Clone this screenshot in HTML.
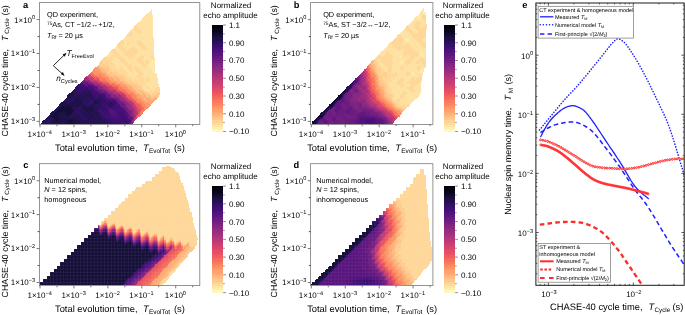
<!DOCTYPE html>
<html lang="en"><head><meta charset="utf-8"><title>Figure</title>
<style>html,body{margin:0;padding:0;background:#fff}svg{display:block;will-change:transform}svg,text,tspan{font-family:"Liberation Sans",Arial,Helvetica,sans-serif;text-rendering:geometricPrecision}</style></head>
<body>
<svg width="685" height="315" viewBox="0 0 685 315" >
<rect width="685" height="315" fill="#fff"/>
<g shape-rendering="crispEdges"><path fill="#fdebac" d="M146.31 54.66H147.50V55.84H146.31zM145.18 55.79H146.36V56.97H145.18zM151.97 60.32H154.28V61.50H151.97zM150.84 61.45H155.41V62.63H150.84zM115.78 62.58H116.96V63.76H115.78zM149.71 62.58H155.41V63.76H149.71zM116.91 63.71H118.09V64.89H116.91zM148.58 63.71H154.28V64.89H148.58zM147.44 64.84H153.15V66.02H147.44zM148.58 65.97H154.28V67.15H148.58zM149.71 67.10H155.41V68.28H149.71zM150.84 68.23H155.41V69.41H150.84zM151.97 69.36H155.41V70.55H151.97zM153.10 70.50H155.41V71.68H153.10zM154.23 71.63H155.41V72.81H154.23zM155.36 72.76H156.54V73.94H155.36z"/><path fill="#fde2a3" d="M150.84 9.42H152.02V10.60H150.84zM149.71 10.55H152.02V11.73H149.71zM148.58 11.68H152.02V12.86H148.58zM147.44 12.81H152.02V14.00H147.44zM146.31 13.95H152.02V15.13H146.31zM145.18 15.08H153.15V16.26H145.18zM144.05 16.21H153.15V17.39H144.05zM142.92 17.34H153.15V18.52H142.92zM141.79 18.47H153.15V19.65H141.79zM140.66 19.60H153.15V20.78H140.66zM139.53 20.73H153.15V21.91H139.53zM138.40 21.86H153.15V23.04H138.40zM137.27 22.99H153.15V24.17H137.27zM136.13 24.12H153.15V25.31H136.13zM136.13 25.26H153.15V26.44H136.13zM137.27 26.39H153.15V27.57H137.27zM138.40 27.52H153.15V28.70H138.40zM132.74 28.65H133.92V29.83H132.74zM139.53 28.65H153.15V29.83H139.53zM131.61 29.78H135.05V30.96H131.61zM140.66 29.78H153.15V30.96H140.66zM130.48 30.91H136.19V32.09H130.48zM141.79 30.91H153.15V32.09H141.79zM131.61 32.04H137.32V33.22H131.61zM140.66 32.04H153.15V33.22H140.66zM132.74 33.17H138.45V34.35H132.74zM139.53 33.17H153.15V34.35H139.53zM132.74 34.30H153.15V35.48H132.74zM127.09 35.43H129.40V36.61H127.09zM131.61 35.43H153.15V36.61H131.61zM125.96 36.56H153.15V37.75H125.96zM123.69 37.70H154.28V38.88H123.69zM122.56 38.83H154.28V40.01H122.56zM122.56 39.96H138.45V41.14H122.56zM139.53 39.96H154.28V41.14H139.53zM123.69 41.09H137.32V42.27H123.69zM140.66 41.09H154.28V42.27H140.66zM124.83 42.22H128.27V43.40H124.83zM130.48 42.22H136.19V43.40H130.48zM141.79 42.22H154.28V43.40H141.79zM123.69 43.35H127.14V44.53H123.69zM129.35 43.35H137.32V44.53H129.35zM142.92 43.35H154.28V44.53H142.92zM122.56 44.48H127.14V45.66H122.56zM128.22 44.48H138.45V45.66H128.22zM144.05 44.48H154.28V45.66H144.05zM115.78 45.61H116.96V46.79H115.78zM122.56 45.61H132.79V46.79H122.56zM133.87 45.61H139.58V46.79H133.87zM145.18 45.61H154.28V46.79H145.18zM114.65 46.74H118.09V47.92H114.65zM123.69 46.74H131.66V47.92H123.69zM135.00 46.74H140.71V47.92H135.00zM146.31 46.74H154.28V47.92H146.31zM113.52 47.88H119.22V49.06H113.52zM124.83 47.88H130.53V49.06H124.83zM136.13 47.88H141.84V49.06H136.13zM147.44 47.88H154.28V49.06H147.44zM114.65 49.01H120.35V50.19H114.65zM125.96 49.01H129.40V50.19H125.96zM137.27 49.01H142.97V50.19H137.27zM146.31 49.01H154.28V50.19H146.31zM115.78 50.14H121.48V51.32H115.78zM127.09 50.14H128.27V51.32H127.09zM138.40 50.14H144.10V51.32H138.40zM145.18 50.14H154.28V51.32H145.18zM110.12 51.27H111.30V52.45H110.12zM116.91 51.27H122.61V52.45H116.91zM138.40 51.27H154.28V52.45H138.40zM108.99 52.40H112.43V53.58H108.99zM118.04 52.40H123.74V53.58H118.04zM137.27 52.40H154.28V53.58H137.27zM107.86 53.53H113.56V54.71H107.86zM119.17 53.53H124.88V54.71H119.17zM136.13 53.53H154.28V54.71H136.13zM106.73 54.66H112.43V55.84H106.73zM120.30 54.66H126.01V55.84H120.30zM135.00 54.66H140.71V55.84H135.00zM142.92 54.66H146.36V55.84H142.92zM147.44 54.66H152.02V55.84H147.44zM106.73 55.79H111.30V56.97H106.73zM114.65 55.79H115.83V56.97H114.65zM121.43 55.79H127.14V56.97H121.43zM133.87 55.79H139.58V56.97H133.87zM144.05 55.79H145.23V56.97H144.05zM146.31 55.79H150.89V56.97H146.31zM107.86 56.92H110.17V58.10H107.86zM113.52 56.92H116.96V58.10H113.52zM122.56 56.92H128.27V58.10H122.56zM132.74 56.92H138.45V58.10H132.74zM144.05 56.92H150.89V58.10H144.05zM112.38 58.05H118.09V59.23H112.38zM123.69 58.05H129.40V59.23H123.69zM131.61 58.05H137.32V59.23H131.61zM142.92 58.05H152.02V59.23H142.92zM154.23 58.05H155.41V59.23H154.23zM113.52 59.19H119.22V60.37H113.52zM124.83 59.19H136.19V60.37H124.83zM141.79 59.19H155.41V60.37H141.79zM112.38 60.32H120.35V61.50H112.38zM125.96 60.32H137.32V61.50H125.96zM142.92 60.32H146.36V61.50H142.92zM148.58 60.32H152.02V61.50H148.58zM154.23 60.32H155.41V61.50H154.23zM112.38 61.45H121.48V62.63H112.38zM127.09 61.45H138.45V62.63H127.09zM144.05 61.45H145.23V62.63H144.05zM148.58 61.45H150.89V62.63H148.58zM113.52 62.58H115.83V63.76H113.52zM116.91 62.58H122.61V63.76H116.91zM128.22 62.58H131.66V63.76H128.22zM132.74 62.58H139.58V63.76H132.74zM147.44 62.58H149.76V63.76H147.44zM114.65 63.71H116.96V64.89H114.65zM118.04 63.71H123.74V64.89H118.04zM129.35 63.71H130.53V64.89H129.35zM131.61 63.71H140.71V64.89H131.61zM146.31 63.71H148.63V64.89H146.31zM154.23 63.71H155.41V64.89H154.23zM113.52 64.84H119.22V66.02H113.52zM120.30 64.84H124.88V66.02H120.30zM130.48 64.84H141.84V66.02H130.48zM153.10 64.84H155.41V66.02H153.10zM114.65 65.97H120.35V67.15H114.65zM121.43 65.97H126.01V67.15H121.43zM131.61 65.97H135.05V67.15H131.61zM137.27 65.97H142.97V67.15H137.27zM146.31 65.97H148.63V67.15H146.31zM154.23 65.97H155.41V67.15H154.23zM115.78 67.10H121.48V68.28H115.78zM122.56 67.10H127.14V68.28H122.56zM132.74 67.10H133.92V68.28H132.74zM138.40 67.10H144.10V68.28H138.40zM145.18 67.10H149.76V68.28H145.18zM116.91 68.23H121.48V69.41H116.91zM122.56 68.23H128.27V69.41H122.56zM132.74 68.23H133.92V69.41H132.74zM139.53 68.23H150.89V69.41H139.53zM118.04 69.36H119.22V70.55H118.04zM123.69 69.36H129.40V70.55H123.69zM132.74 69.36H135.05V70.55H132.74zM140.66 69.36H152.02V70.55H140.66zM125.96 70.50H130.53V71.68H125.96zM131.61 70.50H136.19V71.68H131.61zM141.79 70.50H153.15V71.68H141.79zM127.09 71.63H131.66V72.81H127.09zM132.74 71.63H137.32V72.81H132.74zM142.92 71.63H154.28V72.81H142.92zM128.22 72.76H132.79V73.94H128.22zM133.87 72.76H138.45V73.94H133.87zM144.05 72.76H155.41V73.94H144.05zM127.09 73.89H138.45V75.07H127.09zM144.05 73.89H156.54V75.07H144.05zM125.96 75.02H137.32V76.20H125.96zM142.92 75.02H156.54V76.20H142.92zM129.35 76.15H136.19V77.33H129.35zM141.79 76.15H156.54V77.33H141.79zM131.61 77.28H135.05V78.46H131.61zM136.13 77.28H137.32V78.46H136.13zM142.92 77.28H146.36V78.46H142.92zM148.58 77.28H156.54V78.46H148.58zM132.74 78.41H133.92V79.59H132.74zM137.27 78.41H138.45V79.59H137.27zM144.05 78.41H145.23V79.59H144.05zM149.71 78.41H157.67V79.59H149.71zM144.05 79.54H145.23V80.72H144.05zM149.71 79.54H157.67V80.72H149.71zM145.18 80.67H146.36V81.86H145.18zM148.58 80.67H157.67V81.86H148.58zM146.31 81.81H157.67V82.99H146.31zM141.79 82.94H142.97V84.12H141.79zM146.31 82.94H157.67V84.12H146.31zM142.92 84.07H144.10V85.25H142.92zM145.18 84.07H158.81V85.25H145.18zM144.05 85.20H145.23V86.38H144.05zM146.31 85.20H158.81V86.38H146.31zM142.92 86.33H146.36V87.51H142.92zM147.44 86.33H158.81V87.51H147.44zM142.92 87.46H147.50V88.64H142.92zM148.58 87.46H156.54V88.64H148.58zM157.62 87.46H158.81V88.64H157.62zM144.05 88.59H148.63V89.77H144.05zM149.71 88.59H152.02V89.77H149.71zM153.10 88.59H155.41V89.77H153.10zM145.18 89.72H149.76V90.90H145.18zM151.97 89.72H154.28V90.90H151.97zM148.58 90.85H149.76V92.03H148.58zM151.97 90.85H153.15V92.03H151.97z"/><path fill="#fed799" d="M135.00 25.26H136.19V26.44H135.00zM133.87 26.39H137.32V27.57H133.87zM132.74 27.52H138.45V28.70H132.74zM131.61 28.65H132.79V29.83H131.61zM133.87 28.65H139.58V29.83H133.87zM130.48 29.78H131.66V30.96H130.48zM135.00 29.78H140.71V30.96H135.00zM136.13 30.91H141.84V32.09H136.13zM129.35 32.04H131.66V33.22H129.35zM137.27 32.04H140.71V33.22H137.27zM128.22 33.17H132.79V34.35H128.22zM138.40 33.17H139.58V34.35H138.40zM127.09 34.30H132.79V35.48H127.09zM125.96 35.43H127.14V36.61H125.96zM129.35 35.43H131.66V36.61H129.35zM124.83 36.56H126.01V37.75H124.83zM121.43 39.96H122.61V41.14H121.43zM138.40 39.96H139.58V41.14H138.40zM120.30 41.09H123.74V42.27H120.30zM137.27 41.09H140.71V42.27H137.27zM119.17 42.22H124.88V43.40H119.17zM128.22 42.22H130.53V43.40H128.22zM136.13 42.22H141.84V43.40H136.13zM118.04 43.35H123.74V44.53H118.04zM127.09 43.35H129.40V44.53H127.09zM137.27 43.35H142.97V44.53H137.27zM116.91 44.48H122.61V45.66H116.91zM127.09 44.48H128.27V45.66H127.09zM138.40 44.48H144.10V45.66H138.40zM116.91 45.61H122.61V46.79H116.91zM132.74 45.61H133.92V46.79H132.74zM139.53 45.61H145.23V46.79H139.53zM118.04 46.74H123.74V47.92H118.04zM131.61 46.74H135.05V47.92H131.61zM140.66 46.74H146.36V47.92H140.66zM119.17 47.88H124.88V49.06H119.17zM130.48 47.88H136.19V49.06H130.48zM141.79 47.88H147.50V49.06H141.79zM112.38 49.01H114.70V50.19H112.38zM120.30 49.01H126.01V50.19H120.30zM129.35 49.01H137.32V50.19H129.35zM142.92 49.01H146.36V50.19H142.92zM111.25 50.14H115.83V51.32H111.25zM121.43 50.14H127.14V51.32H121.43zM128.22 50.14H138.45V51.32H128.22zM144.05 50.14H145.23V51.32H144.05zM111.25 51.27H116.96V52.45H111.25zM122.56 51.27H138.45V52.45H122.56zM112.38 52.40H118.09V53.58H112.38zM123.69 52.40H137.32V53.58H123.69zM113.52 53.53H119.22V54.71H113.52zM124.83 53.53H136.19V54.71H124.83zM112.38 54.66H120.35V55.84H112.38zM125.96 54.66H135.05V55.84H125.96zM140.66 54.66H142.97V55.84H140.66zM151.97 54.66H154.28V55.84H151.97zM105.60 55.79H106.78V56.97H105.60zM111.25 55.79H114.70V56.97H111.25zM115.78 55.79H121.48V56.97H115.78zM127.09 55.79H133.92V56.97H127.09zM139.53 55.79H144.10V56.97H139.53zM150.84 55.79H154.28V56.97H150.84zM104.47 56.92H107.91V58.10H104.47zM110.12 56.92H113.56V58.10H110.12zM116.91 56.92H122.61V58.10H116.91zM128.22 56.92H132.79V58.10H128.22zM138.40 56.92H144.10V58.10H138.40zM150.84 56.92H154.28V58.10H150.84zM103.34 58.05H112.43V59.23H103.34zM118.04 58.05H123.74V59.23H118.04zM129.35 58.05H131.66V59.23H129.35zM137.27 58.05H142.97V59.23H137.27zM151.97 58.05H154.28V59.23H151.97zM102.20 59.19H113.56V60.37H102.20zM119.17 59.19H124.88V60.37H119.17zM136.13 59.19H141.84V60.37H136.13zM101.07 60.32H112.43V61.50H101.07zM120.30 60.32H126.01V61.50H120.30zM137.27 60.32H142.97V61.50H137.27zM146.31 60.32H148.63V61.50H146.31zM102.20 61.45H105.65V62.63H102.20zM106.73 61.45H112.43V62.63H106.73zM121.43 61.45H127.14V62.63H121.43zM138.40 61.45H144.10V62.63H138.40zM145.18 61.45H148.63V62.63H145.18zM103.34 62.58H105.65V63.76H103.34zM107.86 62.58H113.56V63.76H107.86zM122.56 62.58H128.27V63.76H122.56zM131.61 62.58H132.79V63.76H131.61zM139.53 62.58H147.50V63.76H139.53zM99.94 63.71H101.12V64.89H99.94zM104.47 63.71H106.78V64.89H104.47zM108.99 63.71H114.70V64.89H108.99zM123.69 63.71H129.40V64.89H123.69zM130.48 63.71H131.66V64.89H130.48zM140.66 63.71H146.36V64.89H140.66zM101.07 64.84H102.25V66.02H101.07zM105.60 64.84H113.56V66.02H105.60zM119.17 64.84H120.35V66.02H119.17zM124.83 64.84H130.53V66.02H124.83zM141.79 64.84H147.50V66.02H141.79zM108.99 65.97H114.70V67.15H108.99zM120.30 65.97H121.48V67.15H120.30zM125.96 65.97H131.66V67.15H125.96zM135.00 65.97H137.32V67.15H135.00zM142.92 65.97H146.36V67.15H142.92zM110.12 67.10H115.83V68.28H110.12zM121.43 67.10H122.61V68.28H121.43zM127.09 67.10H132.79V68.28H127.09zM133.87 67.10H138.45V68.28H133.87zM144.05 67.10H145.23V68.28H144.05zM110.12 68.23H116.96V69.41H110.12zM121.43 68.23H122.61V69.41H121.43zM128.22 68.23H132.79V69.41H128.22zM133.87 68.23H139.58V69.41H133.87zM110.12 69.36H118.09V70.55H110.12zM119.17 69.36H123.74V70.55H119.17zM129.35 69.36H132.79V70.55H129.35zM135.00 69.36H140.71V70.55H135.00zM112.38 70.50H113.56V71.68H112.38zM115.78 70.50H126.01V71.68H115.78zM130.48 70.50H131.66V71.68H130.48zM136.13 70.50H141.84V71.68H136.13zM116.91 71.63H127.14V72.81H116.91zM131.61 71.63H132.79V72.81H131.61zM137.27 71.63H142.97V72.81H137.27zM118.04 72.76H128.27V73.94H118.04zM132.74 72.76H133.92V73.94H132.74zM138.40 72.76H144.10V73.94H138.40zM119.17 73.89H121.48V75.07H119.17zM122.56 73.89H127.14V75.07H122.56zM138.40 73.89H144.10V75.07H138.40zM123.69 75.02H126.01V76.20H123.69zM137.27 75.02H142.97V76.20H137.27zM124.83 76.15H129.40V77.33H124.83zM136.13 76.15H141.84V77.33H136.13zM125.96 77.28H131.66V78.46H125.96zM135.00 77.28H136.19V78.46H135.00zM137.27 77.28H142.97V78.46H137.27zM146.31 77.28H148.63V78.46H146.31zM127.09 78.41H132.79V79.59H127.09zM133.87 78.41H137.32V79.59H133.87zM138.40 78.41H144.10V79.59H138.40zM145.18 78.41H149.76V79.59H145.18zM128.22 79.54H129.40V80.72H128.22zM130.48 79.54H144.10V80.72H130.48zM145.18 79.54H149.76V80.72H145.18zM131.61 80.67H145.23V81.86H131.61zM146.31 80.67H148.63V81.86H146.31zM132.74 81.81H146.36V82.99H132.74zM133.87 82.94H135.05V84.12H133.87zM137.27 82.94H141.84V84.12H137.27zM142.92 82.94H146.36V84.12H142.92zM138.40 84.07H142.97V85.25H138.40zM144.05 84.07H145.23V85.25H144.05zM139.53 85.20H144.10V86.38H139.53zM145.18 85.20H146.36V86.38H145.18zM140.66 86.33H142.97V87.51H140.66zM146.31 86.33H147.50V87.51H146.31zM141.79 87.46H142.97V88.64H141.79zM147.44 87.46H148.63V88.64H147.44zM156.49 87.46H157.67V88.64H156.49zM158.75 87.46H159.94V88.64H158.75zM142.92 88.59H144.10V89.77H142.92zM148.58 88.59H149.76V89.77H148.58zM151.97 88.59H153.15V89.77H151.97zM155.36 88.59H159.94V89.77H155.36zM144.05 89.72H145.23V90.90H144.05zM149.71 89.72H152.02V90.90H149.71zM154.23 89.72H159.94V90.90H154.23zM145.18 90.85H148.63V92.03H145.18zM149.71 90.85H152.02V92.03H149.71zM153.10 90.85H159.94V92.03H153.10zM146.31 91.98H155.41V93.17H146.31zM157.62 91.98H159.94V93.17H157.62zM148.58 93.12H153.15V94.30H148.58zM149.71 94.25H152.02V95.43H149.71z"/><path fill="#fecd90" d="M99.94 61.45H102.25V62.63H99.94zM105.60 61.45H106.78V62.63H105.60zM98.81 62.58H103.39V63.76H98.81zM105.60 62.58H107.91V63.76H105.60zM98.81 63.71H99.99V64.89H98.81zM101.07 63.71H104.52V64.89H101.07zM106.73 63.71H109.04V64.89H106.73zM99.94 64.84H101.12V66.02H99.94zM102.20 64.84H105.65V66.02H102.20zM101.07 65.97H109.04V67.15H101.07zM102.20 67.10H105.65V68.28H102.20zM107.86 67.10H110.17V68.28H107.86zM103.34 68.23H105.65V69.41H103.34zM108.99 68.23H110.17V69.41H108.99zM108.99 69.36H110.17V70.55H108.99zM107.86 70.50H112.43V71.68H107.86zM113.52 70.50H115.83V71.68H113.52zM106.73 71.63H110.17V72.81H106.73zM112.38 71.63H116.96V72.81H112.38zM113.52 72.76H118.09V73.94H113.52zM114.65 73.89H119.22V75.07H114.65zM121.43 73.89H122.61V75.07H121.43zM115.78 75.02H123.74V76.20H115.78zM116.91 76.15H119.22V77.33H116.91zM121.43 76.15H124.88V77.33H121.43zM122.56 77.28H126.01V78.46H122.56zM123.69 78.41H127.14V79.59H123.69zM124.83 79.54H128.27V80.72H124.83zM129.35 79.54H130.53V80.72H129.35zM125.96 80.67H131.66V81.86H125.96zM128.22 81.81H132.79V82.99H128.22zM131.61 82.94H133.92V84.12H131.61zM135.00 82.94H137.32V84.12H135.00zM132.74 84.07H133.92V85.25H132.74zM135.00 84.07H138.45V85.25H135.00zM136.13 85.20H139.58V86.38H136.13zM137.27 86.33H140.71V87.51H137.27zM138.40 87.46H141.84V88.64H138.40zM139.53 88.59H142.97V89.77H139.53zM142.92 89.72H144.10V90.90H142.92zM144.05 90.85H145.23V92.03H144.05zM155.36 91.98H157.67V93.17H155.36zM147.44 93.12H148.63V94.30H147.44zM153.10 93.12H159.94V94.30H153.10zM148.58 94.25H149.76V95.43H148.58zM151.97 94.25H157.67V95.43H151.97zM150.84 95.38H154.28V96.56H150.84zM155.36 95.38H156.54V96.56H155.36zM151.97 96.51H153.15V97.69H151.97z"/><path fill="#fec488" d="M97.68 64.84H99.99V66.02H97.68zM97.68 65.97H101.12V67.15H97.68zM98.81 67.10H99.99V68.28H98.81zM105.60 67.10H107.91V68.28H105.60zM105.60 68.23H109.04V69.41H105.60zM104.47 69.36H109.04V70.55H104.47zM105.60 70.50H107.91V71.68H105.60zM110.12 71.63H112.43V72.81H110.12zM107.86 72.76H113.56V73.94H107.86zM108.99 73.89H114.70V75.07H108.99zM110.12 75.02H113.56V76.20H110.12zM114.65 75.02H115.83V76.20H114.65zM111.25 76.15H113.56V77.33H111.25zM119.17 76.15H121.48V77.33H119.17zM118.04 77.28H122.61V78.46H118.04zM119.17 78.41H123.74V79.59H119.17zM120.30 79.54H124.88V80.72H120.30zM123.69 80.67H126.01V81.86H123.69zM125.96 81.81H128.27V82.99H125.96zM128.22 82.94H131.66V84.12H128.22zM129.35 84.07H132.79V85.25H129.35zM133.87 84.07H135.05V85.25H133.87zM130.48 85.20H136.19V86.38H130.48zM131.61 86.33H137.32V87.51H131.61zM132.74 87.46H138.45V88.64H132.74zM133.87 88.59H139.58V89.77H133.87zM136.13 89.72H138.45V90.90H136.13zM139.53 89.72H142.97V90.90H139.53zM136.13 90.85H139.58V92.03H136.13zM141.79 90.85H144.10V92.03H141.79zM137.27 91.98H140.71V93.17H137.27zM142.92 91.98H146.36V93.17H142.92zM139.53 93.12H141.84V94.30H139.53zM144.05 93.12H147.50V94.30H144.05zM145.18 94.25H148.63V95.43H145.18zM157.62 94.25H159.94V95.43H157.62zM146.31 95.38H148.63V96.56H146.31zM149.71 95.38H150.89V96.56H149.71zM154.23 95.38H155.41V96.56H154.23zM156.49 95.38H158.81V96.56H156.49zM150.84 96.51H152.02V97.69H150.84zM153.10 96.51H155.41V97.69H153.10zM153.10 97.64H154.28V98.82H153.10z"/><path fill="#feb97f" d="M99.94 67.10H102.25V68.28H99.94zM99.94 68.23H103.39V69.41H99.94zM101.07 69.36H104.52V70.55H101.07zM103.34 70.50H105.65V71.68H103.34zM105.60 71.63H106.78V72.81H105.60zM105.60 72.76H107.91V73.94H105.60zM106.73 73.89H107.91V75.07H106.73zM113.52 75.02H114.70V76.20H113.52zM113.52 76.15H116.96V77.33H113.52zM112.38 77.28H118.09V78.46H112.38zM113.52 78.41H116.96V79.59H113.52zM114.65 79.54H115.83V80.72H114.65zM121.43 80.67H123.74V81.86H121.43zM122.56 81.81H126.01V82.99H122.56zM123.69 82.94H128.27V84.12H123.69zM125.96 84.07H129.40V85.25H125.96zM129.35 85.20H130.53V86.38H129.35zM135.00 89.72H136.19V90.90H135.00zM138.40 89.72H139.58V90.90H138.40zM139.53 90.85H141.84V92.03H139.53zM140.66 91.98H142.97V93.17H140.66zM138.40 93.12H139.58V94.30H138.40zM141.79 93.12H144.10V94.30H141.79zM139.53 94.25H142.97V95.43H139.53zM140.66 95.38H141.84V96.56H140.66zM142.92 95.38H144.10V96.56H142.92zM148.58 95.38H149.76V96.56H148.58zM144.05 96.51H145.23V97.69H144.05zM147.44 96.51H150.89V97.69H147.44zM156.49 96.51H157.67V97.69H156.49zM142.92 97.64H146.36V98.82H142.92zM149.71 97.64H153.15V98.82H149.71zM144.05 98.77H145.23V99.95H144.05zM151.97 98.77H153.15V99.95H151.97z"/><path fill="#feb078" d="M96.55 65.97H97.73V67.15H96.55zM97.68 67.10H98.86V68.28H97.68zM98.81 68.23H99.99V69.41H98.81zM99.94 69.36H101.12V70.55H99.94zM101.07 70.50H103.39V71.68H101.07zM102.20 71.63H105.65V72.81H102.20zM104.47 72.76H105.65V73.94H104.47zM104.47 73.89H106.78V75.07H104.47zM107.86 73.89H109.04V75.07H107.86zM105.60 75.02H110.17V76.20H105.60zM107.86 76.15H111.30V77.33H107.86zM108.99 77.28H111.30V78.46H108.99zM116.91 78.41H119.22V79.59H116.91zM115.78 79.54H120.35V80.72H115.78zM115.78 80.67H121.48V81.86H115.78zM116.91 81.81H120.35V82.99H116.91zM124.83 84.07H126.01V85.25H124.83zM125.96 85.20H129.40V86.38H125.96zM127.09 86.33H131.66V87.51H127.09zM128.22 87.46H129.40V88.64H128.22zM130.48 87.46H132.79V88.64H130.48zM130.48 88.59H133.92V89.77H130.48zM131.61 89.72H135.05V90.90H131.61zM135.00 90.85H136.19V92.03H135.00zM135.00 91.98H137.32V93.17H135.00zM136.13 93.12H137.32V94.30H136.13zM142.92 94.25H145.23V95.43H142.92zM141.79 95.38H142.97V96.56H141.79zM144.05 95.38H146.36V96.56H144.05zM141.79 96.51H144.10V97.69H141.79zM145.18 96.51H147.50V97.69H145.18zM155.36 96.51H156.54V97.69H155.36zM147.44 97.64H149.76V98.82H147.44zM154.23 97.64H156.54V98.82H154.23zM145.18 98.77H147.50V99.95H145.18zM149.71 98.77H152.02V99.95H149.71zM153.10 98.77H156.54V99.95H153.10zM145.18 99.90H148.63V101.08H145.18zM150.84 99.90H154.28V101.08H150.84zM146.31 101.03H149.76V102.21H146.31zM148.58 102.16H149.76V103.34H148.58z"/><path fill="#fea772" d="M96.55 67.10H97.73V68.28H96.55zM97.68 68.23H98.86V69.41H97.68zM103.34 72.76H104.52V73.94H103.34zM106.73 76.15H107.91V77.33H106.73zM107.86 77.28H109.04V78.46H107.86zM111.25 77.28H112.43V78.46H111.25zM108.99 78.41H113.56V79.59H108.99zM111.25 79.54H114.70V80.72H111.25zM113.52 80.67H114.70V81.86H113.52zM120.30 81.81H122.61V82.99H120.30zM118.04 82.94H119.22V84.12H118.04zM120.30 82.94H123.74V84.12H120.30zM122.56 84.07H124.88V85.25H122.56zM129.35 87.46H130.53V88.64H129.35zM129.35 88.59H130.53V89.77H129.35zM130.48 89.72H131.66V90.90H130.48zM131.61 90.85H135.05V92.03H131.61zM133.87 91.98H135.05V93.17H133.87zM137.27 93.12H138.45V94.30H137.27zM135.00 94.25H139.58V95.43H135.00zM138.40 95.38H140.71V96.56H138.40zM137.27 96.51H141.84V97.69H137.27zM141.79 97.64H142.97V98.82H141.79zM146.31 97.64H147.50V98.82H146.31zM141.79 98.77H144.10V99.95H141.79zM147.44 98.77H149.76V99.95H147.44zM142.92 99.90H145.23V101.08H142.92zM148.58 99.90H150.89V101.08H148.58zM154.23 99.90H155.41V101.08H154.23zM144.05 101.03H146.36V102.21H144.05zM149.71 101.03H154.28V102.21H149.71zM147.44 102.16H148.63V103.34H147.44zM149.71 102.16H150.89V103.34H149.71zM148.58 103.29H152.02V104.48H148.58zM149.71 104.43H150.89V105.61H149.71z"/><path fill="#fd9b6b" d="M95.42 67.10H96.60V68.28H95.42zM94.29 68.23H97.73V69.41H94.29zM95.42 69.36H99.99V70.55H95.42zM97.68 70.50H101.12V71.68H97.68zM98.81 71.63H102.25V72.81H98.81zM101.07 72.76H102.25V73.94H101.07zM103.34 75.02H105.65V76.20H103.34zM110.12 79.54H111.30V80.72H110.12zM111.25 80.67H113.56V81.86H111.25zM114.65 80.67H115.83V81.86H114.65zM112.38 81.81H113.56V82.99H112.38zM114.65 81.81H116.96V82.99H114.65zM116.91 82.94H118.09V84.12H116.91zM119.17 82.94H120.35V84.12H119.17zM119.17 84.07H122.61V85.25H119.17zM121.43 85.20H126.01V86.38H121.43zM121.43 86.33H122.61V87.51H121.43zM124.83 86.33H127.14V87.51H124.83zM127.09 87.46H128.27V88.64H127.09zM132.74 91.98H133.92V93.17H132.74zM133.87 93.12H136.19V94.30H133.87zM136.13 95.38H138.45V96.56H136.13zM138.40 97.64H141.84V98.82H138.40zM139.53 98.77H141.84V99.95H139.53zM140.66 99.90H142.97V101.08H140.66zM141.79 101.03H144.10V102.21H141.79zM144.05 102.16H147.50V103.34H144.05zM150.84 102.16H153.15V103.34H150.84zM144.05 103.29H148.63V104.48H144.05zM145.18 104.43H149.76V105.61H145.18zM146.31 105.56H149.76V106.74H146.31zM147.44 106.69H148.63V107.87H147.44z"/><path fill="#fd9266" d="M93.16 69.36H95.47V70.55H93.16zM92.03 70.50H97.73V71.68H92.03zM94.29 71.63H98.86V72.81H94.29zM94.29 72.76H101.12V73.94H94.29zM102.20 72.76H103.39V73.94H102.20zM96.55 73.89H98.86V75.07H96.55zM99.94 73.89H104.52V75.07H99.94zM101.07 75.02H103.39V76.20H101.07zM102.20 76.15H106.78V77.33H102.20zM103.34 77.28H107.91V78.46H103.34zM107.86 78.41H109.04V79.59H107.86zM113.52 81.81H114.70V82.99H113.52zM114.65 82.94H116.96V84.12H114.65zM115.78 84.07H118.09V85.25H115.78zM120.30 85.20H121.48V86.38H120.30zM122.56 86.33H124.88V87.51H122.56zM122.56 87.46H127.14V88.64H122.56zM125.96 88.59H129.40V89.77H125.96zM128.22 89.72H130.53V90.90H128.22zM128.22 90.85H131.66V92.03H128.22zM129.35 91.98H131.66V93.17H129.35zM136.13 97.64H137.32V98.82H136.13zM142.92 102.16H144.10V103.34H142.92zM145.18 106.69H147.50V107.87H145.18zM145.18 107.82H147.50V109.00H145.18z"/><path fill="#fc8961" d="M92.03 71.63H94.34V72.81H92.03zM93.16 72.76H94.34V73.94H93.16zM94.29 73.89H96.60V75.07H94.29zM98.81 73.89H99.99V75.07H98.81zM95.42 75.02H99.99V76.20H95.42zM104.47 78.41H107.91V79.59H104.47zM105.60 79.54H110.17V80.72H105.60zM106.73 80.67H107.91V81.86H106.73zM108.99 80.67H111.30V81.86H108.99zM108.99 81.81H112.43V82.99H108.99zM111.25 82.94H112.43V84.12H111.25zM113.52 82.94H114.70V84.12H113.52zM114.65 84.07H115.83V85.25H114.65zM120.30 86.33H121.48V87.51H120.30zM119.17 88.59H120.35V89.77H119.17zM123.69 88.59H126.01V89.77H123.69zM124.83 89.72H128.27V90.90H124.83zM127.09 90.85H128.27V92.03H127.09zM127.09 91.98H129.40V93.17H127.09zM131.61 91.98H132.79V93.17H131.61zM128.22 93.12H130.53V94.30H128.22zM131.61 93.12H133.92V94.30H131.61zM130.48 94.25H131.66V95.43H130.48zM132.74 94.25H135.05V95.43H132.74zM131.61 95.38H132.79V96.56H131.61zM133.87 95.38H136.19V96.56H133.87zM132.74 96.51H137.32V97.69H132.74zM135.00 97.64H136.19V98.82H135.00zM137.27 97.64H138.45V98.82H137.27zM136.13 98.77H139.58V99.95H136.13zM137.27 99.90H140.71V101.08H137.27zM138.40 101.03H141.84V102.21H138.40zM139.53 102.16H142.97V103.34H139.53zM140.66 103.29H144.10V104.48H140.66zM141.79 104.43H145.23V105.61H141.79zM142.92 105.56H146.36V106.74H142.92zM144.05 106.69H145.23V107.87H144.05zM144.05 107.82H145.23V109.00H144.05zM144.05 108.95H146.36V110.13H144.05zM141.79 111.21H142.97V112.39H141.79z"/><path fill="#fa7d5e" d="M99.94 75.02H101.12V76.20H99.94zM96.55 76.15H102.25V77.33H96.55zM97.68 77.28H103.39V78.46H97.68zM99.94 78.41H103.39V79.59H99.94zM107.86 80.67H109.04V81.86H107.86zM107.86 81.81H109.04V82.99H107.86zM108.99 82.94H111.30V84.12H108.99zM110.12 84.07H111.30V85.25H110.12zM118.04 84.07H119.22V85.25H118.04zM115.78 85.20H120.35V86.38H115.78zM118.04 86.33H120.35V87.51H118.04zM119.17 87.46H122.61V88.64H119.17zM122.56 88.59H123.74V89.77H122.56zM125.96 90.85H127.14V92.03H125.96zM130.48 93.12H131.66V94.30H130.48zM129.35 94.25H130.53V95.43H129.35zM131.61 94.25H132.79V95.43H131.61zM130.48 95.38H131.66V96.56H130.48zM132.74 95.38H133.92V96.56H132.74zM131.61 96.51H132.79V97.69H131.61zM132.74 97.64H135.05V98.82H132.74zM133.87 98.77H136.19V99.95H133.87zM135.00 99.90H137.32V101.08H135.00zM136.13 101.03H138.45V102.21H136.13zM137.27 102.16H139.58V103.34H137.27zM142.92 108.95H144.10V110.13H142.92zM141.79 110.08H145.23V111.26H141.79zM140.66 111.21H141.84V112.39H140.66zM142.92 111.21H144.10V112.39H142.92zM139.53 112.34H142.97V113.52H139.53zM139.53 113.47H141.84V114.65H139.53z"/><path fill="#f8745c" d="M90.90 71.63H92.08V72.81H90.90zM90.90 72.76H93.21V73.94H90.90zM92.03 73.89H94.34V75.07H92.03zM98.81 78.41H99.99V79.59H98.81zM103.34 78.41H104.52V79.59H103.34zM99.94 79.54H105.65V80.72H99.94zM105.60 80.67H106.78V81.86H105.60zM112.38 82.94H113.56V84.12H112.38zM113.52 84.07H114.70V85.25H113.52zM116.91 86.33H118.09V87.51H116.91zM118.04 87.46H119.22V88.64H118.04zM120.30 88.59H122.61V89.77H120.30zM120.30 89.72H124.88V90.90H120.30zM123.69 90.85H126.01V92.03H123.69zM138.40 103.29H140.71V104.48H138.40zM139.53 104.43H141.84V105.61H139.53zM140.66 105.56H142.97V106.74H140.66zM141.79 106.69H144.10V107.87H141.79zM142.92 107.82H144.10V109.00H142.92zM140.66 110.08H141.84V111.26H140.66z"/><path fill="#f56b5c" d="M89.76 72.76H90.95V73.94H89.76zM89.76 73.89H92.08V75.07H89.76zM90.90 75.02H95.47V76.20H90.90zM94.29 76.15H96.60V77.33H94.29zM102.20 80.67H105.65V81.86H102.20zM104.47 81.81H106.78V82.99H104.47zM111.25 84.07H113.56V85.25H111.25zM111.25 85.20H115.83V86.38H111.25zM113.52 86.33H115.83V87.51H113.52zM121.43 90.85H123.74V92.03H121.43zM122.56 91.98H127.14V93.17H122.56zM125.96 93.12H128.27V94.30H125.96zM127.09 94.25H129.40V95.43H127.09zM131.61 97.64H132.79V98.82H131.61zM139.53 114.60H140.71V115.79H139.53z"/><path fill="#f1605d" d="M92.03 76.15H94.34V77.33H92.03zM93.16 77.28H97.73V78.46H93.16zM101.07 80.67H102.25V81.86H101.07zM102.20 81.81H104.52V82.99H102.20zM104.47 82.94H105.65V84.12H104.47zM112.38 86.33H113.56V87.51H112.38zM113.52 87.46H114.70V88.64H113.52zM118.04 88.59H119.22V89.77H118.04zM124.83 93.12H126.01V94.30H124.83zM124.83 94.25H127.14V95.43H124.83zM125.96 95.38H130.53V96.56H125.96zM129.35 96.51H131.66V97.69H129.35zM130.48 97.64H131.66V98.82H130.48zM132.74 98.77H133.92V99.95H132.74zM133.87 99.90H135.05V101.08H133.87zM135.00 102.16H137.32V103.34H135.00zM136.13 103.29H138.45V104.48H136.13zM138.40 105.56H140.71V106.74H138.40zM139.53 106.69H141.84V107.87H139.53zM139.53 107.82H142.97V109.00H139.53zM139.53 108.95H142.97V110.13H139.53zM138.40 113.47H139.58V114.65H138.40zM138.40 114.60H139.58V115.79H138.40zM137.27 115.74H139.58V116.92H137.27zM137.27 116.87H138.45V118.05H137.27z"/><path fill="#ec5860" d="M95.42 78.41H96.60V79.59H95.42zM106.73 81.81H107.91V82.99H106.73zM103.34 82.94H104.52V84.12H103.34zM106.73 82.94H109.04V84.12H106.73zM108.99 84.07H110.17V85.25H108.99zM115.78 86.33H116.96V87.51H115.78zM115.78 87.46H118.09V88.64H115.78zM116.91 89.72H119.22V90.90H116.91zM123.69 93.12H124.88V94.30H123.69zM127.09 96.51H129.40V97.69H127.09zM128.22 97.64H130.53V98.82H128.22zM129.35 98.77H132.79V99.95H129.35zM131.61 99.90H133.92V101.08H131.61zM132.74 101.03H136.19V102.21H132.74zM135.00 103.29H136.19V104.48H135.00zM136.13 104.43H139.58V105.61H136.13zM137.27 106.69H139.58V107.87H137.27zM138.40 107.82H139.58V109.00H138.40zM139.53 110.08H140.71V111.26H139.53zM139.53 111.21H140.71V112.39H139.53zM137.27 114.60H138.45V115.79H137.27zM136.13 115.74H137.32V116.92H136.13z"/><path fill="#e75263" d="M94.29 78.41H95.47V79.59H94.29zM96.55 78.41H98.86V79.59H96.55zM98.81 79.54H99.99V80.72H98.81zM99.94 80.67H101.12V81.86H99.94zM105.60 82.94H106.78V84.12H105.60zM106.73 84.07H109.04V85.25H106.73zM108.99 85.20H110.17V86.38H108.99zM114.65 87.46H115.83V88.64H114.65zM115.78 88.59H118.09V89.77H115.78zM119.17 89.72H120.35V90.90H119.17zM116.91 90.85H118.09V92.03H116.91zM130.48 99.90H131.66V101.08H130.48zM131.61 101.03H132.79V102.21H131.61zM133.87 102.16H135.05V103.34H133.87zM133.87 103.29H135.05V104.48H133.87zM135.00 104.43H136.19V105.61H135.00zM136.13 105.56H138.45V106.74H136.13zM138.40 111.21H139.58V112.39H138.40zM138.40 112.34H139.58V113.52H138.40z"/><path fill="#df4a68" d="M88.63 73.89H89.81V75.07H88.63zM89.76 75.02H90.95V76.20H89.76zM96.55 79.54H98.86V80.72H96.55zM97.68 80.67H99.99V81.86H97.68zM104.47 84.07H106.78V85.25H104.47zM105.60 85.20H109.04V86.38H105.60zM107.86 86.33H109.04V87.51H107.86zM114.65 88.59H115.83V89.77H114.65zM115.78 89.72H116.96V90.90H115.78zM118.04 90.85H121.48V92.03H118.04zM132.74 102.16H133.92V103.34H132.74zM138.40 108.95H139.58V110.13H138.40z"/><path fill="#d8456c" d="M87.50 75.02H89.81V76.20H87.50zM88.63 76.15H92.08V77.33H88.63zM95.42 79.54H96.60V80.72H95.42zM96.55 80.67H97.73V81.86H96.55zM97.68 81.81H99.99V82.99H97.68zM110.12 85.20H111.30V86.38H110.12zM106.73 86.33H107.91V87.51H106.73zM110.12 86.33H112.43V87.51H110.12zM112.38 87.46H113.56V88.64H112.38zM118.04 91.98H120.35V93.17H118.04zM121.43 91.98H122.61V93.17H121.43zM122.56 93.12H123.74V94.30H122.56zM137.27 107.82H138.45V109.00H137.27zM137.27 108.95H138.45V110.13H137.27zM137.27 110.08H139.58V111.26H137.27zM136.13 116.87H137.32V118.05H136.13zM136.13 118.00H137.32V119.18H136.13zM135.00 119.13H136.19V120.31H135.00z"/><path fill="#d0416f" d="M86.37 76.15H88.68V77.33H86.37zM87.50 77.28H93.21V78.46H87.50zM92.03 78.41H94.34V79.59H92.03zM99.94 81.81H102.25V82.99H99.94zM108.99 86.33H110.17V87.51H108.99zM110.12 87.46H112.43V88.64H110.12zM112.38 88.59H113.56V89.77H112.38zM120.30 91.98H121.48V93.17H120.30zM121.43 93.12H122.61V94.30H121.43zM136.13 107.82H137.32V109.00H136.13zM135.00 108.95H137.32V110.13H135.00zM136.13 110.08H137.32V111.26H136.13zM137.27 111.21H138.45V112.39H137.27zM135.00 116.87H136.19V118.05H135.00zM135.00 118.00H136.19V119.18H135.00z"/><path fill="#c73d73" d="M88.63 78.41H92.08V79.59H88.63zM90.90 79.54H95.47V80.72H90.90zM99.94 82.94H103.39V84.12H99.94zM102.20 84.07H104.52V85.25H102.20zM107.86 87.46H110.17V88.64H107.86zM110.12 88.59H112.43V89.77H110.12zM119.17 93.12H121.48V94.30H119.17zM120.30 94.25H122.61V95.43H120.30zM123.69 94.25H124.88V95.43H123.69zM124.83 95.38H126.01V96.56H124.83zM125.96 96.51H127.14V97.69H125.96zM127.09 97.64H128.27V98.82H127.09zM128.22 98.77H129.40V99.95H128.22zM133.87 104.43H135.05V105.61H133.87zM135.00 105.56H136.19V106.74H135.00zM135.00 106.69H137.32V107.87H135.00zM133.87 118.00H135.05V119.18H133.87z"/><path fill="#bf3a77" d="M89.76 79.54H90.95V80.72H89.76zM90.90 80.67H92.08V81.86H90.90zM93.16 80.67H94.34V81.86H93.16zM98.81 82.94H99.99V84.12H98.81zM101.07 84.07H102.25V85.25H101.07zM101.07 85.20H103.39V86.38H101.07zM108.99 88.59H110.17V89.77H108.99zM113.52 88.59H114.70V89.77H113.52zM110.12 89.72H112.43V90.90H110.12zM115.78 90.85H116.96V92.03H115.78zM115.78 91.98H116.96V93.17H115.78zM122.56 94.25H123.74V95.43H122.56zM122.56 95.38H124.88V96.56H122.56zM124.83 96.51H126.01V97.69H124.83zM125.96 97.64H127.14V98.82H125.96zM127.09 98.77H128.27V99.95H127.09zM128.22 99.90H130.53V101.08H128.22zM130.48 101.03H131.66V102.21H130.48zM131.61 102.16H132.79V103.34H131.61zM132.74 103.29H133.92V104.48H132.74zM132.74 104.43H133.92V105.61H132.74zM132.74 105.56H135.05V106.74H132.74zM133.87 106.69H135.05V107.87H133.87zM133.87 107.82H136.19V109.00H133.87zM137.27 112.34H138.45V113.52H137.27zM137.27 113.47H138.45V114.65H137.27zM136.13 114.60H137.32V115.79H136.13z"/><path fill="#b73779" d="M92.03 80.67H93.21V81.86H92.03zM95.42 80.67H96.60V81.86H95.42zM99.94 84.07H101.12V85.25H99.94zM103.34 85.20H105.65V86.38H103.34zM105.60 86.33H106.78V87.51H105.60zM112.38 89.72H115.83V90.90H112.38zM114.65 90.85H115.83V92.03H114.65zM114.65 91.98H115.83V93.17H114.65zM114.65 93.12H115.83V94.30H114.65zM122.56 96.51H124.88V97.69H122.56zM123.69 97.64H126.01V98.82H123.69zM124.83 98.77H127.14V99.95H124.83zM125.96 99.90H128.27V101.08H125.96zM127.09 101.03H130.53V102.21H127.09zM129.35 102.16H131.66V103.34H129.35zM130.48 103.29H132.79V104.48H130.48zM131.61 104.43H132.79V105.61H131.61zM131.61 105.56H132.79V106.74H131.61zM132.74 106.69H133.92V107.87H132.74zM135.00 110.08H136.19V111.26H135.00zM136.13 111.21H137.32V112.39H136.13zM136.13 112.34H137.32V113.52H136.13zM136.13 113.47H137.32V114.65H136.13zM135.00 114.60H136.19V115.79H135.00zM133.87 119.13H135.05V120.31H133.87z"/><path fill="#ad347c" d="M86.37 77.28H87.55V78.46H86.37zM87.50 78.41H88.68V79.59H87.50zM94.29 80.67H95.47V81.86H94.29zM92.03 81.81H93.21V82.99H92.03zM95.42 81.81H97.73V82.99H95.42zM97.68 82.94H98.86V84.12H97.68zM102.20 86.33H105.65V87.51H102.20zM104.47 87.46H107.91V88.64H104.47zM111.25 90.85H114.70V92.03H111.25zM113.52 91.98H114.70V93.17H113.52zM116.91 91.98H118.09V93.17H116.91zM113.52 93.12H114.70V94.30H113.52zM118.04 93.12H119.22V94.30H118.04zM121.43 95.38H122.61V96.56H121.43zM128.22 102.16H129.40V103.34H128.22zM129.35 103.29H130.53V104.48H129.35zM130.48 104.43H131.66V105.61H130.48zM133.87 110.08H135.05V111.26H133.87zM133.87 111.21H136.19V112.39H133.87zM133.87 112.34H136.19V113.52H133.87zM133.87 113.47H136.19V114.65H133.87zM133.87 120.26H135.05V121.44H133.87z"/><path fill="#a5317e" d="M93.16 81.81H95.47V82.99H93.16zM94.29 82.94H95.47V84.12H94.29zM96.55 82.94H97.73V84.12H96.55zM103.34 87.46H104.52V88.64H103.34zM104.47 88.59H109.04V89.77H104.47zM107.86 89.72H110.17V90.90H107.86zM110.12 90.85H111.30V92.03H110.12zM112.38 91.98H113.56V93.17H112.38zM115.78 93.12H118.09V94.30H115.78zM116.91 94.25H118.09V95.43H116.91zM131.61 106.69H132.79V107.87H131.61zM131.61 107.82H132.79V109.00H131.61zM133.87 108.95H135.05V110.13H133.87zM132.74 111.21H133.92V112.39H132.74zM132.74 112.34H133.92V113.52H132.74zM132.74 120.26H133.92V121.44H132.74zM132.74 121.39H133.92V122.57H132.74z"/><path fill="#9c2e7f" d="M85.24 77.28H86.42V78.46H85.24zM86.37 78.41H87.55V79.59H86.37zM88.63 79.54H89.81V80.72H88.63zM93.16 82.94H94.34V84.12H93.16zM95.42 82.94H96.60V84.12H95.42zM95.42 84.07H97.73V85.25H95.42zM98.81 84.07H99.99V85.25H98.81zM105.60 89.72H107.91V90.90H105.60zM106.73 90.85H110.17V92.03H106.73zM108.99 91.98H110.17V93.17H108.99zM114.65 94.25H116.96V95.43H114.65zM118.04 94.25H120.35V95.43H118.04zM115.78 95.38H116.96V96.56H115.78zM120.30 95.38H121.48V96.56H120.30zM121.43 96.51H122.61V97.69H121.43zM121.43 97.64H123.74V98.82H121.43zM122.56 98.77H124.88V99.95H122.56zM129.35 104.43H130.53V105.61H129.35zM130.48 105.56H131.66V106.74H130.48zM130.48 106.69H131.66V107.87H130.48zM129.35 107.82H131.66V109.00H129.35zM132.74 107.82H133.92V109.00H132.74zM130.48 108.95H131.66V110.13H130.48zM132.74 108.95H133.92V110.13H132.74zM132.74 110.08H133.92V111.26H132.74zM135.00 115.74H136.19V116.92H135.00zM132.74 119.13H133.92V120.31H132.74z"/><path fill="#932b80" d="M84.11 78.41H86.42V79.59H84.11zM85.24 79.54H87.55V80.72H85.24zM89.76 80.67H90.95V81.86H89.76zM94.29 84.07H95.47V85.25H94.29zM97.68 84.07H98.86V85.25H97.68zM95.42 85.20H96.60V86.38H95.42zM98.81 85.20H101.12V86.38H98.81zM101.07 86.33H102.25V87.51H101.07zM107.86 91.98H109.04V93.17H107.86zM110.12 91.98H112.43V93.17H110.12zM112.38 93.12H113.56V94.30H112.38zM112.38 94.25H114.70V95.43H112.38zM116.91 95.38H120.35V96.56H116.91zM119.17 96.51H120.35V97.69H119.17zM120.30 97.64H121.48V98.82H120.30zM120.30 98.77H122.61V99.95H120.30zM121.43 99.90H126.01V101.08H121.43zM124.83 101.03H127.14V102.21H124.83zM125.96 102.16H128.27V103.34H125.96zM127.09 103.29H129.40V104.48H127.09zM127.09 104.43H129.40V105.61H127.09zM128.22 105.56H130.53V106.74H128.22zM128.22 106.69H130.53V107.87H128.22zM129.35 108.95H130.53V110.13H129.35zM131.61 108.95H132.79V110.13H131.61zM131.61 110.08H132.79V111.26H131.61zM131.61 111.21H132.79V112.39H131.61zM131.61 112.34H132.79V113.52H131.61zM131.61 113.47H132.79V114.65H131.61zM133.87 114.60H135.05V115.79H133.87zM133.87 115.74H135.05V116.92H133.87zM133.87 116.87H135.05V118.05H133.87zM131.61 120.26H132.79V121.44H131.61zM131.61 121.39H132.79V122.57H131.61z"/><path fill="#8b2981" d="M87.50 79.54H88.68V80.72H87.50zM88.63 80.67H89.81V81.86H88.63zM90.90 81.81H92.08V82.99H90.90zM96.55 85.20H98.86V86.38H96.55zM97.68 86.33H101.12V87.51H97.68zM99.94 87.46H101.12V88.64H99.94zM102.20 87.46H103.39V88.64H102.20zM108.99 93.12H112.43V94.30H108.99zM111.25 94.25H112.43V95.43H111.25zM111.25 95.38H113.56V96.56H111.25zM116.91 96.51H119.22V97.69H116.91zM120.30 96.51H121.48V97.69H120.30zM118.04 97.64H119.22V98.82H118.04zM119.17 98.77H120.35V99.95H119.17zM120.30 99.90H121.48V101.08H120.30zM121.43 101.03H124.88V102.21H121.43zM123.69 102.16H126.01V103.34H123.69zM124.83 103.29H127.14V104.48H124.83zM125.96 104.43H127.14V105.61H125.96zM125.96 105.56H128.27V106.74H125.96zM127.09 106.69H128.27V107.87H127.09zM128.22 107.82H129.40V109.00H128.22zM130.48 110.08H131.66V111.26H130.48zM130.48 113.47H131.66V114.65H130.48zM132.74 113.47H133.92V114.65H132.74zM130.48 114.60H133.92V115.79H130.48zM132.74 115.74H133.92V116.92H132.74zM132.74 116.87H133.92V118.05H132.74z"/><path fill="#832681" d="M86.37 80.67H88.68V81.86H86.37zM88.63 81.81H90.95V82.99H88.63zM96.55 86.33H97.73V87.51H96.55zM97.68 87.46H99.99V88.64H97.68zM101.07 87.46H102.25V88.64H101.07zM98.81 88.59H99.99V89.77H98.81zM103.34 88.59H104.52V89.77H103.34zM104.47 89.72H105.65V90.90H104.47zM110.12 94.25H111.30V95.43H110.12zM114.65 95.38H115.83V96.56H114.65zM119.17 97.64H120.35V98.82H119.17zM122.56 102.16H123.74V103.34H122.56zM123.69 103.29H124.88V104.48H123.69zM124.83 104.43H126.01V105.61H124.83zM131.61 115.74H132.79V116.92H131.61z"/><path fill="#792282" d="M87.50 81.81H88.68V82.99H87.50zM88.63 82.94H92.08V84.12H88.63zM99.94 88.59H103.39V89.77H99.94zM102.20 89.72H104.52V90.90H102.20zM105.60 90.85H106.78V92.03H105.60zM106.73 91.98H107.91V93.17H106.73zM107.86 93.12H109.04V94.30H107.86zM113.52 95.38H114.70V96.56H113.52zM112.38 96.51H115.83V97.69H112.38zM128.22 108.95H129.40V110.13H128.22zM127.09 110.08H130.53V111.26H127.09zM128.22 111.21H131.66V112.39H128.22zM129.35 112.34H131.66V113.52H129.35zM129.35 113.47H130.53V114.65H129.35z"/><path fill="#721f81" d="M82.98 79.54H85.29V80.72H82.98zM81.85 80.67H84.16V81.86H81.85zM85.24 80.67H86.42V81.86H85.24zM92.03 82.94H93.21V84.12H92.03zM89.76 84.07H90.95V85.25H89.76zM93.16 84.07H94.34V85.25H93.16zM99.94 89.72H102.25V90.90H99.94zM101.07 90.85H104.52V92.03H101.07zM115.78 96.51H116.96V97.69H115.78zM113.52 97.64H114.70V98.82H113.52zM116.91 97.64H118.09V98.82H116.91zM118.04 99.90H120.35V101.08H118.04zM119.17 101.03H121.48V102.21H119.17zM120.30 102.16H121.48V103.34H120.30zM124.83 105.56H126.01V106.74H124.83zM124.83 106.69H127.14V107.87H124.83zM125.96 107.82H128.27V109.00H125.96zM125.96 108.95H128.27V110.13H125.96zM125.96 110.08H127.14V111.26H125.96zM127.09 111.21H128.27V112.39H127.09zM128.22 112.34H129.40V113.52H128.22zM129.35 114.60H130.53V115.79H129.35zM132.74 118.00H133.92V119.18H132.74zM130.48 122.52H132.79V123.70H130.48zM130.48 123.65H131.66V124.25H130.48z"/><path fill="#6a1c81" d="M84.11 80.67H85.29V81.86H84.11zM81.85 81.81H85.29V82.99H81.85zM82.98 82.94H84.16V84.12H82.98zM92.03 84.07H93.21V85.25H92.03zM94.29 85.20H95.47V86.38H94.29zM104.47 90.85H105.65V92.03H104.47zM102.20 91.98H103.39V93.17H102.20zM105.60 91.98H106.78V93.17H105.60zM106.73 94.25H107.91V95.43H106.73zM108.99 94.25H110.17V95.43H108.99zM105.60 95.38H106.78V96.56H105.60zM110.12 95.38H111.30V96.56H110.12zM111.25 96.51H112.43V97.69H111.25zM114.65 97.64H116.96V98.82H114.65zM114.65 98.77H118.09V99.95H114.65zM115.78 99.90H116.96V101.08H115.78zM116.91 101.03H119.22V102.21H116.91zM118.04 102.16H120.35V103.34H118.04zM121.43 102.16H122.61V103.34H121.43zM119.17 103.29H123.74V104.48H119.17zM120.30 104.43H124.88V105.61H120.30zM121.43 105.56H124.88V106.74H121.43zM122.56 106.69H124.88V107.87H122.56zM123.69 107.82H126.01V109.00H123.69zM124.83 108.95H126.01V110.13H124.83zM130.48 115.74H131.66V116.92H130.48zM131.61 116.87H132.79V118.05H131.61zM131.61 119.13H132.79V120.31H131.61zM130.48 121.39H131.66V122.57H130.48zM129.35 122.52H130.53V123.70H129.35zM129.35 123.65H130.53V124.25H129.35z"/><path fill="#601880" d="M85.24 81.81H87.55V82.99H85.24zM84.11 82.94H86.42V84.12H84.11zM87.50 82.94H88.68V84.12H87.50zM86.37 84.07H87.55V85.25H86.37zM90.90 84.07H92.08V85.25H90.90zM90.90 85.20H94.34V86.38H90.90zM94.29 86.33H96.60V87.51H94.29zM96.55 87.46H97.73V88.64H96.55zM95.42 88.59H98.86V89.77H95.42zM96.55 89.72H98.86V90.90H96.55zM103.34 91.98H105.65V93.17H103.34zM103.34 93.12H107.91V94.30H103.34zM104.47 94.25H106.78V95.43H104.47zM107.86 94.25H109.04V95.43H107.86zM106.73 95.38H110.17V96.56H106.73zM107.86 96.51H111.30V97.69H107.86zM112.38 97.64H113.56V98.82H112.38zM118.04 98.77H119.22V99.95H118.04zM116.91 99.90H118.09V101.08H116.91zM125.96 111.21H127.14V112.39H125.96zM127.09 112.34H128.27V113.52H127.09zM128.22 113.47H129.40V114.65H128.22zM128.22 115.74H130.53V116.92H128.22zM129.35 116.87H131.66V118.05H129.35zM130.48 118.00H132.79V119.18H130.48zM130.48 119.13H131.66V120.31H130.48zM130.48 120.26H131.66V121.44H130.48z"/><path fill="#59157e" d="M86.37 82.94H87.55V84.12H86.37zM84.11 84.07H86.42V85.25H84.11zM87.50 84.07H89.81V85.25H87.50zM85.24 85.20H88.68V86.38H85.24zM92.03 86.33H94.34V87.51H92.03zM93.16 87.46H96.60V88.64H93.16zM95.42 89.72H96.60V90.90H95.42zM98.81 89.72H99.99V90.90H98.81zM96.55 90.85H101.12V92.03H96.55zM99.94 91.98H102.25V93.17H99.94zM106.73 96.51H107.91V97.69H106.73zM107.86 97.64H111.30V98.82H107.86zM116.91 102.16H118.09V103.34H116.91zM118.04 103.29H119.22V104.48H118.04zM120.30 105.56H121.48V106.74H120.30zM121.43 106.69H122.61V107.87H121.43zM122.56 107.82H123.74V109.00H122.56zM123.69 108.95H124.88V110.13H123.69zM124.83 110.08H126.01V111.26H124.83zM111.25 111.21H112.43V112.39H111.25zM110.12 112.34H111.30V113.52H110.12zM127.09 116.87H129.40V118.05H127.09zM128.22 118.00H130.53V119.18H128.22zM129.35 119.13H130.53V120.31H129.35z"/><path fill="#51127c" d="M80.72 81.81H81.90V82.99H80.72zM79.59 82.94H80.77V84.12H79.59zM81.85 82.94H83.03V84.12H81.85zM88.63 85.20H89.81V86.38H88.63zM86.37 86.33H88.68V87.51H86.37zM94.29 88.59H95.47V89.77H94.29zM97.68 91.98H99.99V93.17H97.68zM98.81 93.12H102.25V94.30H98.81zM99.94 94.25H101.12V95.43H99.94zM111.25 97.64H112.43V98.82H111.25zM108.99 98.77H110.17V99.95H108.99zM111.25 98.77H114.70V99.95H111.25zM114.65 99.90H115.83V101.08H114.65zM119.17 104.43H120.35V105.61H119.17zM110.12 107.82H111.30V109.00H110.12zM108.99 108.95H112.43V110.13H108.99zM107.86 110.08H113.56V111.26H107.86zM108.99 111.21H111.30V112.39H108.99zM112.38 111.21H114.70V112.39H112.38zM124.83 111.21H126.01V112.39H124.83zM111.25 112.34H115.83V113.52H111.25zM124.83 112.34H127.14V113.52H124.83zM111.25 113.47H116.96V114.65H111.25zM123.69 113.47H128.27V114.65H123.69zM112.38 114.60H118.09V115.79H112.38zM127.09 114.60H129.40V115.79H127.09z"/><path fill="#471078" d="M80.72 82.94H81.90V84.12H80.72zM79.59 84.07H84.16V85.25H79.59zM80.72 85.20H83.03V86.38H80.72zM89.76 85.20H90.95V86.38H89.76zM88.63 86.33H92.08V87.51H88.63zM88.63 87.46H90.95V88.64H88.63zM94.29 89.72H95.47V90.90H94.29zM93.16 90.85H94.34V92.03H93.16zM94.29 91.98H95.47V93.17H94.29zM102.20 93.12H103.39V94.30H102.20zM96.55 94.25H97.73V95.43H96.55zM103.34 94.25H104.52V95.43H103.34zM97.68 95.38H98.86V96.56H97.68zM104.47 95.38H105.65V96.56H104.47zM104.47 96.51H106.78V97.69H104.47zM103.34 97.64H104.52V98.82H103.34zM106.73 97.64H107.91V98.82H106.73zM110.12 98.77H111.30V99.95H110.12zM110.12 99.90H112.43V101.08H110.12zM115.78 101.03H116.96V102.21H115.78zM115.78 102.16H116.96V103.34H115.78zM115.78 103.29H118.09V104.48H115.78zM114.65 104.43H119.22V105.61H114.65zM115.78 105.56H118.09V106.74H115.78zM120.30 106.69H121.48V107.87H120.30zM113.52 107.82H115.83V109.00H113.52zM118.04 107.82H122.61V109.00H118.04zM112.38 108.95H118.09V110.13H112.38zM119.17 108.95H123.74V110.13H119.17zM113.52 110.08H119.22V111.26H113.52zM120.30 110.08H124.88V111.26H120.30zM114.65 111.21H118.09V112.39H114.65zM121.43 111.21H124.88V112.39H121.43zM115.78 112.34H116.96V113.52H115.78zM118.04 112.34H119.22V113.52H118.04zM122.56 112.34H124.88V113.52H122.56zM110.12 113.47H111.30V114.65H110.12zM108.99 114.60H112.43V115.79H108.99zM124.83 114.60H127.14V115.79H124.83zM111.25 115.74H119.22V116.92H111.25zM125.96 115.74H128.27V116.92H125.96zM112.38 116.87H120.35V118.05H112.38zM111.25 118.00H115.83V119.18H111.25zM116.91 118.00H121.48V119.18H116.91zM125.96 118.00H127.14V119.18H125.96zM115.78 119.13H116.96V120.31H115.78zM124.83 119.13H128.27V120.31H124.83zM128.22 120.26H130.53V121.44H128.22zM129.35 121.39H130.53V122.57H129.35z"/><path fill="#3f0f72" d="M82.98 85.20H85.29V86.38H82.98zM81.85 86.33H86.42V87.51H81.85zM82.98 87.46H85.29V88.64H82.98zM87.50 87.46H88.68V88.64H87.50zM90.90 87.46H93.21V88.64H90.90zM85.24 88.59H86.42V89.77H85.24zM88.63 88.59H93.21V89.77H88.63zM89.76 89.72H93.21V90.90H89.76zM94.29 90.85H96.60V92.03H94.29zM92.03 91.98H94.34V93.17H92.03zM95.42 91.98H97.73V93.17H95.42zM93.16 93.12H96.60V94.30H93.16zM94.29 94.25H96.60V95.43H94.29zM101.07 94.25H103.39V95.43H101.07zM95.42 95.38H97.73V96.56H95.42zM101.07 95.38H104.52V96.56H101.07zM96.55 96.51H98.86V97.69H96.55zM102.20 96.51H104.52V97.69H102.20zM104.47 97.64H106.78V98.82H104.47zM104.47 98.77H109.04V99.95H104.47zM105.60 99.90H109.04V101.08H105.60zM112.38 99.90H114.70V101.08H112.38zM106.73 101.03H107.91V102.21H106.73zM111.25 101.03H115.83V102.21H111.25zM112.38 102.16H114.70V103.34H112.38zM114.65 103.29H115.83V104.48H114.65zM105.60 104.43H107.91V105.61H105.60zM104.47 105.56H106.78V106.74H104.47zM107.86 105.56H109.04V106.74H107.86zM112.38 105.56H115.83V106.74H112.38zM118.04 105.56H120.35V106.74H118.04zM104.47 106.69H105.65V107.87H104.47zM106.73 106.69H110.17V107.87H106.73zM111.25 106.69H120.35V107.87H111.25zM105.60 107.82H110.17V109.00H105.60zM111.25 107.82H113.56V109.00H111.25zM115.78 107.82H118.09V109.00H115.78zM99.94 108.95H101.12V110.13H99.94zM106.73 108.95H109.04V110.13H106.73zM118.04 108.95H119.22V110.13H118.04zM99.94 110.08H102.25V111.26H99.94zM119.17 110.08H120.35V111.26H119.17zM98.81 111.21H101.12V112.39H98.81zM102.20 111.21H103.39V112.39H102.20zM106.73 111.21H109.04V112.39H106.73zM118.04 111.21H121.48V112.39H118.04zM98.81 112.34H99.99V113.52H98.81zM102.20 112.34H104.52V113.52H102.20zM106.73 112.34H110.17V113.52H106.73zM116.91 112.34H118.09V113.52H116.91zM119.17 112.34H122.61V113.52H119.17zM102.20 113.47H105.65V114.65H102.20zM106.73 113.47H110.17V114.65H106.73zM116.91 113.47H123.74V114.65H116.91zM102.20 114.60H109.04V115.79H102.20zM118.04 114.60H124.88V115.79H118.04zM103.34 115.74H111.30V116.92H103.34zM119.17 115.74H126.01V116.92H119.17zM105.60 116.87H112.43V118.05H105.60zM120.30 116.87H127.14V118.05H120.30zM105.60 118.00H107.91V119.18H105.60zM110.12 118.00H111.30V119.18H110.12zM115.78 118.00H116.96V119.18H115.78zM123.69 118.00H126.01V119.18H123.69zM127.09 118.00H128.27V119.18H127.09zM110.12 119.13H115.83V120.31H110.12zM116.91 119.13H122.61V120.31H116.91zM128.22 119.13H129.40V120.31H128.22zM112.38 120.26H123.74V121.44H112.38zM125.96 120.26H128.27V121.44H125.96zM113.52 121.39H120.35V122.57H113.52zM121.43 121.39H124.88V122.57H121.43zM127.09 121.39H129.40V122.57H127.09zM122.56 122.52H126.01V123.70H122.56zM128.22 122.52H129.40V123.70H128.22zM125.96 123.65H127.14V124.25H125.96zM128.22 123.65H129.40V124.25H128.22z"/><path fill="#36106b" d="M78.45 84.07H79.64V85.25H78.45zM77.32 85.20H80.77V86.38H77.32zM77.32 86.33H81.90V87.51H77.32zM78.45 87.46H83.03V88.64H78.45zM85.24 87.46H87.55V88.64H85.24zM78.45 88.59H85.29V89.77H78.45zM87.50 88.59H88.68V89.77H87.50zM93.16 88.59H94.34V89.77H93.16zM77.32 89.72H83.03V90.90H77.32zM85.24 89.72H87.55V90.90H85.24zM93.16 89.72H94.34V90.90H93.16zM77.32 90.85H81.90V92.03H77.32zM86.37 90.85H87.55V92.03H86.37zM90.90 90.85H93.21V92.03H90.90zM78.45 91.98H80.77V93.17H78.45zM90.90 93.12H93.21V94.30H90.90zM96.55 93.12H98.86V94.30H96.55zM92.03 94.25H94.34V95.43H92.03zM97.68 94.25H99.99V95.43H97.68zM93.16 95.38H95.47V96.56H93.16zM98.81 95.38H99.99V96.56H98.81zM94.29 96.51H96.60V97.69H94.29zM95.42 97.64H97.73V98.82H95.42zM102.20 98.77H103.39V99.95H102.20zM89.76 99.90H92.08V101.08H89.76zM101.07 99.90H103.39V101.08H101.07zM108.99 99.90H110.17V101.08H108.99zM88.63 101.03H93.21V102.21H88.63zM101.07 101.03H104.52V102.21H101.07zM105.60 101.03H106.78V102.21H105.60zM107.86 101.03H111.30V102.21H107.86zM88.63 102.16H93.21V103.34H88.63zM102.20 102.16H106.78V103.34H102.20zM107.86 102.16H110.17V103.34H107.86zM114.65 102.16H115.83V103.34H114.65zM89.76 103.29H92.08V104.48H89.76zM101.07 103.29H106.78V104.48H101.07zM113.52 103.29H114.70V104.48H113.52zM102.20 104.43H105.65V105.61H102.20zM113.52 104.43H114.70V105.61H113.52zM103.34 105.56H104.52V106.74H103.34zM106.73 105.56H107.91V106.74H106.73zM103.34 106.69H104.52V107.87H103.34zM105.60 106.69H106.78V107.87H105.60zM98.81 107.82H99.99V109.00H98.81zM102.20 107.82H104.52V109.00H102.20zM97.68 108.95H99.99V110.13H97.68zM101.07 108.95H103.39V110.13H101.07zM104.47 108.95H106.78V110.13H104.47zM96.55 110.08H99.99V111.26H96.55zM103.34 110.08H107.91V111.26H103.34zM97.68 111.21H98.86V112.39H97.68zM101.07 111.21H102.25V112.39H101.07zM103.34 111.21H106.78V112.39H103.34zM99.94 112.34H102.25V113.52H99.94zM104.47 112.34H106.78V113.52H104.47zM99.94 113.47H102.25V114.65H99.94zM105.60 113.47H106.78V114.65H105.60zM101.07 114.60H102.25V115.79H101.07zM102.20 115.74H103.39V116.92H102.20zM103.34 116.87H105.65V118.05H103.34zM104.47 118.00H105.65V119.18H104.47zM107.86 118.00H110.17V119.18H107.86zM121.43 118.00H123.74V119.18H121.43zM105.60 119.13H106.78V120.31H105.60zM122.56 119.13H124.88V120.31H122.56zM108.99 120.26H112.43V121.44H108.99zM123.69 120.26H126.01V121.44H123.69zM107.86 121.39H113.56V122.57H107.86zM120.30 121.39H121.48V122.57H120.30zM124.83 121.39H127.14V122.57H124.83zM112.38 122.52H122.61V123.70H112.38zM125.96 122.52H128.27V123.70H125.96zM113.52 123.65H116.96V124.25H113.52zM120.30 123.65H126.01V124.25H120.30zM127.09 123.65H128.27V124.25H127.09z"/><path fill="#2c115f" d="M76.19 86.33H77.37V87.51H76.19zM75.06 87.46H78.50V88.64H75.06zM75.06 88.59H78.50V89.77H75.06zM86.37 88.59H87.55V89.77H86.37zM76.19 89.72H77.37V90.90H76.19zM82.98 89.72H85.29V90.90H82.98zM87.50 89.72H89.81V90.90H87.50zM76.19 90.85H77.37V92.03H76.19zM81.85 90.85H86.42V92.03H81.85zM87.50 90.85H90.95V92.03H87.50zM75.06 91.98H78.50V93.17H75.06zM80.72 91.98H86.42V93.17H80.72zM90.90 91.98H92.08V93.17H90.90zM73.93 93.12H85.29V94.30H73.93zM75.06 94.25H78.50V95.43H75.06zM79.59 94.25H84.16V95.43H79.59zM89.76 94.25H92.08V95.43H89.76zM76.19 95.38H77.37V96.56H76.19zM81.85 95.38H83.03V96.56H81.85zM90.90 95.38H93.21V96.56H90.90zM99.94 95.38H101.12V96.56H99.94zM87.50 96.51H88.68V97.69H87.50zM92.03 96.51H94.34V97.69H92.03zM98.81 96.51H99.99V97.69H98.81zM101.07 96.51H102.25V97.69H101.07zM86.37 97.64H89.81V98.82H86.37zM92.03 97.64H95.47V98.82H92.03zM97.68 97.64H101.12V98.82H97.68zM102.20 97.64H103.39V98.82H102.20zM71.67 98.77H73.98V99.95H71.67zM85.24 98.77H96.60V99.95H85.24zM98.81 98.77H102.25V99.95H98.81zM103.34 98.77H104.52V99.95H103.34zM67.14 99.90H69.46V101.08H67.14zM70.54 99.90H72.85V101.08H70.54zM84.11 99.90H89.81V101.08H84.11zM92.03 99.90H95.47V101.08H92.03zM99.94 99.90H101.12V101.08H99.94zM103.34 99.90H105.65V101.08H103.34zM66.01 101.03H71.72V102.21H66.01zM82.98 101.03H88.68V102.21H82.98zM93.16 101.03H94.34V102.21H93.16zM99.94 101.03H101.12V102.21H99.94zM104.47 101.03H105.65V102.21H104.47zM66.01 102.16H70.59V103.34H66.01zM82.98 102.16H88.68V103.34H82.98zM98.81 102.16H102.25V103.34H98.81zM106.73 102.16H107.91V103.34H106.73zM110.12 102.16H112.43V103.34H110.12zM67.14 103.29H69.46V104.48H67.14zM84.11 103.29H89.81V104.48H84.11zM97.68 103.29H101.12V104.48H97.68zM106.73 103.29H113.56V104.48H106.73zM85.24 104.43H89.81V105.61H85.24zM95.42 104.43H102.25V105.61H95.42zM108.99 104.43H113.56V105.61H108.99zM78.45 105.56H80.77V106.74H78.45zM86.37 105.56H88.68V106.74H86.37zM95.42 105.56H103.39V106.74H95.42zM108.99 105.56H112.43V106.74H108.99zM77.32 106.69H81.90V107.87H77.32zM94.29 106.69H103.39V107.87H94.29zM110.12 106.69H111.30V107.87H110.12zM76.19 107.82H81.90V109.00H76.19zM94.29 107.82H98.86V109.00H94.29zM99.94 107.82H102.25V109.00H99.94zM104.47 107.82H105.65V109.00H104.47zM75.06 108.95H80.77V110.13H75.06zM95.42 108.95H97.73V110.13H95.42zM103.34 108.95H104.52V110.13H103.34zM73.93 110.08H79.64V111.26H73.93zM102.20 110.08H103.39V111.26H102.20zM75.06 111.21H80.77V112.39H75.06zM73.93 112.34H81.90V113.52H73.93zM72.80 113.47H76.24V114.65H72.80zM77.32 113.47H83.03V114.65H77.32zM98.81 113.47H99.99V114.65H98.81zM72.80 114.60H75.11V115.79H72.80zM78.45 114.60H84.16V115.79H78.45zM98.81 114.60H101.12V115.79H98.81zM79.59 115.74H85.29V116.92H79.59zM99.94 115.74H102.25V116.92H99.94zM80.72 116.87H86.42V118.05H80.72zM101.07 116.87H103.39V118.05H101.07zM45.66 118.00H47.97V119.18H45.66zM81.85 118.00H87.55V119.18H81.85zM101.07 118.00H104.52V119.18H101.07zM44.52 119.13H49.10V120.31H44.52zM82.98 119.13H87.55V120.31H82.98zM102.20 119.13H105.65V120.31H102.20zM106.73 119.13H110.17V120.31H106.73zM44.52 120.26H50.23V121.44H44.52zM84.11 120.26H86.42V121.44H84.11zM103.34 120.26H109.04V121.44H103.34zM45.66 121.39H51.36V122.57H45.66zM105.60 121.39H107.91V122.57H105.60zM46.79 122.52H52.49V123.70H46.79zM84.11 122.52H86.42V123.70H84.11zM106.73 122.52H112.43V123.70H106.73zM47.92 123.65H53.62V124.25H47.92zM82.98 123.65H87.55V124.25H82.98zM110.12 123.65H113.56V124.25H110.12zM116.91 123.65H120.35V124.25H116.91z"/><path fill="#241253" d="M73.93 88.59H75.11V89.77H73.93zM72.80 89.72H76.24V90.90H72.80zM71.67 90.85H76.24V92.03H71.67zM72.80 91.98H75.11V93.17H72.80zM86.37 91.98H90.95V93.17H86.37zM85.24 93.12H90.95V94.30H85.24zM72.80 94.25H75.11V95.43H72.80zM78.45 94.25H79.64V95.43H78.45zM84.11 94.25H89.81V95.43H84.11zM71.67 95.38H76.24V96.56H71.67zM77.32 95.38H81.90V96.56H77.32zM82.98 95.38H90.95V96.56H82.98zM70.54 96.51H87.55V97.69H70.54zM88.63 96.51H92.08V97.69H88.63zM99.94 96.51H101.12V97.69H99.94zM66.01 97.64H67.19V98.82H66.01zM69.41 97.64H75.11V98.82H69.41zM78.45 97.64H86.42V98.82H78.45zM89.76 97.64H92.08V98.82H89.76zM101.07 97.64H102.25V98.82H101.07zM64.88 98.77H71.72V99.95H64.88zM79.59 98.77H85.29V99.95H79.59zM96.55 98.77H98.86V99.95H96.55zM63.75 99.90H67.19V101.08H63.75zM69.41 99.90H70.59V101.08H69.41zM80.72 99.90H84.16V101.08H80.72zM95.42 99.90H99.99V101.08H95.42zM64.88 101.03H66.06V102.21H64.88zM81.85 101.03H83.03V102.21H81.85zM96.55 101.03H99.99V102.21H96.55zM81.85 102.16H83.03V103.34H81.85zM93.16 102.16H94.34V103.34H93.16zM97.68 102.16H98.86V103.34H97.68zM60.36 103.29H61.54V104.48H60.36zM80.72 103.29H84.16V104.48H80.72zM92.03 103.29H95.47V104.48H92.03zM59.23 104.43H62.67V105.61H59.23zM79.59 104.43H85.29V105.61H79.59zM89.76 104.43H95.47V105.61H89.76zM107.86 104.43H109.04V105.61H107.86zM58.10 105.56H61.54V106.74H58.10zM72.80 105.56H75.11V106.74H72.80zM80.72 105.56H84.16V106.74H80.72zM88.63 105.56H89.81V106.74H88.63zM92.03 105.56H95.47V106.74H92.03zM56.97 106.69H60.41V107.87H56.97zM71.67 106.69H76.24V107.87H71.67zM81.85 106.69H83.03V107.87H81.85zM87.50 106.69H88.68V107.87H87.50zM93.16 106.69H94.34V107.87H93.16zM55.83 107.82H59.28V109.00H55.83zM71.67 107.82H76.24V109.00H71.67zM81.85 107.82H83.03V109.00H81.85zM54.70 108.95H58.15V110.13H54.70zM72.80 108.95H75.11V110.13H72.80zM80.72 108.95H84.16V110.13H80.72zM94.29 108.95H95.47V110.13H94.29zM53.57 110.08H57.02V111.26H53.57zM79.59 110.08H85.29V111.26H79.59zM94.29 110.08H96.60V111.26H94.29zM52.44 111.21H55.88V112.39H52.44zM72.80 111.21H75.11V112.39H72.80zM80.72 111.21H86.42V112.39H80.72zM90.90 111.21H92.08V112.39H90.90zM93.16 111.21H97.73V112.39H93.16zM53.57 112.34H54.75V113.52H53.57zM71.67 112.34H73.98V113.52H71.67zM81.85 112.34H87.55V113.52H81.85zM89.76 112.34H98.86V113.52H89.76zM70.54 113.47H72.85V114.65H70.54zM76.19 113.47H77.37V114.65H76.19zM82.98 113.47H88.68V114.65H82.98zM89.76 113.47H98.86V114.65H89.76zM49.05 114.60H50.23V115.79H49.05zM69.41 114.60H72.85V115.79H69.41zM75.06 114.60H78.50V115.79H75.06zM84.11 114.60H89.81V115.79H84.11zM90.90 114.60H98.86V115.79H90.90zM47.92 115.74H51.36V116.92H47.92zM68.28 115.74H79.64V116.92H68.28zM85.24 115.74H90.95V116.92H85.24zM93.16 115.74H99.99V116.92H93.16zM46.79 116.87H52.49V118.05H46.79zM69.41 116.87H72.85V118.05H69.41zM75.06 116.87H80.77V118.05H75.06zM86.37 116.87H92.08V118.05H86.37zM93.16 116.87H101.12V118.05H93.16zM47.92 118.00H53.62V119.18H47.92zM70.54 118.00H71.72V119.18H70.54zM76.19 118.00H81.90V119.18H76.19zM87.50 118.00H88.68V119.18H87.50zM89.76 118.00H93.21V119.18H89.76zM94.29 118.00H101.12V119.18H94.29zM49.05 119.13H53.62V120.31H49.05zM77.32 119.13H83.03V120.31H77.32zM87.50 119.13H88.68V120.31H87.50zM89.76 119.13H102.25V120.31H89.76zM43.39 120.26H44.57V121.44H43.39zM50.18 120.26H52.49V121.44H50.18zM78.45 120.26H84.16V121.44H78.45zM86.37 120.26H103.39V121.44H86.37zM42.26 121.39H45.70V122.57H42.26zM79.59 121.39H105.65V122.57H79.59zM41.13 122.52H46.84V123.70H41.13zM61.49 122.52H63.80V123.70H61.49zM80.72 122.52H84.16V123.70H80.72zM86.37 122.52H106.78V123.70H86.37zM42.26 123.65H47.97V124.25H42.26zM60.36 123.65H64.93V124.25H60.36zM81.85 123.65H83.03V124.25H81.85zM87.50 123.65H110.17V124.25H87.50z"/><path fill="#1d1147" d="M70.54 91.98H72.85V93.17H70.54zM69.41 93.12H73.98V94.30H69.41zM68.28 94.25H72.85V95.43H68.28zM67.14 95.38H71.72V96.56H67.14zM67.14 96.51H70.59V97.69H67.14zM67.14 97.64H69.46V98.82H67.14zM75.06 97.64H78.50V98.82H75.06zM73.93 98.77H79.64V99.95H73.93zM72.80 99.90H80.77V101.08H72.80zM62.62 101.03H64.93V102.21H62.62zM71.67 101.03H81.90V102.21H71.67zM94.29 101.03H96.60V102.21H94.29zM61.49 102.16H66.06V103.34H61.49zM70.54 102.16H81.90V103.34H70.54zM94.29 102.16H97.73V103.34H94.29zM61.49 103.29H67.19V104.48H61.49zM69.41 103.29H80.77V104.48H69.41zM95.42 103.29H97.73V104.48H95.42zM62.62 104.43H79.64V105.61H62.62zM63.75 105.56H67.19V106.74H63.75zM69.41 105.56H72.85V106.74H69.41zM75.06 105.56H78.50V106.74H75.06zM84.11 105.56H86.42V106.74H84.11zM89.76 105.56H92.08V106.74H89.76zM64.88 106.69H66.06V107.87H64.88zM70.54 106.69H71.72V107.87H70.54zM76.19 106.69H77.37V107.87H76.19zM82.98 106.69H87.55V107.87H82.98zM88.63 106.69H93.21V107.87H88.63zM82.98 107.82H94.34V109.00H82.98zM84.11 108.95H94.34V110.13H84.11zM85.24 110.08H94.34V111.26H85.24zM61.49 111.21H63.80V112.39H61.49zM86.37 111.21H90.95V112.39H86.37zM92.03 111.21H93.21V112.39H92.03zM51.31 112.34H53.62V113.52H51.31zM60.36 112.34H64.93V113.52H60.36zM87.50 112.34H89.81V113.52H87.50zM50.18 113.47H53.62V114.65H50.18zM59.23 113.47H66.06V114.65H59.23zM88.63 113.47H89.81V114.65H88.63zM50.18 114.60H52.49V115.79H50.18zM58.10 114.60H67.19V115.79H58.10zM89.76 114.60H90.95V115.79H89.76zM56.97 115.74H68.33V116.92H56.97zM90.90 115.74H93.21V116.92H90.90zM58.10 116.87H69.46V118.05H58.10zM72.80 116.87H75.11V118.05H72.80zM92.03 116.87H93.21V118.05H92.03zM59.23 118.00H70.59V119.18H59.23zM71.67 118.00H76.24V119.18H71.67zM88.63 118.00H89.81V119.18H88.63zM93.16 118.00H94.34V119.18H93.16zM53.57 119.13H54.75V120.31H53.57zM59.23 119.13H70.59V120.31H59.23zM71.67 119.13H77.37V120.31H71.67zM88.63 119.13H89.81V120.31H88.63zM52.44 120.26H55.88V121.44H52.44zM58.10 120.26H69.46V121.44H58.10zM72.80 120.26H78.50V121.44H72.80zM51.31 121.39H68.33V122.57H51.31zM73.93 121.39H79.64V122.57H73.93zM52.44 122.52H61.54V123.70H52.44zM63.75 122.52H67.19V123.70H63.75zM72.80 122.52H80.77V123.70H72.80zM40.00 123.65H42.31V124.25H40.00zM53.57 123.65H60.41V124.25H53.57zM64.88 123.65H66.06V124.25H64.88zM71.67 123.65H81.90V124.25H71.67z"/><path fill="#150e38" d="M61.49 105.56H63.80V106.74H61.49zM67.14 105.56H69.46V106.74H67.14zM60.36 106.69H64.93V107.87H60.36zM66.01 106.69H70.59V107.87H66.01zM59.23 107.82H71.72V109.00H59.23zM58.10 108.95H72.85V110.13H58.10zM56.97 110.08H73.98V111.26H56.97zM55.83 111.21H61.54V112.39H55.83zM63.75 111.21H72.85V112.39H63.75zM54.70 112.34H60.41V113.52H54.70zM64.88 112.34H71.72V113.52H64.88zM53.57 113.47H59.28V114.65H53.57zM66.01 113.47H70.59V114.65H66.01zM52.44 114.60H58.15V115.79H52.44zM67.14 114.60H69.46V115.79H67.14zM51.31 115.74H57.02V116.92H51.31zM52.44 116.87H58.15V118.05H52.44zM53.57 118.00H59.28V119.18H53.57zM54.70 119.13H59.28V120.31H54.70zM70.54 119.13H71.72V120.31H70.54zM55.83 120.26H58.15V121.44H55.83zM69.41 120.26H72.85V121.44H69.41zM68.28 121.39H73.98V122.57H68.28zM67.14 122.52H72.85V123.70H67.14zM66.01 123.65H71.72V124.25H66.01z"/></g>
<g shape-rendering="crispEdges"><path fill="#fdebac" d="M423.27 9.42H424.45V10.60H423.27zM422.14 10.55H424.45V11.73H422.14zM422.14 11.68H425.58V12.86H422.14zM423.27 12.81H425.58V14.00H423.27zM424.40 13.95H425.58V15.13H424.40zM417.61 15.08H419.93V16.26H417.61zM416.48 16.21H421.06V17.39H416.48zM416.48 17.34H421.06V18.52H416.48zM417.61 18.47H419.93V19.65H417.61zM406.30 37.70H408.62V38.88H406.30zM405.17 38.83H409.75V40.01H405.17zM405.17 39.96H409.75V41.14H405.17zM406.30 41.09H408.62V42.27H406.30zM421.01 51.27H422.19V52.45H421.01zM419.88 52.40H423.32V53.58H419.88zM418.75 53.53H424.45V54.71H418.75zM400.65 54.66H402.96V55.84H400.65zM419.88 54.66H423.32V55.84H419.88zM399.52 55.79H401.83V56.97H399.52zM421.01 55.79H422.19V56.97H421.01zM399.52 56.92H400.70V58.10H399.52zM400.65 60.32H402.96V61.50H400.65zM399.52 61.45H404.09V62.63H399.52zM399.52 62.58H402.96V63.76H399.52zM400.65 63.71H401.83V64.89H400.65zM421.01 68.23H422.19V69.41H421.01zM419.88 69.36H423.32V70.55H419.88zM418.75 70.50H424.45V71.68H418.75zM411.96 71.63H414.27V72.81H411.96zM419.88 71.63H423.32V72.81H419.88zM410.83 72.76H415.40V73.94H410.83zM421.01 72.76H422.19V73.94H421.01zM410.83 73.89H415.40V75.07H410.83zM411.96 75.02H414.27V76.20H411.96z"/><path fill="#fde2a3" d="M423.27 8.29H424.45V9.47H423.27zM422.14 9.42H423.32V10.60H422.14zM421.01 10.55H422.19V11.73H421.01zM421.01 11.68H422.19V12.86H421.01zM419.88 12.81H423.32V14.00H419.88zM418.75 13.95H424.45V15.13H418.75zM419.88 15.08H423.32V16.26H419.88zM421.01 16.21H422.19V17.39H421.01zM415.35 17.34H416.53V18.52H415.35zM421.01 17.34H422.19V18.52H421.01zM414.22 18.47H417.66V19.65H414.22zM419.88 18.47H423.32V19.65H419.88zM413.09 19.60H424.45V20.78H413.09zM411.96 20.73H417.66V21.91H411.96zM419.88 20.73H425.58V21.91H419.88zM410.83 21.86H416.53V23.04H410.83zM421.01 21.86H425.58V23.04H421.01zM409.70 22.99H415.40V24.17H409.70zM421.01 22.99H425.58V24.17H421.01zM408.57 24.12H414.27V25.31H408.57zM419.88 24.12H426.71V25.31H419.88zM407.44 25.26H413.14V26.44H407.44zM418.75 25.26H426.71V26.44H418.75zM408.57 26.39H414.27V27.57H408.57zM419.88 26.39H423.32V27.57H419.88zM425.53 26.39H426.71V27.57H425.53zM409.70 27.52H415.40V28.70H409.70zM421.01 27.52H422.19V28.70H421.01zM404.04 28.65H405.22V29.83H404.04zM410.83 28.65H416.53V29.83H410.83zM402.91 29.78H406.35V30.96H402.91zM411.96 29.78H417.66V30.96H411.96zM401.78 30.91H407.49V32.09H401.78zM413.09 30.91H418.80V32.09H413.09zM400.65 32.04H408.62V33.22H400.65zM414.22 32.04H417.66V33.22H414.22zM399.52 33.17H409.75V34.35H399.52zM415.35 33.17H416.53V34.35H415.35zM398.39 34.30H410.88V35.48H398.39zM397.26 35.43H398.44V36.61H397.26zM400.65 35.43H412.01V36.61H400.65zM396.12 36.56H397.31V37.75H396.12zM401.78 36.56H413.14V37.75H401.78zM402.91 37.70H406.35V38.88H402.91zM408.57 37.70H414.27V38.88H408.57zM423.27 37.70H425.58V38.88H423.27zM404.04 38.83H405.22V40.01H404.04zM409.70 38.83H415.40V40.01H409.70zM422.14 38.83H425.58V40.01H422.14zM404.04 39.96H405.22V41.14H404.04zM409.70 39.96H416.53V41.14H409.70zM422.14 39.96H425.58V41.14H422.14zM402.91 41.09H406.35V42.27H402.91zM408.57 41.09H417.66V42.27H408.57zM423.27 41.09H425.58V42.27H423.27zM401.78 42.22H418.80V43.40H401.78zM389.34 43.35H391.65V44.53H389.34zM402.91 43.35H406.35V44.53H402.91zM408.57 43.35H419.93V44.53H408.57zM388.21 44.48H392.78V45.66H388.21zM404.04 44.48H405.22V45.66H404.04zM409.70 44.48H421.06V45.66H409.70zM387.08 45.61H393.91V46.79H387.08zM410.83 45.61H422.19V46.79H410.83zM385.95 46.74H395.04V47.92H385.95zM411.96 46.74H423.32V47.92H411.96zM384.81 47.88H396.18V49.06H384.81zM413.09 47.88H425.58V49.06H413.09zM383.68 49.01H397.31V50.19H383.68zM400.65 49.01H402.96V50.19H400.65zM414.22 49.01H425.58V50.19H414.22zM382.55 50.14H398.44V51.32H382.55zM399.52 50.14H404.09V51.32H399.52zM415.35 50.14H425.58V51.32H415.35zM381.42 51.27H387.13V52.45H381.42zM388.21 51.27H404.09V52.45H388.21zM416.48 51.27H421.06V52.45H416.48zM422.14 51.27H425.58V52.45H422.14zM380.29 52.40H386.00V53.58H380.29zM389.34 52.40H402.96V53.58H389.34zM417.61 52.40H419.93V53.58H417.61zM423.27 52.40H425.58V53.58H423.27zM379.16 53.53H384.87V54.71H379.16zM390.47 53.53H401.83V54.71H390.47zM424.40 53.53H425.58V54.71H424.40zM380.29 54.66H383.73V55.84H380.29zM391.60 54.66H400.70V55.84H391.60zM406.30 54.66H408.62V55.84H406.30zM417.61 54.66H419.93V55.84H417.61zM423.27 54.66H425.58V55.84H423.27zM381.42 55.79H382.60V56.97H381.42zM392.73 55.79H399.57V56.97H392.73zM401.78 55.79H404.09V56.97H401.78zM405.17 55.79H409.75V56.97H405.17zM416.48 55.79H421.06V56.97H416.48zM422.14 55.79H425.58V56.97H422.14zM392.73 56.92H399.57V58.10H392.73zM400.65 56.92H409.75V58.10H400.65zM415.35 56.92H421.06V58.10H415.35zM422.14 56.92H425.58V58.10H422.14zM376.90 58.05H378.08V59.23H376.90zM391.60 58.05H408.62V59.23H391.60zM414.22 58.05H419.93V59.23H414.22zM423.27 58.05H425.58V59.23H423.27zM378.03 59.19H379.21V60.37H378.03zM390.47 59.19H407.49V60.37H390.47zM413.09 59.19H418.80V60.37H413.09zM424.40 59.19H425.58V60.37H424.40zM378.03 60.32H380.34V61.50H378.03zM391.60 60.32H400.70V61.50H391.60zM402.91 60.32H406.35V61.50H402.91zM411.96 60.32H417.66V61.50H411.96zM378.03 61.45H381.47V62.63H378.03zM392.73 61.45H399.57V62.63H392.73zM404.04 61.45H405.22V62.63H404.04zM410.83 61.45H416.53V62.63H410.83zM419.88 61.45H421.06V62.63H419.88zM379.16 62.58H382.60V63.76H379.16zM392.73 62.58H399.57V63.76H392.73zM402.91 62.58H405.22V63.76H402.91zM409.70 62.58H416.53V63.76H409.70zM418.75 62.58H422.19V63.76H418.75zM379.16 63.71H383.73V64.89H379.16zM391.60 63.71H400.70V64.89H391.60zM401.78 63.71H406.35V64.89H401.78zM408.57 63.71H423.32V64.89H408.57zM381.42 64.84H384.87V66.02H381.42zM390.47 64.84H424.45V66.02H390.47zM381.42 65.97H386.00V67.15H381.42zM391.60 65.97H400.70V67.15H391.60zM402.91 65.97H417.66V67.15H402.91zM419.88 65.97H425.58V67.15H419.88zM381.42 67.10H387.13V68.28H381.42zM392.73 67.10H399.57V68.28H392.73zM404.04 67.10H416.53V68.28H404.04zM421.01 67.10H425.58V68.28H421.01zM382.55 68.23H388.26V69.41H382.55zM392.73 68.23H399.57V69.41H392.73zM404.04 68.23H416.53V69.41H404.04zM422.14 68.23H424.45V69.41H422.14zM383.68 69.36H388.26V70.55H383.68zM391.60 69.36H400.70V70.55H391.60zM402.91 69.36H417.66V70.55H402.91zM423.27 69.36H424.45V70.55H423.27zM384.81 70.50H387.13V71.68H384.81zM390.47 70.50H418.80V71.68H390.47zM391.60 71.63H395.04V72.81H391.60zM397.26 71.63H406.35V72.81H397.26zM408.57 71.63H412.01V72.81H408.57zM414.22 71.63H419.93V72.81H414.22zM392.73 72.76H393.91V73.94H392.73zM398.39 72.76H405.22V73.94H398.39zM409.70 72.76H410.88V73.94H409.70zM415.35 72.76H421.06V73.94H415.35zM422.14 72.76H423.32V73.94H422.14zM398.39 73.89H405.22V75.07H398.39zM409.70 73.89H410.88V75.07H409.70zM415.35 73.89H421.06V75.07H415.35zM422.14 73.89H423.32V75.07H422.14zM397.26 75.02H406.35V76.20H397.26zM408.57 75.02H412.01V76.20H408.57zM414.22 75.02H419.93V76.20H414.22zM396.12 76.15H418.80V77.33H396.12zM390.47 77.28H391.65V78.46H390.47zM394.99 77.28H400.70V78.46H394.99zM402.91 77.28H412.01V78.46H402.91zM414.22 77.28H417.66V78.46H414.22zM390.47 78.41H392.78V79.59H390.47zM393.86 78.41H399.57V79.59H393.86zM404.04 78.41H410.88V79.59H404.04zM415.35 78.41H416.53V79.59H415.35zM391.60 79.54H398.44V80.72H391.60zM404.04 79.54H409.75V80.72H404.04zM421.01 79.54H422.19V80.72H421.01zM388.21 80.67H389.39V81.86H388.21zM391.60 80.67H397.31V81.86H391.60zM402.91 80.67H408.62V81.86H402.91zM419.88 80.67H422.19V81.86H419.88zM389.34 81.81H396.18V82.99H389.34zM401.78 81.81H407.49V82.99H401.78zM418.75 81.81H421.06V82.99H418.75zM388.21 82.94H397.31V84.12H388.21zM402.91 82.94H408.62V84.12H402.91zM417.61 82.94H421.06V84.12H417.61zM388.21 84.07H398.44V85.25H388.21zM404.04 84.07H409.75V85.25H404.04zM416.48 84.07H421.06V85.25H416.48zM388.21 85.20H399.57V86.38H388.21zM404.04 85.20H409.75V86.38H404.04zM415.35 85.20H421.06V86.38H415.35zM389.34 86.33H400.70V87.51H389.34zM402.91 86.33H408.62V87.51H402.91zM414.22 86.33H421.06V87.51H414.22zM390.47 87.46H407.49V88.64H390.47zM413.09 87.46H421.06V88.64H413.09zM391.60 88.59H408.62V89.77H391.60zM414.22 88.59H421.06V89.77H414.22zM391.60 89.72H409.75V90.90H391.60zM415.35 89.72H421.06V90.90H415.35zM390.47 90.85H404.09V92.03H390.47zM405.17 90.85H410.88V92.03H405.17zM415.35 90.85H421.06V92.03H415.35zM390.47 91.98H402.96V93.17H390.47zM406.30 91.98H412.01V93.17H406.30zM414.22 91.98H421.06V93.17H414.22zM392.73 93.12H401.83V94.30H392.73zM407.44 93.12H419.93V94.30H407.44zM392.73 94.25H400.70V95.43H392.73zM406.30 94.25H419.93V95.43H406.30zM393.86 95.38H399.57V96.56H393.86zM405.17 95.38H418.80V96.56H405.17zM392.73 96.51H399.57V97.69H392.73zM404.04 96.51H417.66V97.69H404.04zM392.73 97.64H397.31V98.82H392.73zM398.39 97.64H400.70V98.82H398.39zM402.91 97.64H416.53V98.82H402.91zM392.73 98.77H396.18V99.95H392.73zM399.52 98.77H415.40V99.95H399.52zM393.86 99.90H395.04V101.08H393.86zM396.12 99.90H397.31V101.08H396.12zM400.65 99.90H414.27V101.08H400.65zM399.52 101.03H404.09V102.21H399.52zM405.17 101.03H413.14V102.21H405.17zM398.39 102.16H412.01V103.34H398.39zM399.52 103.29H402.96V104.48H399.52zM404.04 103.29H410.88V104.48H404.04zM400.65 104.43H401.83V105.61H400.65zM405.17 104.43H407.49V105.61H405.17zM408.57 104.43H409.75V105.61H408.57z"/><path fill="#fed799" d="M419.88 11.68H421.06V12.86H419.88zM423.27 15.08H425.58V16.26H423.27zM422.14 16.21H425.58V17.39H422.14zM422.14 17.34H425.58V18.52H422.14zM423.27 18.47H425.58V19.65H423.27zM424.40 19.60H425.58V20.78H424.40zM417.61 20.73H419.93V21.91H417.61zM416.48 21.86H421.06V23.04H416.48zM415.35 22.99H421.06V24.17H415.35zM414.22 24.12H419.93V25.31H414.22zM413.09 25.26H418.80V26.44H413.09zM406.30 26.39H408.62V27.57H406.30zM414.22 26.39H419.93V27.57H414.22zM423.27 26.39H425.58V27.57H423.27zM405.17 27.52H409.75V28.70H405.17zM415.35 27.52H421.06V28.70H415.35zM422.14 27.52H426.71V28.70H422.14zM405.17 28.65H410.88V29.83H405.17zM416.48 28.65H425.58V29.83H416.48zM406.30 29.78H412.01V30.96H406.30zM417.61 29.78H425.58V30.96H417.61zM407.44 30.91H413.14V32.09H407.44zM418.75 30.91H425.58V32.09H418.75zM408.57 32.04H414.27V33.22H408.57zM417.61 32.04H425.58V33.22H417.61zM409.70 33.17H415.40V34.35H409.70zM416.48 33.17H425.58V34.35H416.48zM410.83 34.30H425.58V35.48H410.83zM398.39 35.43H400.70V36.61H398.39zM411.96 35.43H425.58V36.61H411.96zM397.26 36.56H401.83V37.75H397.26zM413.09 36.56H425.58V37.75H413.09zM394.99 37.70H402.96V38.88H394.99zM414.22 37.70H423.32V38.88H414.22zM393.86 38.83H404.09V40.01H393.86zM415.35 38.83H422.19V40.01H415.35zM392.73 39.96H404.09V41.14H392.73zM416.48 39.96H422.19V41.14H416.48zM391.60 41.09H402.96V42.27H391.60zM417.61 41.09H423.32V42.27H417.61zM390.47 42.22H401.83V43.40H390.47zM418.75 42.22H425.58V43.40H418.75zM391.60 43.35H402.96V44.53H391.60zM406.30 43.35H408.62V44.53H406.30zM419.88 43.35H425.58V44.53H419.88zM392.73 44.48H404.09V45.66H392.73zM405.17 44.48H409.75V45.66H405.17zM421.01 44.48H425.58V45.66H421.01zM393.86 45.61H410.88V46.79H393.86zM422.14 45.61H425.58V46.79H422.14zM394.99 46.74H412.01V47.92H394.99zM423.27 46.74H425.58V47.92H423.27zM396.12 47.88H413.14V49.06H396.12zM397.26 49.01H400.70V50.19H397.26zM402.91 49.01H414.27V50.19H402.91zM398.39 50.14H399.57V51.32H398.39zM404.04 50.14H415.40V51.32H404.04zM387.08 51.27H388.26V52.45H387.08zM404.04 51.27H416.53V52.45H404.04zM385.95 52.40H389.39V53.58H385.95zM402.91 52.40H417.66V53.58H402.91zM384.81 53.53H390.52V54.71H384.81zM401.78 53.53H418.80V54.71H401.78zM378.03 54.66H380.34V55.84H378.03zM383.68 54.66H391.65V55.84H383.68zM402.91 54.66H406.35V55.84H402.91zM408.57 54.66H417.66V55.84H408.57zM376.90 55.79H381.47V56.97H376.90zM382.55 55.79H392.78V56.97H382.55zM404.04 55.79H405.22V56.97H404.04zM409.70 55.79H416.53V56.97H409.70zM375.77 56.92H392.78V58.10H375.77zM409.70 56.92H415.40V58.10H409.70zM421.01 56.92H422.19V58.10H421.01zM374.64 58.05H376.95V59.23H374.64zM378.03 58.05H391.65V59.23H378.03zM408.57 58.05H414.27V59.23H408.57zM419.88 58.05H423.32V59.23H419.88zM374.64 59.19H378.08V60.37H374.64zM379.16 59.19H390.52V60.37H379.16zM407.44 59.19H413.14V60.37H407.44zM418.75 59.19H424.45V60.37H418.75zM374.64 60.32H378.08V61.50H374.64zM380.29 60.32H391.65V61.50H380.29zM406.30 60.32H412.01V61.50H406.30zM417.61 60.32H425.58V61.50H417.61zM375.77 61.45H378.08V62.63H375.77zM381.42 61.45H392.78V62.63H381.42zM405.17 61.45H410.88V62.63H405.17zM416.48 61.45H419.93V62.63H416.48zM421.01 61.45H425.58V62.63H421.01zM376.90 62.58H379.21V63.76H376.90zM382.55 62.58H392.78V63.76H382.55zM405.17 62.58H409.75V63.76H405.17zM416.48 62.58H418.80V63.76H416.48zM422.14 62.58H425.58V63.76H422.14zM376.90 63.71H379.21V64.89H376.90zM383.68 63.71H391.65V64.89H383.68zM406.30 63.71H408.62V64.89H406.30zM423.27 63.71H425.58V64.89H423.27zM376.90 64.84H381.47V66.02H376.90zM384.81 64.84H390.52V66.02H384.81zM424.40 64.84H425.58V66.02H424.40zM378.03 65.97H381.47V67.15H378.03zM385.95 65.97H391.65V67.15H385.95zM400.65 65.97H402.96V67.15H400.65zM417.61 65.97H419.93V67.15H417.61zM379.16 67.10H381.47V68.28H379.16zM387.08 67.10H392.78V68.28H387.08zM399.52 67.10H404.09V68.28H399.52zM416.48 67.10H421.06V68.28H416.48zM380.29 68.23H382.60V69.41H380.29zM388.21 68.23H392.78V69.41H388.21zM399.52 68.23H404.09V69.41H399.52zM416.48 68.23H421.06V69.41H416.48zM381.42 69.36H383.73V70.55H381.42zM388.21 69.36H391.65V70.55H388.21zM400.65 69.36H402.96V70.55H400.65zM417.61 69.36H419.93V70.55H417.61zM381.42 70.50H384.87V71.68H381.42zM387.08 70.50H390.52V71.68H387.08zM381.42 71.63H383.73V72.81H381.42zM385.95 71.63H391.65V72.81H385.95zM394.99 71.63H397.31V72.81H394.99zM406.30 71.63H408.62V72.81H406.30zM380.29 72.76H381.47V73.94H380.29zM385.95 72.76H392.78V73.94H385.95zM393.86 72.76H398.44V73.94H393.86zM405.17 72.76H409.75V73.94H405.17zM380.29 73.89H382.60V75.07H380.29zM385.95 73.89H398.44V75.07H385.95zM405.17 73.89H409.75V75.07H405.17zM421.01 73.89H422.19V75.07H421.01zM382.55 75.02H383.73V76.20H382.55zM387.08 75.02H397.31V76.20H387.08zM406.30 75.02H408.62V76.20H406.30zM419.88 75.02H422.19V76.20H419.88zM382.55 76.15H384.87V77.33H382.55zM387.08 76.15H396.18V77.33H387.08zM418.75 76.15H422.19V77.33H418.75zM382.55 77.28H386.00V78.46H382.55zM387.08 77.28H390.52V78.46H387.08zM391.60 77.28H395.04V78.46H391.60zM400.65 77.28H402.96V78.46H400.65zM411.96 77.28H414.27V78.46H411.96zM417.61 77.28H422.19V78.46H417.61zM382.55 78.41H390.52V79.59H382.55zM392.73 78.41H393.91V79.59H392.73zM399.52 78.41H404.09V79.59H399.52zM410.83 78.41H415.40V79.59H410.83zM416.48 78.41H422.19V79.59H416.48zM383.68 79.54H391.65V80.72H383.68zM398.39 79.54H404.09V80.72H398.39zM409.70 79.54H421.06V80.72H409.70zM383.68 80.67H388.26V81.86H383.68zM389.34 80.67H391.65V81.86H389.34zM397.26 80.67H402.96V81.86H397.26zM408.57 80.67H419.93V81.86H408.57zM384.81 81.81H389.39V82.99H384.81zM396.12 81.81H401.83V82.99H396.12zM407.44 81.81H418.80V82.99H407.44zM385.95 82.94H388.26V84.12H385.95zM397.26 82.94H402.96V84.12H397.26zM408.57 82.94H417.66V84.12H408.57zM387.08 84.07H388.26V85.25H387.08zM398.39 84.07H404.09V85.25H398.39zM409.70 84.07H416.53V85.25H409.70zM387.08 85.20H388.26V86.38H387.08zM399.52 85.20H404.09V86.38H399.52zM409.70 85.20H415.40V86.38H409.70zM387.08 86.33H389.39V87.51H387.08zM400.65 86.33H402.96V87.51H400.65zM408.57 86.33H414.27V87.51H408.57zM387.08 87.46H390.52V88.64H387.08zM407.44 87.46H413.14V88.64H407.44zM387.08 88.59H391.65V89.77H387.08zM408.57 88.59H414.27V89.77H408.57zM387.08 89.72H391.65V90.90H387.08zM409.70 89.72H415.40V90.90H409.70zM388.21 90.85H390.52V92.03H388.21zM404.04 90.85H405.22V92.03H404.04zM410.83 90.85H415.40V92.03H410.83zM388.21 91.98H390.52V93.17H388.21zM402.91 91.98H406.35V93.17H402.91zM411.96 91.98H414.27V93.17H411.96zM389.34 93.12H392.78V94.30H389.34zM401.78 93.12H407.49V94.30H401.78zM391.60 94.25H392.78V95.43H391.60zM400.65 94.25H406.35V95.43H400.65zM392.73 95.38H393.91V96.56H392.73zM399.52 95.38H405.22V96.56H399.52zM399.52 96.51H404.09V97.69H399.52zM391.60 97.64H392.78V98.82H391.60zM397.26 97.64H398.44V98.82H397.26zM400.65 97.64H402.96V98.82H400.65zM391.60 98.77H392.78V99.95H391.60zM396.12 98.77H399.57V99.95H396.12zM391.60 99.90H393.91V101.08H391.60zM394.99 99.90H396.18V101.08H394.99zM397.26 99.90H400.70V101.08H397.26zM392.73 101.03H399.57V102.21H392.73zM404.04 101.03H405.22V102.21H404.04zM394.99 102.16H398.44V103.34H394.99zM396.12 103.29H399.57V104.48H396.12zM402.91 103.29H404.09V104.48H402.91zM397.26 104.43H400.70V105.61H397.26zM401.78 104.43H405.22V105.61H401.78zM407.44 104.43H408.62V105.61H407.44zM398.39 105.56H408.62V106.74H398.39zM401.78 106.69H407.49V107.87H401.78zM404.04 107.82H405.22V109.00H404.04z"/><path fill="#fecd90" d="M373.50 59.19H374.69V60.37H373.50zM373.50 60.32H374.69V61.50H373.50zM373.50 61.45H375.82V62.63H373.50zM374.64 62.58H376.95V63.76H374.64zM375.77 63.71H376.95V64.89H375.77zM375.77 64.84H376.95V66.02H375.77zM375.77 65.97H378.08V67.15H375.77zM375.77 67.10H379.21V68.28H375.77zM375.77 68.23H380.34V69.41H375.77zM376.90 69.36H381.47V70.55H376.90zM376.90 70.50H381.47V71.68H376.90zM376.90 71.63H381.47V72.81H376.90zM383.68 71.63H386.00V72.81H383.68zM378.03 72.76H380.34V73.94H378.03zM381.42 72.76H386.00V73.94H381.42zM378.03 73.89H380.34V75.07H378.03zM382.55 73.89H386.00V75.07H382.55zM379.16 75.02H382.60V76.20H379.16zM383.68 75.02H387.13V76.20H383.68zM380.29 76.15H382.60V77.33H380.29zM384.81 76.15H387.13V77.33H384.81zM379.16 77.28H382.60V78.46H379.16zM385.95 77.28H387.13V78.46H385.95zM379.16 78.41H382.60V79.59H379.16zM380.29 79.54H383.73V80.72H380.29zM381.42 80.67H383.73V81.86H381.42zM382.55 81.81H384.87V82.99H382.55zM382.55 82.94H386.00V84.12H382.55zM383.68 84.07H387.13V85.25H383.68zM383.68 85.20H387.13V86.38H383.68zM384.81 86.33H387.13V87.51H384.81zM384.81 87.46H387.13V88.64H384.81zM384.81 88.59H387.13V89.77H384.81zM385.95 89.72H387.13V90.90H385.95zM385.95 90.85H388.26V92.03H385.95zM385.95 91.98H388.26V93.17H385.95zM385.95 93.12H389.39V94.30H385.95zM387.08 94.25H391.65V95.43H387.08zM388.21 95.38H392.78V96.56H388.21zM389.34 96.51H392.78V97.69H389.34zM390.47 97.64H391.65V98.82H390.47zM390.47 98.77H391.65V99.95H390.47zM393.86 102.16H395.04V103.34H393.86zM394.99 103.29H396.18V104.48H394.99zM396.12 104.43H397.31V105.61H396.12zM397.26 105.56H398.44V106.74H397.26zM398.39 106.69H401.83V107.87H398.39zM400.65 107.82H404.09V109.00H400.65zM405.17 107.82H406.35V109.00H405.17zM401.78 108.95H402.96V110.13H401.78zM404.04 108.95H405.22V110.13H404.04z"/><path fill="#fec488" d="M372.37 60.32H373.56V61.50H372.37zM372.37 62.58H374.69V63.76H372.37zM373.50 63.71H375.82V64.89H373.50zM373.50 64.84H375.82V66.02H373.50zM374.64 65.97H375.82V67.15H374.64zM374.64 67.10H375.82V68.28H374.64zM374.64 68.23H375.82V69.41H374.64zM374.64 69.36H376.95V70.55H374.64zM374.64 70.50H376.95V71.68H374.64zM375.77 71.63H376.95V72.81H375.77zM376.90 72.76H378.08V73.94H376.90zM378.03 75.02H379.21V76.20H378.03zM379.16 76.15H380.34V77.33H379.16zM378.03 77.28H379.21V78.46H378.03zM379.16 80.67H381.47V81.86H379.16zM380.29 81.81H382.60V82.99H380.29zM379.16 82.94H382.60V84.12H379.16zM380.29 84.07H383.73V85.25H380.29zM381.42 85.20H383.73V86.38H381.42zM382.55 86.33H384.87V87.51H382.55zM383.68 87.46H384.87V88.64H383.68zM383.68 88.59H384.87V89.77H383.68zM382.55 89.72H386.00V90.90H382.55zM383.68 90.85H386.00V92.03H383.68zM384.81 91.98H386.00V93.17H384.81zM384.81 94.25H387.13V95.43H384.81zM384.81 95.38H388.26V96.56H384.81zM385.95 96.51H389.39V97.69H385.95zM388.21 97.64H390.52V98.82H388.21zM388.21 98.77H390.52V99.95H388.21zM390.47 99.90H391.65V101.08H390.47zM390.47 101.03H392.78V102.21H390.47zM391.60 102.16H393.91V103.34H391.60zM392.73 103.29H395.04V104.48H392.73zM393.86 104.43H396.18V105.61H393.86zM394.99 105.56H397.31V106.74H394.99zM396.12 106.69H398.44V107.87H396.12zM399.52 107.82H400.70V109.00H399.52zM402.91 108.95H404.09V110.13H402.91zM402.91 110.08H404.09V111.26H402.91z"/><path fill="#feb97f" d="M372.37 61.45H373.56V62.63H372.37zM372.37 63.71H373.56V64.89H372.37zM373.50 65.97H374.69V67.15H373.50zM372.37 67.10H374.69V68.28H372.37zM373.50 68.23H374.69V69.41H373.50zM373.50 69.36H374.69V70.55H373.50zM375.77 72.76H376.95V73.94H375.77zM376.90 73.89H378.08V75.07H376.90zM376.90 75.02H378.08V76.20H376.90zM376.90 76.15H379.21V77.33H376.90zM378.03 78.41H379.21V79.59H378.03zM378.03 79.54H380.34V80.72H378.03zM378.03 80.67H379.21V81.86H378.03zM378.03 81.81H380.34V82.99H378.03zM379.16 84.07H380.34V85.25H379.16zM379.16 85.20H381.47V86.38H379.16zM381.42 86.33H382.60V87.51H381.42zM381.42 87.46H383.73V88.64H381.42zM382.55 88.59H383.73V89.77H382.55zM383.68 91.98H384.87V93.17H383.68zM383.68 93.12H386.00V94.30H383.68zM383.68 94.25H384.87V95.43H383.68zM383.68 95.38H384.87V96.56H383.68zM384.81 96.51H386.00V97.69H384.81zM385.95 97.64H388.26V98.82H385.95zM387.08 98.77H388.26V99.95H387.08zM388.21 99.90H390.52V101.08H388.21zM389.34 101.03H390.52V102.21H389.34zM390.47 102.16H391.65V103.34H390.47zM391.60 103.29H392.78V104.48H391.60zM392.73 104.43H393.91V105.61H392.73zM393.86 105.56H395.04V106.74H393.86zM394.99 106.69H396.18V107.87H394.99zM396.12 107.82H399.57V109.00H396.12zM400.65 108.95H401.83V110.13H400.65z"/><path fill="#feb078" d="M371.24 61.45H372.42V62.63H371.24zM371.24 62.58H372.42V63.76H371.24zM371.24 63.71H372.42V64.89H371.24zM371.24 64.84H373.56V66.02H371.24zM372.37 65.97H373.56V67.15H372.37zM372.37 68.23H373.56V69.41H372.37zM373.50 70.50H374.69V71.68H373.50zM374.64 71.63H375.82V72.81H374.64zM374.64 72.76H375.82V73.94H374.64zM374.64 73.89H376.95V75.07H374.64zM375.77 75.02H376.95V76.20H375.77zM376.90 78.41H378.08V79.59H376.90zM375.77 79.54H378.08V80.72H375.77zM376.90 80.67H378.08V81.86H376.90zM378.03 82.94H379.21V84.12H378.03zM378.03 84.07H379.21V85.25H378.03zM378.03 85.20H379.21V86.38H378.03zM379.16 86.33H381.47V87.51H379.16zM380.29 87.46H381.47V88.64H380.29zM381.42 88.59H382.60V89.77H381.42zM381.42 90.85H383.73V92.03H381.42zM382.55 91.98H383.73V93.17H382.55zM382.55 93.12H383.73V94.30H382.55zM382.55 94.25H383.73V95.43H382.55zM397.26 108.95H400.70V110.13H397.26zM399.52 110.08H402.96V111.26H399.52zM401.78 111.21H402.96V112.39H401.78z"/><path fill="#fea772" d="M370.11 62.58H371.29V63.76H370.11zM370.11 64.84H371.29V66.02H370.11zM370.11 65.97H372.42V67.15H370.11zM371.24 67.10H372.42V68.28H371.24zM372.37 69.36H373.56V70.55H372.37zM373.50 71.63H374.69V72.81H373.50zM375.77 76.15H376.95V77.33H375.77zM375.77 77.28H378.08V78.46H375.77zM376.90 82.94H378.08V84.12H376.90zM376.90 84.07H378.08V85.25H376.90zM378.03 86.33H379.21V87.51H378.03zM378.03 87.46H379.21V88.64H378.03zM380.29 88.59H381.47V89.77H380.29zM381.42 89.72H382.60V90.90H381.42zM380.29 90.85H381.47V92.03H380.29zM380.29 91.98H382.60V93.17H380.29zM381.42 93.12H382.60V94.30H381.42zM382.55 95.38H383.73V96.56H382.55zM382.55 96.51H384.87V97.69H382.55zM382.55 97.64H386.00V98.82H382.55zM383.68 98.77H387.13V99.95H383.68zM384.81 99.90H388.26V101.08H384.81zM385.95 101.03H389.39V102.21H385.95zM387.08 102.16H390.52V103.34H387.08zM388.21 103.29H391.65V104.48H388.21zM391.60 104.43H392.78V105.61H391.60zM390.47 105.56H391.65V106.74H390.47zM392.73 105.56H393.91V106.74H392.73zM393.86 106.69H395.04V107.87H393.86zM394.99 107.82H396.18V109.00H394.99zM398.39 110.08H399.57V111.26H398.39zM399.52 111.21H401.83V112.39H399.52zM400.65 112.34H401.83V113.52H400.65z"/><path fill="#fd9b6b" d="M368.98 63.71H371.29V64.89H368.98zM368.98 64.84H370.16V66.02H368.98zM371.24 68.23H372.42V69.41H371.24zM371.24 69.36H372.42V70.55H371.24zM372.37 70.50H373.56V71.68H372.37zM372.37 71.63H373.56V72.81H372.37zM373.50 72.76H374.69V73.94H373.50zM373.50 73.89H374.69V75.07H373.50zM374.64 75.02H375.82V76.20H374.64zM374.64 77.28H375.82V78.46H374.64zM374.64 78.41H376.95V79.59H374.64zM375.77 80.67H376.95V81.86H375.77zM375.77 81.81H378.08V82.99H375.77zM375.77 82.94H376.95V84.12H375.77zM376.90 86.33H378.08V87.51H376.90zM375.77 87.46H378.08V88.64H375.77zM379.16 87.46H380.34V88.64H379.16zM376.90 88.59H378.08V89.77H376.90zM379.16 88.59H380.34V89.77H379.16zM379.16 89.72H381.47V90.90H379.16zM379.16 90.85H380.34V92.03H379.16zM381.42 94.25H382.60V95.43H381.42zM380.29 95.38H382.60V96.56H380.29zM381.42 96.51H382.60V97.69H381.42zM389.34 104.43H391.65V105.61H389.34zM391.60 105.56H392.78V106.74H391.60zM391.60 106.69H393.91V107.87H391.60zM392.73 107.82H395.04V109.00H392.73zM393.86 108.95H397.31V110.13H393.86zM394.99 110.08H396.18V111.26H394.99z"/><path fill="#fd9266" d="M368.98 65.97H370.16V67.15H368.98zM370.11 67.10H371.29V68.28H370.11zM370.11 69.36H371.29V70.55H370.11zM371.24 70.50H372.42V71.68H371.24zM372.37 75.02H374.69V76.20H372.37zM373.50 76.15H375.82V77.33H373.50zM373.50 77.28H374.69V78.46H373.50zM374.64 80.67H375.82V81.86H374.64zM374.64 81.81H375.82V82.99H374.64zM375.77 84.07H376.95V85.25H375.77zM375.77 85.20H378.08V86.38H375.77zM375.77 86.33H376.95V87.51H375.77zM378.03 88.59H379.21V89.77H378.03zM378.03 89.72H379.21V90.90H378.03zM379.16 91.98H380.34V93.17H379.16zM379.16 93.12H381.47V94.30H379.16zM379.16 94.25H381.47V95.43H379.16zM381.42 97.64H382.60V98.82H381.42zM382.55 98.77H383.73V99.95H382.55zM383.68 99.90H384.87V101.08H383.68zM384.81 101.03H386.00V102.21H384.81zM385.95 102.16H387.13V103.34H385.95zM396.12 110.08H398.44V111.26H396.12zM396.12 111.21H399.57V112.39H396.12zM397.26 112.34H400.70V113.52H397.26zM398.39 113.47H399.57V114.65H398.39z"/><path fill="#fc8961" d="M368.98 67.10H370.16V68.28H368.98zM370.11 68.23H371.29V69.41H370.11zM371.24 71.63H372.42V72.81H371.24zM371.24 72.76H373.56V73.94H371.24zM371.24 73.89H373.56V75.07H371.24zM372.37 76.15H373.56V77.33H372.37zM373.50 78.41H374.69V79.59H373.50zM373.50 79.54H375.82V80.72H373.50zM373.50 82.94H375.82V84.12H373.50zM374.64 84.07H375.82V85.25H374.64zM374.64 85.20H375.82V86.38H374.64zM374.64 86.33H375.82V87.51H374.64zM375.77 88.59H376.95V89.77H375.77zM375.77 89.72H376.95V90.90H375.77zM378.03 90.85H379.21V92.03H378.03zM376.90 91.98H379.21V93.17H376.90zM378.03 93.12H379.21V94.30H378.03zM379.16 95.38H380.34V96.56H379.16zM379.16 96.51H381.47V97.69H379.16zM380.29 97.64H381.47V98.82H380.29zM380.29 98.77H382.60V99.95H380.29zM381.42 99.90H383.73V101.08H381.42zM381.42 101.03H384.87V102.21H381.42zM383.68 102.16H386.00V103.34H383.68zM384.81 103.29H388.26V104.48H384.81zM387.08 104.43H389.39V105.61H387.08zM389.34 105.56H390.52V106.74H389.34zM390.47 106.69H391.65V107.87H390.47zM399.52 113.47H400.70V114.65H399.52z"/><path fill="#fa7d5e" d="M367.85 64.84H369.03V66.02H367.85zM367.85 67.10H369.03V68.28H367.85zM368.98 68.23H370.16V69.41H368.98zM368.98 70.50H371.29V71.68H368.98zM368.98 71.63H370.16V72.81H368.98zM370.11 72.76H371.29V73.94H370.11zM370.11 73.89H371.29V75.07H370.11zM371.24 75.02H372.42V76.20H371.24zM371.24 76.15H372.42V77.33H371.24zM372.37 77.28H373.56V78.46H372.37zM372.37 79.54H373.56V80.72H372.37zM373.50 80.67H374.69V81.86H373.50zM373.50 81.81H374.69V82.99H373.50zM372.37 82.94H373.56V84.12H372.37zM372.37 84.07H374.69V85.25H372.37zM373.50 85.20H374.69V86.38H373.50zM374.64 87.46H375.82V88.64H374.64zM374.64 88.59H375.82V89.77H374.64zM374.64 89.72H375.82V90.90H374.64zM376.90 89.72H378.08V90.90H376.90zM375.77 90.85H378.08V92.03H375.77zM378.03 94.25H379.21V95.43H378.03zM376.90 95.38H379.21V96.56H376.90zM376.90 96.51H379.21V97.69H376.90zM378.03 97.64H380.34V98.82H378.03zM379.16 98.77H380.34V99.95H379.16zM380.29 99.90H381.47V101.08H380.29zM382.55 102.16H383.73V103.34H382.55zM383.68 103.29H384.87V104.48H383.68zM384.81 104.43H387.13V105.61H384.81zM385.95 105.56H389.39V106.74H385.95zM388.21 106.69H390.52V107.87H388.21zM389.34 107.82H392.78V109.00H389.34zM391.60 108.95H393.91V110.13H391.60zM393.86 110.08H395.04V111.26H393.86zM393.86 111.21H396.18V112.39H393.86zM396.12 112.34H397.31V113.52H396.12zM397.26 113.47H398.44V114.65H397.26zM398.39 114.60H399.57V115.79H398.39z"/><path fill="#f8745c" d="M366.72 65.97H369.03V67.15H366.72zM368.98 69.36H370.16V70.55H368.98zM370.11 71.63H371.29V72.81H370.11zM370.11 77.28H372.42V78.46H370.11zM371.24 78.41H373.56V79.59H371.24zM372.37 80.67H373.56V81.86H372.37zM372.37 81.81H373.56V82.99H372.37zM373.50 86.33H374.69V87.51H373.50zM372.37 87.46H374.69V88.64H372.37zM373.50 88.59H374.69V89.77H373.50zM374.64 90.85H375.82V92.03H374.64zM375.77 91.98H376.95V93.17H375.77zM375.77 93.12H378.08V94.30H375.77zM376.90 94.25H378.08V95.43H376.90zM375.77 95.38H376.95V96.56H375.77zM387.08 106.69H388.26V107.87H387.08zM388.21 107.82H389.39V109.00H388.21zM389.34 108.95H391.65V110.13H389.34zM391.60 110.08H393.91V111.26H391.60zM392.73 111.21H393.91V112.39H392.73zM392.73 112.34H396.18V113.52H392.73zM394.99 113.47H397.31V114.65H394.99zM396.12 114.60H398.44V115.79H396.12zM397.26 115.74H399.57V116.92H397.26z"/><path fill="#f56b5c" d="M366.72 68.23H369.03V69.41H366.72zM367.85 69.36H369.03V70.55H367.85zM367.85 70.50H369.03V71.68H367.85zM367.85 71.63H369.03V72.81H367.85zM368.98 72.76H370.16V73.94H368.98zM368.98 75.02H371.29V76.20H368.98zM368.98 76.15H371.29V77.33H368.98zM371.24 80.67H372.42V81.86H371.24zM371.24 81.81H372.42V82.99H371.24zM371.24 82.94H372.42V84.12H371.24zM371.24 84.07H372.42V85.25H371.24zM371.24 85.20H373.56V86.38H371.24zM372.37 86.33H373.56V87.51H372.37zM373.50 89.72H374.69V90.90H373.50zM373.50 90.85H374.69V92.03H373.50zM373.50 91.98H375.82V93.17H373.50zM374.64 93.12H375.82V94.30H374.64zM374.64 94.25H376.95V95.43H374.64zM376.90 97.64H378.08V98.82H376.90zM378.03 98.77H379.21V99.95H378.03zM381.42 102.16H382.60V103.34H381.42zM382.55 103.29H383.73V104.48H382.55zM390.47 110.08H391.65V111.26H390.47zM391.60 111.21H392.78V112.39H391.60zM393.86 113.47H395.04V114.65H393.86zM394.99 114.60H396.18V115.79H394.99zM396.12 115.74H397.31V116.92H396.12zM397.26 116.87H398.44V118.05H397.26z"/><path fill="#f1605d" d="M366.72 67.10H367.90V68.28H366.72zM366.72 69.36H367.90V70.55H366.72zM368.98 73.89H370.16V75.07H368.98zM368.98 78.41H371.29V79.59H368.98zM368.98 79.54H372.42V80.72H368.98zM370.11 80.67H371.29V81.86H370.11zM370.11 81.81H371.29V82.99H370.11zM370.11 85.20H371.29V86.38H370.11zM371.24 86.33H372.42V87.51H371.24zM372.37 88.59H373.56V89.77H372.37zM372.37 89.72H373.56V90.90H372.37zM372.37 90.85H373.56V92.03H372.37zM372.37 91.98H373.56V93.17H372.37zM373.50 93.12H374.69V94.30H373.50zM375.77 96.51H376.95V97.69H375.77zM375.77 97.64H376.95V98.82H375.77zM375.77 98.77H378.08V99.95H375.77zM376.90 99.90H380.34V101.08H376.90zM379.16 101.03H381.47V102.21H379.16zM380.29 102.16H381.47V103.34H380.29zM381.42 103.29H382.60V104.48H381.42zM382.55 104.43H384.87V105.61H382.55zM383.68 105.56H386.00V106.74H383.68zM385.95 106.69H387.13V107.87H385.95z"/><path fill="#ec5860" d="M365.59 69.36H366.77V70.55H365.59zM366.72 70.50H367.90V71.68H366.72zM367.85 72.76H369.03V73.94H367.85zM367.85 73.89H369.03V75.07H367.85zM367.85 75.02H369.03V76.20H367.85zM367.85 79.54H369.03V80.72H367.85zM368.98 80.67H370.16V81.86H368.98zM370.11 82.94H371.29V84.12H370.11zM371.24 88.59H372.42V89.77H371.24zM371.24 89.72H372.42V90.90H371.24zM371.24 90.85H372.42V92.03H371.24zM374.64 96.51H375.82V97.69H374.64zM374.64 97.64H375.82V98.82H374.64zM378.03 101.03H379.21V102.21H378.03zM379.16 102.16H380.34V103.34H379.16zM380.29 103.29H381.47V104.48H380.29zM381.42 104.43H382.60V105.61H381.42zM382.55 105.56H383.73V106.74H382.55zM383.68 106.69H386.00V107.87H383.68zM385.95 107.82H388.26V109.00H385.95zM388.21 108.95H389.39V110.13H388.21z"/><path fill="#e75263" d="M365.59 68.23H366.77V69.41H365.59zM366.72 72.76H367.90V73.94H366.72zM366.72 73.89H367.90V75.07H366.72zM367.85 76.15H369.03V77.33H367.85zM366.72 77.28H370.16V78.46H366.72zM367.85 78.41H369.03V79.59H367.85zM368.98 82.94H370.16V84.12H368.98zM368.98 84.07H371.29V85.25H368.98zM370.11 86.33H371.29V87.51H370.11zM370.11 87.46H372.42V88.64H370.11zM370.11 89.72H371.29V90.90H370.11zM373.50 94.25H374.69V95.43H373.50zM373.50 95.38H375.82V96.56H373.50zM384.81 107.82H386.00V109.00H384.81zM385.95 108.95H388.26V110.13H385.95zM387.08 110.08H390.52V111.26H387.08zM390.47 111.21H391.65V112.39H390.47zM391.60 112.34H392.78V113.52H391.60zM392.73 113.47H393.91V114.65H392.73zM393.86 114.60H395.04V115.79H393.86zM394.99 115.74H396.18V116.92H394.99zM396.12 116.87H397.31V118.05H396.12zM396.12 118.00H397.31V119.18H396.12z"/><path fill="#df4a68" d="M366.72 71.63H367.90V72.81H366.72zM366.72 76.15H367.90V77.33H366.72zM366.72 78.41H367.90V79.59H366.72zM367.85 80.67H369.03V81.86H367.85zM368.98 81.81H370.16V82.99H368.98zM368.98 86.33H370.16V87.51H368.98zM368.98 87.46H370.16V88.64H368.98zM368.98 88.59H371.29V89.77H368.98zM371.24 91.98H372.42V93.17H371.24zM371.24 93.12H373.56V94.30H371.24zM372.37 94.25H373.56V95.43H372.37zM372.37 95.38H373.56V96.56H372.37zM373.50 96.51H374.69V97.69H373.50zM374.64 98.77H375.82V99.95H374.64zM373.50 99.90H374.69V101.08H373.50zM375.77 99.90H376.95V101.08H375.77zM373.50 101.03H376.95V102.21H373.50zM374.64 102.16H375.82V103.34H374.64zM378.03 102.16H379.21V103.34H378.03zM379.16 103.29H380.34V104.48H379.16zM380.29 104.43H381.47V105.61H380.29zM388.21 111.21H390.52V112.39H388.21zM389.34 112.34H391.65V113.52H389.34zM391.60 113.47H392.78V114.65H391.60zM392.73 114.60H393.91V115.79H392.73zM393.86 115.74H395.04V116.92H393.86zM394.99 116.87H396.18V118.05H394.99zM394.99 118.00H396.18V119.18H394.99z"/><path fill="#d8456c" d="M365.59 70.50H366.77V71.68H365.59zM365.59 71.63H366.77V72.81H365.59zM365.59 72.76H366.77V73.94H365.59zM366.72 75.02H367.90V76.20H366.72zM365.59 77.28H366.77V78.46H365.59zM366.72 79.54H367.90V80.72H366.72zM366.72 80.67H367.90V81.86H366.72zM366.72 81.81H369.03V82.99H366.72zM367.85 82.94H369.03V84.12H367.85zM368.98 85.20H370.16V86.38H368.98zM367.85 87.46H369.03V88.64H367.85zM370.11 93.12H371.29V94.30H370.11zM371.24 94.25H372.42V95.43H371.24zM371.24 97.64H372.42V98.82H371.24zM373.50 97.64H374.69V98.82H373.50zM372.37 98.77H374.69V99.95H372.37zM372.37 99.90H373.56V101.08H372.37zM374.64 99.90H375.82V101.08H374.64zM376.90 101.03H378.08V102.21H376.90zM375.77 102.16H378.08V103.34H375.77zM376.90 103.29H379.21V104.48H376.90zM378.03 104.43H380.34V105.61H378.03zM378.03 105.56H382.60V106.74H378.03zM379.16 106.69H383.73V107.87H379.16zM390.47 113.47H391.65V114.65H390.47zM391.60 114.60H392.78V115.79H391.60zM392.73 115.74H393.91V116.92H392.73zM393.86 116.87H395.04V118.05H393.86z"/><path fill="#d0416f" d="M364.46 70.50H365.64V71.68H364.46zM364.46 71.63H365.64V72.81H364.46zM365.59 73.89H366.77V75.07H365.59zM365.59 75.02H366.77V76.20H365.59zM365.59 76.15H366.77V77.33H365.59zM365.59 78.41H366.77V79.59H365.59zM365.59 79.54H366.77V80.72H365.59zM367.85 84.07H369.03V85.25H367.85zM367.85 85.20H369.03V86.38H367.85zM370.11 90.85H371.29V92.03H370.11zM370.11 91.98H371.29V93.17H370.11zM372.37 96.51H373.56V97.69H372.37zM370.11 97.64H371.29V98.82H370.11zM371.24 98.77H372.42V99.95H371.24zM375.77 103.29H376.95V104.48H375.77zM376.90 104.43H378.08V105.61H376.90zM380.29 107.82H384.87V109.00H380.29zM384.81 108.95H386.00V110.13H384.81zM385.95 110.08H387.13V111.26H385.95zM394.99 119.13H396.18V120.31H394.99z"/><path fill="#c73d73" d="M364.46 69.36H365.64V70.55H364.46zM364.46 75.02H365.64V76.20H364.46zM364.46 76.15H365.64V77.33H364.46zM364.46 79.54H365.64V80.72H364.46zM365.59 80.67H366.77V81.86H365.59zM366.72 85.20H367.90V86.38H366.72zM366.72 86.33H369.03V87.51H366.72zM368.98 90.85H370.16V92.03H368.98zM368.98 91.98H370.16V93.17H368.98zM370.11 94.25H371.29V95.43H370.11zM370.11 96.51H372.42V97.69H370.11zM372.37 97.64H373.56V98.82H372.37zM372.37 101.03H373.56V102.21H372.37zM373.50 102.16H374.69V103.34H373.50zM373.50 103.29H374.69V104.48H373.50zM381.42 108.95H384.87V110.13H381.42zM382.55 110.08H386.00V111.26H382.55zM384.81 111.21H388.26V112.39H384.81zM385.95 112.34H387.13V113.52H385.95zM388.21 112.34H389.39V113.52H388.21zM389.34 113.47H390.52V114.65H389.34zM393.86 118.00H395.04V119.18H393.86zM392.73 119.13H395.04V120.31H392.73zM392.73 120.26H395.04V121.44H392.73z"/><path fill="#bf3a77" d="M364.46 73.89H365.64V75.07H364.46zM364.46 78.41H365.64V79.59H364.46zM365.59 81.81H366.77V82.99H365.59zM365.59 82.94H367.90V84.12H365.59zM366.72 84.07H367.90V85.25H366.72zM367.85 88.59H369.03V89.77H367.85zM367.85 89.72H370.16V90.90H367.85zM368.98 94.25H370.16V95.43H368.98zM367.85 95.38H372.42V96.56H367.85zM368.98 96.51H370.16V97.69H368.98zM370.11 98.77H371.29V99.95H370.11zM371.24 99.90H372.42V101.08H371.24zM371.24 101.03H372.42V102.21H371.24zM371.24 102.16H373.56V103.34H371.24zM372.37 103.29H373.56V104.48H372.37zM374.64 103.29H375.82V104.48H374.64zM375.77 104.43H376.95V105.61H375.77zM376.90 105.56H378.08V106.74H376.90zM376.90 106.69H379.21V107.87H376.90zM383.68 111.21H384.87V112.39H383.68zM384.81 112.34H386.00V113.52H384.81zM387.08 112.34H388.26V113.52H387.08zM385.95 113.47H389.39V114.65H385.95zM388.21 114.60H391.65V115.79H388.21zM389.34 115.74H392.78V116.92H389.34zM392.73 116.87H393.91V118.05H392.73zM392.73 118.00H393.91V119.18H392.73z"/><path fill="#b73779" d="M363.33 70.50H364.51V71.68H363.33zM363.33 72.76H365.64V73.94H363.33zM363.33 73.89H364.51V75.07H363.33zM363.33 75.02H364.51V76.20H363.33zM364.46 77.28H365.64V78.46H364.46zM364.46 80.67H365.64V81.86H364.46zM364.46 81.81H365.64V82.99H364.46zM364.46 82.94H365.64V84.12H364.46zM364.46 84.07H366.77V85.25H364.46zM365.59 85.20H366.77V86.38H365.59zM366.72 87.46H367.90V88.64H366.72zM366.72 88.59H367.90V89.77H366.72zM366.72 89.72H367.90V90.90H366.72zM367.85 90.85H369.03V92.03H367.85zM366.72 93.12H370.16V94.30H366.72zM366.72 94.25H369.03V95.43H366.72zM368.98 97.64H370.16V98.82H368.98zM368.98 98.77H370.16V99.95H368.98zM368.98 99.90H371.29V101.08H368.98zM370.11 101.03H371.29V102.21H370.11zM371.24 103.29H372.42V104.48H371.24zM372.37 104.43H375.82V105.61H372.37zM374.64 105.56H376.95V106.74H374.64zM375.77 106.69H376.95V107.87H375.77zM376.90 107.82H380.34V109.00H376.90zM379.16 108.95H381.47V110.13H379.16zM387.08 114.60H388.26V115.79H387.08zM388.21 115.74H389.39V116.92H388.21zM389.34 116.87H392.78V118.05H389.34zM390.47 118.00H392.78V119.18H390.47zM391.60 119.13H392.78V120.31H391.60zM391.60 120.26H392.78V121.44H391.60zM391.60 121.39H393.91V122.57H391.60z"/><path fill="#ad347c" d="M362.19 71.63H364.51V72.81H362.19zM362.19 72.76H363.38V73.94H362.19zM362.19 73.89H363.38V75.07H362.19zM363.33 76.15H364.51V77.33H363.33zM363.33 77.28H364.51V78.46H363.33zM363.33 78.41H364.51V79.59H363.33zM363.33 80.67H364.51V81.86H363.33zM362.19 81.81H364.51V82.99H362.19zM363.33 82.94H364.51V84.12H363.33zM363.33 84.07H364.51V85.25H363.33zM363.33 85.20H364.51V86.38H363.33zM365.59 86.33H366.77V87.51H365.59zM364.46 87.46H366.77V88.64H364.46zM365.59 88.59H366.77V89.77H365.59zM363.33 89.72H364.51V90.90H363.33zM363.33 90.85H365.64V92.03H363.33zM364.46 91.98H366.77V93.17H364.46zM367.85 91.98H369.03V93.17H367.85zM365.59 93.12H366.77V94.30H365.59zM365.59 94.25H366.77V95.43H365.59zM366.72 96.51H369.03V97.69H366.72zM367.85 97.64H369.03V98.82H367.85zM367.85 98.77H369.03V99.95H367.85zM366.72 99.90H369.03V101.08H366.72zM366.72 101.03H370.16V102.21H366.72zM367.85 102.16H371.29V103.34H367.85zM368.98 103.29H371.29V104.48H368.98zM370.11 104.43H372.42V105.61H370.11zM371.24 105.56H372.42V106.74H371.24zM378.03 108.95H379.21V110.13H378.03zM379.16 110.08H382.60V111.26H379.16zM382.55 111.21H383.73V112.39H382.55zM383.68 112.34H384.87V113.52H383.68zM384.81 113.47H386.00V114.65H384.81zM390.47 121.39H391.65V122.57H390.47zM391.60 122.52H392.78V123.70H391.60z"/><path fill="#a5317e" d="M361.06 72.76H362.25V73.94H361.06zM362.19 76.15H363.38V77.33H362.19zM362.19 77.28H363.38V78.46H362.19zM363.33 79.54H364.51V80.72H363.33zM362.19 80.67H363.38V81.86H362.19zM362.19 82.94H363.38V84.12H362.19zM362.19 85.20H363.38V86.38H362.19zM364.46 85.20H365.64V86.38H364.46zM364.46 86.33H365.64V87.51H364.46zM359.93 87.46H362.25V88.64H359.93zM362.19 88.59H363.38V89.77H362.19zM362.19 89.72H363.38V90.90H362.19zM365.59 89.72H366.77V90.90H365.59zM365.59 90.85H367.90V92.03H365.59zM363.33 91.98H364.51V93.17H363.33zM366.72 91.98H367.90V93.17H366.72zM364.46 93.12H365.64V94.30H364.46zM364.46 94.25H365.64V95.43H364.46zM364.46 95.38H367.90V96.56H364.46zM365.59 96.51H366.77V97.69H365.59zM365.59 97.64H367.90V98.82H365.59zM365.59 98.77H367.90V99.95H365.59zM365.59 101.03H366.77V102.21H365.59zM366.72 102.16H367.90V103.34H366.72zM367.85 103.29H369.03V104.48H367.85zM368.98 104.43H370.16V105.61H368.98zM370.11 105.56H371.29V106.74H370.11zM373.50 105.56H374.69V106.74H373.50zM374.64 106.69H375.82V107.87H374.64zM375.77 107.82H376.95V109.00H375.77zM375.77 108.95H378.08V110.13H375.77zM380.29 111.21H382.60V112.39H380.29zM381.42 112.34H383.73V113.52H381.42zM382.55 113.47H384.87V114.65H382.55zM383.68 114.60H387.13V115.79H383.68zM385.95 115.74H388.26V116.92H385.95zM388.21 116.87H389.39V118.05H388.21zM389.34 118.00H390.52V119.18H389.34zM389.34 119.13H391.65V120.31H389.34zM389.34 120.26H391.65V121.44H389.34zM389.34 122.52H391.65V123.70H389.34zM389.34 123.65H391.65V124.25H389.34z"/><path fill="#9c2e7f" d="M361.06 73.89H362.25V75.07H361.06zM361.06 75.02H363.38V76.20H361.06zM361.06 78.41H363.38V79.59H361.06zM361.06 79.54H363.38V80.72H361.06zM361.06 80.67H362.25V81.86H361.06zM361.06 82.94H362.25V84.12H361.06zM361.06 84.07H363.38V85.25H361.06zM358.80 85.20H359.98V86.38H358.80zM358.80 86.33H361.11V87.51H358.80zM362.19 86.33H364.51V87.51H362.19zM359.93 88.59H362.25V89.77H359.93zM363.33 88.59H365.64V89.77H363.33zM358.80 89.72H359.98V90.90H358.80zM364.46 89.72H365.64V90.90H364.46zM361.06 90.85H363.38V92.03H361.06zM361.06 91.98H363.38V93.17H361.06zM362.19 93.12H364.51V94.30H362.19zM361.06 94.25H364.51V95.43H361.06zM359.93 95.38H364.51V96.56H359.93zM362.19 96.51H365.64V97.69H362.19zM362.19 97.64H365.64V98.82H362.19zM363.33 98.77H365.64V99.95H363.33zM364.46 99.90H366.77V101.08H364.46zM372.37 105.56H373.56V106.74H372.37zM370.11 106.69H374.69V107.87H370.11zM373.50 107.82H375.82V109.00H373.50zM374.64 108.95H375.82V110.13H374.64zM375.77 110.08H379.21V111.26H375.77zM384.81 115.74H386.00V116.92H384.81zM385.95 116.87H388.26V118.05H385.95zM387.08 118.00H389.39V119.18H387.08zM388.21 119.13H389.39V120.31H388.21zM388.21 123.65H389.39V124.25H388.21z"/><path fill="#932b80" d="M359.93 73.89H361.11V75.07H359.93zM359.93 75.02H361.11V76.20H359.93zM361.06 76.15H362.25V77.33H361.06zM361.06 77.28H362.25V78.46H361.06zM359.93 79.54H361.11V80.72H359.93zM361.06 81.81H362.25V82.99H361.06zM357.67 85.20H358.85V86.38H357.67zM361.06 85.20H362.25V86.38H361.06zM357.67 86.33H358.85V87.51H357.67zM361.06 86.33H362.25V87.51H361.06zM356.54 87.46H359.98V88.64H356.54zM362.19 87.46H364.51V88.64H362.19zM357.67 88.59H359.98V89.77H357.67zM359.93 89.72H362.25V90.90H359.93zM359.93 90.85H361.11V92.03H359.93zM358.80 96.51H362.25V97.69H358.80zM357.67 97.64H362.25V98.82H357.67zM356.54 98.77H362.25V99.95H356.54zM357.67 99.90H361.11V101.08H357.67zM358.80 101.03H359.98V102.21H358.80zM364.46 102.16H366.77V103.34H364.46zM363.33 103.29H367.90V104.48H363.33zM366.72 104.43H369.03V105.61H366.72zM368.98 105.56H370.16V106.74H368.98zM372.37 107.82H373.56V109.00H372.37zM373.50 108.95H374.69V110.13H373.50zM374.64 110.08H375.82V111.26H374.64zM375.77 111.21H378.08V112.39H375.77z"/><path fill="#8b2981" d="M359.93 78.41H361.11V79.59H359.93zM359.93 80.67H361.11V81.86H359.93zM359.93 81.81H361.11V82.99H359.93zM359.93 82.94H361.11V84.12H359.93zM357.67 84.07H358.85V85.25H357.67zM359.93 84.07H361.11V85.25H359.93zM356.54 85.20H357.72V86.38H356.54zM359.93 85.20H361.11V86.38H359.93zM355.41 86.33H357.72V87.51H355.41zM352.02 90.85H353.20V92.03H352.02zM358.80 90.85H359.98V92.03H358.80zM357.67 91.98H361.11V93.17H357.67zM356.54 93.12H362.25V94.30H356.54zM354.28 94.25H361.11V95.43H354.28zM354.28 95.38H359.98V96.56H354.28zM354.28 96.51H358.85V97.69H354.28zM354.28 97.64H357.72V98.82H354.28zM354.28 98.77H356.59V99.95H354.28zM362.19 98.77H363.38V99.95H362.19zM354.28 99.90H355.46V101.08H354.28zM361.06 99.90H364.51V101.08H361.06zM359.93 101.03H365.64V102.21H359.93zM359.93 102.16H361.11V103.34H359.93zM362.19 102.16H364.51V103.34H362.19zM362.19 104.43H366.77V105.61H362.19zM363.33 105.56H369.03V106.74H363.33zM364.46 106.69H365.64V107.87H364.46zM367.85 106.69H370.16V107.87H367.85zM368.98 107.82H370.16V109.00H368.98zM378.03 111.21H380.34V112.39H378.03zM380.29 112.34H381.47V113.52H380.29zM381.42 113.47H382.60V114.65H381.42zM382.55 114.60H383.73V115.79H382.55zM388.21 120.26H389.39V121.44H388.21zM388.21 121.39H390.52V122.57H388.21zM388.21 122.52H389.39V123.70H388.21z"/><path fill="#832681" d="M358.80 75.02H359.98V76.20H358.80zM358.80 76.15H361.11V77.33H358.80zM359.93 77.28H361.11V78.46H359.93zM358.80 80.67H359.98V81.86H358.80zM358.80 81.81H359.98V82.99H358.80zM356.54 84.07H357.72V85.25H356.54zM358.80 84.07H359.98V85.25H358.80zM350.88 88.59H352.07V89.77H350.88zM349.75 89.72H353.20V90.90H349.75zM349.75 90.85H352.07V92.03H349.75zM349.75 91.98H352.07V93.17H349.75zM353.15 91.98H355.46V93.17H353.15zM353.15 93.12H356.59V94.30H353.15zM352.02 94.25H354.33V95.43H352.02zM352.02 95.38H354.33V96.56H352.02zM352.02 96.51H354.33V97.69H352.02zM352.02 97.64H354.33V98.82H352.02zM350.88 98.77H354.33V99.95H350.88zM349.75 99.90H354.33V101.08H349.75zM355.41 99.90H357.72V101.08H355.41zM350.88 101.03H358.85V102.21H350.88zM350.88 102.16H357.72V103.34H350.88zM361.06 102.16H362.25V103.34H361.06zM353.15 103.29H355.46V104.48H353.15zM361.06 103.29H363.38V104.48H361.06zM355.41 104.43H356.59V105.61H355.41zM355.41 105.56H357.72V106.74H355.41zM362.19 105.56H363.38V106.74H362.19zM355.41 106.69H357.72V107.87H355.41zM365.59 106.69H367.90V107.87H365.59zM358.80 107.82H359.98V109.00H358.80zM365.59 107.82H369.03V109.00H365.59zM370.11 107.82H372.42V109.00H370.11zM367.85 108.95H369.03V110.13H367.85zM371.24 108.95H373.56V110.13H371.24zM373.50 110.08H374.69V111.26H373.50zM373.50 111.21H375.82V112.39H373.50zM375.77 112.34H380.34V113.52H375.77zM379.16 113.47H381.47V114.65H379.16zM380.29 114.60H382.60V115.79H380.29zM382.55 115.74H384.87V116.92H382.55zM387.08 119.13H388.26V120.31H387.08zM387.08 120.26H388.26V121.44H387.08zM387.08 121.39H388.26V122.57H387.08zM387.08 122.52H388.26V123.70H387.08z"/><path fill="#792282" d="M357.67 76.15H358.85V77.33H357.67zM358.80 77.28H359.98V78.46H358.80zM358.80 78.41H359.98V79.59H358.80zM358.80 79.54H359.98V80.72H358.80zM357.67 81.81H358.85V82.99H357.67zM356.54 82.94H359.98V84.12H356.54zM355.41 84.07H356.59V85.25H355.41zM354.28 85.20H356.59V86.38H354.28zM354.28 86.33H355.46V87.51H354.28zM353.15 87.46H356.59V88.64H353.15zM353.15 88.59H355.46V89.77H353.15zM353.15 89.72H354.33V90.90H353.15zM348.62 90.85H349.80V92.03H348.62zM353.15 90.85H354.33V92.03H353.15zM356.54 90.85H358.85V92.03H356.54zM352.02 91.98H353.20V93.17H352.02zM356.54 91.98H357.72V93.17H356.54zM348.62 93.12H353.20V94.30H348.62zM348.62 94.25H349.80V95.43H348.62zM350.88 94.25H352.07V95.43H350.88zM347.49 95.38H348.67V96.56H347.49zM350.88 95.38H352.07V96.56H350.88zM349.75 96.51H352.07V97.69H349.75zM348.62 97.64H352.07V98.82H348.62zM348.62 98.77H350.94V99.95H348.62zM348.62 99.90H349.80V101.08H348.62zM348.62 101.03H350.94V102.21H348.62zM348.62 102.16H350.94V103.34H348.62zM357.67 102.16H359.98V103.34H357.67zM349.75 103.29H353.20V104.48H349.75zM355.41 103.29H361.11V104.48H355.41zM350.88 104.43H355.46V105.61H350.88zM356.54 104.43H359.98V105.61H356.54zM352.02 105.56H355.46V106.74H352.02zM361.06 105.56H362.25V106.74H361.06zM346.36 106.69H347.54V107.87H346.36zM354.28 106.69H355.46V107.87H354.28zM357.67 106.69H358.85V107.87H357.67zM359.93 106.69H364.51V107.87H359.93zM354.28 107.82H358.85V109.00H354.28zM359.93 107.82H364.51V109.00H359.93zM355.41 108.95H363.38V110.13H355.41zM366.72 108.95H367.90V110.13H366.72zM368.98 108.95H371.29V110.13H368.98zM356.54 110.08H362.25V111.26H356.54zM370.11 110.08H373.56V111.26H370.11zM357.67 111.21H361.11V112.39H357.67zM371.24 111.21H373.56V112.39H371.24zM372.37 112.34H375.82V113.52H372.37zM374.64 113.47H375.82V114.65H374.64zM378.03 113.47H379.21V114.65H378.03zM379.16 114.60H380.34V115.79H379.16zM380.29 115.74H382.60V116.92H380.29zM381.42 116.87H386.00V118.05H381.42zM384.81 118.00H387.13V119.18H384.81zM385.95 119.13H387.13V120.31H385.95zM385.95 120.26H387.13V121.44H385.95zM385.95 121.39H387.13V122.57H385.95zM387.08 123.65H388.26V124.25H387.08z"/><path fill="#721f81" d="M357.67 77.28H358.85V78.46H357.67zM357.67 80.67H358.85V81.86H357.67zM355.41 82.94H356.59V84.12H355.41zM353.15 86.33H354.33V87.51H353.15zM352.02 87.46H353.20V88.64H352.02zM352.02 88.59H353.20V89.77H352.02zM355.41 88.59H357.72V89.77H355.41zM354.28 89.72H358.85V90.90H354.28zM354.28 90.85H356.59V92.03H354.28zM347.49 91.98H349.80V93.17H347.49zM355.41 91.98H356.59V93.17H355.41zM346.36 93.12H348.67V94.30H346.36zM346.36 94.25H348.67V95.43H346.36zM349.75 94.25H350.94V95.43H349.75zM346.36 95.38H347.54V96.56H346.36zM348.62 95.38H350.94V96.56H348.62zM345.23 96.51H349.80V97.69H345.23zM346.36 97.64H348.67V98.82H346.36zM345.23 98.77H348.67V99.95H345.23zM346.36 99.90H348.67V101.08H346.36zM347.49 101.03H348.67V102.21H347.49zM342.97 103.29H344.15V104.48H342.97zM348.62 103.29H349.80V104.48H348.62zM342.97 104.43H345.28V105.61H342.97zM348.62 104.43H350.94V105.61H348.62zM359.93 104.43H362.25V105.61H359.93zM342.97 105.56H346.41V106.74H342.97zM357.67 105.56H361.11V106.74H357.67zM342.97 106.69H346.41V107.87H342.97zM353.15 106.69H354.33V107.87H353.15zM358.80 106.69H359.98V107.87H358.80zM342.97 107.82H347.54V109.00H342.97zM353.15 107.82H354.33V109.00H353.15zM364.46 107.82H365.64V109.00H364.46zM330.53 108.95H332.84V110.13H330.53zM344.10 108.95H346.41V110.13H344.10zM354.28 108.95H355.46V110.13H354.28zM363.33 108.95H366.77V110.13H363.33zM329.40 110.08H333.97V111.26H329.40zM362.19 110.08H370.16V111.26H362.19zM328.26 111.21H335.10V112.39H328.26zM355.41 111.21H357.72V112.39H355.41zM361.06 111.21H362.25V112.39H361.06zM366.72 111.21H371.29V112.39H366.72zM327.13 112.34H329.45V113.52H327.13zM330.53 112.34H336.23V113.52H330.53zM345.23 112.34H347.54V113.52H345.23zM354.28 112.34H359.98V113.52H354.28zM368.98 112.34H372.42V113.52H368.98zM326.00 113.47H328.31V114.65H326.00zM331.66 113.47H336.23V114.65H331.66zM344.10 113.47H348.67V114.65H344.10zM353.15 113.47H354.33V114.65H353.15zM370.11 113.47H374.69V114.65H370.11zM375.77 113.47H378.08V114.65H375.77zM326.00 114.60H327.18V115.79H326.00zM332.79 114.60H335.10V115.79H332.79zM344.10 114.60H349.80V115.79H344.10zM352.02 114.60H355.46V115.79H352.02zM374.64 114.60H378.08V115.79H374.64zM324.87 115.74H328.31V116.92H324.87zM345.23 115.74H356.59V116.92H345.23zM378.03 115.74H380.34V116.92H378.03zM323.74 116.87H329.45V118.05H323.74zM338.44 116.87H340.76V118.05H338.44zM346.36 116.87H354.33V118.05H346.36zM379.16 116.87H381.47V118.05H379.16zM324.87 118.00H330.58V119.18H324.87zM337.31 118.00H341.89V119.18H337.31zM347.49 118.00H349.80V119.18H347.49zM382.55 118.00H384.87V119.18H382.55zM326.00 119.13H331.71V120.31H326.00zM337.31 119.13H343.02V120.31H337.31zM383.68 119.13H386.00V120.31H383.68zM327.13 120.26H332.84V121.44H327.13zM338.44 120.26H344.15V121.44H338.44zM384.81 120.26H386.00V121.44H384.81zM328.26 121.39H333.97V122.57H328.26zM339.57 121.39H345.28V122.57H339.57zM321.48 122.52H323.79V123.70H321.48zM329.40 122.52H332.84V123.70H329.40zM340.71 122.52H344.15V123.70H340.71zM385.95 122.52H387.13V123.70H385.95zM320.35 123.65H324.92V124.25H320.35zM330.53 123.65H331.71V124.25H330.53zM341.84 123.65H343.02V124.25H341.84zM385.95 123.65H387.13V124.25H385.95z"/><path fill="#6a1c81" d="M356.54 77.28H357.72V78.46H356.54zM357.67 78.41H358.85V79.59H357.67zM357.67 79.54H358.85V80.72H357.67zM356.54 81.81H357.72V82.99H356.54zM354.28 84.07H355.46V85.25H354.28zM353.15 85.20H354.33V86.38H353.15zM349.75 88.59H350.94V89.77H349.75zM348.62 89.72H349.80V90.90H348.62zM345.23 94.25H346.41V95.43H345.23zM344.10 95.38H346.41V96.56H344.10zM342.97 96.51H345.28V97.69H342.97zM344.10 97.64H346.41V98.82H344.10zM344.10 99.90H346.41V101.08H344.10zM342.97 101.03H347.54V102.21H342.97zM341.84 102.16H348.67V103.34H341.84zM340.71 103.29H343.02V104.48H340.71zM344.10 103.29H348.67V104.48H344.10zM339.57 104.43H343.02V105.61H339.57zM345.23 104.43H348.67V105.61H345.23zM333.92 105.56H335.10V106.74H333.92zM340.71 105.56H343.02V106.74H340.71zM346.36 105.56H352.07V106.74H346.36zM332.79 106.69H336.23V107.87H332.79zM341.84 106.69H343.02V107.87H341.84zM347.49 106.69H348.67V107.87H347.49zM350.88 106.69H353.20V107.87H350.88zM331.66 107.82H336.23V109.00H331.66zM341.84 107.82H343.02V109.00H341.84zM347.49 107.82H348.67V109.00H347.49zM352.02 107.82H353.20V109.00H352.02zM332.79 108.95H335.10V110.13H332.79zM340.71 108.95H344.15V110.13H340.71zM348.62 108.95H349.80V110.13H348.62zM352.02 108.95H354.33V110.13H352.02zM339.57 110.08H345.28V111.26H339.57zM349.75 110.08H356.59V111.26H349.75zM338.44 111.21H346.41V112.39H338.44zM349.75 111.21H355.46V112.39H349.75zM362.19 111.21H366.77V112.39H362.19zM329.40 112.34H330.58V113.52H329.40zM337.31 112.34H345.28V113.52H337.31zM348.62 112.34H354.33V113.52H348.62zM359.93 112.34H361.11V113.52H359.93zM364.46 112.34H369.03V113.52H364.46zM328.26 113.47H331.71V114.65H328.26zM336.18 113.47H344.15V114.65H336.18zM348.62 113.47H353.20V114.65H348.62zM354.28 113.47H358.85V114.65H354.28zM365.59 113.47H370.16V114.65H365.59zM324.87 114.60H326.05V115.79H324.87zM327.13 114.60H332.84V115.79H327.13zM335.05 114.60H344.15V115.79H335.05zM349.75 114.60H352.07V115.79H349.75zM355.41 114.60H357.72V115.79H355.41zM368.98 114.60H374.69V115.79H368.98zM378.03 114.60H379.21V115.79H378.03zM323.74 115.74H324.92V116.92H323.74zM328.26 115.74H345.28V116.92H328.26zM372.37 115.74H373.56V116.92H372.37zM374.64 115.74H378.08V116.92H374.64zM329.40 116.87H332.84V118.05H329.40zM335.05 116.87H338.49V118.05H335.05zM340.71 116.87H346.41V118.05H340.71zM354.28 116.87H357.72V118.05H354.28zM376.90 116.87H379.21V118.05H376.90zM330.53 118.00H331.71V119.18H330.53zM336.18 118.00H337.36V119.18H336.18zM341.84 118.00H347.54V119.18H341.84zM349.75 118.00H356.59V119.18H349.75zM378.03 118.00H379.21V119.18H378.03zM381.42 118.00H382.60V119.18H381.42zM336.18 119.13H337.36V120.31H336.18zM342.97 119.13H355.46V120.31H342.97zM382.55 119.13H383.73V120.31H382.55zM320.35 120.26H321.53V121.44H320.35zM335.05 120.26H338.49V121.44H335.05zM344.10 120.26H354.33V121.44H344.10zM383.68 120.26H384.87V121.44H383.68zM319.22 121.39H322.66V122.57H319.22zM333.92 121.39H339.62V122.57H333.92zM345.23 121.39H354.33V122.57H345.23zM383.68 121.39H386.00V122.57H383.68zM318.09 122.52H321.53V123.70H318.09zM332.79 122.52H340.76V123.70H332.79zM346.36 122.52H349.80V123.70H346.36zM352.02 122.52H354.33V123.70H352.02zM355.41 122.52H356.59V123.70H355.41zM379.16 122.52H380.34V123.70H379.16zM384.81 122.52H386.00V123.70H384.81zM316.95 123.65H320.40V124.25H316.95zM331.66 123.65H341.89V124.25H331.66zM347.49 123.65H348.67V124.25H347.49zM353.15 123.65H357.72V124.25H353.15zM379.16 123.65H381.47V124.25H379.16zM383.68 123.65H386.00V124.25H383.68z"/><path fill="#601880" d="M355.41 78.41H357.72V79.59H355.41zM352.02 86.33H353.20V87.51H352.02zM350.88 87.46H352.07V88.64H350.88zM347.49 90.85H348.67V92.03H347.49zM342.97 98.77H345.28V99.95H342.97zM339.57 99.90H340.76V101.08H339.57zM338.44 101.03H341.89V102.21H338.44zM337.31 102.16H341.89V103.34H337.31zM336.18 103.29H340.76V104.48H336.18zM335.05 104.43H339.62V105.61H335.05zM335.05 105.56H340.76V106.74H335.05zM336.18 106.69H341.89V107.87H336.18zM348.62 106.69H350.94V107.87H348.62zM336.18 107.82H341.89V109.00H336.18zM348.62 107.82H352.07V109.00H348.62zM335.05 108.95H340.76V110.13H335.05zM346.36 108.95H348.67V110.13H346.36zM349.75 108.95H352.07V110.13H349.75zM333.92 110.08H339.62V111.26H333.92zM345.23 110.08H349.80V111.26H345.23zM335.05 111.21H338.49V112.39H335.05zM346.36 111.21H349.80V112.39H346.36zM336.18 112.34H337.36V113.52H336.18zM347.49 112.34H348.67V113.52H347.49zM361.06 112.34H364.51V113.52H361.06zM358.80 113.47H365.64V114.65H358.80zM357.67 114.60H369.03V115.79H357.67zM356.54 115.74H361.11V116.92H356.54zM367.85 115.74H372.42V116.92H367.85zM373.50 115.74H374.69V116.92H373.50zM332.79 116.87H335.10V118.05H332.79zM374.64 116.87H376.95V118.05H374.64zM323.74 118.00H324.92V119.18H323.74zM331.66 118.00H336.23V119.18H331.66zM356.54 118.00H358.85V119.18H356.54zM376.90 118.00H378.08V119.18H376.90zM379.16 118.00H381.47V119.18H379.16zM322.61 119.13H326.05V120.31H322.61zM331.66 119.13H336.23V120.31H331.66zM355.41 119.13H358.85V120.31H355.41zM376.90 119.13H378.08V120.31H376.90zM380.29 119.13H382.60V120.31H380.29zM319.22 120.26H320.40V121.44H319.22zM321.48 120.26H327.18V121.44H321.48zM332.79 120.26H335.10V121.44H332.79zM354.28 120.26H357.72V121.44H354.28zM381.42 120.26H383.73V121.44H381.42zM318.09 121.39H319.27V122.57H318.09zM322.61 121.39H328.31V122.57H322.61zM354.28 121.39H356.59V122.57H354.28zM381.42 121.39H383.73V122.57H381.42zM316.95 122.52H318.14V123.70H316.95zM323.74 122.52H329.45V123.70H323.74zM344.10 122.52H346.41V123.70H344.10zM349.75 122.52H352.07V123.70H349.75zM354.28 122.52H355.46V123.70H354.28zM356.54 122.52H357.72V123.70H356.54zM378.03 122.52H379.21V123.70H378.03zM382.55 122.52H384.87V123.70H382.55zM315.82 123.65H317.00V124.25H315.82zM324.87 123.65H330.58V124.25H324.87zM342.97 123.65H347.54V124.25H342.97zM348.62 123.65H353.20V124.25H348.62zM357.67 123.65H358.85V124.25H357.67zM376.90 123.65H379.21V124.25H376.90zM381.42 123.65H383.73V124.25H381.42z"/><path fill="#59157e" d="M355.41 79.54H357.72V80.72H355.41zM356.54 80.67H357.72V81.86H356.54zM346.36 91.98H347.54V93.17H346.36zM345.23 93.12H346.41V94.30H345.23zM344.10 94.25H345.28V95.43H344.10zM341.84 97.64H344.15V98.82H341.84zM340.71 98.77H343.02V99.95H340.71zM340.71 99.90H344.15V101.08H340.71zM341.84 101.03H343.02V102.21H341.84zM361.06 115.74H367.90V116.92H361.06zM322.61 116.87H323.79V118.05H322.61zM357.67 116.87H361.11V118.05H357.67zM363.33 116.87H374.69V118.05H363.33zM321.48 118.00H323.79V119.18H321.48zM358.80 118.00H359.98V119.18H358.80zM370.11 118.00H371.29V119.18H370.11zM374.64 118.00H376.95V119.18H374.64zM320.35 119.13H322.66V120.31H320.35zM358.80 119.13H359.98V120.31H358.80zM375.77 119.13H376.95V120.31H375.77zM378.03 119.13H380.34V120.31H378.03zM357.67 120.26H359.98V121.44H357.67zM376.90 120.26H381.47V121.44H376.90zM356.54 121.39H359.98V122.57H356.54zM376.90 121.39H379.21V122.57H376.90zM380.29 121.39H381.47V122.57H380.29zM357.67 122.52H359.98V123.70H357.67zM376.90 122.52H378.08V123.70H376.90zM380.29 122.52H382.60V123.70H380.29zM358.80 123.65H362.25V124.25H358.80zM375.77 123.65H376.95V124.25H375.77z"/><path fill="#51127c" d="M354.28 79.54H355.46V80.72H354.28zM353.15 80.67H355.46V81.86H353.15zM355.41 81.81H356.59V82.99H355.41zM342.97 95.38H344.15V96.56H342.97zM332.79 105.56H333.97V106.74H332.79zM330.53 107.82H331.71V109.00H330.53zM329.40 108.95H330.58V110.13H329.40zM328.26 110.08H329.45V111.26H328.26zM327.13 111.21H328.31V112.39H327.13zM326.00 112.34H327.18V113.52H326.00zM324.87 113.47H326.05V114.65H324.87zM361.06 116.87H363.38V118.05H361.06zM359.93 118.00H370.16V119.18H359.93zM371.24 118.00H374.69V119.18H371.24zM359.93 119.13H361.11V120.31H359.93zM362.19 119.13H366.77V120.31H362.19zM373.50 119.13H375.82V120.31H373.50zM359.93 120.26H365.64V121.44H359.93zM374.64 120.26H376.95V121.44H374.64zM359.93 121.39H365.64V122.57H359.93zM373.50 121.39H376.95V122.57H373.50zM379.16 121.39H380.34V122.57H379.16zM359.93 122.52H369.03V123.70H359.93zM374.64 122.52H376.95V123.70H374.64zM362.19 123.65H370.16V124.25H362.19zM372.37 123.65H375.82V124.25H372.37z"/><path fill="#471078" d="M355.41 80.67H356.59V81.86H355.41zM354.28 81.81H355.46V82.99H354.28zM354.28 82.94H355.46V84.12H354.28zM341.84 96.51H343.02V97.69H341.84zM338.44 99.90H339.62V101.08H338.44zM337.31 101.03H338.49V102.21H337.31zM336.18 102.16H337.36V103.34H336.18zM335.05 103.29H336.23V104.48H335.05zM331.66 106.69H332.84V107.87H331.66zM323.74 114.60H324.92V115.79H323.74zM322.61 115.74H323.79V116.92H322.61zM361.06 119.13H362.25V120.31H361.06zM366.72 119.13H373.56V120.31H366.72zM365.59 120.26H374.69V121.44H365.59zM365.59 121.39H369.03V122.57H365.59zM370.11 121.39H373.56V122.57H370.11zM368.98 122.52H374.69V123.70H368.98zM370.11 123.65H372.42V124.25H370.11z"/><path fill="#3f0f72" d="M352.02 81.81H354.33V82.99H352.02zM353.15 84.07H354.33V85.25H353.15zM349.75 87.46H350.94V88.64H349.75zM348.62 88.59H349.80V89.77H348.62zM340.71 97.64H341.89V98.82H340.71zM339.57 98.77H340.76V99.95H339.57zM333.92 104.43H335.10V105.61H333.92zM319.22 119.13H320.40V120.31H319.22zM318.09 120.26H319.27V121.44H318.09zM316.95 121.39H318.14V122.57H316.95zM368.98 121.39H370.16V122.57H368.98z"/><path fill="#36106b" d="M350.88 82.94H354.33V84.12H350.88zM352.02 85.20H353.20V86.38H352.02zM350.88 86.33H352.07V87.51H350.88zM347.49 89.72H348.67V90.90H347.49zM321.48 116.87H322.66V118.05H321.48zM320.35 118.00H321.53V119.18H320.35zM315.82 122.52H317.00V123.70H315.82zM314.69 123.65H315.87V124.25H314.69z"/><path fill="#2c115f" d="M349.75 84.07H353.20V85.25H349.75zM347.49 86.33H349.80V87.51H347.49zM348.62 87.46H349.80V88.64H348.62zM346.36 90.85H347.54V92.03H346.36zM345.23 91.98H346.41V93.17H345.23zM344.10 93.12H345.28V94.30H344.10zM342.97 94.25H344.15V95.43H342.97zM341.84 95.38H343.02V96.56H341.84z"/><path fill="#241253" d="M348.62 85.20H352.07V86.38H348.62zM349.75 86.33H350.94V87.51H349.75zM346.36 87.46H348.67V88.64H346.36zM346.36 88.59H348.67V89.77H346.36zM338.44 98.77H339.62V99.95H338.44zM337.31 99.90H338.49V101.08H337.31zM336.18 101.03H337.36V102.21H336.18zM329.40 107.82H330.58V109.00H329.40zM328.26 108.95H329.45V110.13H328.26zM327.13 110.08H328.31V111.26H327.13zM326.00 111.21H327.18V112.39H326.00zM324.87 112.34H326.05V113.52H324.87zM323.74 113.47H324.92V114.65H323.74zM322.61 114.60H323.79V115.79H322.61z"/><path fill="#1d1147" d="M345.23 88.59H346.41V89.77H345.23zM344.10 89.72H347.54V90.90H344.10zM345.23 90.85H346.41V92.03H345.23zM341.84 91.98H345.28V93.17H341.84zM340.71 93.12H344.15V94.30H340.71zM340.71 94.25H343.02V95.43H340.71zM340.71 96.51H341.89V97.69H340.71zM339.57 97.64H340.76V98.82H339.57zM335.05 102.16H336.23V103.34H335.05zM333.92 103.29H335.10V104.48H333.92zM332.79 104.43H333.97V105.61H332.79zM328.26 105.56H329.45V106.74H328.26zM331.66 105.56H332.84V106.74H331.66zM327.13 106.69H331.71V107.87H327.13zM326.00 107.82H329.45V109.00H326.00zM324.87 108.95H328.31V110.13H324.87zM323.74 110.08H327.18V111.26H323.74zM322.61 111.21H326.05V112.39H322.61zM321.48 112.34H324.92V113.52H321.48zM320.35 113.47H323.79V114.65H320.35zM321.48 114.60H322.66V115.79H321.48zM316.95 116.87H318.14V118.05H316.95zM315.82 118.00H319.27V119.18H315.82zM314.69 119.13H319.27V120.31H314.69zM315.82 120.26H318.14V121.44H315.82zM315.82 121.39H317.00V122.57H315.82zM314.69 122.52H315.87V123.70H314.69zM313.56 123.65H314.74V124.25H313.56z"/><path fill="#150e38" d="M342.97 90.85H345.28V92.03H342.97zM336.18 97.64H338.49V98.82H336.18zM335.05 98.77H338.49V99.95H335.05zM333.92 99.90H337.36V101.08H333.92zM332.79 101.03H336.23V102.21H332.79zM331.66 102.16H335.10V103.34H331.66zM330.53 103.29H333.97V104.48H330.53zM329.40 104.43H332.84V105.61H329.40zM329.40 105.56H331.71V106.74H329.40zM321.48 115.74H322.66V116.92H321.48zM320.35 116.87H321.53V118.05H320.35zM319.22 118.00H320.40V119.18H319.22zM313.56 120.26H315.87V121.44H313.56zM312.43 121.39H315.87V122.57H312.43zM312.43 122.52H314.74V123.70H312.43z"/><path fill="#100b2d" d="M339.57 94.25H340.76V95.43H339.57zM338.44 95.38H341.89V96.56H338.44zM337.31 96.51H340.76V97.69H337.31zM338.44 97.64H339.62V98.82H338.44zM319.22 114.60H321.53V115.79H319.22zM318.09 115.74H321.53V116.92H318.09zM318.09 116.87H320.40V118.05H318.09z"/><path fill="#0a0822" d="M311.30 123.65H313.61V124.25H311.30z"/></g>
<g shape-rendering="crispEdges"><path fill="#fed799" d="M165.54 166.00H170.12V167.18H165.54zM162.15 167.13H172.38V168.31H162.15zM162.15 168.26H173.51V169.44H162.15zM162.15 169.39H174.64V170.57H162.15zM158.75 170.52H175.77V171.70H158.75zM158.75 171.65H178.03V172.83H158.75zM158.75 172.78H179.16V173.96H158.75zM155.36 173.91H179.16V175.09H155.36zM155.36 175.04H179.16V176.23H155.36zM155.36 176.18H180.29V177.36H155.36zM151.97 177.31H180.29V178.49H151.97zM151.97 178.44H180.29V179.62H151.97zM151.97 179.57H181.43V180.75H151.97zM146.31 180.70H181.43V181.88H146.31zM145.18 181.83H181.43V183.01H145.18zM145.18 182.96H182.56V184.14H145.18zM141.79 184.09H182.56V185.27H141.79zM141.79 185.22H182.56V186.41H141.79zM141.79 186.35H183.69V187.54H141.79zM136.13 187.49H183.69V188.67H136.13zM135.00 188.62H183.69V189.80H135.00zM135.00 189.75H184.82V190.93H135.00zM131.61 190.88H184.82V192.06H131.61zM131.61 192.01H184.82V193.19H131.61zM131.61 193.14H185.95V194.32H131.61zM128.22 194.27H185.95V195.45H128.22zM128.22 195.40H185.95V196.58H128.22zM128.22 196.53H187.08V197.72H128.22zM124.83 197.66H187.08V198.85H124.83zM124.83 198.80H187.08V199.98H124.83zM124.83 199.93H188.21V201.11H124.83zM122.56 201.06H188.21V202.24H122.56zM121.43 202.19H188.21V203.37H121.43zM121.43 203.32H189.34V204.50H121.43zM119.17 204.45H189.34V205.63H119.17zM118.04 205.58H189.34V206.76H118.04zM118.04 206.71H189.34V207.89H118.04zM114.65 207.84H190.47V209.03H114.65zM114.65 208.97H190.47V210.16H114.65zM114.65 210.11H190.47V211.29H114.65zM111.25 211.24H190.47V212.42H111.25zM111.25 212.37H191.60V213.55H111.25zM111.25 213.50H191.60V214.68H111.25zM107.86 214.63H191.60V215.81H107.86zM107.86 215.76H191.60V216.94H107.86zM107.86 216.89H192.74V218.07H107.86zM104.47 218.02H192.74V219.20H104.47zM104.47 219.15H192.74V220.34H104.47zM106.73 220.28H192.74V221.47H106.73zM101.07 221.42H103.39V222.60H101.07zM106.73 221.42H113.56V222.60H106.73zM114.65 221.42H192.74V222.60H114.65zM101.07 222.55H102.25V223.73H101.07zM106.73 222.55H112.43V223.73H106.73zM114.65 222.55H193.87V223.73H114.65zM107.86 223.68H111.30V224.86H107.86zM114.65 223.68H193.87V224.86H114.65zM107.86 224.81H110.17V225.99H107.86zM115.78 224.81H120.35V225.99H115.78zM122.56 224.81H193.87V225.99H122.56zM107.86 225.94H109.04V227.12H107.86zM115.78 225.94H119.22V227.12H115.78zM123.69 225.94H193.87V227.12H123.69zM115.78 227.07H118.09V228.25H115.78zM123.69 227.07H129.40V228.25H123.69zM131.61 227.07H195.00V228.25H131.61zM123.69 228.20H127.14V229.38H123.69zM131.61 228.20H138.45V229.38H131.61zM139.53 228.20H195.00V229.38H139.53zM124.83 229.33H126.01V230.51H124.83zM131.61 229.33H137.32V230.51H131.61zM139.53 229.33H195.00V230.51H139.53zM132.74 230.46H136.19V231.65H132.74zM139.53 230.46H146.36V231.65H139.53zM147.44 230.46H196.13V231.65H147.44zM132.74 231.59H133.92V232.78H132.74zM140.66 231.59H145.23V232.78H140.66zM147.44 231.59H196.13V232.78H147.44zM140.66 232.73H144.10V233.91H140.66zM148.58 232.73H154.28V233.91H148.58zM156.49 232.73H196.13V233.91H156.49zM140.66 233.86H142.97V235.04H140.66zM148.58 233.86H153.15V235.04H148.58zM156.49 233.86H196.13V235.04H156.49zM149.71 234.99H152.02V236.17H149.71zM156.49 234.99H162.20V236.17H156.49zM164.41 234.99H197.26V236.17H164.41zM149.71 236.12H150.89V237.30H149.71zM157.62 236.12H161.07V237.30H157.62zM164.41 236.12H197.26V237.30H164.41zM157.62 237.25H159.94V238.43H157.62zM165.54 237.25H171.25V238.43H165.54zM172.33 237.25H197.26V238.43H172.33zM157.62 238.38H158.81V239.56H157.62zM165.54 238.38H168.98V239.56H165.54zM173.46 238.38H198.39V239.56H173.46zM165.54 239.51H167.85V240.69H165.54zM173.46 239.51H179.16V240.69H173.46zM181.38 239.51H197.26V240.69H181.38zM173.46 240.64H178.03V241.82H173.46zM181.38 240.64H188.21V241.82H181.38zM189.29 240.64H197.26V241.82H189.29zM174.59 241.77H175.77V242.96H174.59zM181.38 241.77H187.08V242.96H181.38zM189.29 241.77H197.26V242.96H189.29zM182.51 242.90H185.95V244.09H182.51zM189.29 242.90H196.13V244.09H189.29zM182.51 244.04H184.82V245.22H182.51zM190.42 244.04H195.00V245.22H190.42zM190.42 245.17H193.87V246.35H190.42zM190.42 246.30H192.74V247.48H190.42zM187.03 255.35H188.21V256.53H187.03zM185.90 256.48H187.08V257.66H185.90zM184.77 257.61H185.95V258.79H184.77zM183.64 258.74H184.82V259.92H183.64zM182.51 259.87H183.69V261.05H182.51zM181.38 261.00H182.56V262.18H181.38zM180.24 262.13H182.56V263.31H180.24zM179.11 263.26H181.43V264.44H179.11zM177.98 264.39H180.29V265.57H177.98zM176.85 265.52H179.16V266.71H176.85zM175.72 266.66H178.03V267.84H175.72zM174.59 267.79H176.90V268.97H174.59zM173.46 268.92H175.77V270.10H173.46zM172.33 270.05H175.77V271.23H172.33zM171.20 271.18H174.64V272.36H171.20zM170.06 272.31H173.51V273.49H170.06zM168.93 273.44H172.38V274.62H168.93zM167.80 274.57H171.25V275.75H167.80zM166.67 275.70H170.12V276.88H166.67zM165.54 276.83H168.98V278.02H165.54zM164.41 277.97H168.98V279.15H164.41zM163.28 279.10H167.85V280.28H163.28zM162.15 280.23H166.72V281.41H162.15zM162.15 281.36H165.59V282.54H162.15zM161.02 282.49H164.46V283.67H161.02zM159.89 283.62H163.33V284.80H159.89z"/><path fill="#fecd90" d="M104.47 220.28H106.78V221.47H104.47zM113.52 221.42H114.70V222.60H113.52zM112.38 222.55H113.56V223.73H112.38zM106.73 223.68H107.91V224.86H106.73zM111.25 223.68H112.43V224.86H111.25zM114.65 224.81H115.83V225.99H114.65zM120.30 224.81H121.48V225.99H120.30zM119.17 225.94H120.35V227.12H119.17zM122.56 225.94H123.74V227.12H122.56zM118.04 227.07H119.22V228.25H118.04zM130.48 227.07H131.66V228.25H130.48zM115.78 228.20H118.09V229.38H115.78zM127.09 228.20H128.27V229.38H127.09zM138.40 228.20H139.58V229.38H138.40zM125.96 229.33H127.14V230.51H125.96zM124.83 230.46H126.01V231.65H124.83zM146.31 230.46H147.50V231.65H146.31zM133.87 231.59H135.05V232.78H133.87zM145.18 231.59H146.36V232.78H145.18zM132.74 232.73H133.92V233.91H132.74zM154.23 232.73H156.54V233.91H154.23zM153.10 233.86H154.28V235.04H153.10zM148.58 234.99H149.76V236.17H148.58zM151.97 234.99H153.15V236.17H151.97zM162.15 234.99H163.33V236.17H162.15zM150.84 236.12H152.02V237.30H150.84zM156.49 236.12H157.67V237.30H156.49zM161.02 236.12H162.20V237.30H161.02zM159.89 237.25H161.07V238.43H159.89zM164.41 237.25H165.59V238.43H164.41zM158.75 238.38H159.94V239.56H158.75zM168.93 238.38H170.12V239.56H168.93zM172.33 238.38H173.51V239.56H172.33zM157.62 239.51H158.81V240.69H157.62zM167.80 239.51H168.98V240.69H167.80zM179.11 239.51H181.43V240.69H179.11zM165.54 240.64H167.85V241.82H165.54zM188.16 240.64H189.34V241.82H188.16zM173.46 241.77H174.64V242.96H173.46zM175.72 241.77H176.90V242.96H175.72zM187.03 241.77H188.21V242.96H187.03zM174.59 242.90H175.77V244.09H174.59zM181.38 242.90H182.56V244.09H181.38zM185.90 242.90H187.08V244.09H185.90zM196.08 242.90H197.26V244.09H196.08zM189.29 244.04H190.47V245.22H189.29zM194.95 244.04H197.26V245.22H194.95zM182.51 245.17H183.69V246.35H182.51zM193.82 245.17H196.13V246.35H193.82zM192.69 246.30H195.00V247.48H192.69zM191.55 247.43H195.00V248.61H191.55zM192.69 248.56H193.87V249.74H192.69zM191.55 249.69H192.74V250.87H191.55zM190.42 250.82H191.60V252.00H190.42zM189.29 251.95H190.47V253.13H189.29zM188.16 253.08H189.34V254.27H188.16zM161.02 281.36H162.20V282.54H161.02zM159.89 282.49H161.07V283.67H159.89zM158.75 283.62H159.94V284.80H158.75z"/><path fill="#fec488" d="M103.34 221.42H104.52V222.60H103.34zM102.20 222.55H103.39V223.73H102.20zM101.07 223.68H102.25V224.86H101.07zM110.12 224.81H111.30V225.99H110.12zM121.43 224.81H122.61V225.99H121.43zM108.99 225.94H110.17V227.12H108.99zM107.86 227.07H109.04V228.25H107.86zM129.35 227.07H130.53V228.25H129.35zM128.22 228.20H129.40V229.38H128.22zM123.69 229.33H124.88V230.51H123.69zM127.09 229.33H128.27V230.51H127.09zM137.27 229.33H138.45V230.51H137.27zM131.61 230.46H132.79V231.65H131.61zM136.13 230.46H137.32V231.65H136.13zM135.00 231.59H136.19V232.78H135.00zM139.53 231.59H140.71V232.78H139.53zM133.87 232.73H135.05V233.91H133.87zM144.05 232.73H145.23V233.91H144.05zM147.44 232.73H148.63V233.91H147.44zM142.92 233.86H144.10V235.04H142.92zM154.23 233.86H156.54V235.04H154.23zM140.66 234.99H142.97V236.17H140.66zM163.28 234.99H164.46V236.17H163.28zM148.58 236.12H149.76V237.30H148.58zM162.15 236.12H163.33V237.30H162.15zM149.71 237.25H150.89V238.43H149.71zM156.49 237.25H157.67V238.43H156.49zM161.02 237.25H162.20V238.43H161.02zM171.20 237.25H172.38V238.43H171.20zM164.41 238.38H165.59V239.56H164.41zM170.06 238.38H171.25V239.56H170.06zM168.93 239.51H170.12V240.69H168.93zM172.33 239.51H173.51V240.69H172.33zM167.80 240.64H168.98V241.82H167.80zM177.98 240.64H179.16V241.82H177.98zM166.67 241.77H167.85V242.96H166.67zM176.85 241.77H178.03V242.96H176.85zM188.16 241.77H189.34V242.96H188.16zM175.72 242.90H176.90V244.09H175.72zM174.59 244.04H175.77V245.22H174.59zM184.77 244.04H185.95V245.22H184.77zM183.64 245.17H184.82V246.35H183.64zM182.51 246.30H183.69V247.48H182.51zM190.42 247.43H191.60V248.61H190.42zM189.29 248.56H192.74V249.74H189.29zM188.16 249.69H191.60V250.87H188.16zM187.03 250.82H190.47V252.00H187.03zM185.90 251.95H189.34V253.13H185.90zM184.77 253.08H188.21V254.27H184.77zM184.77 254.21H188.21V255.40H184.77zM183.64 255.35H187.08V256.53H183.64zM182.51 256.48H185.95V257.66H182.51zM181.38 257.61H184.82V258.79H181.38zM180.24 258.74H183.69V259.92H180.24zM180.24 259.87H182.56V261.05H180.24zM179.11 261.00H181.43V262.18H179.11zM177.98 262.13H180.29V263.31H177.98zM176.85 263.26H179.16V264.44H176.85zM175.72 264.39H178.03V265.57H175.72zM175.72 265.52H176.90V266.71H175.72zM174.59 266.66H175.77V267.84H174.59zM173.46 267.79H174.64V268.97H173.46zM172.33 268.92H173.51V270.10H172.33zM171.20 270.05H172.38V271.23H171.20z"/><path fill="#feb97f" d="M105.60 221.42H106.78V222.60H105.60zM113.52 222.55H114.70V223.73H113.52zM99.94 224.81H101.12V225.99H99.94zM120.30 225.94H121.48V227.12H120.30zM119.17 227.07H120.35V228.25H119.17zM125.96 230.46H127.14V231.65H125.96zM146.31 231.59H147.50V232.78H146.31zM132.74 233.86H133.92V235.04H132.74zM153.10 234.99H154.28V236.17H153.10zM151.97 236.12H153.15V237.30H151.97zM159.89 238.38H161.07V239.56H159.89zM158.75 239.51H159.94V240.69H158.75zM179.11 240.64H181.43V241.82H179.11zM165.54 241.77H166.72V242.96H165.54zM173.46 242.90H174.64V244.09H173.46zM187.03 242.90H188.21V244.09H187.03zM181.38 244.04H182.56V245.22H181.38zM185.90 244.04H187.08V245.22H185.90zM184.77 245.17H185.95V246.35H184.77zM189.29 245.17H190.47V246.35H189.29zM188.16 246.30H190.47V247.48H188.16zM187.03 247.43H190.47V248.61H187.03zM187.03 248.56H189.34V249.74H187.03zM185.90 249.69H188.21V250.87H185.90zM184.77 250.82H187.08V252.00H184.77zM183.64 251.95H185.95V253.13H183.64zM182.51 253.08H184.82V254.27H182.51zM181.38 254.21H184.82V255.40H181.38zM181.38 255.35H183.69V256.53H181.38zM180.24 256.48H182.56V257.66H180.24zM179.11 257.61H181.43V258.79H179.11zM177.98 258.74H180.29V259.92H177.98zM176.85 259.87H180.29V261.05H176.85zM175.72 261.00H179.16V262.18H175.72zM175.72 262.13H178.03V263.31H175.72zM174.59 263.26H176.90V264.44H174.59zM173.46 264.39H175.77V265.57H173.46zM172.33 265.52H175.77V266.71H172.33zM171.20 266.66H174.64V267.84H171.20zM170.06 267.79H173.51V268.97H170.06zM170.06 268.92H172.38V270.10H170.06zM168.93 270.05H171.25V271.23H168.93zM167.80 271.18H171.25V272.36H167.80zM166.67 272.31H170.12V273.49H166.67zM165.54 273.44H168.98V274.62H165.54zM165.54 274.57H167.85V275.75H165.54zM164.41 275.70H166.72V276.88H164.41zM163.28 276.83H165.59V278.02H163.28zM162.15 277.97H164.46V279.15H162.15zM161.02 279.10H163.33V280.28H161.02zM159.89 280.23H162.20V281.41H159.89zM159.89 281.36H161.07V282.54H159.89zM158.75 282.49H159.94V283.67H158.75zM157.62 283.62H158.81V284.80H157.62z"/><path fill="#feb078" d="M112.38 223.68H113.56V224.86H112.38zM106.73 224.81H107.91V225.99H106.73zM111.25 224.81H112.43V225.99H111.25zM114.65 225.94H115.83V227.12H114.65zM122.56 227.07H123.74V228.25H122.56zM118.04 228.20H119.22V229.38H118.04zM130.48 228.20H131.66V229.38H130.48zM115.78 229.33H116.96V230.51H115.78zM138.40 229.33H139.58V230.51H138.40zM137.27 230.46H138.45V231.65H137.27zM124.83 231.59H126.01V232.78H124.83zM145.18 232.73H146.36V233.91H145.18zM144.05 233.86H145.23V235.04H144.05zM150.84 237.25H152.02V238.43H150.84zM149.71 238.38H150.89V239.56H149.71zM171.20 238.38H172.38V239.56H171.20zM170.06 239.51H171.25V240.69H170.06zM157.62 240.64H158.81V241.82H157.62zM177.98 241.77H179.16V242.96H177.98zM176.85 242.90H178.03V244.09H176.85zM188.16 244.04H189.34V245.22H188.16zM187.03 245.17H189.34V246.35H187.03zM183.64 246.30H184.82V247.48H183.64zM185.90 246.30H188.21V247.48H185.90zM182.51 247.43H183.69V248.61H182.51zM184.77 247.43H187.08V248.61H184.77zM183.64 248.56H187.08V249.74H183.64zM183.64 249.69H185.95V250.87H183.64zM182.51 250.82H184.82V252.00H182.51zM181.38 251.95H183.69V253.13H181.38zM180.24 253.08H182.56V254.27H180.24zM179.11 254.21H181.43V255.40H179.11zM177.98 255.35H181.43V256.53H177.98zM176.85 256.48H180.29V257.66H176.85zM176.85 257.61H179.16V258.79H176.85zM175.72 258.74H178.03V259.92H175.72zM174.59 259.87H176.90V261.05H174.59zM173.46 261.00H175.77V262.18H173.46zM172.33 262.13H175.77V263.31H172.33zM171.20 263.26H174.64V264.44H171.20zM170.06 264.39H173.51V265.57H170.06zM170.06 265.52H172.38V266.71H170.06zM168.93 266.66H171.25V267.84H168.93zM167.80 267.79H170.12V268.97H167.80zM166.67 268.92H170.12V270.10H166.67zM165.54 270.05H168.98V271.23H165.54zM164.41 271.18H167.85V272.36H164.41zM164.41 272.31H166.72V273.49H164.41zM163.28 273.44H165.59V274.62H163.28zM162.15 274.57H165.59V275.75H162.15zM161.02 275.70H164.46V276.88H161.02zM159.89 276.83H163.33V278.02H159.89zM158.75 277.97H162.20V279.15H158.75zM158.75 279.10H161.07V280.28H158.75zM157.62 280.23H159.94V281.41H157.62zM156.49 281.36H159.94V282.54H156.49zM155.36 282.49H158.81V283.67H155.36zM154.23 283.62H157.67V284.80H154.23z"/><path fill="#fea772" d="M104.47 221.42H105.65V222.60H104.47zM103.34 222.55H104.52V223.73H103.34zM110.12 225.94H111.30V227.12H110.12zM129.35 228.20H130.53V229.38H129.35zM116.91 229.33H118.09V230.51H116.91zM123.69 230.46H124.88V231.65H123.69zM131.61 231.59H132.79V232.78H131.61zM136.13 231.59H137.32V232.78H136.13zM139.53 232.73H140.71V233.91H139.53zM147.44 233.86H148.63V235.04H147.44zM142.92 234.99H144.10V236.17H142.92zM155.36 234.99H156.54V236.17H155.36zM140.66 236.12H142.97V237.30H140.66zM163.28 236.12H164.46V237.30H163.28zM148.58 237.25H149.76V238.43H148.58zM162.15 237.25H163.33V238.43H162.15zM168.93 240.64H170.12V241.82H168.93zM167.80 241.77H168.98V242.96H167.80zM188.16 242.90H189.34V244.09H188.16zM175.72 244.04H176.90V245.22H175.72zM174.59 245.17H175.77V246.35H174.59zM182.51 249.69H183.69V250.87H182.51zM181.38 250.82H182.56V252.00H181.38zM180.24 251.95H181.43V253.13H180.24zM179.11 253.08H180.29V254.27H179.11zM177.98 254.21H179.16V255.40H177.98zM176.85 255.35H178.03V256.53H176.85zM175.72 256.48H176.90V257.66H175.72zM174.59 257.61H176.90V258.79H174.59zM173.46 258.74H175.77V259.92H173.46zM172.33 259.87H174.64V261.05H172.33zM171.20 261.00H173.51V262.18H171.20zM170.06 262.13H172.38V263.31H170.06zM168.93 263.26H171.25V264.44H168.93zM167.80 264.39H170.12V265.57H167.80zM166.67 265.52H170.12V266.71H166.67zM165.54 266.66H168.98V267.84H165.54zM164.41 267.79H167.85V268.97H164.41zM164.41 268.92H166.72V270.10H164.41zM163.28 270.05H165.59V271.23H163.28zM162.15 271.18H164.46V272.36H162.15zM161.02 272.31H164.46V273.49H161.02zM159.89 273.44H163.33V274.62H159.89zM158.75 274.57H162.20V275.75H158.75zM157.62 275.70H161.07V276.88H157.62zM157.62 276.83H159.94V278.02H157.62zM156.49 277.97H158.81V279.15H156.49zM155.36 279.10H158.81V280.28H155.36zM154.23 280.23H157.67V281.41H154.23zM153.10 281.36H156.54V282.54H153.10zM151.97 282.49H155.41V283.67H151.97zM150.84 283.62H154.28V284.80H150.84z"/><path fill="#fd9b6b" d="M102.20 223.68H103.39V224.86H102.20zM121.43 225.94H122.61V227.12H121.43zM108.99 227.07H110.17V228.25H108.99zM107.86 228.20H109.04V229.38H107.86zM128.22 229.33H129.40V230.51H128.22zM135.00 232.73H136.19V233.91H135.00zM133.87 233.86H135.05V235.04H133.87zM154.23 234.99H155.41V236.17H154.23zM153.10 236.12H154.28V237.30H153.10zM156.49 238.38H157.67V239.56H156.49zM161.02 238.38H162.20V239.56H161.02zM159.89 239.51H161.07V240.69H159.89zM164.41 239.51H165.59V240.69H164.41zM172.33 240.64H173.51V241.82H172.33zM179.11 241.77H181.43V242.96H179.11zM165.54 242.90H167.85V244.09H165.54zM173.46 244.04H174.64V245.22H173.46zM187.03 244.04H188.21V245.22H187.03zM181.38 245.17H182.56V246.35H181.38zM185.90 245.17H187.08V246.35H185.90zM163.28 268.92H164.46V270.10H163.28zM162.15 270.05H163.33V271.23H162.15zM156.49 276.83H157.67V278.02H156.49zM155.36 277.97H156.54V279.15H155.36zM154.23 279.10H155.41V280.28H154.23zM153.10 280.23H154.28V281.41H153.10zM151.97 281.36H153.15V282.54H151.97zM150.84 282.49H152.02V283.67H150.84zM149.71 283.62H150.89V284.80H149.71z"/><path fill="#fd9266" d="M113.52 223.68H114.70V224.86H113.52zM101.07 224.81H102.25V225.99H101.07zM99.94 225.94H101.12V227.12H99.94zM120.30 227.07H121.48V228.25H120.30zM127.09 230.46H128.27V231.65H127.09zM125.96 231.59H127.14V232.78H125.96zM146.31 232.73H147.50V233.91H146.31zM145.18 233.86H146.36V235.04H145.18zM132.74 234.99H133.92V236.17H132.74zM151.97 237.25H153.15V238.43H151.97zM171.20 239.51H172.38V240.69H171.20zM158.75 240.64H159.94V241.82H158.75zM157.62 241.77H158.81V242.96H157.62zM177.98 242.90H179.16V244.09H177.98zM176.85 244.04H178.03V245.22H176.85zM184.77 246.30H185.95V247.48H184.77zM183.64 247.43H184.82V248.61H183.64zM182.51 248.56H183.69V249.74H182.51z"/><path fill="#fc8961" d="M105.60 222.55H106.78V223.73H105.60zM98.81 224.81H99.99V225.99H98.81zM112.38 224.81H113.56V225.99H112.38zM106.73 225.94H107.91V227.12H106.73zM111.25 225.94H112.43V227.12H111.25zM114.65 227.07H115.83V228.25H114.65zM119.17 228.20H120.35V229.38H119.17zM122.56 228.20H123.74V229.38H122.56zM118.04 229.33H119.22V230.51H118.04zM130.48 229.33H131.66V230.51H130.48zM115.78 230.46H116.96V231.65H115.78zM138.40 230.46H139.58V231.65H138.40zM123.69 231.59H124.88V232.78H123.69zM137.27 231.59H138.45V232.78H137.27zM124.83 232.73H126.01V233.91H124.83zM131.61 232.73H132.79V233.91H131.61zM139.53 233.86H140.71V235.04H139.53zM144.05 234.99H145.23V236.17H144.05zM147.44 234.99H148.63V236.17H147.44zM142.92 236.12H144.10V237.30H142.92zM155.36 236.12H156.54V237.30H155.36zM163.28 237.25H164.46V238.43H163.28zM150.84 238.38H152.02V239.56H150.84zM162.15 238.38H163.33V239.56H162.15zM149.71 239.51H150.89V240.69H149.71zM170.06 240.64H171.25V241.82H170.06zM168.93 241.77H170.12V242.96H168.93zM167.80 242.90H168.98V244.09H167.80zM175.72 245.17H176.90V246.35H175.72zM174.59 246.30H175.77V247.48H174.59z"/><path fill="#fa7d5e" d="M104.47 222.55H105.65V223.73H104.47zM103.34 223.68H104.52V224.86H103.34zM110.12 227.07H111.30V228.25H110.12zM121.43 227.07H122.61V228.25H121.43zM108.99 228.20H110.17V229.38H108.99zM129.35 229.33H130.53V230.51H129.35zM116.91 230.46H118.09V231.65H116.91zM128.22 230.46H129.40V231.65H128.22zM127.09 231.59H128.27V232.78H127.09zM136.13 232.73H137.32V233.91H136.13zM135.00 233.86H136.19V235.04H135.00zM146.31 233.86H147.50V235.04H146.31zM133.87 234.99H135.05V236.17H133.87zM154.23 236.12H155.41V237.30H154.23zM140.66 237.25H142.97V238.43H140.66zM153.10 237.25H154.28V238.43H153.10zM148.58 238.38H149.76V239.56H148.58zM151.97 238.38H153.15V239.56H151.97zM156.49 239.51H157.67V240.69H156.49zM161.02 239.51H162.20V240.69H161.02zM159.89 240.64H161.07V241.82H159.89zM164.41 240.64H165.59V241.82H164.41zM171.20 240.64H172.38V241.82H171.20zM158.75 241.77H159.94V242.96H158.75zM172.33 241.77H173.51V242.96H172.33zM157.62 242.90H158.81V244.09H157.62zM179.11 242.90H181.43V244.09H179.11zM165.54 244.04H167.85V245.22H165.54zM177.98 244.04H179.16V245.22H177.98zM173.46 245.17H174.64V246.35H173.46zM176.85 245.17H178.03V246.35H176.85zM181.38 246.30H182.56V247.48H181.38z"/><path fill="#f8745c" d="M105.60 223.68H106.78V224.86H105.60zM102.20 224.81H103.39V225.99H102.20zM113.52 224.81H114.70V225.99H113.52zM101.07 225.94H102.25V227.12H101.07zM99.94 227.07H101.12V228.25H99.94zM120.30 228.20H121.48V229.38H120.30zM107.86 229.33H109.04V230.51H107.86zM119.17 229.33H120.35V230.51H119.17zM122.56 229.33H123.74V230.51H122.56zM130.48 230.46H131.66V231.65H130.48zM138.40 231.59H139.58V232.78H138.40zM125.96 232.73H127.14V233.91H125.96zM137.27 232.73H138.45V233.91H137.27zM124.83 233.86H126.01V235.04H124.83zM139.53 234.99H140.71V236.17H139.53zM145.18 234.99H146.36V236.17H145.18zM132.74 236.12H133.92V237.30H132.74zM144.05 236.12H145.23V237.30H144.05zM147.44 236.12H148.63V237.30H147.44zM142.92 237.25H144.10V238.43H142.92zM155.36 237.25H156.54V238.43H155.36zM163.28 238.38H164.46V239.56H163.28zM150.84 239.51H152.02V240.69H150.84zM162.15 239.51H163.33V240.69H162.15zM149.71 240.64H150.89V241.82H149.71zM156.49 240.64H157.67V241.82H156.49zM161.02 240.64H162.20V241.82H161.02zM164.41 241.77H165.59V242.96H164.41zM170.06 241.77H171.25V242.96H170.06zM168.93 242.90H170.12V244.09H168.93zM172.33 242.90H173.51V244.09H172.33zM167.80 244.04H168.98V245.22H167.80zM180.24 244.04H181.43V245.22H180.24zM166.67 245.17H167.85V246.35H166.67zM175.72 246.30H176.90V247.48H175.72zM174.59 247.43H175.77V248.61H174.59zM181.38 247.43H182.56V248.61H181.38zM181.38 248.56H182.56V249.74H181.38zM180.24 249.69H182.56V250.87H180.24zM179.11 250.82H181.43V252.00H179.11zM177.98 251.95H180.29V253.13H177.98zM176.85 253.08H179.16V254.27H176.85zM175.72 254.21H178.03V255.40H175.72zM174.59 255.35H176.90V256.53H174.59zM173.46 256.48H175.77V257.66H173.46zM172.33 257.61H174.64V258.79H172.33zM171.20 258.74H173.51V259.92H171.20zM171.20 259.87H172.38V261.05H171.20zM170.06 261.00H171.25V262.18H170.06zM168.93 262.13H170.12V263.31H168.93zM167.80 263.26H168.98V264.44H167.80zM166.67 264.39H167.85V265.57H166.67zM165.54 265.52H166.72V266.71H165.54zM164.41 266.66H165.59V267.84H164.41zM163.28 267.79H164.46V268.97H163.28zM162.15 268.92H163.33V270.10H162.15zM161.02 270.05H162.20V271.23H161.02zM159.89 271.18H162.20V272.36H159.89zM158.75 272.31H161.07V273.49H158.75zM157.62 273.44H159.94V274.62H157.62zM156.49 274.57H158.81V275.75H156.49zM155.36 275.70H157.67V276.88H155.36zM154.23 276.83H156.54V278.02H154.23zM153.10 277.97H155.41V279.15H153.10zM151.97 279.10H154.28V280.28H151.97zM150.84 280.23H153.15V281.41H150.84zM149.71 281.36H152.02V282.54H149.71zM148.58 282.49H150.89V283.67H148.58zM147.44 283.62H149.76V284.80H147.44z"/><path fill="#f56b5c" d="M104.47 223.68H105.65V224.86H104.47zM98.81 225.94H99.99V227.12H98.81zM112.38 225.94H113.56V227.12H112.38zM106.73 227.07H107.91V228.25H106.73zM111.25 227.07H112.43V228.25H111.25zM110.12 228.20H111.30V229.38H110.12zM114.65 228.20H115.83V229.38H114.65zM118.04 230.46H119.22V231.65H118.04zM129.35 230.46H130.53V231.65H129.35zM115.78 231.59H118.09V232.78H115.78zM128.22 231.59H129.40V232.78H128.22zM123.69 232.73H124.88V233.91H123.69zM131.61 233.86H132.79V235.04H131.61zM136.13 233.86H137.32V235.04H136.13zM135.00 234.99H136.19V236.17H135.00zM146.31 234.99H147.50V236.17H146.31zM133.87 236.12H135.05V237.30H133.87zM154.23 237.25H155.41V238.43H154.23zM140.66 238.38H142.97V239.56H140.66zM153.10 238.38H154.28V239.56H153.10zM148.58 239.51H149.76V240.69H148.58zM151.97 239.51H153.15V240.69H151.97zM159.89 241.77H161.07V242.96H159.89zM171.20 241.77H172.38V242.96H171.20zM158.75 242.90H159.94V244.09H158.75zM170.06 242.90H171.25V244.09H170.06zM157.62 244.04H158.81V245.22H157.62zM179.11 244.04H180.29V245.22H179.11zM165.54 245.17H166.72V246.35H165.54zM177.98 245.17H179.16V246.35H177.98zM173.46 246.30H174.64V247.48H173.46zM176.85 246.30H178.03V247.48H176.85zM175.72 247.43H176.90V248.61H175.72zM180.24 247.43H181.43V248.61H180.24zM179.11 248.56H181.43V249.74H179.11zM177.98 249.69H180.29V250.87H177.98zM176.85 250.82H179.16V252.00H176.85zM175.72 251.95H178.03V253.13H175.72zM174.59 253.08H176.90V254.27H174.59zM173.46 254.21H175.77V255.40H173.46zM172.33 255.35H174.64V256.53H172.33zM171.20 256.48H173.51V257.66H171.20zM170.06 257.61H172.38V258.79H170.06zM168.93 258.74H171.25V259.92H168.93zM167.80 259.87H171.25V261.05H167.80zM166.67 261.00H170.12V262.18H166.67zM165.54 262.13H168.98V263.31H165.54zM164.41 263.26H167.85V264.44H164.41zM163.28 264.39H166.72V265.57H163.28zM162.15 265.52H165.59V266.71H162.15zM161.02 266.66H164.46V267.84H161.02zM159.89 267.79H163.33V268.97H159.89zM158.75 268.92H162.20V270.10H158.75zM157.62 270.05H161.07V271.23H157.62zM156.49 271.18H159.94V272.36H156.49zM155.36 272.31H158.81V273.49H155.36zM154.23 273.44H157.67V274.62H154.23zM153.10 274.57H156.54V275.75H153.10zM151.97 275.70H155.41V276.88H151.97zM151.97 276.83H154.28V278.02H151.97zM150.84 277.97H153.15V279.15H150.84zM149.71 279.10H152.02V280.28H149.71zM148.58 280.23H150.89V281.41H148.58zM147.44 281.36H149.76V282.54H147.44zM146.31 282.49H148.63V283.67H146.31zM145.18 283.62H147.50V284.80H145.18z"/><path fill="#f1605d" d="M103.34 224.81H104.52V225.99H103.34zM102.20 225.94H103.39V227.12H102.20zM121.43 228.20H122.61V229.38H121.43zM108.99 229.33H110.17V230.51H108.99zM120.30 229.33H121.48V230.51H120.30zM107.86 230.46H109.04V231.65H107.86zM127.09 232.73H128.27V233.91H127.09zM138.40 232.73H139.58V233.91H138.40zM125.96 233.86H127.14V235.04H125.96zM145.18 236.12H146.36V237.30H145.18zM132.74 237.25H133.92V238.43H132.74zM144.05 237.25H145.23V238.43H144.05zM155.36 238.38H156.54V239.56H155.36zM163.28 239.51H164.46V240.69H163.28zM150.84 240.64H152.02V241.82H150.84zM162.15 240.64H163.33V241.82H162.15zM149.71 241.77H150.89V242.96H149.71zM161.02 241.77H162.20V242.96H161.02zM164.41 242.90H165.59V244.09H164.41zM168.93 244.04H170.12V245.22H168.93zM172.33 244.04H173.51V245.22H172.33zM167.80 245.17H168.98V246.35H167.80zM179.11 245.17H181.43V246.35H179.11zM166.67 246.30H167.85V247.48H166.67zM180.24 246.30H181.43V247.48H180.24zM173.46 247.43H174.64V248.61H173.46zM179.11 247.43H180.29V248.61H179.11zM174.59 248.56H175.77V249.74H174.59zM176.85 248.56H179.16V249.74H176.85zM175.72 249.69H178.03V250.87H175.72zM174.59 250.82H176.90V252.00H174.59zM173.46 251.95H175.77V253.13H173.46zM172.33 253.08H174.64V254.27H172.33zM171.20 254.21H173.51V255.40H171.20zM170.06 255.35H172.38V256.53H170.06zM168.93 256.48H171.25V257.66H168.93zM167.80 257.61H170.12V258.79H167.80zM166.67 258.74H168.98V259.92H166.67zM165.54 259.87H167.85V261.05H165.54zM164.41 261.00H166.72V262.18H164.41zM163.28 262.13H165.59V263.31H163.28zM162.15 263.26H164.46V264.44H162.15zM161.02 264.39H163.33V265.57H161.02zM159.89 265.52H162.20V266.71H159.89zM158.75 266.66H161.07V267.84H158.75zM157.62 267.79H159.94V268.97H157.62zM156.49 268.92H158.81V270.10H156.49zM155.36 270.05H157.67V271.23H155.36zM154.23 271.18H156.54V272.36H154.23zM153.10 272.31H155.41V273.49H153.10zM151.97 273.44H154.28V274.62H151.97zM150.84 274.57H153.15V275.75H150.84zM149.71 275.70H152.02V276.88H149.71zM148.58 276.83H152.02V278.02H148.58zM147.44 277.97H150.89V279.15H147.44zM146.31 279.10H149.76V280.28H146.31zM145.18 280.23H148.63V281.41H145.18zM144.05 281.36H147.50V282.54H144.05zM142.92 282.49H146.36V283.67H142.92zM141.79 283.62H145.23V284.80H141.79z"/><path fill="#ec5860" d="M113.52 225.94H114.70V227.12H113.52zM101.07 227.07H102.25V228.25H101.07zM119.17 230.46H120.35V231.65H119.17zM122.56 230.46H123.74V231.65H122.56zM118.04 231.59H119.22V232.78H118.04zM130.48 231.59H131.66V232.78H130.48zM137.27 233.86H138.45V235.04H137.27zM124.83 234.99H126.01V236.17H124.83zM131.61 234.99H132.79V236.17H131.61zM136.13 234.99H137.32V236.17H136.13zM139.53 236.12H140.71V237.30H139.53zM147.44 237.25H148.63V238.43H147.44zM142.92 238.38H144.10V239.56H142.92zM154.23 238.38H155.41V239.56H154.23zM140.66 239.51H142.97V240.69H140.66zM148.58 240.64H149.76V241.82H148.58zM156.49 241.77H157.67V242.96H156.49zM159.89 242.90H161.07V244.09H159.89zM171.20 242.90H172.38V244.09H171.20zM158.75 244.04H159.94V245.22H158.75zM165.54 246.30H166.72V247.48H165.54zM177.98 246.30H180.29V247.48H177.98zM176.85 247.43H179.16V248.61H176.85zM175.72 248.56H176.90V249.74H175.72zM174.59 249.69H175.77V250.87H174.59zM173.46 250.82H174.64V252.00H173.46zM172.33 251.95H173.51V253.13H172.33zM171.20 253.08H172.38V254.27H171.20zM168.93 254.21H171.25V255.40H168.93zM167.80 255.35H170.12V256.53H167.80zM166.67 256.48H168.98V257.66H166.67zM165.54 257.61H167.85V258.79H165.54zM164.41 258.74H166.72V259.92H164.41zM163.28 259.87H165.59V261.05H163.28zM162.15 261.00H164.46V262.18H162.15zM161.02 262.13H163.33V263.31H161.02zM159.89 263.26H162.20V264.44H159.89zM158.75 264.39H161.07V265.57H158.75zM157.62 265.52H159.94V266.71H157.62zM156.49 266.66H158.81V267.84H156.49zM155.36 267.79H157.67V268.97H155.36zM154.23 268.92H156.54V270.10H154.23zM153.10 270.05H155.41V271.23H153.10zM151.97 271.18H154.28V272.36H151.97zM150.84 272.31H153.15V273.49H150.84zM149.71 273.44H152.02V274.62H149.71zM148.58 274.57H150.89V275.75H148.58zM147.44 275.70H149.76V276.88H147.44zM146.31 276.83H148.63V278.02H146.31zM145.18 277.97H147.50V279.15H145.18zM144.05 279.10H146.36V280.28H144.05zM142.92 280.23H145.23V281.41H142.92zM141.79 281.36H144.10V282.54H141.79zM140.66 282.49H142.97V283.67H140.66zM139.53 283.62H141.84V284.80H139.53z"/><path fill="#e75263" d="M105.60 224.81H106.78V225.99H105.60zM98.81 227.07H99.99V228.25H98.81zM112.38 227.07H113.56V228.25H112.38zM99.94 228.20H101.12V229.38H99.94zM106.73 228.20H107.91V229.38H106.73zM111.25 228.20H112.43V229.38H111.25zM114.65 229.33H115.83V230.51H114.65zM129.35 231.59H130.53V232.78H129.35zM115.78 232.73H118.09V233.91H115.78zM128.22 232.73H129.40V233.91H128.22zM123.69 233.86H124.88V235.04H123.69zM135.00 236.12H136.19V237.30H135.00zM146.31 236.12H147.50V237.30H146.31zM133.87 237.25H135.05V238.43H133.87zM153.10 239.51H154.28V240.69H153.10zM151.97 240.64H153.15V241.82H151.97zM163.28 240.64H164.46V241.82H163.28zM170.06 244.04H171.25V245.22H170.06zM157.62 245.17H158.81V246.35H157.62zM168.93 245.17H170.12V246.35H168.93zM172.33 249.69H174.64V250.87H172.33zM171.20 250.82H173.51V252.00H171.20zM170.06 251.95H172.38V253.13H170.06zM168.93 253.08H171.25V254.27H168.93zM167.80 254.21H168.98V255.40H167.80zM166.67 255.35H167.85V256.53H166.67zM165.54 256.48H166.72V257.66H165.54zM164.41 257.61H165.59V258.79H164.41zM163.28 258.74H164.46V259.92H163.28zM162.15 259.87H163.33V261.05H162.15zM161.02 261.00H162.20V262.18H161.02zM159.89 262.13H161.07V263.31H159.89zM158.75 263.26H159.94V264.44H158.75zM157.62 264.39H158.81V265.57H157.62zM156.49 265.52H157.67V266.71H156.49zM155.36 266.66H156.54V267.84H155.36zM154.23 267.79H155.41V268.97H154.23zM153.10 268.92H154.28V270.10H153.10zM151.97 270.05H153.15V271.23H151.97zM150.84 271.18H152.02V272.36H150.84zM148.58 272.31H150.89V273.49H148.58zM147.44 273.44H149.76V274.62H147.44zM146.31 274.57H148.63V275.75H146.31zM145.18 275.70H147.50V276.88H145.18zM144.05 276.83H146.36V278.02H144.05zM142.92 277.97H145.23V279.15H142.92zM141.79 279.10H144.10V280.28H141.79zM140.66 280.23H142.97V281.41H140.66zM139.53 281.36H141.84V282.54H139.53zM138.40 282.49H140.71V283.67H138.40zM137.27 283.62H139.58V284.80H137.27z"/><path fill="#df4a68" d="M104.47 224.81H105.65V225.99H104.47zM110.12 229.33H111.30V230.51H110.12zM121.43 229.33H122.61V230.51H121.43zM127.09 233.86H128.27V235.04H127.09zM138.40 233.86H139.58V235.04H138.40zM145.18 237.25H146.36V238.43H145.18zM132.74 238.38H133.92V239.56H132.74zM144.05 238.38H145.23V239.56H144.05zM155.36 239.51H156.54V240.69H155.36zM150.84 241.77H152.02V242.96H150.84zM162.15 241.77H163.33V242.96H162.15zM149.71 242.90H150.89V244.09H149.71zM161.02 242.90H162.20V244.09H161.02zM164.41 244.04H165.59V245.22H164.41zM172.33 245.17H173.51V246.35H172.33zM167.80 246.30H168.98V247.48H167.80zM166.67 247.43H167.85V248.61H166.67zM172.33 248.56H174.64V249.74H172.33zM171.20 249.69H172.38V250.87H171.20zM170.06 250.82H171.25V252.00H170.06zM168.93 251.95H170.12V253.13H168.93zM167.80 253.08H168.98V254.27H167.80zM166.67 254.21H167.85V255.40H166.67zM165.54 255.35H166.72V256.53H165.54zM164.41 256.48H165.59V257.66H164.41zM163.28 257.61H164.46V258.79H163.28zM162.15 258.74H163.33V259.92H162.15zM161.02 259.87H162.20V261.05H161.02zM159.89 261.00H161.07V262.18H159.89zM157.62 262.13H159.94V263.31H157.62zM156.49 263.26H158.81V264.44H156.49zM155.36 264.39H157.67V265.57H155.36zM154.23 265.52H156.54V266.71H154.23zM153.10 266.66H155.41V267.84H153.10zM151.97 267.79H154.28V268.97H151.97zM150.84 268.92H153.15V270.10H150.84zM149.71 270.05H152.02V271.23H149.71zM148.58 271.18H150.89V272.36H148.58zM147.44 272.31H148.63V273.49H147.44zM146.31 273.44H147.50V274.62H146.31zM145.18 274.57H146.36V275.75H145.18zM144.05 275.70H145.23V276.88H144.05zM142.92 276.83H144.10V278.02H142.92zM141.79 277.97H142.97V279.15H141.79zM140.66 279.10H141.84V280.28H140.66zM139.53 280.23H140.71V281.41H139.53zM138.40 281.36H139.58V282.54H138.40zM137.27 282.49H138.45V283.67H137.27zM136.13 283.62H137.32V284.80H136.13z"/><path fill="#d8456c" d="M103.34 225.94H104.52V227.12H103.34zM102.20 227.07H103.39V228.25H102.20zM108.99 230.46H110.17V231.65H108.99zM120.30 230.46H121.48V231.65H120.30zM107.86 231.59H109.04V232.78H107.86zM130.48 232.73H131.66V233.91H130.48zM125.96 234.99H127.14V236.17H125.96zM137.27 234.99H138.45V236.17H137.27zM124.83 236.12H126.01V237.30H124.83zM139.53 237.25H140.71V238.43H139.53zM147.44 238.38H148.63V239.56H147.44zM142.92 239.51H144.10V240.69H142.92zM154.23 239.51H155.41V240.69H154.23zM141.79 240.64H142.97V241.82H141.79zM148.58 241.77H149.76V242.96H148.58zM156.49 242.90H157.67V244.09H156.49zM159.89 244.04H161.07V245.22H159.89zM171.20 244.04H172.38V245.22H171.20zM158.75 245.17H159.94V246.35H158.75zM165.54 247.43H166.72V248.61H165.54zM172.33 247.43H173.51V248.61H172.33zM171.20 248.56H172.38V249.74H171.20zM170.06 249.69H171.25V250.87H170.06zM168.93 250.82H170.12V252.00H168.93zM167.80 251.95H168.98V253.13H167.80zM166.67 253.08H167.85V254.27H166.67zM165.54 254.21H166.72V255.40H165.54zM164.41 255.35H165.59V256.53H164.41zM163.28 256.48H164.46V257.66H163.28zM162.15 257.61H163.33V258.79H162.15zM161.02 258.74H162.20V259.92H161.02zM159.89 259.87H161.07V261.05H159.89zM158.75 261.00H159.94V262.18H158.75z"/><path fill="#d0416f" d="M113.52 227.07H114.70V228.25H113.52zM101.07 228.20H102.25V229.38H101.07zM119.17 231.59H120.35V232.78H119.17zM122.56 231.59H123.74V232.78H122.56zM118.04 232.73H119.22V233.91H118.04zM123.69 234.99H124.88V236.17H123.69zM131.61 236.12H132.79V237.30H131.61zM136.13 236.12H137.32V237.30H136.13zM135.00 237.25H136.19V238.43H135.00zM140.66 240.64H141.84V241.82H140.66zM153.10 240.64H154.28V241.82H153.10zM151.97 241.77H153.15V242.96H151.97zM170.06 245.17H171.25V246.35H170.06zM157.62 246.30H158.81V247.48H157.62zM168.93 246.30H170.12V247.48H168.93z"/><path fill="#c73d73" d="M105.60 225.94H106.78V227.12H105.60zM112.38 228.20H113.56V229.38H112.38zM99.94 229.33H101.12V230.51H99.94zM106.73 229.33H107.91V230.51H106.73zM114.65 230.46H115.83V231.65H114.65zM129.35 232.73H130.53V233.91H129.35zM115.78 233.86H118.09V235.04H115.78zM128.22 233.86H129.40V235.04H128.22zM146.31 237.25H147.50V238.43H146.31zM133.87 238.38H135.05V239.56H133.87zM145.18 238.38H146.36V239.56H145.18zM163.28 241.77H164.46V242.96H163.28zM150.84 242.90H152.02V244.09H150.84zM162.15 242.90H163.33V244.09H162.15zM172.33 246.30H173.51V247.48H172.33zM167.80 247.43H168.98V248.61H167.80z"/><path fill="#bf3a77" d="M97.68 224.81H98.86V225.99H97.68zM98.81 228.20H99.99V229.38H98.81zM111.25 229.33H112.43V230.51H111.25zM110.12 230.46H111.30V231.65H110.12zM127.09 234.99H128.27V236.17H127.09zM138.40 234.99H139.58V236.17H138.40zM132.74 239.51H133.92V240.69H132.74zM144.05 239.51H145.23V240.69H144.05zM155.36 240.64H156.54V241.82H155.36zM149.71 244.04H150.89V245.22H149.71zM156.49 244.04H157.67V245.22H156.49zM161.02 244.04H162.20V245.22H161.02zM164.41 245.17H165.59V246.35H164.41zM165.54 248.56H167.85V249.74H165.54z"/><path fill="#b73779" d="M104.47 225.94H105.65V227.12H104.47zM121.43 230.46H122.61V231.65H121.43zM108.99 231.59H110.17V232.78H108.99zM125.96 236.12H127.14V237.30H125.96zM137.27 236.12H138.45V237.30H137.27zM139.53 238.38H140.71V239.56H139.53zM147.44 239.51H148.63V240.69H147.44zM142.92 240.64H144.10V241.82H142.92zM154.23 240.64H155.41V241.82H154.23zM148.58 242.90H149.76V244.09H148.58zM159.89 245.17H161.07V246.35H159.89zM171.20 245.17H172.38V246.35H171.20zM158.75 246.30H159.94V247.48H158.75zM170.06 246.30H171.25V247.48H170.06z"/><path fill="#ad347c" d="M103.34 227.07H104.52V228.25H103.34zM120.30 231.59H121.48V232.78H120.30zM107.86 232.73H109.04V233.91H107.86zM119.17 232.73H120.35V233.91H119.17zM130.48 233.86H131.66V235.04H130.48zM124.83 237.25H126.01V238.43H124.83zM131.61 237.25H132.79V238.43H131.61zM136.13 237.25H137.32V238.43H136.13zM140.66 241.77H142.97V242.96H140.66zM153.10 241.77H154.28V242.96H153.10zM151.97 242.90H153.15V244.09H151.97zM163.28 242.90H164.46V244.09H163.28zM157.62 247.43H158.81V248.61H157.62zM168.93 247.43H170.12V248.61H168.93z"/><path fill="#a5317e" d="M102.20 228.20H103.39V229.38H102.20zM113.52 228.20H114.70V229.38H113.52zM122.56 232.73H123.74V233.91H122.56zM118.04 233.86H119.22V235.04H118.04zM129.35 233.86H130.53V235.04H129.35zM123.69 236.12H124.88V237.30H123.69zM135.00 238.38H136.19V239.56H135.00zM146.31 238.38H147.50V239.56H146.31zM150.84 244.04H152.02V245.22H150.84zM162.15 244.04H163.33V245.22H162.15zM167.80 248.56H168.98V249.74H167.80zM166.67 249.69H167.85V250.87H166.67z"/><path fill="#9c2e7f" d="M105.60 227.07H106.78V228.25H105.60zM101.07 229.33H102.25V230.51H101.07zM112.38 229.33H113.56V230.51H112.38zM114.65 231.59H115.83V232.78H114.65zM115.78 234.99H118.09V236.17H115.78zM128.22 234.99H129.40V236.17H128.22zM133.87 239.51H135.05V240.69H133.87zM145.18 239.51H146.36V240.69H145.18zM132.74 240.64H133.92V241.82H132.74zM144.05 240.64H145.23V241.82H144.05zM155.36 241.77H156.54V242.96H155.36zM149.71 245.17H150.89V246.35H149.71zM156.49 245.17H157.67V246.35H156.49zM161.02 245.17H162.20V246.35H161.02zM159.89 246.30H161.07V247.48H159.89zM164.41 246.30H165.59V247.48H164.41zM171.20 246.30H172.38V247.48H171.20zM165.54 249.69H166.72V250.87H165.54z"/><path fill="#932b80" d="M97.68 225.94H98.86V227.12H97.68zM98.81 229.33H99.99V230.51H98.81zM99.94 230.46H101.12V231.65H99.94zM106.73 230.46H107.91V231.65H106.73zM111.25 230.46H112.43V231.65H111.25zM110.12 231.59H111.30V232.78H110.12zM121.43 231.59H122.61V232.78H121.43zM127.09 236.12H128.27V237.30H127.09zM138.40 236.12H139.58V237.30H138.40zM125.96 237.25H127.14V238.43H125.96zM137.27 237.25H138.45V238.43H137.27zM139.53 239.51H140.71V240.69H139.53zM147.44 240.64H148.63V241.82H147.44zM142.92 241.77H144.10V242.96H142.92zM154.23 241.77H155.41V242.96H154.23zM141.79 242.90H142.97V244.09H141.79zM153.10 242.90H154.28V244.09H153.10zM148.58 244.04H149.76V245.22H148.58zM158.75 247.43H159.94V248.61H158.75zM170.06 247.43H171.25V248.61H170.06zM157.62 248.56H158.81V249.74H157.62zM168.93 248.56H170.12V249.74H168.93zM140.66 277.97H141.84V279.15H140.66zM139.53 279.10H140.71V280.28H139.53zM138.40 280.23H139.58V281.41H138.40zM137.27 281.36H138.45V282.54H137.27zM136.13 282.49H137.32V283.67H136.13zM135.00 283.62H136.19V284.80H135.00z"/><path fill="#8b2981" d="M104.47 227.07H105.65V228.25H104.47zM103.34 228.20H104.52V229.38H103.34zM108.99 232.73H110.17V233.91H108.99zM120.30 232.73H121.48V233.91H120.30zM107.86 233.86H109.04V235.04H107.86zM119.17 233.86H120.35V235.04H119.17zM122.56 233.86H123.74V235.04H122.56zM130.48 234.99H131.66V236.17H130.48zM124.83 238.38H126.01V239.56H124.83zM131.61 238.38H132.79V239.56H131.61zM136.13 238.38H137.32V239.56H136.13zM135.00 239.51H136.19V240.69H135.00zM146.31 239.51H147.50V240.69H146.31zM140.66 242.90H141.84V244.09H140.66zM151.97 244.04H153.15V245.22H151.97zM163.28 244.04H164.46V245.22H163.28zM150.84 245.17H152.02V246.35H150.84zM162.15 245.17H163.33V246.35H162.15zM164.41 247.43H165.59V248.61H164.41zM167.80 249.69H168.98V250.87H167.80zM166.67 250.82H167.85V252.00H166.67zM146.31 272.31H147.50V273.49H146.31zM145.18 273.44H146.36V274.62H145.18zM144.05 274.57H145.23V275.75H144.05zM142.92 275.70H144.10V276.88H142.92zM141.79 276.83H142.97V278.02H141.79zM138.40 279.10H139.58V280.28H138.40zM137.27 280.23H138.45V281.41H137.27zM136.13 281.36H137.32V282.54H136.13zM135.00 282.49H136.19V283.67H135.00zM133.87 283.62H135.05V284.80H133.87z"/><path fill="#832681" d="M102.20 229.33H103.39V230.51H102.20zM113.52 229.33H114.70V230.51H113.52zM112.38 230.46H113.56V231.65H112.38zM114.65 232.73H115.83V233.91H114.65zM118.04 234.99H119.22V236.17H118.04zM129.35 234.99H130.53V236.17H129.35zM128.22 236.12H129.40V237.30H128.22zM123.69 237.25H124.88V238.43H123.69zM133.87 240.64H135.05V241.82H133.87zM145.18 240.64H146.36V241.82H145.18zM132.74 241.77H133.92V242.96H132.74zM144.05 241.77H145.23V242.96H144.05zM147.44 241.77H148.63V242.96H147.44zM154.23 242.90H156.54V244.09H154.23zM149.71 246.30H150.89V247.48H149.71zM156.49 246.30H157.67V247.48H156.49zM161.02 246.30H162.20V247.48H161.02zM159.89 247.43H161.07V248.61H159.89zM171.20 247.43H172.38V248.61H171.20zM170.06 248.56H171.25V249.74H170.06zM165.54 250.82H166.72V252.00H165.54zM153.10 265.52H154.28V266.71H153.10zM151.97 266.66H153.15V267.84H151.97zM150.84 267.79H152.02V268.97H150.84zM149.71 268.92H150.89V270.10H149.71zM148.58 270.05H149.76V271.23H148.58zM147.44 271.18H148.63V272.36H147.44zM145.18 272.31H146.36V273.49H145.18zM144.05 273.44H145.23V274.62H144.05zM142.92 274.57H144.10V275.75H142.92zM141.79 275.70H142.97V276.88H141.79zM140.66 276.83H141.84V278.02H140.66zM139.53 277.97H140.71V279.15H139.53zM137.27 279.10H138.45V280.28H137.27zM136.13 280.23H137.32V281.41H136.13zM135.00 281.36H136.19V282.54H135.00zM133.87 282.49H135.05V283.67H133.87zM132.74 283.62H133.92V284.80H132.74z"/><path fill="#792282" d="M105.60 228.20H106.78V229.38H105.60zM101.07 230.46H102.25V231.65H101.07zM99.94 231.59H101.12V232.78H99.94zM106.73 231.59H107.91V232.78H106.73zM111.25 231.59H112.43V232.78H111.25zM121.43 232.73H122.61V233.91H121.43zM115.78 236.12H118.09V237.30H115.78zM127.09 237.25H128.27V238.43H127.09zM138.40 237.25H139.58V238.43H138.40zM125.96 238.38H127.14V239.56H125.96zM137.27 238.38H138.45V239.56H137.27zM139.53 240.64H140.71V241.82H139.53zM142.92 242.90H144.10V244.09H142.92zM140.66 244.04H142.97V245.22H140.66zM153.10 244.04H154.28V245.22H153.10zM148.58 245.17H149.76V246.35H148.58zM151.97 245.17H153.15V246.35H151.97zM163.28 245.17H164.46V246.35H163.28zM158.75 248.56H159.94V249.74H158.75zM157.62 249.69H158.81V250.87H157.62zM168.93 249.69H170.12V250.87H168.93zM167.80 250.82H168.98V252.00H167.80zM158.75 259.87H159.94V261.05H158.75zM157.62 261.00H158.81V262.18H157.62zM156.49 262.13H157.67V263.31H156.49zM155.36 263.26H156.54V264.44H155.36zM154.23 264.39H155.41V265.57H154.23zM150.84 266.66H152.02V267.84H150.84zM149.71 267.79H150.89V268.97H149.71zM148.58 268.92H149.76V270.10H148.58zM147.44 270.05H148.63V271.23H147.44zM146.31 271.18H147.50V272.36H146.31zM142.92 273.44H144.10V274.62H142.92zM141.79 274.57H142.97V275.75H141.79zM140.66 275.70H141.84V276.88H140.66zM139.53 276.83H140.71V278.02H139.53zM138.40 277.97H139.58V279.15H138.40zM136.13 279.10H137.32V280.28H136.13zM135.00 280.23H136.19V281.41H135.00zM133.87 281.36H135.05V282.54H133.87zM132.74 282.49H133.92V283.67H132.74zM131.61 283.62H132.79V284.80H131.61z"/><path fill="#721f81" d="M97.68 227.07H98.86V228.25H97.68zM104.47 228.20H105.65V229.38H104.47zM98.81 230.46H99.99V231.65H98.81zM110.12 232.73H111.30V233.91H110.12zM108.99 233.86H110.17V235.04H108.99zM120.30 233.86H121.48V235.04H120.30zM130.48 236.12H131.66V237.30H130.48zM124.83 239.51H126.01V240.69H124.83zM131.61 239.51H132.79V240.69H131.61zM136.13 239.51H137.32V240.69H136.13zM135.00 240.64H136.19V241.82H135.00zM146.31 240.64H147.50V241.82H146.31zM145.18 241.77H146.36V242.96H145.18zM155.36 244.04H156.54V245.22H155.36zM150.84 246.30H152.02V247.48H150.84zM162.15 246.30H163.33V247.48H162.15zM161.02 247.43H162.20V248.61H161.02zM164.41 248.56H165.59V249.74H164.41zM165.54 251.95H167.85V253.13H165.54zM163.28 255.35H164.46V256.53H163.28zM162.15 256.48H163.33V257.66H162.15zM161.02 257.61H162.20V258.79H161.02zM159.89 258.74H161.07V259.92H159.89zM156.49 261.00H157.67V262.18H156.49zM155.36 262.13H156.54V263.31H155.36zM154.23 263.26H155.41V264.44H154.23zM153.10 264.39H154.28V265.57H153.10zM151.97 265.52H153.15V266.71H151.97zM148.58 267.79H149.76V268.97H148.58zM147.44 268.92H148.63V270.10H147.44zM146.31 270.05H147.50V271.23H146.31zM145.18 271.18H146.36V272.36H145.18zM144.05 272.31H145.23V273.49H144.05zM141.79 273.44H142.97V274.62H141.79zM140.66 274.57H141.84V275.75H140.66zM139.53 275.70H140.71V276.88H139.53zM138.40 276.83H139.58V278.02H138.40zM137.27 277.97H138.45V279.15H137.27zM135.00 279.10H136.19V280.28H135.00zM133.87 280.23H135.05V281.41H133.87zM132.74 281.36H133.92V282.54H132.74zM131.61 282.49H132.79V283.67H131.61zM130.48 283.62H131.66V284.80H130.48z"/><path fill="#6a1c81" d="M103.34 229.33H104.52V230.51H103.34zM102.20 230.46H103.39V231.65H102.20zM113.52 230.46H114.70V231.65H113.52zM114.65 233.86H115.83V235.04H114.65zM107.86 234.99H109.04V236.17H107.86zM119.17 234.99H120.35V236.17H119.17zM122.56 234.99H123.74V236.17H122.56zM118.04 236.12H119.22V237.30H118.04zM129.35 236.12H130.53V237.30H129.35zM128.22 237.25H129.40V238.43H128.22zM123.69 238.38H124.88V239.56H123.69zM138.40 238.38H139.58V239.56H138.40zM133.87 241.77H135.05V242.96H133.87zM132.74 242.90H133.92V244.09H132.74zM144.05 242.90H145.23V244.09H144.05zM147.44 242.90H148.63V244.09H147.44zM142.92 244.04H144.10V245.22H142.92zM154.23 244.04H155.41V245.22H154.23zM153.10 245.17H154.28V246.35H153.10zM148.58 246.30H149.76V247.48H148.58zM149.71 247.43H150.89V248.61H149.71zM156.49 247.43H157.67V248.61H156.49zM159.89 248.56H161.07V249.74H159.89zM158.75 249.69H159.94V250.87H158.75zM165.54 253.08H166.72V254.27H165.54zM164.41 254.21H165.59V255.40H164.41zM161.02 256.48H162.20V257.66H161.02zM159.89 257.61H161.07V258.79H159.89zM158.75 258.74H159.94V259.92H158.75zM157.62 259.87H158.81V261.05H157.62zM154.23 262.13H155.41V263.31H154.23zM153.10 263.26H154.28V264.44H153.10zM151.97 264.39H153.15V265.57H151.97zM150.84 265.52H152.02V266.71H150.84zM149.71 266.66H150.89V267.84H149.71zM147.44 267.79H148.63V268.97H147.44zM146.31 268.92H147.50V270.10H146.31zM145.18 270.05H146.36V271.23H145.18zM144.05 271.18H145.23V272.36H144.05zM142.92 272.31H144.10V273.49H142.92zM140.66 273.44H141.84V274.62H140.66zM139.53 274.57H140.71V275.75H139.53zM138.40 275.70H139.58V276.88H138.40zM137.27 276.83H138.45V278.02H137.27zM136.13 277.97H137.32V279.15H136.13zM133.87 279.10H135.05V280.28H133.87zM132.74 280.23H133.92V281.41H132.74zM131.61 281.36H132.79V282.54H131.61zM130.48 282.49H131.66V283.67H130.48zM129.35 283.62H130.53V284.80H129.35z"/><path fill="#601880" d="M94.29 228.20H95.47V229.38H94.29zM105.60 229.33H106.78V230.51H105.60zM101.07 231.59H102.25V232.78H101.07zM112.38 231.59H113.56V232.78H112.38zM106.73 232.73H107.91V233.91H106.73zM111.25 232.73H112.43V233.91H111.25zM121.43 233.86H122.61V235.04H121.43zM115.78 237.25H118.09V238.43H115.78zM130.48 237.25H131.66V238.43H130.48zM127.09 238.38H128.27V239.56H127.09zM125.96 239.51H127.14V240.69H125.96zM137.27 239.51H138.45V240.69H137.27zM136.13 240.64H137.32V241.82H136.13zM139.53 241.77H140.71V242.96H139.53zM146.31 241.77H147.50V242.96H146.31zM140.66 245.17H142.97V246.35H140.66zM151.97 246.30H153.15V247.48H151.97zM163.28 246.30H164.46V247.48H163.28zM150.84 247.43H152.02V248.61H150.84zM162.15 247.43H163.33V248.61H162.15zM161.02 248.56H162.20V249.74H161.02zM164.41 249.69H165.59V250.87H164.41zM157.62 250.82H158.81V252.00H157.62zM164.41 253.08H165.59V254.27H164.41zM163.28 254.21H164.46V255.40H163.28zM162.15 255.35H163.33V256.53H162.15zM159.89 256.48H161.07V257.66H159.89zM158.75 257.61H159.94V258.79H158.75zM157.62 258.74H158.81V259.92H157.62zM156.49 259.87H157.67V261.05H156.49zM155.36 261.00H156.54V262.18H155.36zM153.10 262.13H154.28V263.31H153.10zM151.97 263.26H153.15V264.44H151.97zM150.84 264.39H152.02V265.57H150.84zM149.71 265.52H150.89V266.71H149.71zM148.58 266.66H149.76V267.84H148.58zM146.31 267.79H147.50V268.97H146.31zM145.18 268.92H146.36V270.10H145.18zM144.05 270.05H145.23V271.23H144.05zM142.92 271.18H144.10V272.36H142.92zM140.66 272.31H142.97V273.49H140.66zM139.53 273.44H140.71V274.62H139.53zM138.40 274.57H139.58V275.75H138.40zM137.27 275.70H138.45V276.88H137.27zM136.13 276.83H137.32V278.02H136.13zM133.87 277.97H136.19V279.15H133.87zM132.74 279.10H133.92V280.28H132.74zM131.61 280.23H132.79V281.41H131.61zM130.48 281.36H131.66V282.54H130.48zM129.35 282.49H130.53V283.67H129.35zM127.09 283.62H129.40V284.80H127.09z"/><path fill="#59157e" d="M97.68 228.20H98.86V229.38H97.68zM104.47 229.33H105.65V230.51H104.47zM98.81 231.59H99.99V232.78H98.81zM99.94 232.73H101.12V233.91H99.94zM110.12 233.86H111.30V235.04H110.12zM108.99 234.99H110.17V236.17H108.99zM120.30 234.99H121.48V236.17H120.30zM119.17 236.12H120.35V237.30H119.17zM122.56 236.12H123.74V237.30H122.56zM129.35 237.25H130.53V238.43H129.35zM123.69 239.51H124.88V240.69H123.69zM124.83 240.64H126.01V241.82H124.83zM131.61 240.64H132.79V241.82H131.61zM135.00 241.77H136.19V242.96H135.00zM133.87 242.90H135.05V244.09H133.87zM145.18 242.90H146.36V244.09H145.18zM144.05 244.04H145.23V245.22H144.05zM147.44 244.04H148.63V245.22H147.44zM154.23 245.17H156.54V246.35H154.23zM149.71 248.56H150.89V249.74H149.71zM156.49 248.56H157.67V249.74H156.49zM159.89 249.69H161.07V250.87H159.89zM158.75 250.82H159.94V252.00H158.75zM164.41 251.95H165.59V253.13H164.41zM163.28 253.08H164.46V254.27H163.28zM162.15 254.21H163.33V255.40H162.15zM161.02 255.35H162.20V256.53H161.02zM158.75 256.48H159.94V257.66H158.75zM157.62 257.61H158.81V258.79H157.62zM156.49 258.74H157.67V259.92H156.49zM155.36 259.87H156.54V261.05H155.36zM153.10 261.00H155.41V262.18H153.10zM151.97 262.13H153.15V263.31H151.97zM150.84 263.26H152.02V264.44H150.84zM149.71 264.39H150.89V265.57H149.71zM148.58 265.52H149.76V266.71H148.58zM146.31 266.66H148.63V267.84H146.31zM145.18 267.79H146.36V268.97H145.18zM144.05 268.92H145.23V270.10H144.05zM142.92 270.05H144.10V271.23H142.92zM140.66 271.18H142.97V272.36H140.66zM139.53 272.31H140.71V273.49H139.53zM138.40 273.44H139.58V274.62H138.40zM137.27 274.57H138.45V275.75H137.27zM136.13 275.70H137.32V276.88H136.13zM133.87 276.83H136.19V278.02H133.87zM132.74 277.97H133.92V279.15H132.74zM131.61 279.10H132.79V280.28H131.61zM130.48 280.23H131.66V281.41H130.48zM129.35 281.36H130.53V282.54H129.35zM127.09 282.49H129.40V283.67H127.09zM125.96 283.62H127.14V284.80H125.96z"/><path fill="#51127c" d="M103.34 230.46H104.52V231.65H103.34zM102.20 231.59H103.39V232.78H102.20zM113.52 231.59H114.70V232.78H113.52zM112.38 232.73H113.56V233.91H112.38zM114.65 234.99H115.83V236.17H114.65zM107.86 236.12H109.04V237.30H107.86zM118.04 237.25H119.22V238.43H118.04zM115.78 238.38H118.09V239.56H115.78zM128.22 238.38H129.40V239.56H128.22zM127.09 239.51H128.27V240.69H127.09zM138.40 239.51H139.58V240.69H138.40zM137.27 240.64H138.45V241.82H137.27zM139.53 242.90H140.71V244.09H139.53zM132.74 244.04H133.92V245.22H132.74zM142.92 245.17H144.10V246.35H142.92zM140.66 246.30H142.97V247.48H140.66zM153.10 246.30H154.28V247.48H153.10zM148.58 247.43H149.76V248.61H148.58zM151.97 247.43H153.15V248.61H151.97zM163.28 247.43H164.46V248.61H163.28zM162.15 248.56H163.33V249.74H162.15zM161.02 249.69H162.20V250.87H161.02zM164.41 250.82H165.59V252.00H164.41zM157.62 251.95H158.81V253.13H157.62zM163.28 251.95H164.46V253.13H163.28zM162.15 253.08H163.33V254.27H162.15zM161.02 254.21H162.20V255.40H161.02zM158.75 255.35H161.07V256.53H158.75zM157.62 256.48H158.81V257.66H157.62zM156.49 257.61H157.67V258.79H156.49zM155.36 258.74H156.54V259.92H155.36zM154.23 259.87H155.41V261.05H154.23zM151.97 261.00H153.15V262.18H151.97zM150.84 262.13H152.02V263.31H150.84zM149.71 263.26H150.89V264.44H149.71zM148.58 264.39H149.76V265.57H148.58zM146.31 265.52H148.63V266.71H146.31zM145.18 266.66H146.36V267.84H145.18zM144.05 267.79H145.23V268.97H144.05zM142.92 268.92H144.10V270.10H142.92zM140.66 270.05H142.97V271.23H140.66zM139.53 271.18H140.71V272.36H139.53zM138.40 272.31H139.58V273.49H138.40zM137.27 273.44H138.45V274.62H137.27zM136.13 274.57H137.32V275.75H136.13zM133.87 275.70H136.19V276.88H133.87zM132.74 276.83H133.92V278.02H132.74zM131.61 277.97H132.79V279.15H131.61zM130.48 279.10H131.66V280.28H130.48zM128.22 280.23H130.53V281.41H128.22zM127.09 281.36H129.40V282.54H127.09zM125.96 282.49H127.14V283.67H125.96zM124.83 283.62H126.01V284.80H124.83z"/><path fill="#471078" d="M95.42 228.20H96.60V229.38H95.42zM94.29 229.33H95.47V230.51H94.29zM105.60 230.46H106.78V231.65H105.60zM101.07 232.73H102.25V233.91H101.07zM106.73 233.86H107.91V235.04H106.73zM111.25 233.86H112.43V235.04H111.25zM110.12 234.99H111.30V236.17H110.12zM121.43 234.99H122.61V236.17H121.43zM120.30 236.12H121.48V237.30H120.30zM130.48 238.38H131.66V239.56H130.48zM125.96 240.64H127.14V241.82H125.96zM124.83 241.77H126.01V242.96H124.83zM131.61 241.77H132.79V242.96H131.61zM136.13 241.77H137.32V242.96H136.13zM135.00 242.90H136.19V244.09H135.00zM146.31 242.90H147.50V244.09H146.31zM145.18 244.04H146.36V245.22H145.18zM144.05 245.17H145.23V246.35H144.05zM154.23 246.30H156.54V247.48H154.23zM150.84 248.56H152.02V249.74H150.84zM149.71 249.69H150.89V250.87H149.71zM156.49 249.69H157.67V250.87H156.49zM159.89 250.82H161.07V252.00H159.89zM163.28 250.82H164.46V252.00H163.28zM158.75 251.95H159.94V253.13H158.75zM162.15 251.95H163.33V253.13H162.15zM161.02 253.08H162.20V254.27H161.02zM159.89 254.21H161.07V255.40H159.89zM157.62 255.35H158.81V256.53H157.62zM156.49 256.48H157.67V257.66H156.49zM155.36 257.61H156.54V258.79H155.36zM154.23 258.74H155.41V259.92H154.23zM151.97 259.87H154.28V261.05H151.97zM150.84 261.00H152.02V262.18H150.84zM149.71 262.13H150.89V263.31H149.71zM148.58 263.26H149.76V264.44H148.58zM146.31 264.39H148.63V265.57H146.31zM145.18 265.52H146.36V266.71H145.18zM144.05 266.66H145.23V267.84H144.05zM142.92 267.79H144.10V268.97H142.92zM141.79 268.92H142.97V270.10H141.79zM139.53 270.05H140.71V271.23H139.53zM138.40 271.18H139.58V272.36H138.40zM137.27 272.31H138.45V273.49H137.27zM136.13 273.44H137.32V274.62H136.13zM133.87 274.57H136.19V275.75H133.87zM132.74 275.70H133.92V276.88H132.74zM131.61 276.83H132.79V278.02H131.61zM130.48 277.97H131.66V279.15H130.48zM128.22 279.10H130.53V280.28H128.22zM127.09 280.23H128.27V281.41H127.09zM125.96 281.36H127.14V282.54H125.96zM124.83 282.49H126.01V283.67H124.83zM122.56 283.62H124.88V284.80H122.56z"/><path fill="#3f0f72" d="M97.68 229.33H98.86V230.51H97.68zM104.47 230.46H105.65V231.65H104.47zM90.90 231.59H93.21V232.78H90.90zM98.81 232.73H99.99V233.91H98.81zM113.52 232.73H114.70V233.91H113.52zM99.94 233.86H101.12V235.04H99.94zM108.99 236.12H110.17V237.30H108.99zM119.17 237.25H120.35V238.43H119.17zM122.56 237.25H123.74V238.43H122.56zM118.04 238.38H119.22V239.56H118.04zM129.35 238.38H130.53V239.56H129.35zM128.22 239.51H129.40V240.69H128.22zM123.69 240.64H124.88V241.82H123.69zM138.40 240.64H139.58V241.82H138.40zM137.27 241.77H138.45V242.96H137.27zM133.87 244.04H135.05V245.22H133.87zM139.53 244.04H140.71V245.22H139.53zM132.74 245.17H133.92V246.35H132.74zM147.44 245.17H148.63V246.35H147.44zM142.92 246.30H144.10V247.48H142.92zM141.79 247.43H142.97V248.61H141.79zM153.10 247.43H154.28V248.61H153.10zM148.58 248.56H149.76V249.74H148.58zM151.97 248.56H153.15V249.74H151.97zM163.28 248.56H164.46V249.74H163.28zM162.15 249.69H163.33V250.87H162.15zM162.15 250.82H163.33V252.00H162.15zM161.02 251.95H162.20V253.13H161.02zM157.62 253.08H158.81V254.27H157.62zM159.89 253.08H161.07V254.27H159.89zM158.75 254.21H159.94V255.40H158.75zM156.49 255.35H157.67V256.53H156.49zM155.36 256.48H156.54V257.66H155.36zM154.23 257.61H155.41V258.79H154.23zM153.10 258.74H154.28V259.92H153.10zM150.84 259.87H152.02V261.05H150.84zM149.71 261.00H150.89V262.18H149.71zM148.58 262.13H149.76V263.31H148.58zM147.44 263.26H148.63V264.44H147.44zM145.18 264.39H146.36V265.57H145.18zM144.05 265.52H145.23V266.71H144.05zM142.92 266.66H144.10V267.84H142.92zM141.79 267.79H142.97V268.97H141.79zM139.53 268.92H141.84V270.10H139.53zM138.40 270.05H139.58V271.23H138.40zM137.27 271.18H138.45V272.36H137.27zM136.13 272.31H137.32V273.49H136.13zM133.87 273.44H136.19V274.62H133.87zM132.74 274.57H133.92V275.75H132.74zM131.61 275.70H132.79V276.88H131.61zM130.48 276.83H131.66V278.02H130.48zM128.22 277.97H130.53V279.15H128.22zM127.09 279.10H128.27V280.28H127.09zM125.96 280.23H127.14V281.41H125.96zM124.83 281.36H126.01V282.54H124.83zM123.69 282.49H124.88V283.67H123.69z"/><path fill="#36106b" d="M96.55 228.20H97.73V229.38H96.55zM103.34 231.59H104.52V232.78H103.34zM102.20 232.73H103.39V233.91H102.20zM112.38 233.86H113.56V235.04H112.38zM111.25 234.99H112.43V236.17H111.25zM114.65 236.12H115.83V237.30H114.65zM121.43 236.12H122.61V237.30H121.43zM107.86 237.25H109.04V238.43H107.86zM115.78 239.51H118.09V240.69H115.78zM130.48 239.51H131.66V240.69H130.48zM127.09 240.64H128.27V241.82H127.09zM125.96 241.77H127.14V242.96H125.96zM131.61 242.90H132.79V244.09H131.61zM136.13 242.90H137.32V244.09H136.13zM135.00 244.04H136.19V245.22H135.00zM146.31 244.04H147.50V245.22H146.31zM145.18 245.17H146.36V246.35H145.18zM140.66 247.43H141.84V248.61H140.66zM154.23 247.43H156.54V248.61H154.23zM150.84 249.69H152.02V250.87H150.84zM163.28 249.69H164.46V250.87H163.28zM149.71 250.82H150.89V252.00H149.71zM156.49 250.82H157.67V252.00H156.49zM161.02 250.82H162.20V252.00H161.02zM159.89 251.95H161.07V253.13H159.89zM158.75 253.08H159.94V254.27H158.75zM157.62 254.21H158.81V255.40H157.62zM155.36 255.35H156.54V256.53H155.36zM154.23 256.48H155.41V257.66H154.23zM153.10 257.61H154.28V258.79H153.10zM150.84 258.74H153.15V259.92H150.84zM149.71 259.87H150.89V261.05H149.71zM148.58 261.00H149.76V262.18H148.58zM147.44 262.13H148.63V263.31H147.44zM145.18 263.26H147.50V264.44H145.18zM144.05 264.39H145.23V265.57H144.05zM142.92 265.52H144.10V266.71H142.92zM141.79 266.66H142.97V267.84H141.79zM139.53 267.79H141.84V268.97H139.53zM138.40 268.92H139.58V270.10H138.40zM137.27 270.05H138.45V271.23H137.27zM136.13 271.18H137.32V272.36H136.13zM133.87 272.31H136.19V273.49H133.87zM132.74 273.44H133.92V274.62H132.74zM131.61 274.57H132.79V275.75H131.61zM130.48 275.70H131.66V276.88H130.48zM129.35 276.83H130.53V278.02H129.35z"/><path fill="#2c115f" d="M95.42 229.33H96.60V230.51H95.42zM94.29 230.46H95.47V231.65H94.29zM97.68 230.46H98.86V231.65H97.68zM93.16 231.59H94.34V232.78H93.16zM105.60 231.59H106.78V232.78H105.60zM90.90 232.73H92.08V233.91H90.90zM101.07 233.86H102.25V235.04H101.07zM99.94 234.99H101.12V236.17H99.94zM106.73 234.99H107.91V236.17H106.73zM110.12 236.12H111.30V237.30H110.12zM108.99 237.25H110.17V238.43H108.99zM120.30 237.25H121.48V238.43H120.30zM119.17 238.38H120.35V239.56H119.17zM122.56 238.38H123.74V239.56H122.56zM129.35 239.51H130.53V240.69H129.35zM128.22 240.64H129.40V241.82H128.22zM123.69 241.77H124.88V242.96H123.69zM138.40 241.77H139.58V242.96H138.40zM124.83 242.90H126.01V244.09H124.83zM137.27 242.90H138.45V244.09H137.27zM133.87 245.17H135.05V246.35H133.87zM139.53 245.17H140.71V246.35H139.53zM132.74 246.30H133.92V247.48H132.74zM144.05 246.30H145.23V247.48H144.05zM147.44 246.30H148.63V247.48H147.44zM142.92 247.43H144.10V248.61H142.92zM140.66 248.56H142.97V249.74H140.66zM153.10 248.56H154.28V249.74H153.10zM148.58 249.69H149.76V250.87H148.58zM151.97 249.69H153.15V250.87H151.97zM150.84 250.82H152.02V252.00H150.84zM156.49 254.21H157.67V255.40H156.49zM154.23 255.35H155.41V256.53H154.23zM153.10 256.48H154.28V257.66H153.10zM151.97 257.61H153.15V258.79H151.97zM149.71 258.74H150.89V259.92H149.71zM148.58 259.87H149.76V261.05H148.58zM147.44 261.00H148.63V262.18H147.44zM146.31 262.13H147.50V263.31H146.31zM144.05 263.26H145.23V264.44H144.05zM142.92 264.39H144.10V265.57H142.92zM141.79 265.52H142.97V266.71H141.79zM140.66 266.66H141.84V267.84H140.66zM138.40 267.79H139.58V268.97H138.40zM137.27 268.92H138.45V270.10H137.27zM136.13 270.05H137.32V271.23H136.13zM135.00 271.18H136.19V272.36H135.00z"/><path fill="#241253" d="M104.47 231.59H105.65V232.78H104.47zM92.03 232.73H93.21V233.91H92.03zM103.34 232.73H104.52V233.91H103.34zM98.81 233.86H99.99V235.04H98.81zM113.52 233.86H114.70V235.04H113.52zM112.38 234.99H113.56V236.17H112.38zM114.65 237.25H115.83V238.43H114.65zM121.43 237.25H122.61V238.43H121.43zM107.86 238.38H109.04V239.56H107.86zM118.04 239.51H119.22V240.69H118.04zM115.78 240.64H118.09V241.82H115.78zM130.48 240.64H131.66V241.82H130.48zM127.09 241.77H128.27V242.96H127.09zM125.96 242.90H127.14V244.09H125.96zM131.61 244.04H132.79V245.22H131.61zM136.13 244.04H137.32V245.22H136.13zM135.00 245.17H136.19V246.35H135.00zM146.31 245.17H147.50V246.35H146.31zM145.18 246.30H146.36V247.48H145.18zM144.05 247.43H145.23V248.61H144.05zM147.44 247.43H148.63V248.61H147.44zM154.23 248.56H156.54V249.74H154.23zM153.10 249.69H154.28V250.87H153.10zM148.58 250.82H149.76V252.00H148.58zM149.71 251.95H150.89V253.13H149.71zM156.49 251.95H157.67V253.13H156.49zM156.49 253.08H157.67V254.27H156.49zM154.23 254.21H156.54V255.40H154.23zM153.10 255.35H154.28V256.53H153.10zM151.97 256.48H153.15V257.66H151.97zM150.84 257.61H152.02V258.79H150.84zM148.58 258.74H149.76V259.92H148.58zM147.44 259.87H148.63V261.05H147.44zM146.31 261.00H147.50V262.18H146.31zM144.05 262.13H146.36V263.31H144.05zM142.92 263.26H144.10V264.44H142.92zM141.79 264.39H142.97V265.57H141.79zM140.66 265.52H141.84V266.71H140.66zM139.53 266.66H140.71V267.84H139.53z"/><path fill="#1d1147" d="M96.55 229.33H97.73V230.51H96.55zM95.42 230.46H96.60V231.65H95.42zM105.60 232.73H106.78V233.91H105.60zM102.20 233.86H103.39V235.04H102.20zM101.07 234.99H102.25V236.17H101.07zM106.73 236.12H107.91V237.30H106.73zM111.25 236.12H112.43V237.30H111.25zM110.12 237.25H111.30V238.43H110.12zM120.30 238.38H121.48V239.56H120.30zM119.17 239.51H120.35V240.69H119.17zM122.56 239.51H123.74V240.69H122.56zM129.35 240.64H130.53V241.82H129.35zM128.22 241.77H129.40V242.96H128.22zM123.69 242.90H124.88V244.09H123.69zM138.40 242.90H139.58V244.09H138.40zM124.83 244.04H126.01V245.22H124.83zM137.27 244.04H138.45V245.22H137.27zM133.87 246.30H135.05V247.48H133.87zM139.53 246.30H140.71V247.48H139.53zM146.31 246.30H147.50V247.48H146.31zM132.74 247.43H133.92V248.61H132.74zM142.92 248.56H144.10V249.74H142.92zM140.66 249.69H142.97V250.87H140.66zM155.36 249.69H156.54V250.87H155.36zM151.97 250.82H153.15V252.00H151.97zM150.84 251.95H152.02V253.13H150.84zM155.36 253.08H156.54V254.27H155.36zM153.10 254.21H154.28V255.40H153.10zM151.97 255.35H153.15V256.53H151.97zM150.84 256.48H152.02V257.66H150.84zM149.71 257.61H150.89V258.79H149.71zM147.44 258.74H148.63V259.92H147.44zM146.31 259.87H147.50V261.05H146.31zM145.18 261.00H146.36V262.18H145.18z"/><path fill="#150e38" d="M96.55 230.46H97.73V231.65H96.55zM94.29 231.59H98.86V232.78H94.29zM93.16 232.73H98.86V233.91H93.16zM104.47 232.73H105.65V233.91H104.47zM90.90 233.86H98.86V235.04H90.90zM103.34 233.86H106.78V235.04H103.34zM87.50 234.99H99.99V236.17H87.50zM102.20 234.99H106.78V236.17H102.20zM113.52 234.99H114.70V236.17H113.52zM87.50 236.12H106.78V237.30H87.50zM112.38 236.12H114.70V237.30H112.38zM87.50 237.25H107.91V238.43H87.50zM111.25 237.25H114.70V238.43H111.25zM84.11 238.38H107.91V239.56H84.11zM108.99 238.38H115.83V239.56H108.99zM121.43 238.38H122.61V239.56H121.43zM84.11 239.51H115.83V240.69H84.11zM120.30 239.51H122.61V240.69H120.30zM84.11 240.64H115.83V241.82H84.11zM118.04 240.64H123.74V241.82H118.04zM80.72 241.77H123.74V242.96H80.72zM129.35 241.77H131.66V242.96H129.35zM80.72 242.90H123.74V244.09H80.72zM127.09 242.90H131.66V244.09H127.09zM80.72 244.04H124.88V245.22H80.72zM125.96 244.04H131.66V245.22H125.96zM138.40 244.04H139.58V245.22H138.40zM77.32 245.17H132.79V246.35H77.32zM136.13 245.17H139.58V246.35H136.13zM77.32 246.30H132.79V247.48H77.32zM135.00 246.30H139.58V247.48H135.00zM77.32 247.43H132.79V248.61H77.32zM133.87 247.43H140.71V248.61H133.87zM145.18 247.43H147.50V248.61H145.18zM73.93 248.56H140.71V249.74H73.93zM144.05 248.56H148.63V249.74H144.05zM73.93 249.69H140.71V250.87H73.93zM142.92 249.69H148.63V250.87H142.92zM154.23 249.69H155.41V250.87H154.23zM73.93 250.82H148.63V252.00H73.93zM153.10 250.82H156.54V252.00H153.10zM70.54 251.95H149.76V253.13H70.54zM151.97 251.95H156.54V253.13H151.97zM70.54 253.08H155.41V254.27H70.54zM70.54 254.21H153.15V255.40H70.54zM67.14 255.35H152.02V256.53H67.14zM67.14 256.48H150.89V257.66H67.14zM67.14 257.61H149.76V258.79H67.14zM63.75 258.74H147.50V259.92H63.75zM63.75 259.87H146.36V261.05H63.75zM63.75 261.00H145.23V262.18H63.75zM60.36 262.13H144.10V263.31H60.36zM60.36 263.26H142.97V264.44H60.36zM60.36 264.39H141.84V265.57H60.36zM56.97 265.52H140.71V266.71H56.97zM56.97 266.66H139.58V267.84H56.97zM56.97 267.79H138.45V268.97H56.97zM53.57 268.92H137.32V270.10H53.57zM53.57 270.05H136.19V271.23H53.57zM53.57 271.18H135.05V272.36H53.57zM50.18 272.31H133.92V273.49H50.18zM50.18 273.44H132.79V274.62H50.18zM50.18 274.57H131.66V275.75H50.18zM46.79 275.70H130.53V276.88H46.79zM46.79 276.83H129.40V278.02H46.79zM46.79 277.97H128.27V279.15H46.79zM43.39 279.10H127.14V280.28H43.39zM43.39 280.23H126.01V281.41H43.39zM43.39 281.36H124.88V282.54H43.39zM40.00 282.49H123.74V283.67H40.00zM40.00 283.62H122.61V284.80H40.00z"/></g>
<g shape-rendering="crispEdges"><path fill="#fed799" d="M419.88 169.39H424.45V170.57H419.88zM419.88 170.52H424.45V171.70H419.88zM419.88 171.65H424.45V172.83H419.88zM419.88 172.78H424.45V173.96H419.88zM416.48 173.91H424.45V175.09H416.48zM416.48 175.04H425.58V176.23H416.48zM416.48 176.18H425.58V177.36H416.48zM414.22 177.31H425.58V178.49H414.22zM413.09 178.44H425.58V179.62H413.09zM413.09 179.57H425.58V180.75H413.09zM413.09 180.70H425.58V181.88H413.09zM413.09 181.83H425.58V183.01H413.09zM413.09 182.96H425.58V184.14H413.09zM409.70 184.09H425.58V185.27H409.70zM409.70 185.22H425.58V186.41H409.70zM409.70 186.35H425.58V187.54H409.70zM406.30 187.49H425.58V188.67H406.30zM406.30 188.62H426.71V189.80H406.30zM406.30 189.75H426.71V190.93H406.30zM402.91 190.88H426.71V192.06H402.91zM402.91 192.01H426.71V193.19H402.91zM402.91 193.14H426.71V194.32H402.91zM399.52 194.27H426.71V195.45H399.52zM399.52 195.40H426.71V196.58H399.52zM399.52 196.53H426.71V197.72H399.52zM396.12 197.66H426.71V198.85H396.12zM397.26 198.80H426.71V199.98H397.26zM400.65 199.93H426.71V201.11H400.65zM399.52 201.06H426.71V202.24H399.52zM399.52 202.19H426.71V203.37H399.52zM400.65 203.32H426.71V204.50H400.65zM402.91 204.45H427.84V205.63H402.91zM401.78 205.58H427.84V206.76H401.78zM401.78 206.71H427.84V207.89H401.78zM404.04 207.84H427.84V209.03H404.04zM405.17 208.97H427.84V210.16H405.17zM404.04 210.11H427.84V211.29H404.04zM404.04 211.24H427.84V212.42H404.04zM405.17 212.37H427.84V213.55H405.17zM406.30 213.50H427.84V214.68H406.30zM406.30 214.63H427.84V215.81H406.30zM405.17 215.76H427.84V216.94H405.17zM405.17 216.89H427.84V218.07H405.17zM405.17 218.02H428.97V219.20H405.17zM406.30 219.15H428.97V220.34H406.30zM407.44 220.28H428.97V221.47H407.44zM406.30 221.42H428.97V222.60H406.30zM405.17 222.55H428.97V223.73H405.17zM405.17 223.68H428.97V224.86H405.17zM406.30 224.81H428.97V225.99H406.30zM406.30 225.94H428.97V227.12H406.30zM407.44 227.07H428.97V228.25H407.44zM406.30 228.20H428.97V229.38H406.30zM405.17 229.33H428.97V230.51H405.17zM404.04 230.46H428.97V231.65H404.04zM404.04 231.59H430.11V232.78H404.04zM404.04 232.73H430.11V233.91H404.04zM404.04 233.86H430.11V235.04H404.04zM404.04 234.99H430.11V236.17H404.04zM405.17 236.12H430.11V237.30H405.17zM404.04 237.25H430.11V238.43H404.04zM402.91 238.38H430.11V239.56H402.91zM401.78 239.51H430.11V240.69H401.78zM401.78 240.64H431.24V241.82H401.78zM401.78 241.77H431.24V242.96H401.78zM400.65 242.90H431.24V244.09H400.65zM400.65 244.04H431.24V245.22H400.65zM400.65 245.17H431.24V246.35H400.65zM400.65 246.30H431.24V247.48H400.65zM400.65 247.43H432.37V248.61H400.65zM400.65 248.56H432.37V249.74H400.65zM399.52 249.69H432.37V250.87H399.52zM398.39 250.82H432.37V252.00H398.39zM398.39 251.95H432.37V253.13H398.39zM398.39 253.08H432.37V254.27H398.39zM399.52 254.21H432.37V255.40H399.52zM400.65 255.35H432.37V256.53H400.65zM399.52 256.48H432.37V257.66H399.52zM400.65 257.61H432.37V258.79H400.65zM402.91 258.74H432.37V259.92H402.91zM402.91 259.87H432.37V261.05H402.91zM401.78 261.00H431.24V262.18H401.78zM404.04 262.13H430.11V263.31H404.04zM406.30 263.26H430.11V264.44H406.30zM405.17 264.39H428.97V265.57H405.17zM405.17 265.52H427.84V266.71H405.17zM407.44 266.66H426.71V267.84H407.44zM408.57 267.79H425.58V268.97H408.57zM407.44 268.92H424.45V270.10H407.44zM409.70 270.05H423.32V271.23H409.70zM411.96 271.18H423.32V272.36H411.96zM410.83 272.31H422.19V273.49H410.83zM410.83 273.44H421.06V274.62H410.83zM413.09 274.57H419.93V275.75H413.09zM414.22 275.70H418.80V276.88H414.22zM413.09 276.83H417.66V278.02H413.09zM414.22 277.97H416.53V279.15H414.22z"/><path fill="#fecd90" d="M396.12 198.80H397.31V199.98H396.12zM396.12 199.93H400.70V201.11H396.12zM394.99 201.06H399.57V202.24H394.99zM397.26 202.19H399.57V203.37H397.26zM397.26 203.32H400.70V204.50H397.26zM396.12 204.45H402.96V205.63H396.12zM398.39 205.58H401.83V206.76H398.39zM400.65 206.71H401.83V207.89H400.65zM399.52 207.84H404.09V209.03H399.52zM399.52 208.97H405.22V210.16H399.52zM400.65 210.11H404.09V211.29H400.65zM402.91 211.24H404.09V212.42H402.91zM401.78 212.37H405.22V213.55H401.78zM400.65 213.50H406.35V214.68H400.65zM401.78 214.63H406.35V215.81H401.78zM402.91 215.76H405.22V216.94H402.91zM404.04 216.89H405.22V218.07H404.04zM402.91 218.02H405.22V219.20H402.91zM401.78 219.15H406.35V220.34H401.78zM401.78 220.28H407.49V221.47H401.78zM402.91 221.42H406.35V222.60H402.91zM404.04 222.55H405.22V223.73H404.04zM404.04 223.68H405.22V224.86H404.04zM402.91 224.81H406.35V225.99H402.91zM401.78 225.94H406.35V227.12H401.78zM401.78 227.07H407.49V228.25H401.78zM401.78 228.20H406.35V229.38H401.78zM401.78 229.33H405.22V230.51H401.78zM401.78 230.46H404.09V231.65H401.78zM402.91 231.59H404.09V232.78H402.91zM401.78 232.73H404.09V233.91H401.78zM400.65 233.86H404.09V235.04H400.65zM399.52 234.99H404.09V236.17H399.52zM399.52 236.12H405.22V237.30H399.52zM399.52 237.25H404.09V238.43H399.52zM399.52 238.38H402.96V239.56H399.52zM400.65 239.51H401.83V240.69H400.65zM400.65 240.64H401.83V241.82H400.65zM399.52 241.77H401.83V242.96H399.52zM398.39 242.90H400.70V244.09H398.39zM397.26 244.04H400.70V245.22H397.26zM396.12 245.17H400.70V246.35H396.12zM396.12 246.30H400.70V247.48H396.12zM394.99 247.43H400.70V248.61H394.99zM394.99 248.56H400.70V249.74H394.99zM394.99 249.69H399.57V250.87H394.99zM396.12 250.82H398.44V252.00H396.12zM397.26 251.95H398.44V253.13H397.26zM396.12 253.08H398.44V254.27H396.12zM394.99 254.21H399.57V255.40H394.99zM394.99 255.35H400.70V256.53H394.99zM397.26 256.48H399.57V257.66H397.26zM398.39 257.61H400.70V258.79H398.39zM397.26 258.74H402.96V259.92H397.26zM398.39 259.87H402.96V261.05H398.39zM400.65 261.00H401.83V262.18H400.65zM400.65 262.13H404.09V263.31H400.65zM399.52 263.26H406.35V264.44H399.52zM400.65 264.39H405.22V265.57H400.65zM404.04 265.52H405.22V266.71H404.04zM402.91 266.66H407.49V267.84H402.91zM402.91 267.79H408.62V268.97H402.91zM405.17 268.92H407.49V270.10H405.17zM406.30 270.05H409.75V271.23H406.30zM405.17 271.18H412.01V272.36H405.17zM406.30 272.31H410.88V273.49H406.30zM409.70 273.44H410.88V274.62H409.70zM408.57 274.57H413.14V275.75H408.57zM408.57 275.70H414.27V276.88H408.57zM410.83 276.83H413.14V278.02H410.83zM411.96 277.97H414.27V279.15H411.96zM410.83 279.10H416.53V280.28H410.83zM411.96 280.23H415.40V281.41H411.96z"/><path fill="#fec488" d="M392.73 201.06H395.04V202.24H392.73zM393.86 202.19H397.31V203.37H393.86zM396.12 203.32H397.31V204.50H396.12zM394.99 205.58H398.44V206.76H394.99zM397.26 206.71H400.70V207.89H397.26zM398.39 208.97H399.57V210.16H398.39zM398.39 210.11H400.70V211.29H398.39zM399.52 211.24H402.96V212.42H399.52zM399.52 214.63H401.83V215.81H399.52zM399.52 215.76H402.96V216.94H399.52zM400.65 216.89H404.09V218.07H400.65zM401.78 218.02H402.96V219.20H401.78zM400.65 220.28H401.83V221.47H400.65zM400.65 221.42H402.96V222.60H400.65zM400.65 222.55H404.09V223.73H400.65zM401.78 223.68H404.09V224.86H401.78zM400.65 227.07H401.83V228.25H400.65zM399.52 228.20H401.83V229.38H399.52zM399.52 229.33H401.83V230.51H399.52zM399.52 230.46H401.83V231.65H399.52zM399.52 231.59H402.96V232.78H399.52zM400.65 232.73H401.83V233.91H400.65zM398.39 236.12H399.57V237.30H398.39zM397.26 237.25H399.57V238.43H397.26zM397.26 238.38H399.57V239.56H397.26zM397.26 239.51H400.70V240.69H397.26zM397.26 240.64H400.70V241.82H397.26zM397.26 241.77H399.57V242.96H397.26zM396.12 242.90H398.44V244.09H396.12zM396.12 244.04H397.31V245.22H396.12zM393.86 248.56H395.04V249.74H393.86zM392.73 249.69H395.04V250.87H392.73zM392.73 250.82H396.18V252.00H392.73zM393.86 251.95H397.31V253.13H393.86zM394.99 253.08H396.18V254.27H394.99zM393.86 255.35H395.04V256.53H393.86zM392.73 256.48H397.31V257.66H392.73zM394.99 257.61H398.44V258.79H394.99zM396.12 259.87H398.44V261.05H396.12zM396.12 261.00H400.70V262.18H396.12zM398.39 262.13H400.70V263.31H398.39zM398.39 264.39H400.70V265.57H398.39zM399.52 265.52H404.09V266.71H399.52zM401.78 266.66H402.96V267.84H401.78zM401.78 267.79H402.96V268.97H401.78zM400.65 268.92H405.22V270.10H400.65zM404.04 270.05H406.35V271.23H404.04zM404.04 272.31H406.35V273.49H404.04zM405.17 273.44H409.75V274.62H405.17zM407.44 274.57H408.62V275.75H407.44zM407.44 275.70H408.62V276.88H407.44zM406.30 276.83H410.88V278.02H406.30zM408.57 277.97H412.01V279.15H408.57zM409.70 280.23H412.01V281.41H409.70zM409.70 281.36H414.27V282.54H409.70zM411.96 282.49H413.14V283.67H411.96z"/><path fill="#feb97f" d="M392.73 202.19H393.91V203.37H392.73zM393.86 203.32H396.18V204.50H393.86zM394.99 206.71H397.31V207.89H394.99zM396.12 207.84H399.57V209.03H396.12zM397.26 210.11H398.44V211.29H397.26zM397.26 211.24H399.57V212.42H397.26zM399.52 212.37H401.83V213.55H399.52zM398.39 215.76H399.57V216.94H398.39zM398.39 216.89H400.70V218.07H398.39zM399.52 218.02H401.83V219.20H399.52zM400.65 219.15H401.83V220.34H400.65zM399.52 221.42H400.70V222.60H399.52zM399.52 222.55H400.70V223.73H399.52zM399.52 223.68H401.83V224.86H399.52zM400.65 224.81H402.96V225.99H400.65zM398.39 229.33H399.57V230.51H398.39zM398.39 230.46H399.57V231.65H398.39zM398.39 231.59H399.57V232.78H398.39zM398.39 232.73H400.70V233.91H398.39zM399.52 233.86H400.70V235.04H399.52zM396.12 238.38H397.31V239.56H396.12zM394.99 239.51H397.31V240.69H394.99zM394.99 240.64H397.31V241.82H394.99zM393.86 241.77H397.31V242.96H393.86zM393.86 242.90H396.18V244.09H393.86zM393.86 244.04H396.18V245.22H393.86zM393.86 245.17H396.18V246.35H393.86zM393.86 246.30H396.18V247.48H393.86zM393.86 247.43H395.04V248.61H393.86zM391.60 250.82H392.78V252.00H391.60zM390.47 251.95H393.91V253.13H390.47zM391.60 253.08H395.04V254.27H391.60zM392.73 254.21H395.04V255.40H392.73zM391.60 257.61H395.04V258.79H391.60zM393.86 258.74H397.31V259.92H393.86zM394.99 261.00H396.18V262.18H394.99zM394.99 262.13H398.44V263.31H394.99zM397.26 263.26H399.57V264.44H397.26zM397.26 265.52H399.57V266.71H397.26zM398.39 266.66H401.83V267.84H398.39zM400.65 267.79H401.83V268.97H400.65zM400.65 270.05H404.09V271.23H400.65zM402.91 271.18H405.22V272.36H402.91zM402.91 273.44H405.22V274.62H402.91zM404.04 274.57H407.49V275.75H404.04zM406.30 275.70H407.49V276.88H406.30zM405.17 277.97H408.62V279.15H405.17zM407.44 279.10H410.88V280.28H407.44zM408.57 281.36H409.75V282.54H408.57zM407.44 282.49H412.01V283.67H407.44zM409.70 283.62H412.01V284.80H409.70z"/><path fill="#feb078" d="M392.73 203.32H393.91V204.50H392.73zM393.86 204.45H396.18V205.63H393.86zM393.86 206.71H395.04V207.89H393.86zM393.86 207.84H396.18V209.03H393.86zM396.12 208.97H398.44V210.16H396.12zM396.12 211.24H397.31V212.42H396.12zM396.12 212.37H399.57V213.55H396.12zM398.39 213.50H400.70V214.68H398.39zM397.26 216.89H398.44V218.07H397.26zM397.26 218.02H399.57V219.20H397.26zM398.39 219.15H400.70V220.34H398.39zM399.52 220.28H400.70V221.47H399.52zM398.39 222.55H399.57V223.73H398.39zM398.39 223.68H399.57V224.86H398.39zM398.39 224.81H400.70V225.99H398.39zM399.52 225.94H401.83V227.12H399.52zM397.26 230.46H398.44V231.65H397.26zM397.26 231.59H398.44V232.78H397.26zM397.26 232.73H398.44V233.91H397.26zM397.26 233.86H399.57V235.04H397.26zM398.39 234.99H399.57V236.17H398.39zM393.86 240.64H395.04V241.82H393.86zM392.73 241.77H393.91V242.96H392.73zM391.60 242.90H393.91V244.09H391.60zM391.60 244.04H393.91V245.22H391.60zM390.47 245.17H393.91V246.35H390.47zM390.47 246.30H393.91V247.48H390.47zM390.47 247.43H393.91V248.61H390.47zM391.60 248.56H393.91V249.74H391.60zM391.60 249.69H392.78V250.87H391.60zM389.34 253.08H391.65V254.27H389.34zM389.34 254.21H392.78V255.40H389.34zM390.47 255.35H393.91V256.53H390.47zM391.60 256.48H392.78V257.66H391.60zM390.47 258.74H393.91V259.92H390.47zM392.73 259.87H396.18V261.05H392.73zM393.86 262.13H395.04V263.31H393.86zM393.86 263.26H397.31V264.44H393.86zM396.12 264.39H398.44V265.57H396.12zM396.12 266.66H398.44V267.84H396.12zM397.26 267.79H400.70V268.97H397.26zM399.52 268.92H400.70V270.10H399.52zM399.52 270.05H400.70V271.23H399.52zM399.52 271.18H402.96V272.36H399.52zM401.78 272.31H404.09V273.49H401.78zM401.78 274.57H404.09V275.75H401.78zM402.91 275.70H406.35V276.88H402.91zM405.17 276.83H406.35V278.02H405.17zM404.04 279.10H407.49V280.28H404.04zM405.17 280.23H409.75V281.41H405.17zM407.44 281.36H408.62V282.54H407.44zM406.30 283.62H409.75V284.80H406.30z"/><path fill="#fea772" d="M391.60 204.45H393.91V205.63H391.60zM392.73 205.58H395.04V206.76H392.73zM392.73 207.84H393.91V209.03H392.73zM393.86 208.97H396.18V210.16H393.86zM394.99 210.11H397.31V211.29H394.99zM394.99 212.37H396.18V213.55H394.99zM396.12 213.50H398.44V214.68H396.12zM397.26 214.63H399.57V215.81H397.26zM396.12 218.02H397.31V219.20H396.12zM396.12 219.15H398.44V220.34H396.12zM398.39 220.28H399.57V221.47H398.39zM397.26 223.68H398.44V224.86H397.26zM397.26 224.81H398.44V225.99H397.26zM398.39 225.94H399.57V227.12H398.39zM398.39 227.07H400.70V228.25H398.39zM396.12 231.59H397.31V232.78H396.12zM394.99 232.73H397.31V233.91H394.99zM396.12 233.86H397.31V235.04H396.12zM396.12 234.99H398.44V236.17H396.12zM396.12 236.12H398.44V237.30H396.12zM396.12 237.25H397.31V238.43H396.12zM390.47 244.04H391.65V245.22H390.47zM389.34 245.17H390.52V246.35H389.34zM388.21 246.30H390.52V247.48H388.21zM388.21 247.43H390.52V248.61H388.21zM388.21 248.56H391.65V249.74H388.21zM389.34 249.69H391.65V250.87H389.34zM389.34 250.82H391.65V252.00H389.34zM389.34 251.95H390.52V253.13H389.34zM388.21 254.21H389.39V255.40H388.21zM387.08 255.35H390.52V256.53H387.08zM388.21 256.48H391.65V257.66H388.21zM390.47 257.61H391.65V258.79H390.47zM389.34 259.87H392.78V261.05H389.34zM391.60 261.00H395.04V262.18H391.60zM392.73 263.26H393.91V264.44H392.73zM392.73 264.39H396.18V265.57H392.73zM394.99 265.52H397.31V266.71H394.99zM394.99 267.79H397.31V268.97H394.99zM396.12 268.92H399.57V270.10H396.12zM398.39 270.05H399.57V271.23H398.39zM398.39 271.18H399.57V272.36H398.39zM398.39 272.31H401.83V273.49H398.39zM400.65 273.44H402.96V274.62H400.65zM400.65 275.70H402.96V276.88H400.65zM401.78 276.83H405.22V278.02H401.78zM404.04 277.97H405.22V279.15H404.04zM402.91 280.23H405.22V281.41H402.91zM404.04 281.36H407.49V282.54H404.04zM405.17 282.49H407.49V283.67H405.17z"/><path fill="#fd9b6b" d="M389.34 204.45H391.65V205.63H389.34zM390.47 205.58H392.78V206.76H390.47zM392.73 206.71H393.91V207.89H392.73zM391.60 208.97H393.91V210.16H391.60zM392.73 210.11H395.04V211.29H392.73zM394.99 211.24H396.18V212.42H394.99zM393.86 213.50H396.18V214.68H393.86zM394.99 214.63H397.31V215.81H394.99zM396.12 215.76H398.44V216.94H396.12zM394.99 219.15H396.18V220.34H394.99zM396.12 220.28H398.44V221.47H396.12zM397.26 221.42H399.57V222.60H397.26zM396.12 224.81H397.31V225.99H396.12zM396.12 225.94H398.44V227.12H396.12zM397.26 227.07H398.44V228.25H397.26zM398.39 228.20H399.57V229.38H398.39zM393.86 233.86H396.18V235.04H393.86zM393.86 234.99H396.18V236.17H393.86zM393.86 236.12H396.18V237.30H393.86zM393.86 237.25H396.18V238.43H393.86zM393.86 238.38H396.18V239.56H393.86zM392.73 239.51H395.04V240.69H392.73zM392.73 240.64H393.91V241.82H392.73zM391.60 241.77H392.78V242.96H391.60zM387.08 247.43H388.26V248.61H387.08zM387.08 248.56H388.26V249.74H387.08zM385.95 249.69H389.39V250.87H385.95zM385.95 250.82H389.39V252.00H385.95zM385.95 251.95H389.39V253.13H385.95zM387.08 253.08H389.39V254.27H387.08zM385.95 256.48H388.26V257.66H385.95zM387.08 257.61H390.52V258.79H387.08zM389.34 258.74H390.52V259.92H389.34zM388.21 261.00H391.65V262.18H388.21zM390.47 262.13H393.91V263.31H390.47zM391.60 264.39H392.78V265.57H391.60zM391.60 265.52H395.04V266.71H391.60zM393.86 266.66H396.18V267.84H393.86zM393.86 268.92H396.18V270.10H393.86zM394.99 270.05H398.44V271.23H394.99zM397.26 271.18H398.44V272.36H397.26zM397.26 272.31H398.44V273.49H397.26zM397.26 273.44H400.70V274.62H397.26zM399.52 274.57H401.83V275.75H399.52zM399.52 276.83H401.83V278.02H399.52zM400.65 277.97H404.09V279.15H400.65zM401.78 279.10H404.09V280.28H401.78zM401.78 281.36H404.09V282.54H401.78zM401.78 282.49H405.22V283.67H401.78zM404.04 283.62H406.35V284.80H404.04z"/><path fill="#fd9266" d="M389.34 205.58H390.52V206.76H389.34zM390.47 206.71H392.78V207.89H390.47zM390.47 210.11H392.78V211.29H390.47zM392.73 211.24H395.04V212.42H392.73zM393.86 212.37H395.04V213.55H393.86zM392.73 214.63H395.04V215.81H392.73zM393.86 215.76H396.18V216.94H393.86zM394.99 216.89H397.31V218.07H394.99zM393.86 220.28H396.18V221.47H393.86zM394.99 221.42H397.31V222.60H394.99zM396.12 222.55H398.44V223.73H396.12zM394.99 225.94H396.18V227.12H394.99zM396.12 227.07H397.31V228.25H396.12zM396.12 228.20H398.44V229.38H396.12zM397.26 229.33H398.44V230.51H397.26zM392.73 234.99H393.91V236.17H392.73zM391.60 236.12H393.91V237.30H391.60zM391.60 237.25H393.91V238.43H391.60zM390.47 238.38H393.91V239.56H390.47zM390.47 239.51H392.78V240.69H390.47zM389.34 240.64H392.78V241.82H389.34zM389.34 241.77H391.65V242.96H389.34zM388.21 242.90H391.65V244.09H388.21zM388.21 244.04H390.52V245.22H388.21zM387.08 245.17H389.39V246.35H387.08zM387.08 246.30H388.26V247.48H387.08zM384.81 250.82H386.00V252.00H384.81zM383.68 251.95H386.00V253.13H383.68zM383.68 253.08H387.13V254.27H383.68zM384.81 254.21H388.26V255.40H384.81zM385.95 255.35H387.13V256.53H385.95zM384.81 257.61H387.13V258.79H384.81zM384.81 258.74H389.39V259.92H384.81zM387.08 259.87H389.39V261.05H387.08zM387.08 262.13H390.52V263.31H387.08zM388.21 263.26H392.78V264.44H388.21zM390.47 264.39H391.65V265.57H390.47zM390.47 265.52H391.65V266.71H390.47zM390.47 266.66H393.91V267.84H390.47zM392.73 267.79H395.04V268.97H392.73zM392.73 270.05H395.04V271.23H392.73zM393.86 271.18H397.31V272.36H393.86zM396.12 273.44H397.31V274.62H396.12zM396.12 274.57H399.57V275.75H396.12zM398.39 275.70H400.70V276.88H398.39zM398.39 277.97H400.70V279.15H398.39zM398.39 279.10H401.83V280.28H398.39zM400.65 280.23H402.96V281.41H400.65zM400.65 282.49H401.83V283.67H400.65zM399.52 283.62H404.09V284.80H399.52z"/><path fill="#fc8961" d="M389.34 206.71H390.52V207.89H389.34zM389.34 207.84H392.78V209.03H389.34zM390.47 211.24H392.78V212.42H390.47zM391.60 212.37H393.91V213.55H391.60zM391.60 215.76H393.91V216.94H391.60zM392.73 216.89H395.04V218.07H392.73zM393.86 218.02H396.18V219.20H393.86zM392.73 221.42H395.04V222.60H392.73zM393.86 222.55H396.18V223.73H393.86zM394.99 223.68H397.31V224.86H394.99zM393.86 227.07H396.18V228.25H393.86zM394.99 228.20H396.18V229.38H394.99zM394.99 229.33H397.31V230.51H394.99zM394.99 230.46H397.31V231.65H394.99zM390.47 237.25H391.65V238.43H390.47zM389.34 238.38H390.52V239.56H389.34zM388.21 239.51H390.52V240.69H388.21zM387.08 240.64H389.39V241.82H387.08zM387.08 241.77H389.39V242.96H387.08zM385.95 242.90H388.26V244.09H385.95zM384.81 244.04H388.26V245.22H384.81zM384.81 245.17H387.13V246.35H384.81zM384.81 246.30H387.13V247.48H384.81zM384.81 247.43H387.13V248.61H384.81zM384.81 248.56H387.13V249.74H384.81zM382.55 253.08H383.73V254.27H382.55zM381.42 254.21H384.87V255.40H381.42zM382.55 255.35H386.00V256.53H382.55zM383.68 256.48H386.00V257.66H383.68zM383.68 258.74H384.87V259.92H383.68zM383.68 259.87H387.13V261.05H383.68zM385.95 261.00H388.26V262.18H385.95zM385.95 263.26H388.26V264.44H385.95zM387.08 264.39H390.52V265.57H387.08zM389.34 266.66H390.52V267.84H389.34zM389.34 267.79H392.78V268.97H389.34zM391.60 268.92H393.91V270.10H391.60zM391.60 271.18H393.91V272.36H391.60zM393.86 272.31H397.31V273.49H393.86zM394.99 274.57H396.18V275.75H394.99zM394.99 275.70H398.44V276.88H394.99zM397.26 276.83H399.57V278.02H397.26zM397.26 279.10H398.44V280.28H397.26zM397.26 280.23H400.70V281.41H397.26zM398.39 281.36H401.83V282.54H398.39z"/><path fill="#fa7d5e" d="M388.21 207.84H389.39V209.03H388.21zM390.47 208.97H391.65V210.16H390.47zM389.34 211.24H390.52V212.42H389.34zM390.47 212.37H391.65V213.55H390.47zM391.60 213.50H393.91V214.68H391.60zM390.47 216.89H392.78V218.07H390.47zM391.60 218.02H393.91V219.20H391.60zM393.86 219.15H395.04V220.34H393.86zM392.73 222.55H393.91V223.73H392.73zM393.86 223.68H395.04V224.86H393.86zM394.99 224.81H396.18V225.99H394.99zM392.73 228.20H395.04V229.38H392.73zM393.86 229.33H395.04V230.51H393.86zM393.86 230.46H395.04V231.65H393.86zM393.86 231.59H396.18V232.78H393.86zM393.86 232.73H395.04V233.91H393.86zM385.95 241.77H387.13V242.96H385.95zM384.81 242.90H386.00V244.09H384.81zM383.68 244.04H384.87V245.22H383.68zM383.68 245.17H384.87V246.35H383.68zM383.68 246.30H384.87V247.48H383.68zM382.55 247.43H384.87V248.61H382.55zM382.55 248.56H384.87V249.74H382.55zM382.55 249.69H386.00V250.87H382.55zM382.55 250.82H384.87V252.00H382.55zM381.42 255.35H382.60V256.53H381.42zM381.42 256.48H383.73V257.66H381.42zM383.68 257.61H384.87V258.79H383.68zM382.55 259.87H383.73V261.05H382.55zM383.68 261.00H386.00V262.18H383.68zM384.81 264.39H387.13V265.57H384.81zM387.08 265.52H390.52V266.71H387.08zM388.21 267.79H389.39V268.97H388.21zM389.34 268.92H391.65V270.10H389.34zM391.60 272.31H393.91V273.49H391.60zM393.86 273.44H396.18V274.62H393.86zM393.86 275.70H395.04V276.88H393.86zM394.99 276.83H397.31V278.02H394.99zM397.26 277.97H398.44V279.15H397.26zM396.12 280.23H397.31V281.41H396.12zM397.26 281.36H398.44V282.54H397.26zM398.39 282.49H400.70V283.67H398.39z"/><path fill="#f8745c" d="M387.08 207.84H388.26V209.03H387.08zM388.21 208.97H390.52V210.16H388.21zM388.21 212.37H390.52V213.55H388.21zM390.47 213.50H391.65V214.68H390.47zM391.60 214.63H392.78V215.81H391.60zM390.47 218.02H391.65V219.20H390.47zM391.60 219.15H393.91V220.34H391.60zM391.60 222.55H392.78V223.73H391.60zM391.60 223.68H393.91V224.86H391.60zM393.86 224.81H395.04V225.99H393.86zM391.60 229.33H393.91V230.51H391.60zM391.60 230.46H393.91V231.65H391.60zM392.73 231.59H393.91V232.78H392.73zM392.73 232.73H393.91V233.91H392.73zM392.73 233.86H393.91V235.04H392.73zM391.60 234.99H392.78V236.17H391.60zM382.55 245.17H383.73V246.35H382.55zM381.42 246.30H383.73V247.48H381.42zM381.42 247.43H382.60V248.61H381.42zM381.42 248.56H382.60V249.74H381.42zM381.42 249.69H382.60V250.87H381.42zM381.42 250.82H382.60V252.00H381.42zM381.42 251.95H383.73V253.13H381.42zM380.29 255.35H381.47V256.53H380.29zM380.29 256.48H381.47V257.66H380.29zM381.42 257.61H383.73V258.79H381.42zM382.55 261.00H383.73V262.18H382.55zM384.81 262.13H387.13V263.31H384.81zM385.95 265.52H387.13V266.71H385.95zM388.21 266.66H389.39V267.84H388.21zM387.08 268.92H389.39V270.10H387.08zM390.47 270.05H392.78V271.23H390.47zM390.47 272.31H391.65V273.49H390.47zM391.60 273.44H393.91V274.62H391.60zM393.86 274.57H395.04V275.75H393.86zM392.73 276.83H395.04V278.02H392.73zM394.99 277.97H397.31V279.15H394.99zM394.99 281.36H397.31V282.54H394.99zM397.26 282.49H398.44V283.67H397.26zM398.39 283.62H399.57V284.80H398.39z"/><path fill="#f56b5c" d="M385.95 207.84H387.13V209.03H385.95zM387.08 208.97H388.26V210.16H387.08zM389.34 210.11H390.52V211.29H389.34zM388.21 213.50H390.52V214.68H388.21zM390.47 214.63H391.65V215.81H390.47zM389.34 218.02H390.52V219.20H389.34zM390.47 219.15H391.65V220.34H390.47zM391.60 220.28H393.91V221.47H391.60zM390.47 223.68H391.65V224.86H390.47zM391.60 224.81H393.91V225.99H391.60zM392.73 225.94H395.04V227.12H392.73zM390.47 230.46H391.65V231.65H390.47zM390.47 231.59H392.78V232.78H390.47zM390.47 232.73H392.78V233.91H390.47zM390.47 233.86H392.78V235.04H390.47zM389.34 234.99H391.65V236.17H389.34zM389.34 236.12H391.65V237.30H389.34zM388.21 237.25H390.52V238.43H388.21zM388.21 238.38H389.39V239.56H388.21zM387.08 239.51H388.26V240.69H387.08zM380.29 247.43H381.47V248.61H380.29zM380.29 248.56H381.47V249.74H380.29zM380.29 249.69H381.47V250.87H380.29zM380.29 250.82H381.47V252.00H380.29zM380.29 251.95H381.47V253.13H380.29zM380.29 253.08H382.60V254.27H380.29zM379.16 256.48H380.34V257.66H379.16zM380.29 257.61H381.47V258.79H380.29zM382.55 258.74H383.73V259.92H382.55zM381.42 261.00H382.60V262.18H381.42zM382.55 262.13H384.87V263.31H382.55zM384.81 263.26H386.00V264.44H384.81zM383.68 265.52H386.00V266.71H383.68zM385.95 266.66H388.26V267.84H385.95zM388.21 270.05H390.52V271.23H388.21zM390.47 271.18H391.65V272.36H390.47zM390.47 273.44H391.65V274.62H390.47zM392.73 274.57H393.91V275.75H392.73zM393.86 277.97H395.04V279.15H393.86zM396.12 279.10H397.31V280.28H396.12zM394.99 282.49H397.31V283.67H394.99zM397.26 283.62H398.44V284.80H397.26z"/><path fill="#f1605d" d="M385.95 208.97H387.13V210.16H385.95zM387.08 210.11H389.39V211.29H387.08zM387.08 213.50H388.26V214.68H387.08zM388.21 214.63H390.52V215.81H388.21zM390.47 215.76H391.65V216.94H390.47zM388.21 219.15H390.52V220.34H388.21zM390.47 220.28H391.65V221.47H390.47zM391.60 221.42H392.78V222.60H391.60zM390.47 224.81H391.65V225.99H390.47zM391.60 225.94H392.78V227.12H391.60zM392.73 227.07H393.91V228.25H392.73zM389.34 231.59H390.52V232.78H389.34zM388.21 232.73H390.52V233.91H388.21zM388.21 233.86H390.52V235.04H388.21zM388.21 234.99H389.39V236.17H388.21zM387.08 236.12H389.39V237.30H387.08zM387.08 237.25H388.26V238.43H387.08zM385.95 238.38H388.26V239.56H385.95zM385.95 239.51H387.13V240.69H385.95zM384.81 240.64H387.13V241.82H384.81zM384.81 241.77H386.00V242.96H384.81zM379.16 248.56H380.34V249.74H379.16zM379.16 249.69H380.34V250.87H379.16zM378.03 250.82H380.34V252.00H378.03zM379.16 251.95H380.34V253.13H379.16zM379.16 253.08H380.34V254.27H379.16zM379.16 257.61H380.34V258.79H379.16zM380.29 258.74H382.60V259.92H380.29zM381.42 262.13H382.60V263.31H381.42zM383.68 263.26H384.87V264.44H383.68zM384.81 266.66H386.00V267.84H384.81zM387.08 267.79H388.26V268.97H387.08zM387.08 270.05H388.26V271.23H387.08zM389.34 271.18H390.52V272.36H389.34zM389.34 273.44H390.52V274.62H389.34zM390.47 274.57H392.78V275.75H390.47zM392.73 275.70H393.91V276.88H392.73zM391.60 277.97H393.91V279.15H391.60zM393.86 279.10H396.18V280.28H393.86zM393.86 282.49H395.04V283.67H393.86zM396.12 283.62H397.31V284.80H396.12z"/><path fill="#ec5860" d="M385.95 210.11H387.13V211.29H385.95zM387.08 211.24H389.39V212.42H387.08zM387.08 214.63H388.26V215.81H387.08zM388.21 215.76H390.52V216.94H388.21zM388.21 220.28H390.52V221.47H388.21zM389.34 221.42H391.65V222.60H389.34zM389.34 224.81H390.52V225.99H389.34zM389.34 225.94H391.65V227.12H389.34zM390.47 227.07H392.78V228.25H390.47zM391.60 228.20H392.78V229.38H391.60zM387.08 233.86H388.26V235.04H387.08zM385.95 234.99H388.26V236.17H385.95zM385.95 236.12H387.13V237.30H385.95zM384.81 237.25H387.13V238.43H384.81zM384.81 238.38H386.00V239.56H384.81zM384.81 239.51H386.00V240.69H384.81zM383.68 240.64H384.87V241.82H383.68zM383.68 241.77H384.87V242.96H383.68zM383.68 242.90H384.87V244.09H383.68zM382.55 244.04H383.73V245.22H382.55zM378.03 251.95H379.21V253.13H378.03zM378.03 253.08H379.21V254.27H378.03zM379.16 254.21H381.47V255.40H379.16zM378.03 257.61H379.21V258.79H378.03zM379.16 258.74H380.34V259.92H379.16zM381.42 259.87H382.60V261.05H381.42zM380.29 262.13H381.47V263.31H380.29zM381.42 263.26H383.73V264.44H381.42zM383.68 264.39H384.87V265.57H383.68zM382.55 266.66H384.87V267.84H382.55zM385.95 267.79H387.13V268.97H385.95zM385.95 270.05H387.13V271.23H385.95zM387.08 271.18H389.39V272.36H387.08zM389.34 274.57H390.52V275.75H389.34zM391.60 275.70H392.78V276.88H391.60zM392.73 279.10H393.91V280.28H392.73zM394.99 280.23H396.18V281.41H394.99zM393.86 283.62H396.18V284.80H393.86z"/><path fill="#e75263" d="M385.95 211.24H387.13V212.42H385.95zM385.95 214.63H387.13V215.81H385.95zM387.08 215.76H388.26V216.94H387.08zM388.21 216.89H390.52V218.07H388.21zM387.08 220.28H388.26V221.47H387.08zM388.21 221.42H389.39V222.60H388.21zM389.34 222.55H391.65V223.73H389.34zM388.21 225.94H389.39V227.12H388.21zM389.34 227.07H390.52V228.25H389.34zM390.47 228.20H391.65V229.38H390.47zM390.47 229.33H391.65V230.51H390.47zM384.81 236.12H386.00V237.30H384.81zM383.68 237.25H384.87V238.43H383.68zM383.68 238.38H384.87V239.56H383.68zM382.55 239.51H384.87V240.69H382.55zM382.55 240.64H383.73V241.82H382.55zM381.42 241.77H383.73V242.96H381.42zM381.42 242.90H383.73V244.09H381.42zM381.42 244.04H382.60V245.22H381.42zM381.42 245.17H382.60V246.35H381.42zM376.90 251.95H378.08V253.13H376.90zM376.90 253.08H378.08V254.27H376.90zM378.03 254.21H379.21V255.40H378.03zM379.16 255.35H380.34V256.53H379.16zM378.03 258.74H379.21V259.92H378.03zM379.16 259.87H381.47V261.05H379.16zM380.29 263.26H381.47V264.44H380.29zM382.55 264.39H383.73V265.57H382.55zM383.68 267.79H386.00V268.97H383.68zM385.95 268.92H387.13V270.10H385.95zM385.95 271.18H387.13V272.36H385.95zM388.21 272.31H390.52V273.49H388.21zM388.21 274.57H389.39V275.75H388.21zM390.47 275.70H391.65V276.88H390.47zM390.47 279.10H392.78V280.28H390.47zM392.73 280.23H395.04V281.41H392.73zM392.73 283.62H393.91V284.80H392.73z"/><path fill="#df4a68" d="M384.81 211.24H386.00V212.42H384.81zM385.95 212.37H388.26V213.55H385.95zM385.95 215.76H387.13V216.94H385.95zM387.08 216.89H388.26V218.07H387.08zM388.21 218.02H389.39V219.20H388.21zM387.08 221.42H388.26V222.60H387.08zM388.21 222.55H389.39V223.73H388.21zM389.34 223.68H390.52V224.86H389.34zM387.08 227.07H389.39V228.25H387.08zM388.21 228.20H390.52V229.38H388.21zM388.21 229.33H390.52V230.51H388.21zM388.21 230.46H390.52V231.65H388.21zM388.21 231.59H389.39V232.78H388.21zM382.55 238.38H383.73V239.56H382.55zM381.42 239.51H382.60V240.69H381.42zM381.42 240.64H382.60V241.82H381.42zM380.29 241.77H381.47V242.96H380.29zM380.29 242.90H381.47V244.09H380.29zM380.29 244.04H381.47V245.22H380.29zM380.29 245.17H381.47V246.35H380.29zM380.29 246.30H381.47V247.48H380.29zM375.77 253.08H376.95V254.27H375.77zM376.90 254.21H378.08V255.40H376.90zM378.03 255.35H379.21V256.53H378.03zM376.90 258.74H378.08V259.92H376.90zM378.03 259.87H379.21V261.05H378.03zM380.29 261.00H381.47V262.18H380.29zM379.16 263.26H380.34V264.44H379.16zM380.29 264.39H382.60V265.57H380.29zM382.55 265.52H383.73V266.71H382.55zM381.42 267.79H383.73V268.97H381.42zM384.81 268.92H386.00V270.10H384.81zM384.81 271.18H386.00V272.36H384.81zM387.08 272.31H388.26V273.49H387.08zM388.21 275.70H390.52V276.88H388.21zM390.47 276.83H392.78V278.02H390.47zM391.60 280.23H392.78V281.41H391.60zM392.73 281.36H395.04V282.54H392.73z"/><path fill="#d8456c" d="M383.68 211.24H384.87V212.42H383.68zM384.81 212.37H386.00V213.55H384.81zM385.95 213.50H387.13V214.68H385.95zM384.81 215.76H386.00V216.94H384.81zM384.81 216.89H387.13V218.07H384.81zM387.08 218.02H388.26V219.20H387.08zM385.95 221.42H387.13V222.60H385.95zM385.95 222.55H388.26V223.73H385.95zM387.08 223.68H389.39V224.86H387.08zM387.08 228.20H388.26V229.38H387.08zM387.08 229.33H388.26V230.51H387.08zM387.08 230.46H388.26V231.65H387.08zM387.08 231.59H388.26V232.78H387.08zM387.08 232.73H388.26V233.91H387.08zM385.95 233.86H387.13V235.04H385.95zM380.29 240.64H381.47V241.82H380.29zM379.16 241.77H380.34V242.96H379.16zM379.16 242.90H380.34V244.09H379.16zM379.16 244.04H380.34V245.22H379.16zM379.16 245.17H380.34V246.35H379.16zM379.16 246.30H380.34V247.48H379.16zM379.16 247.43H380.34V248.61H379.16zM375.77 254.21H376.95V255.40H375.77zM376.90 255.35H378.08V256.53H376.90zM378.03 256.48H379.21V257.66H378.03zM376.90 259.87H378.08V261.05H376.90zM378.03 261.00H380.34V262.18H378.03zM379.16 264.39H380.34V265.57H379.16zM381.42 265.52H382.60V266.71H381.42zM382.55 268.92H384.87V270.10H382.55zM384.81 270.05H386.00V271.23H384.81zM384.81 272.31H387.13V273.49H384.81zM387.08 273.44H389.39V274.62H387.08zM387.08 275.70H388.26V276.88H387.08zM389.34 276.83H390.52V278.02H389.34zM389.34 280.23H391.65V281.41H389.34zM391.60 281.36H392.78V282.54H391.60z"/><path fill="#d0416f" d="M382.55 211.24H383.73V212.42H382.55zM383.68 212.37H384.87V213.55H383.68zM384.81 213.50H386.00V214.68H384.81zM383.68 216.89H384.87V218.07H383.68zM384.81 218.02H387.13V219.20H384.81zM385.95 219.15H388.26V220.34H385.95zM384.81 222.55H386.00V223.73H384.81zM385.95 223.68H387.13V224.86H385.95zM387.08 224.81H389.39V225.99H387.08zM385.95 228.20H387.13V229.38H385.95zM384.81 229.33H387.13V230.51H384.81zM384.81 230.46H387.13V231.65H384.81zM384.81 231.59H387.13V232.78H384.81zM384.81 232.73H387.13V233.91H384.81zM384.81 233.86H386.00V235.04H384.81zM384.81 234.99H386.00V236.17H384.81zM378.03 242.90H379.21V244.09H378.03zM378.03 244.04H379.21V245.22H378.03zM378.03 245.17H379.21V246.35H378.03zM378.03 246.30H379.21V247.48H378.03zM378.03 247.43H379.21V248.61H378.03zM378.03 248.56H379.21V249.74H378.03zM378.03 249.69H379.21V250.87H378.03zM374.64 254.21H375.82V255.40H374.64zM375.77 255.35H376.95V256.53H375.77zM376.90 256.48H378.08V257.66H376.90zM375.77 259.87H376.95V261.05H375.77zM376.90 261.00H378.08V262.18H376.90zM379.16 262.13H380.34V263.31H379.16zM378.03 264.39H379.21V265.57H378.03zM379.16 265.52H381.47V266.71H379.16zM381.42 268.92H382.60V270.10H381.42zM383.68 270.05H384.87V271.23H383.68zM383.68 272.31H384.87V273.49H383.68zM385.95 273.44H387.13V274.62H385.95zM387.08 276.83H389.39V278.02H387.08zM389.34 277.97H391.65V279.15H389.34zM390.47 281.36H391.65V282.54H390.47zM391.60 282.49H393.91V283.67H391.60z"/><path fill="#c73d73" d="M382.55 212.37H383.73V213.55H382.55zM383.68 213.50H384.87V214.68H383.68zM384.81 219.15H386.00V220.34H384.81zM384.81 223.68H386.00V224.86H384.81zM385.95 224.81H387.13V225.99H385.95zM387.08 225.94H388.26V227.12H387.08zM383.68 230.46H384.87V231.65H383.68zM383.68 231.59H384.87V232.78H383.68zM383.68 232.73H384.87V233.91H383.68zM382.55 233.86H384.87V235.04H382.55zM382.55 234.99H384.87V236.17H382.55zM382.55 236.12H384.87V237.30H382.55zM376.90 244.04H378.08V245.22H376.90zM376.90 245.17H378.08V246.35H376.90zM376.90 246.30H378.08V247.48H376.90zM376.90 247.43H378.08V248.61H376.90zM376.90 248.56H378.08V249.74H376.90zM376.90 249.69H378.08V250.87H376.90zM376.90 250.82H378.08V252.00H376.90zM374.64 255.35H375.82V256.53H374.64zM375.77 256.48H376.95V257.66H375.77zM375.77 261.00H376.95V262.18H375.77zM376.90 262.13H379.21V263.31H376.90zM378.03 265.52H379.21V266.71H378.03zM380.29 266.66H382.60V267.84H380.29zM380.29 268.92H381.47V270.10H380.29zM381.42 270.05H383.73V271.23H381.42zM383.68 273.44H386.00V274.62H383.68zM387.08 274.57H388.26V275.75H387.08zM385.95 276.83H387.13V278.02H385.95zM388.21 277.97H389.39V279.15H388.21zM389.34 281.36H390.52V282.54H389.34zM390.47 282.49H391.65V283.67H390.47z"/><path fill="#bf3a77" d="M383.68 219.15H384.87V220.34H383.68zM384.81 220.28H387.13V221.47H384.81zM383.68 223.68H384.87V224.86H383.68zM384.81 224.81H386.00V225.99H384.81zM384.81 225.94H387.13V227.12H384.81zM382.55 231.59H383.73V232.78H382.55zM382.55 232.73H383.73V233.91H382.55zM381.42 234.99H382.60V236.17H381.42zM381.42 236.12H382.60V237.30H381.42zM381.42 237.25H383.73V238.43H381.42zM381.42 238.38H382.60V239.56H381.42zM375.77 245.17H376.95V246.35H375.77zM375.77 246.30H376.95V247.48H375.77zM375.77 247.43H376.95V248.61H375.77zM375.77 248.56H376.95V249.74H375.77zM375.77 249.69H376.95V250.87H375.77zM375.77 250.82H376.95V252.00H375.77zM374.64 256.48H375.82V257.66H374.64zM376.90 257.61H378.08V258.79H376.90zM374.64 261.00H375.82V262.18H374.64zM375.77 262.13H376.95V263.31H375.77zM376.90 265.52H378.08V266.71H376.90zM379.16 266.66H380.34V267.84H379.16zM380.29 270.05H381.47V271.23H380.29zM383.68 271.18H384.87V272.36H383.68zM385.95 274.57H387.13V275.75H385.95zM387.08 277.97H388.26V279.15H387.08zM389.34 279.10H390.52V280.28H389.34zM388.21 281.36H389.39V282.54H388.21zM389.34 282.49H390.52V283.67H389.34zM391.60 283.62H392.78V284.80H391.60z"/><path fill="#b73779" d="M382.55 213.50H383.73V214.68H382.55zM383.68 218.02H384.87V219.20H383.68zM383.68 220.28H384.87V221.47H383.68zM383.68 224.81H384.87V225.99H383.68zM385.95 227.07H387.13V228.25H385.95zM381.42 232.73H382.60V233.91H381.42zM381.42 233.86H382.60V235.04H381.42zM380.29 236.12H381.47V237.30H380.29zM380.29 237.25H381.47V238.43H380.29zM380.29 238.38H381.47V239.56H380.29zM380.29 239.51H381.47V240.69H380.29zM374.64 246.30H375.82V247.48H374.64zM374.64 247.43H375.82V248.61H374.64zM374.64 248.56H375.82V249.74H374.64zM374.64 249.69H375.82V250.87H374.64zM374.64 250.82H375.82V252.00H374.64zM374.64 251.95H376.95V253.13H374.64zM373.50 255.35H374.69V256.53H373.50zM375.77 257.61H376.95V258.79H375.77zM378.03 263.26H379.21V264.44H378.03zM378.03 266.66H379.21V267.84H378.03zM380.29 267.79H381.47V268.97H380.29zM382.55 271.18H383.73V272.36H382.55zM382.55 273.44H383.73V274.62H382.55zM384.81 274.57H386.00V275.75H384.81zM385.95 277.97H387.13V279.15H385.95zM388.21 279.10H389.39V280.28H388.21zM388.21 282.49H389.39V283.67H388.21zM390.47 283.62H391.65V284.80H390.47z"/><path fill="#ad347c" d="M384.81 214.63H386.00V215.81H384.81zM384.81 221.42H386.00V222.60H384.81zM382.55 224.81H383.73V225.99H382.55zM383.68 225.94H384.87V227.12H383.68zM384.81 227.07H386.00V228.25H384.81zM380.29 233.86H381.47V235.04H380.29zM380.29 234.99H381.47V236.17H380.29zM379.16 238.38H380.34V239.56H379.16zM379.16 239.51H380.34V240.69H379.16zM379.16 240.64H380.34V241.82H379.16zM373.50 247.43H374.69V248.61H373.50zM373.50 248.56H374.69V249.74H373.50zM373.50 249.69H374.69V250.87H373.50zM373.50 250.82H374.69V252.00H373.50zM373.50 256.48H374.69V257.66H373.50zM374.64 257.61H375.82V258.79H374.64zM375.77 258.74H376.95V259.92H375.77zM374.64 262.13H375.82V263.31H374.64zM376.90 263.26H378.08V264.44H376.90zM376.90 266.66H378.08V267.84H376.90zM379.16 267.79H380.34V268.97H379.16zM379.16 270.05H380.34V271.23H379.16zM381.42 271.18H382.60V272.36H381.42zM383.68 274.57H384.87V275.75H383.68zM387.08 279.10H388.26V280.28H387.08zM389.34 283.62H390.52V284.80H389.34z"/><path fill="#a5317e" d="M382.55 214.63H384.87V215.81H382.55zM382.55 220.28H383.73V221.47H382.55zM383.68 221.42H384.87V222.60H383.68zM382.55 225.94H383.73V227.12H382.55zM383.68 227.07H384.87V228.25H383.68zM384.81 228.20H386.00V229.38H384.81zM379.16 234.99H380.34V236.17H379.16zM379.16 236.12H380.34V237.30H379.16zM379.16 237.25H380.34V238.43H379.16zM378.03 240.64H379.21V241.82H378.03zM378.03 241.77H379.21V242.96H378.03zM373.50 251.95H374.69V253.13H373.50zM374.64 253.08H375.82V254.27H374.64zM372.37 256.48H373.56V257.66H372.37zM373.50 257.61H374.69V258.79H373.50zM374.64 258.74H375.82V259.92H374.64zM373.50 262.13H374.69V263.31H373.50zM375.77 263.26H376.95V264.44H375.77zM380.29 271.18H381.47V272.36H380.29zM382.55 274.57H383.73V275.75H382.55zM385.95 275.70H387.13V276.88H385.95zM384.81 277.97H386.00V279.15H384.81zM385.95 279.10H387.13V280.28H385.95zM388.21 280.23H389.39V281.41H388.21zM387.08 282.49H388.26V283.67H387.08zM388.21 283.62H389.39V284.80H388.21z"/><path fill="#9c2e7f" d="M382.55 219.15H383.73V220.34H382.55zM382.55 221.42H383.73V222.60H382.55zM383.68 222.55H384.87V223.73H383.68zM383.68 228.20H384.87V229.38H383.68zM383.68 229.33H384.87V230.51H383.68zM378.03 236.12H379.21V237.30H378.03zM378.03 237.25H379.21V238.43H378.03zM378.03 238.38H379.21V239.56H378.03zM378.03 239.51H379.21V240.69H378.03zM376.90 242.90H378.08V244.09H376.90zM372.37 248.56H373.56V249.74H372.37zM372.37 249.69H373.56V250.87H372.37zM372.37 250.82H373.56V252.00H372.37zM372.37 251.95H373.56V253.13H372.37zM373.50 253.08H374.69V254.27H373.50zM374.64 263.26H375.82V264.44H374.64zM376.90 264.39H378.08V265.57H376.90zM375.77 266.66H376.95V267.84H375.77zM378.03 267.79H379.21V268.97H378.03zM379.16 271.18H380.34V272.36H379.16zM382.55 272.31H383.73V273.49H382.55zM384.81 275.70H386.00V276.88H384.81zM387.08 280.23H388.26V281.41H387.08z"/><path fill="#932b80" d="M381.42 214.63H382.60V215.81H381.42zM383.68 215.76H384.87V216.94H383.68zM381.42 225.94H382.60V227.12H381.42zM382.55 227.07H383.73V228.25H382.55zM382.55 230.46H383.73V231.65H382.55zM376.90 237.25H378.08V238.43H376.90zM376.90 238.38H378.08V239.56H376.90zM376.90 239.51H378.08V240.69H376.90zM376.90 240.64H378.08V241.82H376.90zM376.90 241.77H378.08V242.96H376.90zM371.24 249.69H372.42V250.87H371.24zM371.24 250.82H372.42V252.00H371.24zM371.24 251.95H372.42V253.13H371.24zM372.37 253.08H373.56V254.27H372.37zM373.50 254.21H374.69V255.40H373.50zM372.37 257.61H373.56V258.79H372.37zM373.50 258.74H374.69V259.92H373.50zM374.64 259.87H375.82V261.05H374.64zM375.77 264.39H376.95V265.57H375.77zM376.90 267.79H378.08V268.97H376.90zM379.16 268.92H380.34V270.10H379.16zM381.42 272.31H382.60V273.49H381.42zM381.42 274.57H382.60V275.75H381.42zM383.68 275.70H384.87V276.88H383.68zM384.81 279.10H386.00V280.28H384.81zM387.08 283.62H388.26V284.80H387.08z"/><path fill="#8b2981" d="M380.29 214.63H381.47V215.81H380.29zM382.55 215.76H383.73V216.94H382.55zM382.55 218.02H383.73V219.20H382.55zM381.42 221.42H382.60V222.60H381.42zM382.55 222.55H383.73V223.73H382.55zM381.42 227.07H382.60V228.25H381.42zM382.55 228.20H383.73V229.38H382.55zM382.55 229.33H383.73V230.51H382.55zM381.42 231.59H382.60V232.78H381.42zM375.77 238.38H376.95V239.56H375.77zM375.77 239.51H376.95V240.69H375.77zM375.77 240.64H376.95V241.82H375.77zM375.77 241.77H376.95V242.96H375.77zM375.77 242.90H376.95V244.09H375.77zM375.77 244.04H376.95V245.22H375.77zM370.11 250.82H371.29V252.00H370.11zM370.11 251.95H371.29V253.13H370.11zM372.37 254.21H373.56V255.40H372.37zM371.24 257.61H372.42V258.79H371.24zM372.37 258.74H373.56V259.92H372.37zM373.50 259.87H374.69V261.05H373.50zM373.50 263.26H374.69V264.44H373.50zM375.77 267.79H376.95V268.97H375.77zM378.03 268.92H379.21V270.10H378.03zM378.03 271.18H379.21V272.36H378.03zM380.29 272.31H381.47V273.49H380.29zM384.81 276.83H386.00V278.02H384.81zM383.68 279.10H384.87V280.28H383.68zM385.95 280.23H387.13V281.41H385.95zM387.08 281.36H388.26V282.54H387.08zM385.95 283.62H387.13V284.80H385.95z"/><path fill="#832681" d="M379.16 214.63H380.34V215.81H379.16zM381.42 215.76H382.60V216.94H381.42zM381.42 220.28H382.60V221.47H381.42zM381.42 222.55H382.60V223.73H381.42zM382.55 223.68H383.73V224.86H382.55zM380.29 227.07H381.47V228.25H380.29zM380.29 228.20H382.60V229.38H380.29zM381.42 229.33H382.60V230.51H381.42zM381.42 230.46H382.60V231.65H381.42zM380.29 232.73H381.47V233.91H380.29zM374.64 239.51H375.82V240.69H374.64zM373.50 240.64H375.82V241.82H373.50zM374.64 241.77H375.82V242.96H374.64zM374.64 242.90H375.82V244.09H374.64zM374.64 244.04H375.82V245.22H374.64zM374.64 245.17H375.82V246.35H374.64zM371.24 253.08H372.42V254.27H371.24zM372.37 255.35H373.56V256.53H372.37zM371.24 258.74H372.42V259.92H371.24zM373.50 261.00H374.69V262.18H373.50zM372.37 263.26H373.56V264.44H372.37zM374.64 264.39H375.82V265.57H374.64zM375.77 265.52H376.95V266.71H375.77zM374.64 267.79H375.82V268.97H374.64zM376.90 268.92H378.08V270.10H376.90zM381.42 273.44H382.60V274.62H381.42zM382.55 275.70H383.73V276.88H382.55zM383.68 276.83H384.87V278.02H383.68zM384.81 280.23H386.00V281.41H384.81z"/><path fill="#792282" d="M380.29 215.76H381.47V216.94H380.29zM380.29 222.55H381.47V223.73H380.29zM381.42 223.68H382.60V224.86H381.42zM381.42 224.81H382.60V225.99H381.42zM379.16 228.20H380.34V229.38H379.16zM379.16 229.33H381.47V230.51H379.16zM380.29 230.46H381.47V231.65H380.29zM380.29 231.59H381.47V232.78H380.29zM379.16 233.86H380.34V235.04H379.16zM372.37 241.77H374.69V242.96H372.37zM372.37 242.90H374.69V244.09H372.37zM373.50 244.04H374.69V245.22H373.50zM373.50 245.17H374.69V246.35H373.50zM373.50 246.30H374.69V247.48H373.50zM368.98 253.08H371.29V254.27H368.98zM371.24 254.21H372.42V255.40H371.24zM371.24 255.35H372.42V256.53H371.24zM370.11 258.74H371.29V259.92H370.11zM372.37 259.87H373.56V261.05H372.37zM372.37 261.00H373.56V262.18H372.37zM373.50 264.39H374.69V265.57H373.50zM374.64 265.52H375.82V266.71H374.64zM375.77 268.92H376.95V270.10H375.77zM378.03 270.05H379.21V271.23H378.03zM376.90 272.31H380.34V273.49H376.90zM380.29 273.44H381.47V274.62H380.29zM380.29 275.70H382.60V276.88H380.29zM383.68 280.23H384.87V281.41H383.68zM385.95 281.36H387.13V282.54H385.95z"/><path fill="#721f81" d="M379.16 215.76H380.34V216.94H379.16zM382.55 216.89H383.73V218.07H382.55zM380.29 221.42H381.47V222.60H380.29zM379.16 223.68H381.47V224.86H379.16zM379.16 224.81H381.47V225.99H379.16zM380.29 225.94H381.47V227.12H380.29zM378.03 229.33H379.21V230.51H378.03zM376.90 230.46H380.34V231.65H376.90zM375.77 231.59H380.34V232.78H375.77zM376.90 232.73H380.34V233.91H376.90zM376.90 233.86H379.21V235.04H376.90zM376.90 234.99H379.21V236.17H376.90zM376.90 236.12H378.08V237.30H376.90zM375.77 237.25H376.95V238.43H375.77zM371.24 242.90H372.42V244.09H371.24zM370.11 244.04H373.56V245.22H370.11zM370.11 245.17H373.56V246.35H370.11zM370.11 246.30H373.56V247.48H370.11zM370.11 247.43H373.56V248.61H370.11zM370.11 248.56H372.42V249.74H370.11zM370.11 249.69H371.29V250.87H370.11zM367.85 254.21H371.29V255.40H367.85zM368.98 255.35H371.29V256.53H368.98zM370.11 256.48H372.42V257.66H370.11zM368.98 259.87H372.42V261.05H368.98zM370.11 261.00H372.42V262.18H370.11zM371.24 262.13H373.56V263.31H371.24zM371.24 264.39H373.56V265.57H371.24zM371.24 265.52H374.69V266.71H371.24zM373.50 266.66H375.82V267.84H373.50zM373.50 268.92H375.82V270.10H373.50zM374.64 270.05H378.08V271.23H374.64zM376.90 271.18H378.08V272.36H376.90zM376.90 273.44H380.34V274.62H376.90zM380.29 274.57H381.47V275.75H380.29zM381.42 276.83H383.73V278.02H381.42zM382.55 277.97H384.87V279.15H382.55zM382.55 280.23H383.73V281.41H382.55zM383.68 281.36H386.00V282.54H383.68zM385.95 282.49H387.13V283.67H385.95z"/><path fill="#6a1c81" d="M381.42 216.89H382.60V218.07H381.42zM381.42 219.15H382.60V220.34H381.42zM378.03 224.81H379.21V225.99H378.03zM376.90 225.94H380.34V227.12H376.90zM376.90 227.07H380.34V228.25H376.90zM376.90 228.20H379.21V229.38H376.90zM376.90 229.33H378.08V230.51H376.90zM375.77 230.46H376.95V231.65H375.77zM374.64 232.73H376.95V233.91H374.64zM373.50 233.86H376.95V235.04H373.50zM372.37 234.99H376.95V236.17H372.37zM371.24 236.12H376.95V237.30H371.24zM370.11 237.25H375.82V238.43H370.11zM370.11 238.38H375.82V239.56H370.11zM370.11 239.51H374.69V240.69H370.11zM370.11 240.64H373.56V241.82H370.11zM370.11 241.77H372.42V242.96H370.11zM370.11 242.90H371.29V244.09H370.11zM368.98 245.17H370.16V246.35H368.98zM367.85 246.30H370.16V247.48H367.85zM366.72 247.43H370.16V248.61H366.72zM365.59 248.56H370.16V249.74H365.59zM364.46 249.69H370.16V250.87H364.46zM364.46 250.82H370.16V252.00H364.46zM365.59 251.95H370.16V253.13H365.59zM366.72 253.08H369.03V254.27H366.72zM366.72 255.35H369.03V256.53H366.72zM365.59 256.48H370.16V257.66H365.59zM366.72 257.61H371.29V258.79H366.72zM367.85 258.74H370.16V259.92H367.85zM367.85 259.87H369.03V261.05H367.85zM367.85 261.00H370.16V262.18H367.85zM366.72 262.13H371.29V263.31H366.72zM366.72 263.26H372.42V264.44H366.72zM368.98 264.39H371.29V265.57H368.98zM370.11 265.52H371.29V266.71H370.11zM368.98 266.66H373.56V267.84H368.98zM370.11 267.79H374.69V268.97H370.11zM371.24 268.92H373.56V270.10H371.24zM372.37 270.05H374.69V271.23H372.37zM371.24 271.18H376.95V272.36H371.24zM373.50 272.31H376.95V273.49H373.50zM375.77 273.44H376.95V274.62H375.77zM374.64 274.57H380.34V275.75H374.64zM378.03 275.70H380.34V276.88H378.03zM379.16 276.83H381.47V278.02H379.16zM380.29 277.97H382.60V279.15H380.29zM381.42 279.10H383.73V280.28H381.42zM381.42 281.36H383.73V282.54H381.42zM382.55 282.49H386.00V283.67H382.55zM383.68 283.62H386.00V284.80H383.68z"/><path fill="#601880" d="M379.16 216.89H381.47V218.07H379.16zM379.16 222.55H380.34V223.73H379.16zM375.77 227.07H376.95V228.25H375.77zM374.64 228.20H376.95V229.38H374.64zM373.50 229.33H376.95V230.51H373.50zM372.37 230.46H375.82V231.65H372.37zM371.24 231.59H375.82V232.78H371.24zM370.11 232.73H374.69V233.91H370.11zM368.98 233.86H373.56V235.04H368.98zM367.85 234.99H372.42V236.17H367.85zM366.72 236.12H371.29V237.30H366.72zM366.72 237.25H370.16V238.43H366.72zM365.59 238.38H370.16V239.56H365.59zM364.46 239.51H370.16V240.69H364.46zM363.33 240.64H370.16V241.82H363.33zM362.19 241.77H370.16V242.96H362.19zM362.19 242.90H370.16V244.09H362.19zM361.06 244.04H370.16V245.22H361.06zM361.06 245.17H369.03V246.35H361.06zM361.06 246.30H367.90V247.48H361.06zM359.93 247.43H366.77V248.61H359.93zM358.80 248.56H365.64V249.74H358.80zM357.67 249.69H364.51V250.87H357.67zM356.54 250.82H364.51V252.00H356.54zM357.67 251.95H365.64V253.13H357.67zM358.80 253.08H366.77V254.27H358.80zM359.93 254.21H367.90V255.40H359.93zM359.93 255.35H366.77V256.53H359.93zM358.80 256.48H365.64V257.66H358.80zM357.67 257.61H366.77V258.79H357.67zM359.93 258.74H367.90V259.92H359.93zM361.06 259.87H367.90V261.05H361.06zM361.06 261.00H367.90V262.18H361.06zM359.93 262.13H366.77V263.31H359.93zM358.80 263.26H366.77V264.44H358.80zM359.93 264.39H369.03V265.57H359.93zM362.19 265.52H370.16V266.71H362.19zM362.19 266.66H369.03V267.84H362.19zM361.06 267.79H370.16V268.97H361.06zM362.19 268.92H371.29V270.10H362.19zM364.46 270.05H372.42V271.23H364.46zM364.46 271.18H371.29V272.36H364.46zM364.46 272.31H373.56V273.49H364.46zM368.98 273.44H375.82V274.62H368.98zM370.11 274.57H374.69V275.75H370.11zM373.50 275.70H378.08V276.88H373.50zM375.77 276.83H379.21V278.02H375.77zM378.03 277.97H380.34V279.15H378.03zM379.16 279.10H381.47V280.28H379.16zM380.29 280.23H382.60V281.41H380.29zM380.29 282.49H382.60V283.67H380.29zM380.29 283.62H383.73V284.80H380.29z"/><path fill="#59157e" d="M380.29 218.02H382.60V219.20H380.29zM378.03 223.68H379.21V224.86H378.03zM376.90 224.81H378.08V225.99H376.90zM365.59 237.25H366.77V238.43H365.59zM364.46 238.38H365.64V239.56H364.46zM363.33 239.51H364.51V240.69H363.33zM362.19 240.64H363.38V241.82H362.19zM361.06 241.77H362.25V242.96H361.06zM359.93 242.90H362.25V244.09H359.93zM358.80 244.04H361.11V245.22H358.80zM357.67 245.17H361.11V246.35H357.67zM356.54 246.30H361.11V247.48H356.54zM355.41 247.43H359.98V248.61H355.41zM354.28 248.56H358.85V249.74H354.28zM353.15 249.69H357.72V250.87H353.15zM352.02 250.82H356.59V252.00H352.02zM350.88 251.95H357.72V253.13H350.88zM349.75 253.08H358.85V254.27H349.75zM348.62 254.21H359.98V255.40H348.62zM347.49 255.35H359.98V256.53H347.49zM346.36 256.48H358.85V257.66H346.36zM345.23 257.61H357.72V258.79H345.23zM344.10 258.74H359.98V259.92H344.10zM342.97 259.87H361.11V261.05H342.97zM341.84 261.00H361.11V262.18H341.84zM340.71 262.13H359.98V263.31H340.71zM339.57 263.26H358.85V264.44H339.57zM338.44 264.39H359.98V265.57H338.44zM337.31 265.52H362.25V266.71H337.31zM336.18 266.66H362.25V267.84H336.18zM335.05 267.79H361.11V268.97H335.05zM333.92 268.92H362.25V270.10H333.92zM332.79 270.05H364.51V271.23H332.79zM331.66 271.18H364.51V272.36H331.66zM330.53 272.31H364.51V273.49H330.53zM329.40 273.44H369.03V274.62H329.40zM328.26 274.57H370.16V275.75H328.26zM327.13 275.70H373.56V276.88H327.13zM326.00 276.83H353.20V278.02H326.00zM371.24 276.83H375.82V278.02H371.24zM324.87 277.97H349.80V279.15H324.87zM373.50 277.97H378.08V279.15H373.50zM323.74 279.10H348.67V280.28H323.74zM376.90 279.10H379.21V280.28H376.90zM322.61 280.23H347.54V281.41H322.61zM376.90 280.23H380.34V281.41H376.90zM321.48 281.36H346.41V282.54H321.48zM378.03 281.36H381.47V282.54H378.03zM320.35 282.49H346.41V283.67H320.35zM378.03 282.49H380.34V283.67H378.03zM319.22 283.62H347.54V284.80H319.22zM378.03 283.62H380.34V284.80H378.03z"/><path fill="#51127c" d="M375.77 218.02H380.34V219.20H375.77zM380.29 220.28H381.47V221.47H380.29zM375.77 225.94H376.95V227.12H375.77zM374.64 227.07H375.82V228.25H374.64zM373.50 228.20H374.69V229.38H373.50zM353.15 276.83H371.29V278.02H353.15zM349.75 277.97H358.85V279.15H349.75zM368.98 277.97H373.56V279.15H368.98zM348.62 279.10H354.33V280.28H348.62zM372.37 279.10H376.95V280.28H372.37zM347.49 280.23H353.20V281.41H347.49zM374.64 280.23H376.95V281.41H374.64zM346.36 281.36H352.07V282.54H346.36zM374.64 281.36H378.08V282.54H374.64zM346.36 282.49H352.07V283.67H346.36zM374.64 282.49H378.08V283.67H374.64zM347.49 283.62H354.33V284.80H347.49zM373.50 283.62H378.08V284.80H373.50z"/><path fill="#471078" d="M378.03 219.15H381.47V220.34H378.03zM372.37 229.33H373.56V230.51H372.37zM371.24 230.46H372.42V231.65H371.24zM370.11 231.59H371.29V232.78H370.11zM368.98 232.73H370.16V233.91H368.98zM367.85 233.86H369.03V235.04H367.85zM366.72 234.99H367.90V236.17H366.72zM365.59 236.12H366.77V237.30H365.59zM364.46 237.25H365.64V238.43H364.46zM363.33 238.38H364.51V239.56H363.33zM362.19 239.51H363.38V240.69H362.19zM361.06 240.64H362.25V241.82H361.06zM359.93 241.77H361.11V242.96H359.93zM358.80 242.90H359.98V244.09H358.80zM358.80 277.97H369.03V279.15H358.80zM354.28 279.10H361.11V280.28H354.28zM367.85 279.10H372.42V280.28H367.85zM353.15 280.23H357.72V281.41H353.15zM371.24 280.23H374.69V281.41H371.24zM352.02 281.36H356.59V282.54H352.02zM372.37 281.36H374.69V282.54H372.37zM352.02 282.49H356.59V283.67H352.02zM372.37 282.49H374.69V283.67H372.37zM354.28 283.62H359.98V284.80H354.28zM368.98 283.62H373.56V284.80H368.98z"/><path fill="#3f0f72" d="M375.77 219.15H378.08V220.34H375.77zM379.16 220.28H380.34V221.47H379.16zM379.16 221.42H380.34V222.60H379.16zM357.67 244.04H358.85V245.22H357.67zM356.54 245.17H357.72V246.35H356.54zM355.41 246.30H356.59V247.48H355.41zM354.28 247.43H355.46V248.61H354.28zM353.15 248.56H354.33V249.74H353.15zM352.02 249.69H353.20V250.87H352.02zM350.88 250.82H352.07V252.00H350.88zM349.75 251.95H350.94V253.13H349.75zM348.62 253.08H349.80V254.27H348.62zM347.49 254.21H348.67V255.40H347.49zM346.36 255.35H347.54V256.53H346.36zM345.23 256.48H346.41V257.66H345.23zM344.10 257.61H345.28V258.79H344.10zM342.97 258.74H344.15V259.92H342.97zM341.84 259.87H343.02V261.05H341.84zM340.71 261.00H341.89V262.18H340.71zM339.57 262.13H340.76V263.31H339.57zM338.44 263.26H339.62V264.44H338.44zM337.31 264.39H338.49V265.57H337.31zM336.18 265.52H337.36V266.71H336.18zM335.05 266.66H336.23V267.84H335.05zM361.06 279.10H367.90V280.28H361.06zM357.67 280.23H371.29V281.41H357.67zM356.54 281.36H362.25V282.54H356.54zM367.85 281.36H372.42V282.54H367.85zM356.54 282.49H372.42V283.67H356.54zM359.93 283.62H369.03V284.80H359.93z"/><path fill="#36106b" d="M375.77 220.28H379.21V221.47H375.77zM378.03 222.55H379.21V223.73H378.03zM333.92 267.79H335.10V268.97H333.92zM332.79 268.92H333.97V270.10H332.79zM331.66 270.05H332.84V271.23H331.66zM330.53 271.18H331.71V272.36H330.53zM329.40 272.31H330.58V273.49H329.40zM328.26 273.44H329.45V274.62H328.26zM327.13 274.57H328.31V275.75H327.13zM326.00 275.70H327.18V276.88H326.00zM324.87 276.83H326.05V278.02H324.87zM323.74 277.97H324.92V279.15H323.74zM322.61 279.10H323.79V280.28H322.61zM321.48 280.23H322.66V281.41H321.48zM320.35 281.36H321.53V282.54H320.35zM362.19 281.36H367.90V282.54H362.19zM319.22 282.49H320.40V283.67H319.22zM318.09 283.62H319.27V284.80H318.09z"/><path fill="#2c115f" d="M372.37 221.42H379.21V222.60H372.37zM376.90 223.68H378.08V224.86H376.90z"/><path fill="#241253" d="M372.37 222.55H378.08V223.73H372.37zM372.37 223.68H376.95V224.86H372.37zM375.77 224.81H376.95V225.99H375.77zM374.64 225.94H375.82V227.12H374.64zM373.50 227.07H374.69V228.25H373.50zM372.37 228.20H373.56V229.38H372.37z"/><path fill="#1d1147" d="M368.98 224.81H375.82V225.99H368.98zM368.98 225.94H374.69V227.12H368.98zM368.98 227.07H373.56V228.25H368.98zM371.24 228.20H372.42V229.38H371.24zM371.24 229.33H372.42V230.51H371.24zM370.11 230.46H371.29V231.65H370.11zM368.98 231.59H370.16V232.78H368.98zM367.85 232.73H369.03V233.91H367.85zM366.72 233.86H367.90V235.04H366.72zM365.59 234.99H366.77V236.17H365.59zM364.46 236.12H365.64V237.30H364.46zM363.33 237.25H364.51V238.43H363.33zM362.19 238.38H363.38V239.56H362.19zM361.06 239.51H362.25V240.69H361.06zM359.93 240.64H361.11V241.82H359.93zM358.80 241.77H359.98V242.96H358.80zM357.67 242.90H358.85V244.09H357.67zM356.54 244.04H357.72V245.22H356.54zM355.41 245.17H356.59V246.35H355.41zM354.28 246.30H355.46V247.48H354.28zM353.15 247.43H354.33V248.61H353.15zM352.02 248.56H353.20V249.74H352.02zM350.88 249.69H352.07V250.87H350.88zM349.75 250.82H350.94V252.00H349.75zM348.62 251.95H349.80V253.13H348.62zM347.49 253.08H348.67V254.27H347.49zM346.36 254.21H347.54V255.40H346.36zM345.23 255.35H346.41V256.53H345.23zM344.10 256.48H345.28V257.66H344.10zM342.97 257.61H344.15V258.79H342.97zM341.84 258.74H343.02V259.92H341.84zM340.71 259.87H341.89V261.05H340.71zM339.57 261.00H340.76V262.18H339.57zM338.44 262.13H339.62V263.31H338.44zM337.31 263.26H338.49V264.44H337.31zM336.18 264.39H337.36V265.57H336.18zM335.05 265.52H336.23V266.71H335.05zM333.92 266.66H335.10V267.84H333.92zM332.79 267.79H333.97V268.97H332.79zM331.66 268.92H332.84V270.10H331.66zM330.53 270.05H331.71V271.23H330.53zM329.40 271.18H330.58V272.36H329.40zM328.26 272.31H329.45V273.49H328.26zM327.13 273.44H328.31V274.62H327.13zM326.00 274.57H327.18V275.75H326.00zM324.87 275.70H326.05V276.88H324.87zM323.74 276.83H324.92V278.02H323.74zM322.61 277.97H323.79V279.15H322.61zM321.48 279.10H322.66V280.28H321.48zM320.35 280.23H321.53V281.41H320.35zM319.22 281.36H320.40V282.54H319.22zM318.09 282.49H319.27V283.67H318.09zM316.95 283.62H318.14V284.80H316.95z"/><path fill="#150e38" d="M365.59 228.20H371.29V229.38H365.59zM365.59 229.33H371.29V230.51H365.59zM365.59 230.46H370.16V231.65H365.59zM362.19 231.59H369.03V232.78H362.19zM362.19 232.73H367.90V233.91H362.19zM362.19 233.86H366.77V235.04H362.19zM358.80 234.99H365.64V236.17H358.80zM358.80 236.12H364.51V237.30H358.80zM358.80 237.25H363.38V238.43H358.80zM355.41 238.38H362.25V239.56H355.41zM355.41 239.51H361.11V240.69H355.41zM355.41 240.64H359.98V241.82H355.41zM352.02 241.77H358.85V242.96H352.02zM352.02 242.90H357.72V244.09H352.02zM352.02 244.04H356.59V245.22H352.02zM348.62 245.17H355.46V246.35H348.62zM348.62 246.30H354.33V247.48H348.62zM348.62 247.43H353.20V248.61H348.62zM345.23 248.56H352.07V249.74H345.23zM345.23 249.69H350.94V250.87H345.23zM345.23 250.82H349.80V252.00H345.23zM341.84 251.95H348.67V253.13H341.84zM341.84 253.08H347.54V254.27H341.84zM341.84 254.21H346.41V255.40H341.84zM338.44 255.35H345.28V256.53H338.44zM338.44 256.48H344.15V257.66H338.44zM338.44 257.61H343.02V258.79H338.44zM335.05 258.74H341.89V259.92H335.05zM335.05 259.87H340.76V261.05H335.05zM335.05 261.00H339.62V262.18H335.05zM332.79 262.13H338.49V263.31H332.79zM331.66 263.26H337.36V264.44H331.66zM331.66 264.39H336.23V265.57H331.66zM329.40 265.52H335.10V266.71H329.40zM328.26 266.66H333.97V267.84H328.26zM328.26 267.79H332.84V268.97H328.26zM326.00 268.92H331.71V270.10H326.00zM324.87 270.05H330.58V271.23H324.87zM324.87 271.18H329.45V272.36H324.87zM322.61 272.31H328.31V273.49H322.61zM321.48 273.44H327.18V274.62H321.48zM321.48 274.57H326.05V275.75H321.48zM319.22 275.70H324.92V276.88H319.22zM318.09 276.83H323.79V278.02H318.09zM318.09 277.97H322.66V279.15H318.09zM315.82 279.10H321.53V280.28H315.82zM314.69 280.23H320.40V281.41H314.69zM314.69 281.36H319.27V282.54H314.69zM312.43 282.49H318.14V283.67H312.43zM311.30 283.62H317.00V284.80H311.30z"/></g>
<clipPath id="clipc"><path d="M39.4 283.2L64.7 257.3L83.8 238.2L103.8 219.1L120.0 203.8L133.3 190.0L153.3 176.7L163.3 166.2L170.0 166.2L178.9 173.3L183.3 186.7L188.9 204.4L194.4 226.7L197.8 238.8L197.2 244.8L163.0 285.0L39.4 285.0z"/></clipPath>
<path clip-path="url(#clipc)" d="M40.00 163.7V285.6M43.39 163.7V285.6M46.79 163.7V285.6M50.18 163.7V285.6M53.57 163.7V285.6M56.97 163.7V285.6M60.36 163.7V285.6M63.75 163.7V285.6M67.14 163.7V285.6M70.54 163.7V285.6M73.93 163.7V285.6M77.32 163.7V285.6M80.72 163.7V285.6M84.11 163.7V285.6M87.50 163.7V285.6M90.90 163.7V285.6M94.29 163.7V285.6M97.68 163.7V285.6M101.07 163.7V285.6M104.47 163.7V285.6M107.86 163.7V285.6M111.25 163.7V285.6M114.65 163.7V285.6M118.04 163.7V285.6M121.43 163.7V285.6M124.83 163.7V285.6M128.22 163.7V285.6M131.61 163.7V285.6M135.00 163.7V285.6M138.40 163.7V285.6M141.79 163.7V285.6M145.18 163.7V285.6M148.58 163.7V285.6M151.97 163.7V285.6M155.36 163.7V285.6M158.76 163.7V285.6M162.15 163.7V285.6M165.54 163.7V285.6M168.93 163.7V285.6M172.33 163.7V285.6M175.72 163.7V285.6M179.11 163.7V285.6M182.51 163.7V285.6M185.90 163.7V285.6M189.29 163.7V285.6M192.69 163.7V285.6M196.08 163.7V285.6M199.47 163.7V285.6M39.4 163.73H199.8M39.4 167.13H199.8M39.4 170.52H199.8M39.4 173.91H199.8M39.4 177.31H199.8M39.4 180.70H199.8M39.4 184.09H199.8M39.4 187.49H199.8M39.4 190.88H199.8M39.4 194.27H199.8M39.4 197.66H199.8M39.4 201.06H199.8M39.4 204.45H199.8M39.4 207.84H199.8M39.4 211.24H199.8M39.4 214.63H199.8M39.4 218.02H199.8M39.4 221.42H199.8M39.4 224.81H199.8M39.4 228.20H199.8M39.4 231.59H199.8M39.4 234.99H199.8M39.4 238.38H199.8M39.4 241.77H199.8M39.4 245.17H199.8M39.4 248.56H199.8M39.4 251.95H199.8M39.4 255.35H199.8M39.4 258.74H199.8M39.4 262.13H199.8M39.4 265.52H199.8M39.4 268.92H199.8M39.4 272.31H199.8M39.4 275.70H199.8M39.4 279.10H199.8M39.4 282.49H199.8" stroke="#fff" stroke-opacity="0.085" stroke-width="0.7" fill="none"/>
<clipPath id="clipd"><path d="M310.6 284.5L406.8 187.6L413.0 179.5L419.3 169.1L424.3 169.1L425.5 180.7L427.6 209.6L429.7 234.4L431.9 248.8L431.9 261.2L413.1 283.1L411.5 285.0L310.6 285.0z"/></clipPath>
<path clip-path="url(#clipd)" d="M311.30 163.7V285.6M314.69 163.7V285.6M318.09 163.7V285.6M321.48 163.7V285.6M324.87 163.7V285.6M328.26 163.7V285.6M331.66 163.7V285.6M335.05 163.7V285.6M338.44 163.7V285.6M341.84 163.7V285.6M345.23 163.7V285.6M348.62 163.7V285.6M352.02 163.7V285.6M355.41 163.7V285.6M358.80 163.7V285.6M362.19 163.7V285.6M365.59 163.7V285.6M368.98 163.7V285.6M372.37 163.7V285.6M375.77 163.7V285.6M379.16 163.7V285.6M382.55 163.7V285.6M385.95 163.7V285.6M389.34 163.7V285.6M392.73 163.7V285.6M396.12 163.7V285.6M399.52 163.7V285.6M402.91 163.7V285.6M406.30 163.7V285.6M409.70 163.7V285.6M413.09 163.7V285.6M416.48 163.7V285.6M419.88 163.7V285.6M423.27 163.7V285.6M426.66 163.7V285.6M430.05 163.7V285.6M310.6 163.73H432.9M310.6 167.13H432.9M310.6 170.52H432.9M310.6 173.91H432.9M310.6 177.31H432.9M310.6 180.70H432.9M310.6 184.09H432.9M310.6 187.49H432.9M310.6 190.88H432.9M310.6 194.27H432.9M310.6 197.66H432.9M310.6 201.06H432.9M310.6 204.45H432.9M310.6 207.84H432.9M310.6 211.24H432.9M310.6 214.63H432.9M310.6 218.02H432.9M310.6 221.42H432.9M310.6 224.81H432.9M310.6 228.20H432.9M310.6 231.59H432.9M310.6 234.99H432.9M310.6 238.38H432.9M310.6 241.77H432.9M310.6 245.17H432.9M310.6 248.56H432.9M310.6 251.95H432.9M310.6 255.35H432.9M310.6 258.74H432.9M310.6 262.13H432.9M310.6 265.52H432.9M310.6 268.92H432.9M310.6 272.31H432.9M310.6 275.70H432.9M310.6 279.10H432.9M310.6 282.49H432.9" stroke="#fff" stroke-opacity="0.07" stroke-width="0.7" fill="none"/>
<rect x="39.40" y="2.60" width="160.40" height="121.90" fill="none" stroke="#7a7a7a" stroke-width="0.8"/>
<text x="35.20" y="22.50" font-size="8" text-anchor="end" fill="#000">1×10<tspan font-size="5.6" dy="-3.2">0</tspan></text>
<text x="35.20" y="56.43" font-size="8" text-anchor="end" fill="#000">1×10<tspan font-size="5.6" dy="-3.2">−1</tspan></text>
<text x="35.20" y="90.36" font-size="8" text-anchor="end" fill="#000">1×10<tspan font-size="5.6" dy="-3.2">−2</tspan></text>
<text x="35.20" y="124.29" font-size="8" text-anchor="end" fill="#000">1×10<tspan font-size="5.6" dy="-3.2">−3</tspan></text>
<text x="39.70" y="137.10" font-size="8" text-anchor="middle" fill="#000">1×10<tspan font-size="5.6" dy="-3.2">−4</tspan></text>
<text x="73.63" y="137.10" font-size="8" text-anchor="middle" fill="#000">1×10<tspan font-size="5.6" dy="-3.2">−3</tspan></text>
<text x="107.56" y="137.10" font-size="8" text-anchor="middle" fill="#000">1×10<tspan font-size="5.6" dy="-3.2">−2</tspan></text>
<text x="141.49" y="137.10" font-size="8" text-anchor="middle" fill="#000">1×10<tspan font-size="5.6" dy="-3.2">−1</tspan></text>
<text x="175.42" y="137.10" font-size="8" text-anchor="middle" fill="#000">1×10<tspan font-size="5.6" dy="-3.2">0</tspan></text>
<path d="M39.40 19.60h-2.8M39.40 53.53h-2.8M39.40 36.56h-1.7M39.40 87.46h-2.8M39.40 70.50h-1.7M39.40 121.39h-2.8M39.40 104.42h-1.7M39.40 36.56h-1.7M39.40 70.50h-1.7M39.40 104.43h-1.7M40.00 124.50v2.8M56.97 124.50v1.7M73.93 124.50v2.8M90.90 124.50v1.7M107.86 124.50v2.8M124.83 124.50v1.7M141.79 124.50v2.8M158.75 124.50v1.7M175.72 124.50v2.8M192.69 124.50v1.7" stroke="#555" stroke-width="0.8" fill="none"/>
<text x="23.10" y="7.70" font-size="9.3" font-weight="bold" fill="#000">a</text>
<text transform="translate(7.50 136.40) rotate(-90)" font-size="8.85" fill="#000">CHASE-40 cycle time,<tspan font-style="italic" x="95.5">T</tspan><tspan font-size="6.2" x="102.7" dy="1.9">Cycle</tspan><tspan x="120.9" dy="-1.9">(s)</tspan></text>
<text x="55.00" y="150.70" font-size="9.35" fill="#000">Total evolution time,<tspan font-style="italic" x="143.00">T</tspan><tspan font-size="6.45" x="149.00" dy="1.9">EvolTot</tspan><tspan x="174.00" dy="-1.9">(s)</tspan></text>
<g shape-rendering="crispEdges"><rect x="212.30" y="25.00" width="10.9" height="2.52" fill="#010106"/><rect x="212.30" y="27.22" width="10.9" height="2.52" fill="#030312"/><rect x="212.30" y="29.44" width="10.9" height="2.52" fill="#07061c"/><rect x="212.30" y="31.66" width="10.9" height="2.52" fill="#0c0926"/><rect x="212.30" y="33.88" width="10.9" height="2.52" fill="#130d34"/><rect x="212.30" y="36.09" width="10.9" height="2.52" fill="#19103f"/><rect x="212.30" y="38.31" width="10.9" height="2.52" fill="#20114b"/><rect x="212.30" y="40.53" width="10.9" height="2.52" fill="#29115a"/><rect x="212.30" y="42.75" width="10.9" height="2.52" fill="#311165"/><rect x="212.30" y="44.97" width="10.9" height="2.52" fill="#390f6e"/><rect x="212.30" y="47.19" width="10.9" height="2.52" fill="#420f75"/><rect x="212.30" y="49.41" width="10.9" height="2.52" fill="#4c117a"/><rect x="212.30" y="51.62" width="10.9" height="2.52" fill="#54137d"/><rect x="212.30" y="53.84" width="10.9" height="2.52" fill="#5c167f"/><rect x="212.30" y="56.06" width="10.9" height="2.52" fill="#651a80"/><rect x="212.30" y="58.28" width="10.9" height="2.52" fill="#6d1d81"/><rect x="212.30" y="60.50" width="10.9" height="2.52" fill="#762181"/><rect x="212.30" y="62.72" width="10.9" height="2.52" fill="#7e2482"/><rect x="212.30" y="64.94" width="10.9" height="2.52" fill="#862781"/><rect x="212.30" y="67.16" width="10.9" height="2.52" fill="#902a81"/><rect x="212.30" y="69.38" width="10.9" height="2.52" fill="#982d80"/><rect x="212.30" y="71.59" width="10.9" height="2.52" fill="#a02f7f"/><rect x="212.30" y="73.81" width="10.9" height="2.52" fill="#aa337d"/><rect x="212.30" y="76.03" width="10.9" height="2.52" fill="#b2357b"/><rect x="212.30" y="78.25" width="10.9" height="2.52" fill="#ba3878"/><rect x="212.30" y="80.47" width="10.9" height="2.52" fill="#c43c75"/><rect x="212.30" y="82.69" width="10.9" height="2.52" fill="#cc3f71"/><rect x="212.30" y="84.91" width="10.9" height="2.52" fill="#d3436e"/><rect x="212.30" y="87.12" width="10.9" height="2.52" fill="#dc4869"/><rect x="212.30" y="89.34" width="10.9" height="2.52" fill="#e34e65"/><rect x="212.30" y="91.56" width="10.9" height="2.52" fill="#e95462"/><rect x="212.30" y="93.78" width="10.9" height="2.52" fill="#ef5d5e"/><rect x="212.30" y="96.00" width="10.9" height="2.52" fill="#f3655c"/><rect x="212.30" y="98.22" width="10.9" height="2.52" fill="#f66e5c"/><rect x="212.30" y="100.44" width="10.9" height="2.52" fill="#f9795d"/><rect x="212.30" y="102.66" width="10.9" height="2.52" fill="#fb835f"/><rect x="212.30" y="104.88" width="10.9" height="2.52" fill="#fc8c63"/><rect x="212.30" y="107.09" width="10.9" height="2.52" fill="#fd9869"/><rect x="212.30" y="109.31" width="10.9" height="2.52" fill="#fea16e"/><rect x="212.30" y="111.53" width="10.9" height="2.52" fill="#feaa74"/><rect x="212.30" y="113.75" width="10.9" height="2.52" fill="#feb67c"/><rect x="212.30" y="115.97" width="10.9" height="2.52" fill="#febf84"/><rect x="212.30" y="118.19" width="10.9" height="2.52" fill="#fec88c"/><rect x="212.30" y="120.41" width="10.9" height="2.52" fill="#fed395"/><rect x="212.30" y="122.62" width="10.9" height="2.52" fill="#fddc9e"/><rect x="212.30" y="124.84" width="10.9" height="2.52" fill="#fde5a7"/><rect x="212.30" y="127.06" width="10.9" height="2.52" fill="#fceeb0"/><rect x="212.30" y="129.28" width="10.9" height="2.52" fill="#fcf9bb"/></g>
<text x="228.90" y="27.90" font-size="8" fill="#000">1.1</text>
<text x="228.90" y="45.65" font-size="8" fill="#000">0.90</text>
<text x="228.90" y="63.40" font-size="8" fill="#000">0.70</text>
<text x="228.90" y="81.15" font-size="8" fill="#000">0.50</text>
<text x="228.90" y="98.90" font-size="8" fill="#000">0.30</text>
<text x="228.90" y="116.65" font-size="8" fill="#000">0.10</text>
<text x="228.90" y="134.40" font-size="8" fill="#000">−0.10</text>
<path d="M223.20 25.00h2.6M223.20 33.88h1.5M223.20 42.75h2.6M223.20 51.62h1.5M223.20 60.50h2.6M223.20 69.38h1.5M223.20 78.25h2.6M223.20 87.12h1.5M223.20 96.00h2.6M223.20 104.88h1.5M223.20 113.75h2.6M223.20 122.62h1.5M223.20 131.50h2.6" stroke="#555" stroke-width="0.7" fill="none"/>
<text x="231.10" y="7.90" font-size="8" text-anchor="middle" fill="#000">Normalized</text>
<text x="230.50" y="17.90" font-size="8" text-anchor="middle" fill="#000">echo amplitude</text>
<text x="47.00" y="17.00" font-size="7.3" fill="#000">QD experiment,</text>
<text x="47.00" y="27.10" font-size="7.3" fill="#000"><tspan font-size="4.8" dy="-2.6">75</tspan><tspan dy="2.6">As</tspan>, CT −1/2↔+1/2,</text>
<text x="47.00" y="37.50" font-size="7.3" fill="#000"><tspan font-style="italic">T</tspan><tspan font-size="5" dy="1.4">Rf</tspan><tspan dy="-1.4"> = 20 µs</tspan></text>
<rect x="310.60" y="2.60" width="122.30" height="121.90" fill="none" stroke="#7a7a7a" stroke-width="0.8"/>
<text x="306.40" y="22.50" font-size="8" text-anchor="end" fill="#000">1×10<tspan font-size="5.6" dy="-3.2">0</tspan></text>
<text x="306.40" y="56.43" font-size="8" text-anchor="end" fill="#000">1×10<tspan font-size="5.6" dy="-3.2">−1</tspan></text>
<text x="306.40" y="90.36" font-size="8" text-anchor="end" fill="#000">1×10<tspan font-size="5.6" dy="-3.2">−2</tspan></text>
<text x="306.40" y="124.29" font-size="8" text-anchor="end" fill="#000">1×10<tspan font-size="5.6" dy="-3.2">−3</tspan></text>
<text x="311.00" y="137.10" font-size="8" text-anchor="middle" fill="#000">1×10<tspan font-size="5.6" dy="-3.2">−4</tspan></text>
<text x="344.93" y="137.10" font-size="8" text-anchor="middle" fill="#000">1×10<tspan font-size="5.6" dy="-3.2">−3</tspan></text>
<text x="378.86" y="137.10" font-size="8" text-anchor="middle" fill="#000">1×10<tspan font-size="5.6" dy="-3.2">−2</tspan></text>
<text x="412.79" y="137.10" font-size="8" text-anchor="middle" fill="#000">1×10<tspan font-size="5.6" dy="-3.2">−1</tspan></text>
<path d="M310.60 19.60h-2.8M310.60 53.53h-2.8M310.60 36.56h-1.7M310.60 87.46h-2.8M310.60 70.50h-1.7M310.60 121.39h-2.8M310.60 104.42h-1.7M310.60 36.56h-1.7M310.60 70.50h-1.7M310.60 104.43h-1.7M311.30 124.50v2.8M328.26 124.50v1.7M345.23 124.50v2.8M362.19 124.50v1.7M379.16 124.50v2.8M396.12 124.50v1.7M413.09 124.50v2.8M430.06 124.50v1.7" stroke="#555" stroke-width="0.8" fill="none"/>
<text x="293.80" y="8.00" font-size="9.3" font-weight="bold" fill="#000">b</text>
<text transform="translate(277.40 136.40) rotate(-90)" font-size="8.85" fill="#000">CHASE-40 cycle time,<tspan font-style="italic" x="95.5">T</tspan><tspan font-size="6.2" x="102.7" dy="1.9">Cycle</tspan><tspan x="120.9" dy="-1.9">(s)</tspan></text>
<text x="307.15" y="150.70" font-size="9.35" fill="#000">Total evolution time,<tspan font-style="italic" x="395.15">T</tspan><tspan font-size="6.45" x="401.15" dy="1.9">EvolTot</tspan><tspan x="426.15" dy="-1.9">(s)</tspan></text>
<g shape-rendering="crispEdges"><rect x="444.30" y="25.00" width="10.9" height="2.52" fill="#010106"/><rect x="444.30" y="27.22" width="10.9" height="2.52" fill="#030312"/><rect x="444.30" y="29.44" width="10.9" height="2.52" fill="#07061c"/><rect x="444.30" y="31.66" width="10.9" height="2.52" fill="#0c0926"/><rect x="444.30" y="33.88" width="10.9" height="2.52" fill="#130d34"/><rect x="444.30" y="36.09" width="10.9" height="2.52" fill="#19103f"/><rect x="444.30" y="38.31" width="10.9" height="2.52" fill="#20114b"/><rect x="444.30" y="40.53" width="10.9" height="2.52" fill="#29115a"/><rect x="444.30" y="42.75" width="10.9" height="2.52" fill="#311165"/><rect x="444.30" y="44.97" width="10.9" height="2.52" fill="#390f6e"/><rect x="444.30" y="47.19" width="10.9" height="2.52" fill="#420f75"/><rect x="444.30" y="49.41" width="10.9" height="2.52" fill="#4c117a"/><rect x="444.30" y="51.62" width="10.9" height="2.52" fill="#54137d"/><rect x="444.30" y="53.84" width="10.9" height="2.52" fill="#5c167f"/><rect x="444.30" y="56.06" width="10.9" height="2.52" fill="#651a80"/><rect x="444.30" y="58.28" width="10.9" height="2.52" fill="#6d1d81"/><rect x="444.30" y="60.50" width="10.9" height="2.52" fill="#762181"/><rect x="444.30" y="62.72" width="10.9" height="2.52" fill="#7e2482"/><rect x="444.30" y="64.94" width="10.9" height="2.52" fill="#862781"/><rect x="444.30" y="67.16" width="10.9" height="2.52" fill="#902a81"/><rect x="444.30" y="69.38" width="10.9" height="2.52" fill="#982d80"/><rect x="444.30" y="71.59" width="10.9" height="2.52" fill="#a02f7f"/><rect x="444.30" y="73.81" width="10.9" height="2.52" fill="#aa337d"/><rect x="444.30" y="76.03" width="10.9" height="2.52" fill="#b2357b"/><rect x="444.30" y="78.25" width="10.9" height="2.52" fill="#ba3878"/><rect x="444.30" y="80.47" width="10.9" height="2.52" fill="#c43c75"/><rect x="444.30" y="82.69" width="10.9" height="2.52" fill="#cc3f71"/><rect x="444.30" y="84.91" width="10.9" height="2.52" fill="#d3436e"/><rect x="444.30" y="87.12" width="10.9" height="2.52" fill="#dc4869"/><rect x="444.30" y="89.34" width="10.9" height="2.52" fill="#e34e65"/><rect x="444.30" y="91.56" width="10.9" height="2.52" fill="#e95462"/><rect x="444.30" y="93.78" width="10.9" height="2.52" fill="#ef5d5e"/><rect x="444.30" y="96.00" width="10.9" height="2.52" fill="#f3655c"/><rect x="444.30" y="98.22" width="10.9" height="2.52" fill="#f66e5c"/><rect x="444.30" y="100.44" width="10.9" height="2.52" fill="#f9795d"/><rect x="444.30" y="102.66" width="10.9" height="2.52" fill="#fb835f"/><rect x="444.30" y="104.88" width="10.9" height="2.52" fill="#fc8c63"/><rect x="444.30" y="107.09" width="10.9" height="2.52" fill="#fd9869"/><rect x="444.30" y="109.31" width="10.9" height="2.52" fill="#fea16e"/><rect x="444.30" y="111.53" width="10.9" height="2.52" fill="#feaa74"/><rect x="444.30" y="113.75" width="10.9" height="2.52" fill="#feb67c"/><rect x="444.30" y="115.97" width="10.9" height="2.52" fill="#febf84"/><rect x="444.30" y="118.19" width="10.9" height="2.52" fill="#fec88c"/><rect x="444.30" y="120.41" width="10.9" height="2.52" fill="#fed395"/><rect x="444.30" y="122.62" width="10.9" height="2.52" fill="#fddc9e"/><rect x="444.30" y="124.84" width="10.9" height="2.52" fill="#fde5a7"/><rect x="444.30" y="127.06" width="10.9" height="2.52" fill="#fceeb0"/><rect x="444.30" y="129.28" width="10.9" height="2.52" fill="#fcf9bb"/></g>
<text x="460.90" y="27.90" font-size="8" fill="#000">1.1</text>
<text x="460.90" y="45.65" font-size="8" fill="#000">0.90</text>
<text x="460.90" y="63.40" font-size="8" fill="#000">0.70</text>
<text x="460.90" y="81.15" font-size="8" fill="#000">0.50</text>
<text x="460.90" y="98.90" font-size="8" fill="#000">0.30</text>
<text x="460.90" y="116.65" font-size="8" fill="#000">0.10</text>
<text x="460.90" y="134.40" font-size="8" fill="#000">−0.10</text>
<path d="M455.20 25.00h2.6M455.20 33.88h1.5M455.20 42.75h2.6M455.20 51.62h1.5M455.20 60.50h2.6M455.20 69.38h1.5M455.20 78.25h2.6M455.20 87.12h1.5M455.20 96.00h2.6M455.20 104.88h1.5M455.20 113.75h2.6M455.20 122.62h1.5M455.20 131.50h2.6" stroke="#555" stroke-width="0.7" fill="none"/>
<text x="463.10" y="7.90" font-size="8" text-anchor="middle" fill="#000">Normalized</text>
<text x="462.50" y="17.90" font-size="8" text-anchor="middle" fill="#000">echo amplitude</text>
<text x="323.20" y="17.00" font-size="7.3" fill="#000">QD experiment,</text>
<text x="323.20" y="27.10" font-size="7.3" fill="#000"><tspan font-size="4.8" dy="-2.6">75</tspan><tspan dy="2.6">As</tspan>, ST −3/2↔−1/2,</text>
<text x="323.20" y="37.50" font-size="7.3" fill="#000"><tspan font-style="italic">T</tspan><tspan font-size="5" dy="1.4">Rf</tspan><tspan dy="-1.4"> = 20 µs</tspan></text>
<rect x="39.40" y="163.70" width="160.40" height="121.90" fill="none" stroke="#7a7a7a" stroke-width="0.8"/>
<text x="35.20" y="183.60" font-size="8" text-anchor="end" fill="#000">1×10<tspan font-size="5.6" dy="-3.2">0</tspan></text>
<text x="35.20" y="217.53" font-size="8" text-anchor="end" fill="#000">1×10<tspan font-size="5.6" dy="-3.2">−1</tspan></text>
<text x="35.20" y="251.46" font-size="8" text-anchor="end" fill="#000">1×10<tspan font-size="5.6" dy="-3.2">−2</tspan></text>
<text x="35.20" y="285.39" font-size="8" text-anchor="end" fill="#000">1×10<tspan font-size="5.6" dy="-3.2">−3</tspan></text>
<text x="39.70" y="298.20" font-size="8" text-anchor="middle" fill="#000">1×10<tspan font-size="5.6" dy="-3.2">−4</tspan></text>
<text x="73.63" y="298.20" font-size="8" text-anchor="middle" fill="#000">1×10<tspan font-size="5.6" dy="-3.2">−3</tspan></text>
<text x="107.56" y="298.20" font-size="8" text-anchor="middle" fill="#000">1×10<tspan font-size="5.6" dy="-3.2">−2</tspan></text>
<text x="141.49" y="298.20" font-size="8" text-anchor="middle" fill="#000">1×10<tspan font-size="5.6" dy="-3.2">−1</tspan></text>
<text x="175.42" y="298.20" font-size="8" text-anchor="middle" fill="#000">1×10<tspan font-size="5.6" dy="-3.2">0</tspan></text>
<path d="M39.40 180.70h-2.8M39.40 214.63h-2.8M39.40 197.66h-1.7M39.40 248.56h-2.8M39.40 231.59h-1.7M39.40 282.49h-2.8M39.40 265.53h-1.7M39.40 197.66h-1.7M39.40 231.59h-1.7M39.40 265.52h-1.7M40.00 285.60v2.8M56.97 285.60v1.7M73.93 285.60v2.8M90.90 285.60v1.7M107.86 285.60v2.8M124.83 285.60v1.7M141.79 285.60v2.8M158.75 285.60v1.7M175.72 285.60v2.8M192.69 285.60v1.7" stroke="#555" stroke-width="0.8" fill="none"/>
<text x="23.20" y="168.40" font-size="9.3" font-weight="bold" fill="#000">c</text>
<text transform="translate(7.50 297.50) rotate(-90)" font-size="8.85" fill="#000">CHASE-40 cycle time,<tspan font-style="italic" x="95.5">T</tspan><tspan font-size="6.2" x="102.7" dy="1.9">Cycle</tspan><tspan x="120.9" dy="-1.9">(s)</tspan></text>
<text x="55.00" y="311.80" font-size="9.35" fill="#000">Total evolution time,<tspan font-style="italic" x="143.00">T</tspan><tspan font-size="6.45" x="149.00" dy="1.9">EvolTot</tspan><tspan x="174.00" dy="-1.9">(s)</tspan></text>
<g shape-rendering="crispEdges"><rect x="212.30" y="186.10" width="10.9" height="2.52" fill="#010106"/><rect x="212.30" y="188.32" width="10.9" height="2.52" fill="#030312"/><rect x="212.30" y="190.54" width="10.9" height="2.52" fill="#07061c"/><rect x="212.30" y="192.76" width="10.9" height="2.52" fill="#0c0926"/><rect x="212.30" y="194.97" width="10.9" height="2.52" fill="#130d34"/><rect x="212.30" y="197.19" width="10.9" height="2.52" fill="#19103f"/><rect x="212.30" y="199.41" width="10.9" height="2.52" fill="#20114b"/><rect x="212.30" y="201.63" width="10.9" height="2.52" fill="#29115a"/><rect x="212.30" y="203.85" width="10.9" height="2.52" fill="#311165"/><rect x="212.30" y="206.07" width="10.9" height="2.52" fill="#390f6e"/><rect x="212.30" y="208.29" width="10.9" height="2.52" fill="#420f75"/><rect x="212.30" y="210.51" width="10.9" height="2.52" fill="#4c117a"/><rect x="212.30" y="212.72" width="10.9" height="2.52" fill="#54137d"/><rect x="212.30" y="214.94" width="10.9" height="2.52" fill="#5c167f"/><rect x="212.30" y="217.16" width="10.9" height="2.52" fill="#651a80"/><rect x="212.30" y="219.38" width="10.9" height="2.52" fill="#6d1d81"/><rect x="212.30" y="221.60" width="10.9" height="2.52" fill="#762181"/><rect x="212.30" y="223.82" width="10.9" height="2.52" fill="#7e2482"/><rect x="212.30" y="226.04" width="10.9" height="2.52" fill="#862781"/><rect x="212.30" y="228.26" width="10.9" height="2.52" fill="#902a81"/><rect x="212.30" y="230.47" width="10.9" height="2.52" fill="#982d80"/><rect x="212.30" y="232.69" width="10.9" height="2.52" fill="#a02f7f"/><rect x="212.30" y="234.91" width="10.9" height="2.52" fill="#aa337d"/><rect x="212.30" y="237.13" width="10.9" height="2.52" fill="#b2357b"/><rect x="212.30" y="239.35" width="10.9" height="2.52" fill="#ba3878"/><rect x="212.30" y="241.57" width="10.9" height="2.52" fill="#c43c75"/><rect x="212.30" y="243.79" width="10.9" height="2.52" fill="#cc3f71"/><rect x="212.30" y="246.01" width="10.9" height="2.52" fill="#d3436e"/><rect x="212.30" y="248.23" width="10.9" height="2.52" fill="#dc4869"/><rect x="212.30" y="250.44" width="10.9" height="2.52" fill="#e34e65"/><rect x="212.30" y="252.66" width="10.9" height="2.52" fill="#e95462"/><rect x="212.30" y="254.88" width="10.9" height="2.52" fill="#ef5d5e"/><rect x="212.30" y="257.10" width="10.9" height="2.52" fill="#f3655c"/><rect x="212.30" y="259.32" width="10.9" height="2.52" fill="#f66e5c"/><rect x="212.30" y="261.54" width="10.9" height="2.52" fill="#f9795d"/><rect x="212.30" y="263.76" width="10.9" height="2.52" fill="#fb835f"/><rect x="212.30" y="265.98" width="10.9" height="2.52" fill="#fc8c63"/><rect x="212.30" y="268.19" width="10.9" height="2.52" fill="#fd9869"/><rect x="212.30" y="270.41" width="10.9" height="2.52" fill="#fea16e"/><rect x="212.30" y="272.63" width="10.9" height="2.52" fill="#feaa74"/><rect x="212.30" y="274.85" width="10.9" height="2.52" fill="#feb67c"/><rect x="212.30" y="277.07" width="10.9" height="2.52" fill="#febf84"/><rect x="212.30" y="279.29" width="10.9" height="2.52" fill="#fec88c"/><rect x="212.30" y="281.51" width="10.9" height="2.52" fill="#fed395"/><rect x="212.30" y="283.73" width="10.9" height="2.52" fill="#fddc9e"/><rect x="212.30" y="285.94" width="10.9" height="2.52" fill="#fde5a7"/><rect x="212.30" y="288.16" width="10.9" height="2.52" fill="#fceeb0"/><rect x="212.30" y="290.38" width="10.9" height="2.52" fill="#fcf9bb"/></g>
<text x="228.90" y="189.00" font-size="8" fill="#000">1.1</text>
<text x="228.90" y="206.75" font-size="8" fill="#000">0.90</text>
<text x="228.90" y="224.50" font-size="8" fill="#000">0.70</text>
<text x="228.90" y="242.25" font-size="8" fill="#000">0.50</text>
<text x="228.90" y="260.00" font-size="8" fill="#000">0.30</text>
<text x="228.90" y="277.75" font-size="8" fill="#000">0.10</text>
<text x="228.90" y="295.50" font-size="8" fill="#000">−0.10</text>
<path d="M223.20 186.10h2.6M223.20 194.97h1.5M223.20 203.85h2.6M223.20 212.72h1.5M223.20 221.60h2.6M223.20 230.47h1.5M223.20 239.35h2.6M223.20 248.23h1.5M223.20 257.10h2.6M223.20 265.98h1.5M223.20 274.85h2.6M223.20 283.73h1.5M223.20 292.60h2.6" stroke="#555" stroke-width="0.7" fill="none"/>
<text x="231.10" y="169.00" font-size="8" text-anchor="middle" fill="#000">Normalized</text>
<text x="230.50" y="179.00" font-size="8" text-anchor="middle" fill="#000">echo amplitude</text>
<text x="44.30" y="182.60" font-size="7.3" fill="#000">Numerical model,</text>
<text x="44.30" y="192.20" font-size="7.3" fill="#000"><tspan font-style="italic">N</tspan> = 12 spins,</text>
<text x="44.30" y="201.80" font-size="7.3" fill="#000">homogneous</text>
<rect x="310.60" y="163.70" width="122.30" height="121.90" fill="none" stroke="#7a7a7a" stroke-width="0.8"/>
<text x="306.40" y="183.60" font-size="8" text-anchor="end" fill="#000">1×10<tspan font-size="5.6" dy="-3.2">0</tspan></text>
<text x="306.40" y="217.53" font-size="8" text-anchor="end" fill="#000">1×10<tspan font-size="5.6" dy="-3.2">−1</tspan></text>
<text x="306.40" y="251.46" font-size="8" text-anchor="end" fill="#000">1×10<tspan font-size="5.6" dy="-3.2">−2</tspan></text>
<text x="306.40" y="285.39" font-size="8" text-anchor="end" fill="#000">1×10<tspan font-size="5.6" dy="-3.2">−3</tspan></text>
<text x="311.00" y="298.20" font-size="8" text-anchor="middle" fill="#000">1×10<tspan font-size="5.6" dy="-3.2">−4</tspan></text>
<text x="344.93" y="298.20" font-size="8" text-anchor="middle" fill="#000">1×10<tspan font-size="5.6" dy="-3.2">−3</tspan></text>
<text x="378.86" y="298.20" font-size="8" text-anchor="middle" fill="#000">1×10<tspan font-size="5.6" dy="-3.2">−2</tspan></text>
<text x="412.79" y="298.20" font-size="8" text-anchor="middle" fill="#000">1×10<tspan font-size="5.6" dy="-3.2">−1</tspan></text>
<path d="M310.60 180.70h-2.8M310.60 214.63h-2.8M310.60 197.66h-1.7M310.60 248.56h-2.8M310.60 231.59h-1.7M310.60 282.49h-2.8M310.60 265.53h-1.7M310.60 197.66h-1.7M310.60 231.59h-1.7M310.60 265.52h-1.7M311.30 285.60v2.8M328.26 285.60v1.7M345.23 285.60v2.8M362.19 285.60v1.7M379.16 285.60v2.8M396.12 285.60v1.7M413.09 285.60v2.8M430.06 285.60v1.7" stroke="#555" stroke-width="0.8" fill="none"/>
<text x="293.60" y="168.40" font-size="9.3" font-weight="bold" fill="#000">d</text>
<text transform="translate(277.40 297.50) rotate(-90)" font-size="8.85" fill="#000">CHASE-40 cycle time,<tspan font-style="italic" x="95.5">T</tspan><tspan font-size="6.2" x="102.7" dy="1.9">Cycle</tspan><tspan x="120.9" dy="-1.9">(s)</tspan></text>
<text x="307.15" y="311.80" font-size="9.35" fill="#000">Total evolution time,<tspan font-style="italic" x="395.15">T</tspan><tspan font-size="6.45" x="401.15" dy="1.9">EvolTot</tspan><tspan x="426.15" dy="-1.9">(s)</tspan></text>
<g shape-rendering="crispEdges"><rect x="444.30" y="186.10" width="10.9" height="2.52" fill="#010106"/><rect x="444.30" y="188.32" width="10.9" height="2.52" fill="#030312"/><rect x="444.30" y="190.54" width="10.9" height="2.52" fill="#07061c"/><rect x="444.30" y="192.76" width="10.9" height="2.52" fill="#0c0926"/><rect x="444.30" y="194.97" width="10.9" height="2.52" fill="#130d34"/><rect x="444.30" y="197.19" width="10.9" height="2.52" fill="#19103f"/><rect x="444.30" y="199.41" width="10.9" height="2.52" fill="#20114b"/><rect x="444.30" y="201.63" width="10.9" height="2.52" fill="#29115a"/><rect x="444.30" y="203.85" width="10.9" height="2.52" fill="#311165"/><rect x="444.30" y="206.07" width="10.9" height="2.52" fill="#390f6e"/><rect x="444.30" y="208.29" width="10.9" height="2.52" fill="#420f75"/><rect x="444.30" y="210.51" width="10.9" height="2.52" fill="#4c117a"/><rect x="444.30" y="212.72" width="10.9" height="2.52" fill="#54137d"/><rect x="444.30" y="214.94" width="10.9" height="2.52" fill="#5c167f"/><rect x="444.30" y="217.16" width="10.9" height="2.52" fill="#651a80"/><rect x="444.30" y="219.38" width="10.9" height="2.52" fill="#6d1d81"/><rect x="444.30" y="221.60" width="10.9" height="2.52" fill="#762181"/><rect x="444.30" y="223.82" width="10.9" height="2.52" fill="#7e2482"/><rect x="444.30" y="226.04" width="10.9" height="2.52" fill="#862781"/><rect x="444.30" y="228.26" width="10.9" height="2.52" fill="#902a81"/><rect x="444.30" y="230.47" width="10.9" height="2.52" fill="#982d80"/><rect x="444.30" y="232.69" width="10.9" height="2.52" fill="#a02f7f"/><rect x="444.30" y="234.91" width="10.9" height="2.52" fill="#aa337d"/><rect x="444.30" y="237.13" width="10.9" height="2.52" fill="#b2357b"/><rect x="444.30" y="239.35" width="10.9" height="2.52" fill="#ba3878"/><rect x="444.30" y="241.57" width="10.9" height="2.52" fill="#c43c75"/><rect x="444.30" y="243.79" width="10.9" height="2.52" fill="#cc3f71"/><rect x="444.30" y="246.01" width="10.9" height="2.52" fill="#d3436e"/><rect x="444.30" y="248.23" width="10.9" height="2.52" fill="#dc4869"/><rect x="444.30" y="250.44" width="10.9" height="2.52" fill="#e34e65"/><rect x="444.30" y="252.66" width="10.9" height="2.52" fill="#e95462"/><rect x="444.30" y="254.88" width="10.9" height="2.52" fill="#ef5d5e"/><rect x="444.30" y="257.10" width="10.9" height="2.52" fill="#f3655c"/><rect x="444.30" y="259.32" width="10.9" height="2.52" fill="#f66e5c"/><rect x="444.30" y="261.54" width="10.9" height="2.52" fill="#f9795d"/><rect x="444.30" y="263.76" width="10.9" height="2.52" fill="#fb835f"/><rect x="444.30" y="265.98" width="10.9" height="2.52" fill="#fc8c63"/><rect x="444.30" y="268.19" width="10.9" height="2.52" fill="#fd9869"/><rect x="444.30" y="270.41" width="10.9" height="2.52" fill="#fea16e"/><rect x="444.30" y="272.63" width="10.9" height="2.52" fill="#feaa74"/><rect x="444.30" y="274.85" width="10.9" height="2.52" fill="#feb67c"/><rect x="444.30" y="277.07" width="10.9" height="2.52" fill="#febf84"/><rect x="444.30" y="279.29" width="10.9" height="2.52" fill="#fec88c"/><rect x="444.30" y="281.51" width="10.9" height="2.52" fill="#fed395"/><rect x="444.30" y="283.73" width="10.9" height="2.52" fill="#fddc9e"/><rect x="444.30" y="285.94" width="10.9" height="2.52" fill="#fde5a7"/><rect x="444.30" y="288.16" width="10.9" height="2.52" fill="#fceeb0"/><rect x="444.30" y="290.38" width="10.9" height="2.52" fill="#fcf9bb"/></g>
<text x="460.90" y="189.00" font-size="8" fill="#000">1.1</text>
<text x="460.90" y="206.75" font-size="8" fill="#000">0.90</text>
<text x="460.90" y="224.50" font-size="8" fill="#000">0.70</text>
<text x="460.90" y="242.25" font-size="8" fill="#000">0.50</text>
<text x="460.90" y="260.00" font-size="8" fill="#000">0.30</text>
<text x="460.90" y="277.75" font-size="8" fill="#000">0.10</text>
<text x="460.90" y="295.50" font-size="8" fill="#000">−0.10</text>
<path d="M455.20 186.10h2.6M455.20 194.97h1.5M455.20 203.85h2.6M455.20 212.72h1.5M455.20 221.60h2.6M455.20 230.47h1.5M455.20 239.35h2.6M455.20 248.23h1.5M455.20 257.10h2.6M455.20 265.98h1.5M455.20 274.85h2.6M455.20 283.73h1.5M455.20 292.60h2.6" stroke="#555" stroke-width="0.7" fill="none"/>
<text x="463.10" y="169.00" font-size="8" text-anchor="middle" fill="#000">Normalized</text>
<text x="462.50" y="179.00" font-size="8" text-anchor="middle" fill="#000">echo amplitude</text>
<text x="316.20" y="182.60" font-size="7.3" fill="#000">Numerical model,</text>
<text x="316.20" y="192.20" font-size="7.3" fill="#000"><tspan font-style="italic">N</tspan> = 12 spins,</text>
<text x="316.20" y="201.80" font-size="7.3" fill="#000">inhomogeneous</text>
<path d="M65.2 54.1L53.3 65.7L63.2 74.6" fill="none" stroke="#111" stroke-width="0.9"/>
<path d="M66.6 52.7L62.6 54.6L64.7 56.7z M64.6 75.9L60.7 74.1L62.9 72.0z" fill="#111"/>
<text x="66.4" y="55.7" font-size="8.2" fill="#000"><tspan font-style="italic">T</tspan><tspan font-size="5.6" dy="2.0">FreeEvol</tspan></text>
<text x="56.3" y="80.8" font-size="8.2" fill="#000"><tspan font-style="italic">n</tspan><tspan font-size="5.6" dy="2.6">Cycles</tspan></text>
<clipPath id="ce"><rect x="535.9" y="3.0" width="148.3" height="282.3"/></clipPath>
<g clip-path="url(#ce)" fill="none" stroke-linejoin="round">
<path d="M539.5 130.0L541.3 127.9L543.6 124.9L546.5 121.4L549.6 117.6L552.9 113.6L556.1 109.7L559.1 106.1L561.7 103.0L564.0 100.4L566.1 98.0L568.1 95.8L570.0 93.8L571.9 91.8L573.8 89.8L575.7 87.8L577.6 85.6L579.6 83.3L581.7 80.9L583.7 78.4L585.8 76.0L587.8 73.5L589.8 71.1L591.7 68.7L593.5 66.5L595.3 64.3L597.1 62.1L598.8 59.9L600.5 57.8L602.1 55.8L603.6 53.9L605.0 52.1L606.2 50.6L607.3 49.3L608.1 48.1L608.9 47.2L609.6 46.3L610.2 45.6L610.7 44.9L611.3 44.2L612.0 43.5L612.7 42.8L613.4 42.0L614.0 41.3L614.7 40.6L615.3 40.0L616.0 39.5L616.6 39.1L617.3 38.9L618.0 38.8L618.6 38.9L619.2 39.0L619.9 39.3L620.5 39.6L621.2 40.0L621.8 40.5L622.5 41.0L623.2 41.5L623.8 42.0L624.4 42.5L625.0 43.1L625.7 43.8L626.4 44.8L627.3 46.0L628.4 47.5L629.6 49.3L631.0 51.4L632.5 53.7L634.1 56.2L635.8 58.9L637.5 61.8L639.3 64.9L641.1 68.1L643.0 71.6L644.9 75.3L647.0 79.3L649.1 83.4L651.1 87.7L653.2 91.8L655.1 95.9L657.0 99.8L658.7 103.4L660.4 106.8L661.9 110.0L663.4 113.2L665.0 116.5L666.5 120.1L668.1 124.0L669.7 128.4L671.5 133.6L673.5 139.8L675.6 146.4L677.6 153.2L679.6 159.8L681.4 165.8L682.9 170.8L684.0 174.5" stroke="#1f1fff" stroke-width="1.6" stroke-dasharray="0.1 2.75" stroke-linecap="round"/>
<path d="M540.5 137.1L540.9 136.3L541.5 135.2L542.1 133.9L542.8 132.5L543.6 131.0L544.4 129.5L545.2 128.1L545.9 126.8L546.6 125.7L547.3 124.6L548.1 123.5L548.8 122.5L549.5 121.5L550.3 120.5L551.1 119.5L552.0 118.5L552.9 117.5L553.9 116.5L554.9 115.5L556.0 114.5L557.1 113.5L558.1 112.6L559.1 111.8L560.0 111.0L560.8 110.3L561.6 109.8L562.4 109.2L563.1 108.8L563.8 108.4L564.5 108.0L565.2 107.6L566.0 107.3L566.8 107.0L567.6 106.7L568.4 106.4L569.3 106.2L570.1 106.0L571.0 105.8L571.8 105.7L572.6 105.7L573.4 105.7L574.2 105.9L575.0 106.0L575.8 106.2L576.6 106.5L577.4 106.8L578.2 107.1L579.0 107.5L579.8 107.9L580.5 108.2L581.2 108.6L581.9 109.0L582.6 109.5L583.4 110.0L584.2 110.7L585.0 111.5L585.8 112.4L586.7 113.3L587.5 114.3L588.4 115.4L589.3 116.6L590.4 118.0L591.5 119.6L592.8 121.4L594.3 123.5L595.9 125.9L597.6 128.5L599.4 131.2L601.3 134.0L603.2 136.9L605.0 139.7L606.8 142.4L608.6 145.0L610.3 147.6L612.1 150.2L613.8 152.7L615.6 155.3L617.3 158.0L619.1 160.6L620.8 163.3L622.5 166.1L624.3 169.1L626.0 172.1L627.8 175.2L629.5 178.1L631.2 181.0L633.0 183.6L634.7 186.0L636.5 188.2L638.5 190.2L640.6 192.1L642.6 193.9L644.5 195.4L646.2 196.8L647.6 198.0L648.7 198.9" stroke="#1f1fff" stroke-width="1.3"/>
<path d="M540.5 132.6L541.1 132.2L541.8 131.7L542.7 131.2L543.8 130.5L544.8 129.8L545.9 129.2L547.0 128.5L548.0 128.0L549.0 127.5L549.9 127.0L550.9 126.6L551.9 126.1L552.9 125.7L553.9 125.3L554.9 124.9L556.0 124.6L557.1 124.3L558.2 124.0L559.3 123.7L560.5 123.4L561.6 123.2L562.8 123.0L563.9 122.8L565.0 122.6L566.1 122.4L567.2 122.3L568.3 122.2L569.3 122.1L570.4 122.0L571.5 122.0L572.5 122.0L573.6 122.1L574.6 122.2L575.7 122.4L576.7 122.6L577.7 122.8L578.7 123.1L579.7 123.5L580.8 123.9L582.0 124.5L583.2 125.1L584.5 125.8L585.7 126.5L587.0 127.3L588.4 128.2L589.8 129.2L591.3 130.5L592.8 131.9L594.4 133.6L596.1 135.5L597.8 137.6L599.6 139.9L601.4 142.2L603.2 144.6L605.0 147.0L606.8 149.3L608.6 151.6L610.3 153.9L612.1 156.3L613.8 158.7L615.6 161.1L617.3 163.5L619.1 166.0L620.8 168.5L622.5 171.1L624.3 173.7L626.0 176.4L627.8 179.1L629.5 181.7L631.2 184.4L633.0 187.0L634.7 189.5L636.4 191.8L638.0 193.9L639.6 195.9L641.3 197.8L642.9 199.9L644.7 202.2L646.6 204.8L648.7 207.9L651.0 211.6L653.6 215.8L656.3 220.4L659.1 225.1L661.9 230.0L664.7 234.6L667.3 239.0L669.6 242.8L671.8 246.3L674.0 249.7L676.1 252.9L678.1 255.8L679.9 258.5L681.6 260.9L682.9 262.9L684.0 264.5" stroke="#1f1fff" stroke-width="1.5" stroke-dasharray="4.6 3.0"/>
<path d="M540.5 144.8L541.1 144.9L541.8 145.0L542.7 145.2L543.6 145.4L544.7 145.6L545.8 145.8L546.9 146.1L548.0 146.5L549.1 146.9L550.3 147.4L551.6 148.0L552.9 148.5L554.2 149.2L555.5 149.8L556.7 150.4L557.9 151.1L559.0 151.8L560.0 152.4L561.0 153.1L562.0 153.8L562.9 154.6L563.9 155.3L564.9 156.2L566.0 157.0L567.1 157.9L568.3 158.9L569.5 159.9L570.7 160.9L571.9 161.9L573.1 163.0L574.3 164.0L575.4 165.0L576.5 166.0L577.6 166.9L578.7 167.9L579.7 168.8L580.8 169.8L581.9 170.7L582.9 171.6L584.0 172.5L585.1 173.4L586.2 174.3L587.4 175.2L588.5 176.0L589.6 176.8L590.7 177.6L591.8 178.3L592.8 179.0L593.8 179.6L594.7 180.1L595.6 180.5L596.5 180.9L597.4 181.3L598.3 181.6L599.1 182.0L600.0 182.3L600.8 182.6L601.6 182.9L602.4 183.1L603.2 183.3L604.0 183.5L604.9 183.7L605.8 184.0L606.8 184.2L607.9 184.5L609.1 184.7L610.4 185.0L611.7 185.2L613.0 185.5L614.3 185.8L615.7 186.0L617.0 186.3L618.3 186.6L619.6 186.8L621.0 187.1L622.3 187.3L623.7 187.6L625.0 187.8L626.4 188.1L627.7 188.4L629.0 188.7L630.3 189.0L631.6 189.3L632.9 189.7L634.1 190.0L635.4 190.3L636.7 190.7L638.0 191.0L639.4 191.4L640.9 191.8L642.5 192.2L644.0 192.6L645.5 193.0L646.8 193.4L647.9 193.7L648.7 193.9" stroke="#ff5555" stroke-width="2.1"/>
<g stroke="#ff2a2a" stroke-width="0.6" fill="none"><circle cx="540.5" cy="144.8" r="1"/><circle cx="541.8" cy="145.0" r="1"/><circle cx="543.1" cy="145.3" r="1"/><circle cx="544.3" cy="145.5" r="1"/><circle cx="545.6" cy="145.8" r="1"/><circle cx="546.9" cy="146.1" r="1"/><circle cx="548.1" cy="146.5" r="1"/><circle cx="549.3" cy="147.0" r="1"/><circle cx="550.5" cy="147.5" r="1"/><circle cx="551.7" cy="148.0" r="1"/><circle cx="552.9" cy="148.5" r="1"/><circle cx="554.1" cy="149.1" r="1"/><circle cx="555.2" cy="149.7" r="1"/><circle cx="556.4" cy="150.3" r="1"/><circle cx="557.5" cy="150.9" r="1"/><circle cx="558.6" cy="151.5" r="1"/><circle cx="559.7" cy="152.2" r="1"/><circle cx="560.8" cy="153.0" r="1"/><circle cx="561.9" cy="153.7" r="1"/><circle cx="562.9" cy="154.5" r="1"/><circle cx="563.9" cy="155.3" r="1"/><circle cx="564.9" cy="156.2" r="1"/><circle cx="566.0" cy="157.0" r="1"/><circle cx="567.0" cy="157.8" r="1"/><circle cx="568.0" cy="158.6" r="1"/><circle cx="569.0" cy="159.4" r="1"/><circle cx="570.0" cy="160.3" r="1"/><circle cx="570.9" cy="161.1" r="1"/><circle cx="571.9" cy="162.0" r="1"/><circle cx="572.9" cy="162.8" r="1"/><circle cx="573.9" cy="163.7" r="1"/><circle cx="574.9" cy="164.5" r="1"/><circle cx="575.8" cy="165.4" r="1"/><circle cx="576.8" cy="166.2" r="1"/><circle cx="577.8" cy="167.1" r="1"/><circle cx="578.8" cy="168.0" r="1"/><circle cx="579.7" cy="168.8" r="1"/><circle cx="580.7" cy="169.7" r="1"/><circle cx="581.7" cy="170.6" r="1"/><circle cx="582.7" cy="171.4" r="1"/><circle cx="583.7" cy="172.2" r="1"/><circle cx="584.7" cy="173.1" r="1"/><circle cx="585.7" cy="173.9" r="1"/><circle cx="586.7" cy="174.7" r="1"/><circle cx="587.8" cy="175.5" r="1"/><circle cx="588.8" cy="176.2" r="1"/><circle cx="589.8" cy="177.0" r="1"/><circle cx="590.9" cy="177.8" r="1"/><circle cx="592.0" cy="178.5" r="1"/><circle cx="593.1" cy="179.2" r="1"/><circle cx="594.2" cy="179.8" r="1"/><circle cx="595.4" cy="180.4" r="1"/><circle cx="596.6" cy="181.0" r="1"/><circle cx="597.8" cy="181.4" r="1"/><circle cx="599.0" cy="181.9" r="1"/><circle cx="600.2" cy="182.4" r="1"/><circle cx="601.4" cy="182.8" r="1"/><circle cx="602.7" cy="183.2" r="1"/><circle cx="603.9" cy="183.5" r="1"/><circle cx="605.2" cy="183.8" r="1"/><circle cx="606.4" cy="184.1" r="1"/><circle cx="607.7" cy="184.4" r="1"/><circle cx="609.0" cy="184.7" r="1"/><circle cx="610.3" cy="185.0" r="1"/><circle cx="611.5" cy="185.2" r="1"/><circle cx="612.8" cy="185.5" r="1"/><circle cx="614.1" cy="185.7" r="1"/><circle cx="615.4" cy="186.0" r="1"/><circle cx="616.6" cy="186.2" r="1"/><circle cx="617.9" cy="186.5" r="1"/><circle cx="619.2" cy="186.7" r="1"/><circle cx="620.5" cy="187.0" r="1"/><circle cx="621.7" cy="187.2" r="1"/><circle cx="623.0" cy="187.4" r="1"/><circle cx="624.3" cy="187.7" r="1"/><circle cx="625.6" cy="187.9" r="1"/><circle cx="626.8" cy="188.2" r="1"/><circle cx="628.1" cy="188.5" r="1"/><circle cx="629.4" cy="188.8" r="1"/><circle cx="630.6" cy="189.1" r="1"/><circle cx="631.9" cy="189.4" r="1"/><circle cx="633.2" cy="189.7" r="1"/><circle cx="634.4" cy="190.1" r="1"/><circle cx="635.7" cy="190.4" r="1"/><circle cx="636.9" cy="190.7" r="1"/><circle cx="638.2" cy="191.0" r="1"/><circle cx="639.4" cy="191.4" r="1"/><circle cx="640.7" cy="191.7" r="1"/><circle cx="642.0" cy="192.1" r="1"/><circle cx="643.2" cy="192.4" r="1"/><circle cx="644.5" cy="192.7" r="1"/><circle cx="645.7" cy="193.1" r="1"/><circle cx="647.0" cy="193.4" r="1"/><circle cx="648.2" cy="193.8" r="1"/></g>
<g stroke="#ff2a2a" stroke-width="1" fill="#ffd2d2"><circle cx="540.5" cy="139.9" r="0.95"/><circle cx="542.9" cy="140.3" r="0.95"/><circle cx="545.3" cy="140.8" r="0.95"/><circle cx="547.7" cy="141.4" r="0.95"/><circle cx="550.0" cy="142.2" r="0.95"/><circle cx="552.3" cy="143.2" r="0.95"/><circle cx="554.5" cy="144.2" r="0.95"/><circle cx="556.7" cy="145.2" r="0.95"/><circle cx="558.9" cy="146.3" r="0.95"/><circle cx="561.0" cy="147.5" r="0.95"/><circle cx="563.1" cy="148.8" r="0.95"/><circle cx="565.2" cy="150.0" r="0.95"/><circle cx="567.3" cy="151.3" r="0.95"/><circle cx="569.4" cy="152.6" r="0.95"/><circle cx="571.5" cy="153.9" r="0.95"/><circle cx="573.6" cy="155.2" r="0.95"/><circle cx="575.7" cy="156.5" r="0.95"/><circle cx="577.7" cy="157.8" r="0.95"/><circle cx="579.8" cy="159.2" r="0.95"/><circle cx="581.8" cy="160.5" r="0.95"/><circle cx="583.9" cy="161.7" r="0.95"/><circle cx="586.0" cy="163.0" r="0.95"/><circle cx="588.2" cy="164.1" r="0.95"/><circle cx="590.4" cy="165.2" r="0.95"/><circle cx="592.7" cy="166.1" r="0.95"/><circle cx="595.1" cy="166.7" r="0.95"/><circle cx="597.5" cy="167.1" r="0.95"/><circle cx="599.9" cy="167.4" r="0.95"/><circle cx="602.3" cy="167.7" r="0.95"/><circle cx="604.8" cy="168.0" r="0.95"/><circle cx="607.2" cy="168.1" r="0.95"/><circle cx="609.7" cy="168.2" r="0.95"/><circle cx="612.1" cy="168.3" r="0.95"/><circle cx="614.6" cy="168.5" r="0.95"/><circle cx="617.0" cy="168.6" r="0.95"/><circle cx="619.4" cy="168.8" r="0.95"/><circle cx="621.9" cy="168.9" r="0.95"/><circle cx="624.3" cy="168.9" r="0.95"/><circle cx="626.8" cy="168.8" r="0.95"/><circle cx="629.2" cy="168.6" r="0.95"/><circle cx="631.7" cy="168.4" r="0.95"/><circle cx="634.1" cy="168.0" r="0.95"/><circle cx="636.5" cy="167.6" r="0.95"/><circle cx="638.9" cy="167.2" r="0.95"/><circle cx="641.3" cy="166.6" r="0.95"/><circle cx="643.7" cy="166.0" r="0.95"/><circle cx="646.0" cy="165.4" r="0.95"/><circle cx="648.4" cy="164.7" r="0.95"/><circle cx="650.8" cy="164.0" r="0.95"/><circle cx="653.1" cy="163.4" r="0.95"/><circle cx="655.5" cy="162.8" r="0.95"/><circle cx="657.9" cy="162.1" r="0.95"/><circle cx="660.2" cy="161.5" r="0.95"/><circle cx="662.6" cy="160.9" r="0.95"/><circle cx="665.0" cy="160.4" r="0.95"/><circle cx="667.4" cy="160.0" r="0.95"/><circle cx="669.8" cy="159.6" r="0.95"/><circle cx="672.3" cy="159.3" r="0.95"/><circle cx="674.7" cy="159.0" r="0.95"/><circle cx="677.1" cy="158.8" r="0.95"/><circle cx="679.6" cy="158.8" r="0.95"/><circle cx="682.0" cy="158.8" r="0.95"/><circle cx="684.5" cy="158.9" r="0.95"/></g>
<path d="M539.8 224.7L540.6 224.6L541.6 224.4L542.9 224.3L544.3 224.1L545.7 223.9L547.2 223.7L548.7 223.5L550.0 223.3L551.2 223.1L552.5 223.0L553.7 222.8L554.9 222.7L556.1 222.5L557.4 222.4L558.7 222.3L560.0 222.2L561.4 222.1L562.9 222.0L564.5 222.0L566.1 221.9L567.6 221.9L569.1 221.9L570.6 221.9L571.9 221.9L573.1 221.9L574.2 222.0L575.3 222.0L576.3 222.1L577.3 222.2L578.2 222.3L579.1 222.4L580.0 222.5L580.8 222.6L581.6 222.7L582.3 222.9L583.0 223.0L583.7 223.2L584.4 223.4L585.1 223.6L585.8 223.8L586.5 224.0L587.3 224.3L588.0 224.6L588.8 224.9L589.5 225.2L590.3 225.5L591.1 225.9L592.0 226.3L592.9 226.7L593.9 227.2L594.9 227.7L595.9 228.3L596.9 228.8L597.9 229.4L598.9 230.0L599.8 230.6L600.6 231.2L601.4 231.8L602.2 232.4L602.9 233.0L603.6 233.7L604.4 234.4L605.2 235.2L606.0 236.0L606.9 236.9L607.9 237.9L608.9 239.0L609.9 240.1L610.9 241.3L611.9 242.4L612.9 243.5L613.8 244.6L614.6 245.6L615.4 246.5L616.2 247.5L616.9 248.4L617.6 249.3L618.4 250.3L619.2 251.4L620.0 252.5L620.9 253.8L621.9 255.1L622.8 256.6L623.8 258.1L624.8 259.6L625.8 261.0L626.8 262.5L627.7 263.8L628.5 265.0L629.3 266.2L630.1 267.3L630.9 268.4L631.6 269.5L632.4 270.6L633.2 271.8L634.0 273.0L634.9 274.4L636.0 276.0L637.1 277.6L638.2 279.3L639.3 280.9L640.3 282.4L641.1 283.6L641.7 284.5" stroke="#ff2a2a" stroke-width="2.3" stroke-dasharray="4.6 3.2"/>
</g>
<rect x="535.90" y="3.00" width="148.30" height="282.30" fill="none" stroke="#1a1a1a" stroke-width="1"/>
<path d="M535.90 273.81h1.4M684.20 273.81h-1.4M535.90 263.40h1.4M684.20 263.40h-1.4M535.90 256.02h1.4M684.20 256.02h-1.4M535.90 250.29h1.4M684.20 250.29h-1.4M535.90 245.61h1.4M684.20 245.61h-1.4M535.90 241.65h1.4M684.20 241.65h-1.4M535.90 238.23h1.4M684.20 238.23h-1.4M535.90 235.20h1.4M684.20 235.20h-1.4M535.90 232.50h2.8M684.20 232.50h-2.8M535.90 214.71h1.4M684.20 214.71h-1.4M535.90 204.30h1.4M684.20 204.30h-1.4M535.90 196.92h1.4M684.20 196.92h-1.4M535.90 191.19h1.4M684.20 191.19h-1.4M535.90 186.51h1.4M684.20 186.51h-1.4M535.90 182.55h1.4M684.20 182.55h-1.4M535.90 179.13h1.4M684.20 179.13h-1.4M535.90 176.10h1.4M684.20 176.10h-1.4M535.90 173.40h2.8M684.20 173.40h-2.8M535.90 155.61h1.4M684.20 155.61h-1.4M535.90 145.20h1.4M684.20 145.20h-1.4M535.90 137.82h1.4M684.20 137.82h-1.4M535.90 132.09h1.4M684.20 132.09h-1.4M535.90 127.41h1.4M684.20 127.41h-1.4M535.90 123.45h1.4M684.20 123.45h-1.4M535.90 120.03h1.4M684.20 120.03h-1.4M535.90 117.00h1.4M684.20 117.00h-1.4M535.90 114.30h2.8M684.20 114.30h-2.8M535.90 96.51h1.4M684.20 96.51h-1.4M535.90 86.10h1.4M684.20 86.10h-1.4M535.90 78.72h1.4M684.20 78.72h-1.4M535.90 72.99h1.4M684.20 72.99h-1.4M535.90 68.31h1.4M684.20 68.31h-1.4M535.90 64.35h1.4M684.20 64.35h-1.4M535.90 60.93h1.4M684.20 60.93h-1.4M535.90 57.90h1.4M684.20 57.90h-1.4M535.90 55.20h2.8M684.20 55.20h-2.8M535.90 37.41h1.4M684.20 37.41h-1.4M535.90 27.00h1.4M684.20 27.00h-1.4M535.90 19.62h1.4M684.20 19.62h-1.4M535.90 13.89h1.4M684.20 13.89h-1.4M535.90 9.21h1.4M684.20 9.21h-1.4M535.90 5.25h1.4M684.20 5.25h-1.4M540.17 285.30v-1.4M540.17 3.00v1.4M544.52 285.30v-1.4M544.52 3.00v1.4M548.40 285.30v-2.8M548.40 3.00v2.8M573.96 285.30v-1.4M573.96 3.00v1.4M588.91 285.30v-1.4M588.91 3.00v1.4M599.51 285.30v-1.4M599.51 3.00v1.4M607.74 285.30v-1.4M607.74 3.00v1.4M614.47 285.30v-1.4M614.47 3.00v1.4M620.15 285.30v-1.4M620.15 3.00v1.4M625.07 285.30v-1.4M625.07 3.00v1.4M629.42 285.30v-1.4M629.42 3.00v1.4M633.30 285.30v-2.8M633.30 3.00v2.8M658.86 285.30v-1.4M658.86 3.00v1.4M673.81 285.30v-1.4M673.81 3.00v1.4" stroke="#1a1a1a" stroke-width="0.7" fill="none"/>
<text x="533.10" y="58.60" font-size="8" text-anchor="end" fill="#000">10<tspan font-size="5.6" dy="-3.2">0</tspan></text>
<text x="533.10" y="117.70" font-size="8" text-anchor="end" fill="#000">10<tspan font-size="5.6" dy="-3.2">−1</tspan></text>
<text x="533.10" y="176.80" font-size="8" text-anchor="end" fill="#000">10<tspan font-size="5.6" dy="-3.2">−2</tspan></text>
<text x="533.10" y="235.90" font-size="8" text-anchor="end" fill="#000">10<tspan font-size="5.6" dy="-3.2">−3</tspan></text>
<text x="548.90" y="297.10" font-size="8" text-anchor="middle" fill="#000">10<tspan font-size="5.6" dy="-3.2">−3</tspan></text>
<text x="633.80" y="297.10" font-size="8" text-anchor="middle" fill="#000">10<tspan font-size="5.6" dy="-3.2">−2</tspan></text>
<text x="522.3" y="7.7" font-size="9.3" font-weight="bold" fill="#000">e</text>
<text transform="translate(510.9 214.8) rotate(-90)" font-size="9" fill="#000">Nuclear spin memory time,<tspan font-style="italic" x="114.3">T</tspan><tspan font-size="6.4" x="121.6" dy="1.9">M</tspan><tspan x="130.4" dy="-1.9">(s)</tspan></text>
<text x="550.1" y="310.4" font-size="9.35" fill="#000">CHASE-40 cycle time,<tspan font-style="italic" x="648.4">T</tspan><tspan font-size="6.3" x="654.5" dy="2.0">Cycle</tspan><tspan x="672.5" dy="-2.0">(s)</tspan></text>
<rect x="538.1" y="6.3" width="95.5" height="31.8" fill="#fff" stroke="#777" stroke-width="0.7"/>
<text x="539.3" y="11.9" font-size="5.5" fill="#000">CT experiment &amp; homogeneous model</text>
<path d="M540 16.8H553.3" stroke="#1f1fff" stroke-width="1.3"/>
<path d="M540.2 24.8H553.3" stroke="#1f1fff" stroke-width="1.5" stroke-dasharray="0.1 3.0" stroke-linecap="round"/>
<path d="M540 33.9H553.3" stroke="#1f1fff" stroke-width="1.5" stroke-dasharray="4.4 3.2"/>
<text x="554.9" y="18.7" font-size="5.5" fill="#000">Measured <tspan font-style="italic">T</tspan><tspan font-size="3.8" dy="1.1">M</tspan></text>
<text x="554.9" y="26.7" font-size="5.5" fill="#000">Numerical model <tspan font-style="italic">T</tspan><tspan font-size="3.8" dy="1.1">M</tspan></text>
<text x="554.9" y="35.8" font-size="5.5" fill="#000">First-principle √(2/<tspan font-style="italic">M</tspan><tspan font-size="3.8" dy="1.1">2</tspan><tspan dy="-1.1">)</tspan></text>
<rect x="538.1" y="243.6" width="72.3" height="38.6" fill="#fff" stroke="#777" stroke-width="0.7"/>
<text x="539.3" y="249.1" font-size="5.5" fill="#000">ST experiment &amp;</text>
<text x="539.3" y="255.9" font-size="5.5" fill="#000">inhomogeneous model</text>
<path d="M540 261.3H553.6" stroke="#ff2a2a" stroke-width="2.0"/>
<path d="M540.2 269.4H551.2" stroke="#ff2a2a" stroke-width="2.0" stroke-dasharray="2.6 1.6"/>
<path d="M540 278.1H553.6" stroke="#ff2a2a" stroke-width="2.0" stroke-dasharray="4.6 4.4"/>
<text x="556.2" y="263.2" font-size="5.5" fill="#000">Measured <tspan font-style="italic">T</tspan><tspan font-size="3.8" dy="1.1">M</tspan></text>
<text x="556.2" y="271.3" font-size="5.5" fill="#000">Numerical model <tspan font-style="italic">T</tspan><tspan font-size="3.8" dy="1.1">M</tspan></text>
<text x="556.2" y="280.0" font-size="5.5" fill="#000">First-principle √(2/<tspan font-style="italic">M</tspan><tspan font-size="3.8" dy="1.1">2</tspan><tspan dy="-1.1">)</tspan></text>
</svg>
</body></html>
